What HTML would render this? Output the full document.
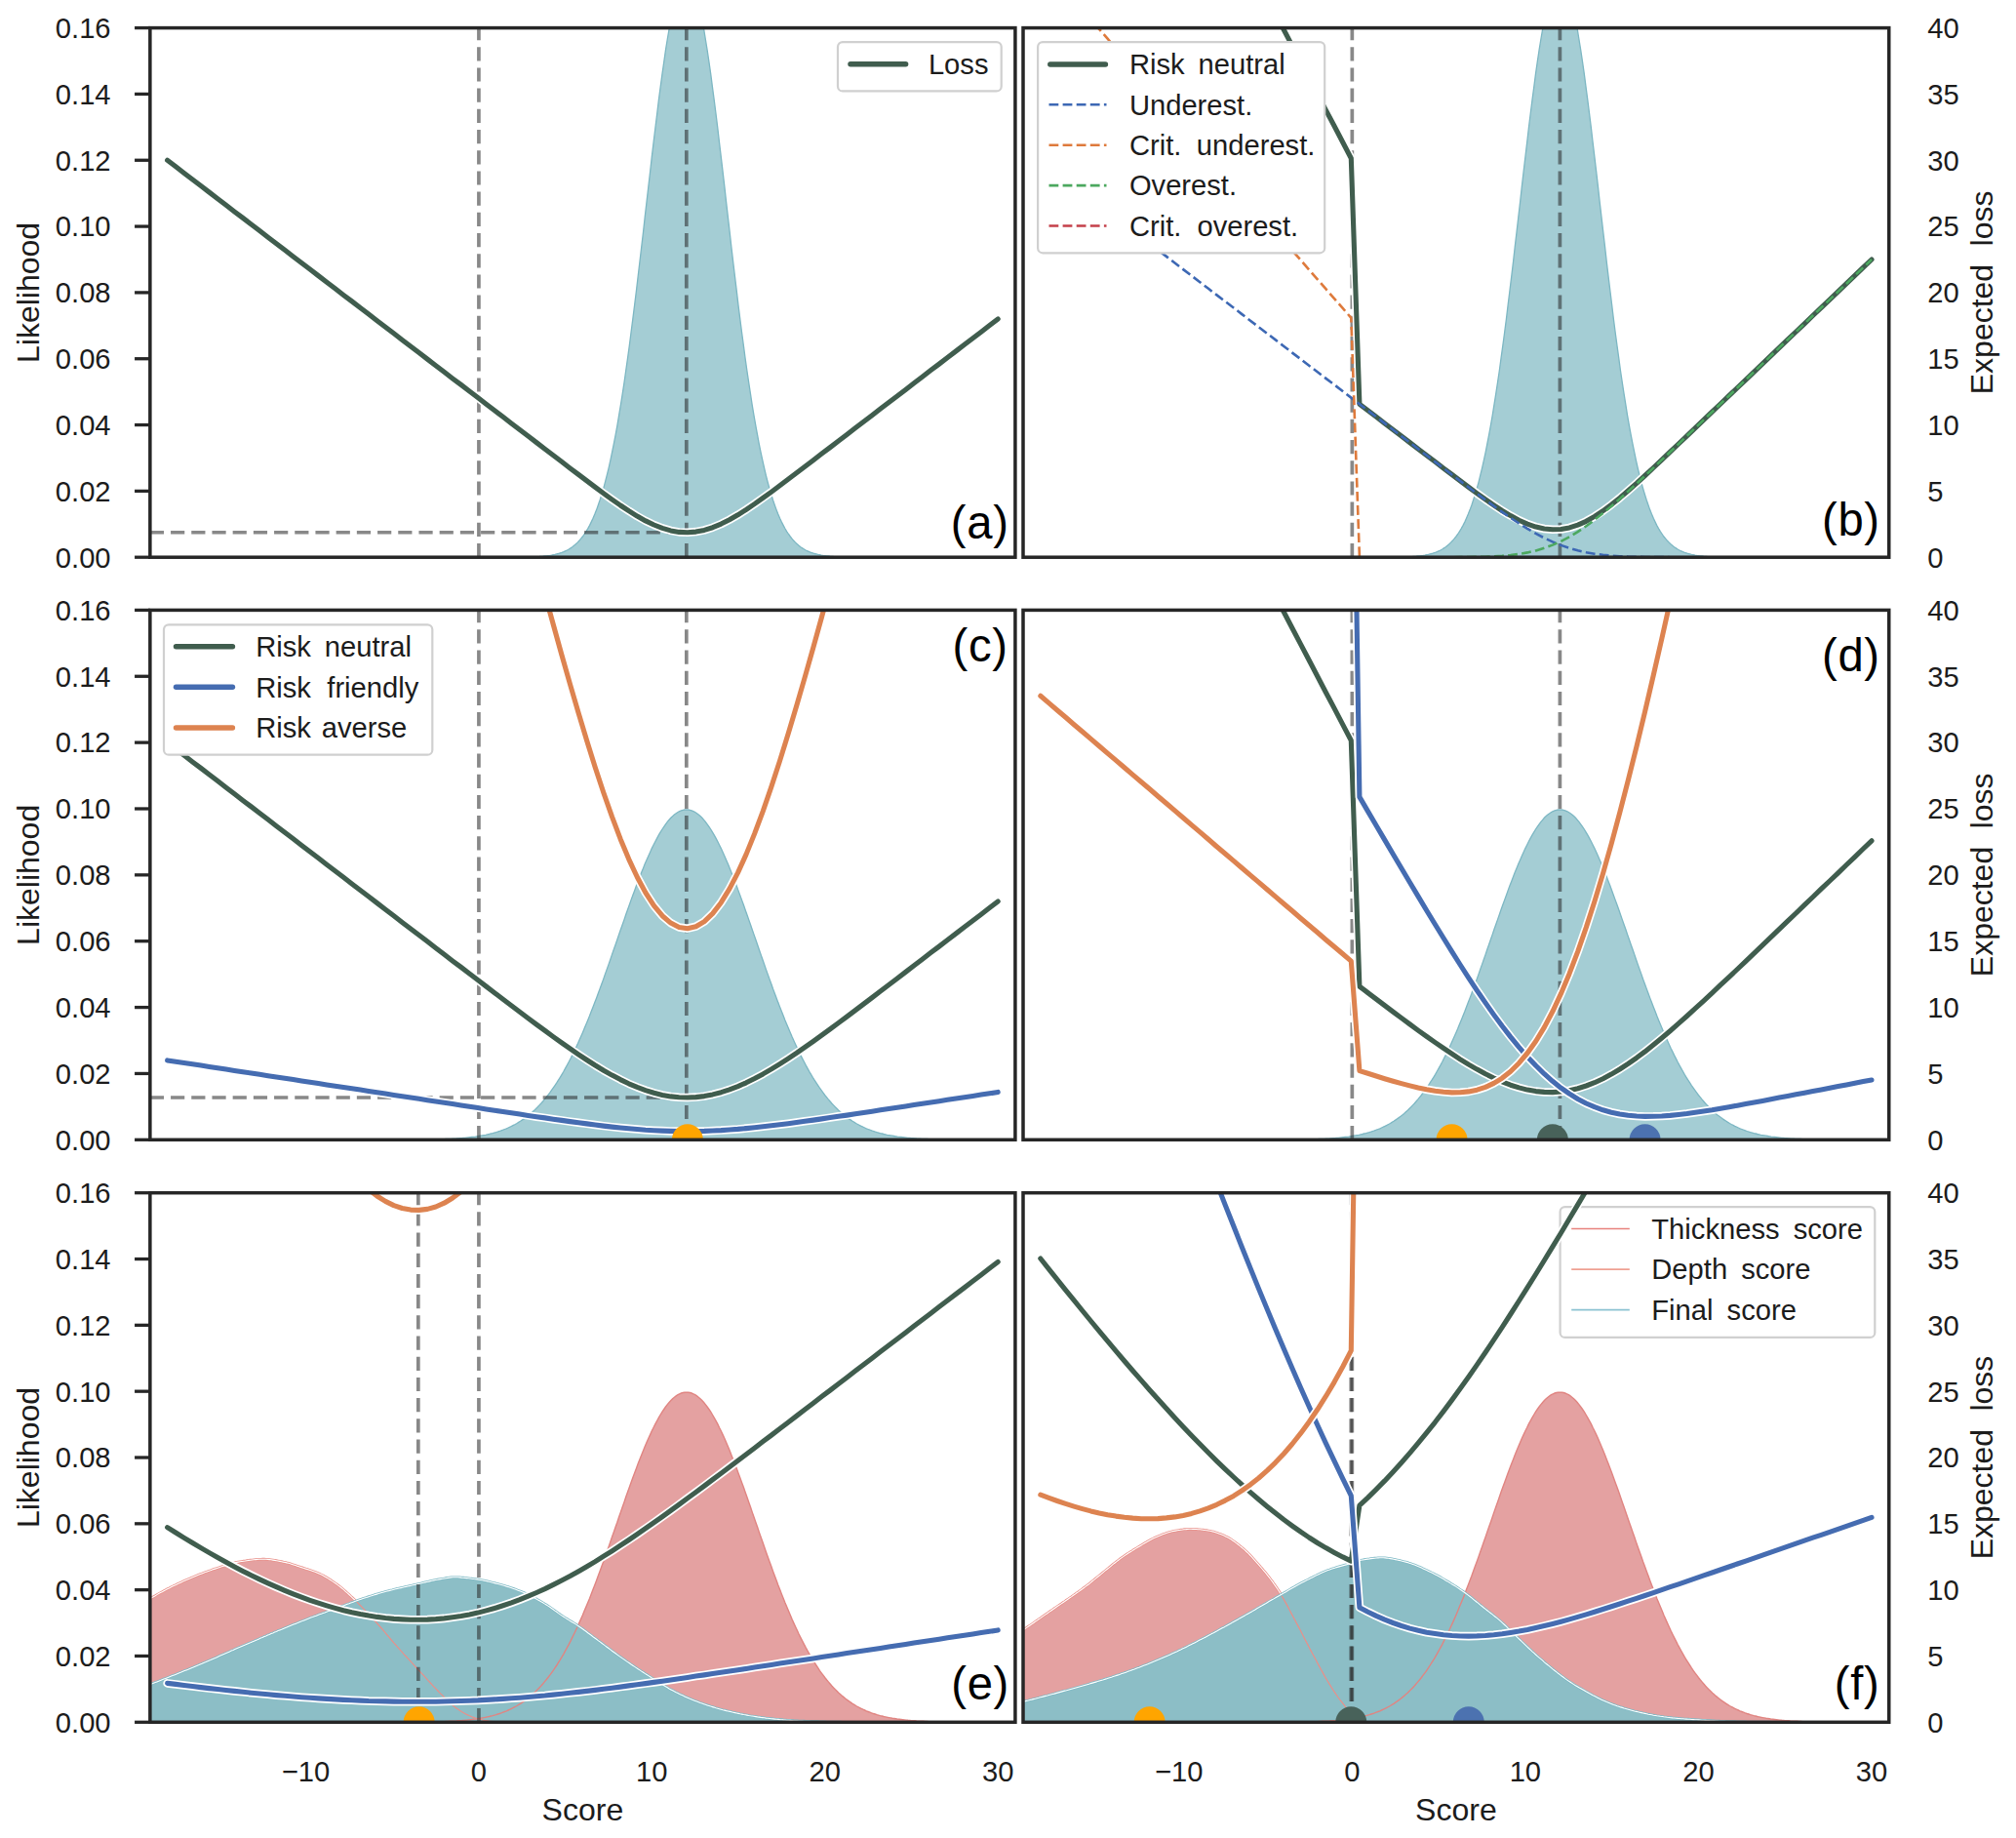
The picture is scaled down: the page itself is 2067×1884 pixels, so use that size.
<!DOCTYPE html>
<html lang="en"><head><meta charset="utf-8"><title>Expected loss figure</title><style>html,body{margin:0;padding:0;background:#fff}svg{display:block}</style></head><body>
<svg width="2067" height="1884" viewBox="0 0 2067 1884" font-family="'Liberation Sans', sans-serif" fill="#1c1c1c">
<rect width="2067" height="1884" fill="#fff"/>
<defs>
<clipPath id="cp00"><rect x="153.85" y="28.60" width="887.05" height="542.60"/></clipPath>
<clipPath id="cp01"><rect x="1049.00" y="28.60" width="887.75" height="542.60"/></clipPath>
<clipPath id="cp10"><rect x="153.85" y="625.40" width="887.05" height="542.90"/></clipPath>
<clipPath id="cp11"><rect x="1049.00" y="625.40" width="887.75" height="542.90"/></clipPath>
<clipPath id="cp20"><rect x="153.85" y="1222.70" width="887.05" height="542.60"/></clipPath>
<clipPath id="cp21"><rect x="1049.00" y="1222.70" width="887.75" height="542.60"/></clipPath>
</defs>
<path d="M153.8,571.2 L153.8,571.2 L155.6,571.2 L157.4,571.2 L159.2,571.2 L160.9,571.2 L162.7,571.2 L164.5,571.2 L166.3,571.2 L168.0,571.2 L169.8,571.2 L171.6,571.2 L173.4,571.2 L175.1,571.2 L176.9,571.2 L178.7,571.2 L180.5,571.2 L182.2,571.2 L184.0,571.2 L185.8,571.2 L187.6,571.2 L189.3,571.2 L191.1,571.2 L192.9,571.2 L194.7,571.2 L196.4,571.2 L198.2,571.2 L200.0,571.2 L201.8,571.2 L203.5,571.2 L205.3,571.2 L207.1,571.2 L208.8,571.2 L210.6,571.2 L212.4,571.2 L214.2,571.2 L215.9,571.2 L217.7,571.2 L219.5,571.2 L221.3,571.2 L223.0,571.2 L224.8,571.2 L226.6,571.2 L228.4,571.2 L230.1,571.2 L231.9,571.2 L233.7,571.2 L235.5,571.2 L237.2,571.2 L239.0,571.2 L240.8,571.2 L242.6,571.2 L244.3,571.2 L246.1,571.2 L247.9,571.2 L249.7,571.2 L251.4,571.2 L253.2,571.2 L255.0,571.2 L256.7,571.2 L258.5,571.2 L260.3,571.2 L262.1,571.2 L263.8,571.2 L265.6,571.2 L267.4,571.2 L269.2,571.2 L270.9,571.2 L272.7,571.2 L274.5,571.2 L276.3,571.2 L278.0,571.2 L279.8,571.2 L281.6,571.2 L283.4,571.2 L285.1,571.2 L286.9,571.2 L288.7,571.2 L290.5,571.2 L292.2,571.2 L294.0,571.2 L295.8,571.2 L297.6,571.2 L299.3,571.2 L301.1,571.2 L302.9,571.2 L304.6,571.2 L306.4,571.2 L308.2,571.2 L310.0,571.2 L311.7,571.2 L313.5,571.2 L315.3,571.2 L317.1,571.2 L318.8,571.2 L320.6,571.2 L322.4,571.2 L324.2,571.2 L325.9,571.2 L327.7,571.2 L329.5,571.2 L331.3,571.2 L333.0,571.2 L334.8,571.2 L336.6,571.2 L338.4,571.2 L340.1,571.2 L341.9,571.2 L343.7,571.2 L345.5,571.2 L347.2,571.2 L349.0,571.2 L350.8,571.2 L352.5,571.2 L354.3,571.2 L356.1,571.2 L357.9,571.2 L359.6,571.2 L361.4,571.2 L363.2,571.2 L365.0,571.2 L366.7,571.2 L368.5,571.2 L370.3,571.2 L372.1,571.2 L373.8,571.2 L375.6,571.2 L377.4,571.2 L379.2,571.2 L380.9,571.2 L382.7,571.2 L384.5,571.2 L386.3,571.2 L388.0,571.2 L389.8,571.2 L391.6,571.2 L393.4,571.2 L395.1,571.2 L396.9,571.2 L398.7,571.2 L400.4,571.2 L402.2,571.2 L404.0,571.2 L405.8,571.2 L407.5,571.2 L409.3,571.2 L411.1,571.2 L412.9,571.2 L414.6,571.2 L416.4,571.2 L418.2,571.2 L420.0,571.2 L421.7,571.2 L423.5,571.2 L425.3,571.2 L427.1,571.2 L428.8,571.2 L430.6,571.2 L432.4,571.2 L434.2,571.2 L435.9,571.2 L437.7,571.2 L439.5,571.2 L441.3,571.2 L443.0,571.2 L444.8,571.2 L446.6,571.2 L448.4,571.2 L450.1,571.2 L451.9,571.2 L453.7,571.2 L455.4,571.2 L457.2,571.2 L459.0,571.2 L460.8,571.2 L462.5,571.2 L464.3,571.2 L466.1,571.2 L467.9,571.2 L469.6,571.2 L471.4,571.2 L473.2,571.2 L475.0,571.2 L476.7,571.2 L478.5,571.2 L480.3,571.2 L482.1,571.2 L483.8,571.2 L485.6,571.2 L487.4,571.2 L489.2,571.2 L490.9,571.2 L492.7,571.2 L494.5,571.2 L496.3,571.2 L498.0,571.2 L499.8,571.2 L501.6,571.2 L503.3,571.2 L505.1,571.2 L506.9,571.2 L508.7,571.2 L510.4,571.2 L512.2,571.2 L514.0,571.2 L515.8,571.2 L517.5,571.2 L519.3,571.2 L521.1,571.2 L522.9,571.2 L524.6,571.2 L526.4,571.1 L528.2,571.1 L530.0,571.1 L531.7,571.1 L533.5,571.1 L535.3,571.1 L537.1,571.0 L538.8,571.0 L540.6,571.0 L542.4,570.9 L544.2,570.9 L545.9,570.8 L547.7,570.7 L549.5,570.7 L551.2,570.6 L553.0,570.5 L554.8,570.3 L556.6,570.2 L558.3,570.0 L560.1,569.8 L561.9,569.6 L563.7,569.4 L565.4,569.1 L567.2,568.7 L569.0,568.4 L570.8,567.9 L572.5,567.5 L574.3,566.9 L576.1,566.3 L577.9,565.6 L579.6,564.8 L581.4,564.0 L583.2,563.0 L585.0,561.9 L586.7,560.7 L588.5,559.3 L590.3,557.8 L592.1,556.1 L593.8,554.3 L595.6,552.2 L597.4,550.0 L599.1,547.5 L600.9,544.8 L602.7,541.8 L604.5,538.6 L606.2,535.1 L608.0,531.3 L609.8,527.1 L611.6,522.6 L613.3,517.7 L615.1,512.5 L616.9,506.8 L618.7,500.8 L620.4,494.3 L622.2,487.4 L624.0,480.1 L625.8,472.2 L627.5,463.9 L629.3,455.1 L631.1,445.9 L632.9,436.1 L634.6,425.9 L636.4,415.1 L638.2,403.9 L640.0,392.2 L641.7,380.0 L643.5,367.4 L645.3,354.4 L647.0,341.0 L648.8,327.1 L650.6,312.9 L652.4,298.4 L654.1,283.7 L655.9,268.6 L657.7,253.4 L659.5,238.1 L661.2,222.6 L663.0,207.1 L664.8,191.6 L666.6,176.2 L668.3,160.9 L670.1,145.8 L671.9,131.0 L673.7,116.5 L675.4,102.4 L677.2,88.8 L679.0,75.6 L680.8,63.1 L682.5,51.2 L684.3,40.0 L686.1,29.6 L687.9,20.0 L689.6,11.2 L691.4,3.4 L693.2,-3.5 L695.0,-9.4 L696.7,-14.2 L698.5,-18.0 L700.3,-20.8 L702.0,-22.4 L703.8,-22.9 L705.6,-22.4 L707.4,-20.8 L709.1,-18.0 L710.9,-14.2 L712.7,-9.4 L714.5,-3.5 L716.2,3.4 L718.0,11.2 L719.8,20.0 L721.6,29.6 L723.3,40.0 L725.1,51.2 L726.9,63.1 L728.7,75.6 L730.4,88.8 L732.2,102.4 L734.0,116.5 L735.8,131.0 L737.5,145.8 L739.3,160.9 L741.1,176.2 L742.9,191.6 L744.6,207.1 L746.4,222.6 L748.2,238.1 L749.9,253.4 L751.7,268.6 L753.5,283.7 L755.3,298.4 L757.0,312.9 L758.8,327.1 L760.6,341.0 L762.4,354.4 L764.1,367.4 L765.9,380.0 L767.7,392.2 L769.5,403.9 L771.2,415.1 L773.0,425.9 L774.8,436.1 L776.6,445.9 L778.3,455.1 L780.1,463.9 L781.9,472.2 L783.7,480.1 L785.4,487.4 L787.2,494.3 L789.0,500.8 L790.8,506.8 L792.5,512.5 L794.3,517.7 L796.1,522.6 L797.8,527.1 L799.6,531.3 L801.4,535.1 L803.2,538.6 L804.9,541.8 L806.7,544.8 L808.5,547.5 L810.3,550.0 L812.0,552.2 L813.8,554.3 L815.6,556.1 L817.4,557.8 L819.1,559.3 L820.9,560.7 L822.7,561.9 L824.5,563.0 L826.2,564.0 L828.0,564.8 L829.8,565.6 L831.6,566.3 L833.3,566.9 L835.1,567.5 L836.9,567.9 L838.7,568.4 L840.4,568.7 L842.2,569.1 L844.0,569.4 L845.7,569.6 L847.5,569.8 L849.3,570.0 L851.1,570.2 L852.8,570.3 L854.6,570.5 L856.4,570.6 L858.2,570.7 L859.9,570.7 L861.7,570.8 L863.5,570.9 L865.3,570.9 L867.0,571.0 L868.8,571.0 L870.6,571.0 L872.4,571.1 L874.1,571.1 L875.9,571.1 L877.7,571.1 L879.5,571.1 L881.2,571.1 L883.0,571.2 L884.8,571.2 L886.6,571.2 L888.3,571.2 L890.1,571.2 L891.9,571.2 L893.6,571.2 L895.4,571.2 L897.2,571.2 L899.0,571.2 L900.7,571.2 L902.5,571.2 L904.3,571.2 L906.1,571.2 L907.8,571.2 L909.6,571.2 L911.4,571.2 L913.2,571.2 L914.9,571.2 L916.7,571.2 L918.5,571.2 L920.3,571.2 L922.0,571.2 L923.8,571.2 L925.6,571.2 L927.4,571.2 L929.1,571.2 L930.9,571.2 L932.7,571.2 L934.5,571.2 L936.2,571.2 L938.0,571.2 L939.8,571.2 L941.6,571.2 L943.3,571.2 L945.1,571.2 L946.9,571.2 L948.6,571.2 L950.4,571.2 L952.2,571.2 L954.0,571.2 L955.7,571.2 L957.5,571.2 L959.3,571.2 L961.1,571.2 L962.8,571.2 L964.6,571.2 L966.4,571.2 L968.2,571.2 L969.9,571.2 L971.7,571.2 L973.5,571.2 L975.3,571.2 L977.0,571.2 L978.8,571.2 L980.6,571.2 L982.4,571.2 L984.1,571.2 L985.9,571.2 L987.7,571.2 L989.5,571.2 L991.2,571.2 L993.0,571.2 L994.8,571.2 L996.5,571.2 L998.3,571.2 L1000.1,571.2 L1001.9,571.2 L1003.6,571.2 L1005.4,571.2 L1007.2,571.2 L1009.0,571.2 L1010.7,571.2 L1012.5,571.2 L1014.3,571.2 L1016.1,571.2 L1017.8,571.2 L1019.6,571.2 L1021.4,571.2 L1023.2,571.2 L1024.9,571.2 L1026.7,571.2 L1028.5,571.2 L1030.3,571.2 L1032.0,571.2 L1033.8,571.2 L1035.6,571.2 L1037.4,571.2 L1039.1,571.2 L1040.9,571.2 L1040.9,571.2Z" fill="#a4cdd4" fill-opacity="1.00" stroke="none" clip-path="url(#cp00)"/>
<path d="M153.8,571.2 L155.6,571.2 L157.4,571.2 L159.2,571.2 L160.9,571.2 L162.7,571.2 L164.5,571.2 L166.3,571.2 L168.0,571.2 L169.8,571.2 L171.6,571.2 L173.4,571.2 L175.1,571.2 L176.9,571.2 L178.7,571.2 L180.5,571.2 L182.2,571.2 L184.0,571.2 L185.8,571.2 L187.6,571.2 L189.3,571.2 L191.1,571.2 L192.9,571.2 L194.7,571.2 L196.4,571.2 L198.2,571.2 L200.0,571.2 L201.8,571.2 L203.5,571.2 L205.3,571.2 L207.1,571.2 L208.8,571.2 L210.6,571.2 L212.4,571.2 L214.2,571.2 L215.9,571.2 L217.7,571.2 L219.5,571.2 L221.3,571.2 L223.0,571.2 L224.8,571.2 L226.6,571.2 L228.4,571.2 L230.1,571.2 L231.9,571.2 L233.7,571.2 L235.5,571.2 L237.2,571.2 L239.0,571.2 L240.8,571.2 L242.6,571.2 L244.3,571.2 L246.1,571.2 L247.9,571.2 L249.7,571.2 L251.4,571.2 L253.2,571.2 L255.0,571.2 L256.7,571.2 L258.5,571.2 L260.3,571.2 L262.1,571.2 L263.8,571.2 L265.6,571.2 L267.4,571.2 L269.2,571.2 L270.9,571.2 L272.7,571.2 L274.5,571.2 L276.3,571.2 L278.0,571.2 L279.8,571.2 L281.6,571.2 L283.4,571.2 L285.1,571.2 L286.9,571.2 L288.7,571.2 L290.5,571.2 L292.2,571.2 L294.0,571.2 L295.8,571.2 L297.6,571.2 L299.3,571.2 L301.1,571.2 L302.9,571.2 L304.6,571.2 L306.4,571.2 L308.2,571.2 L310.0,571.2 L311.7,571.2 L313.5,571.2 L315.3,571.2 L317.1,571.2 L318.8,571.2 L320.6,571.2 L322.4,571.2 L324.2,571.2 L325.9,571.2 L327.7,571.2 L329.5,571.2 L331.3,571.2 L333.0,571.2 L334.8,571.2 L336.6,571.2 L338.4,571.2 L340.1,571.2 L341.9,571.2 L343.7,571.2 L345.5,571.2 L347.2,571.2 L349.0,571.2 L350.8,571.2 L352.5,571.2 L354.3,571.2 L356.1,571.2 L357.9,571.2 L359.6,571.2 L361.4,571.2 L363.2,571.2 L365.0,571.2 L366.7,571.2 L368.5,571.2 L370.3,571.2 L372.1,571.2 L373.8,571.2 L375.6,571.2 L377.4,571.2 L379.2,571.2 L380.9,571.2 L382.7,571.2 L384.5,571.2 L386.3,571.2 L388.0,571.2 L389.8,571.2 L391.6,571.2 L393.4,571.2 L395.1,571.2 L396.9,571.2 L398.7,571.2 L400.4,571.2 L402.2,571.2 L404.0,571.2 L405.8,571.2 L407.5,571.2 L409.3,571.2 L411.1,571.2 L412.9,571.2 L414.6,571.2 L416.4,571.2 L418.2,571.2 L420.0,571.2 L421.7,571.2 L423.5,571.2 L425.3,571.2 L427.1,571.2 L428.8,571.2 L430.6,571.2 L432.4,571.2 L434.2,571.2 L435.9,571.2 L437.7,571.2 L439.5,571.2 L441.3,571.2 L443.0,571.2 L444.8,571.2 L446.6,571.2 L448.4,571.2 L450.1,571.2 L451.9,571.2 L453.7,571.2 L455.4,571.2 L457.2,571.2 L459.0,571.2 L460.8,571.2 L462.5,571.2 L464.3,571.2 L466.1,571.2 L467.9,571.2 L469.6,571.2 L471.4,571.2 L473.2,571.2 L475.0,571.2 L476.7,571.2 L478.5,571.2 L480.3,571.2 L482.1,571.2 L483.8,571.2 L485.6,571.2 L487.4,571.2 L489.2,571.2 L490.9,571.2 L492.7,571.2 L494.5,571.2 L496.3,571.2 L498.0,571.2 L499.8,571.2 L501.6,571.2 L503.3,571.2 L505.1,571.2 L506.9,571.2 L508.7,571.2 L510.4,571.2 L512.2,571.2 L514.0,571.2 L515.8,571.2 L517.5,571.2 L519.3,571.2 L521.1,571.2 L522.9,571.2 L524.6,571.2 L526.4,571.1 L528.2,571.1 L530.0,571.1 L531.7,571.1 L533.5,571.1 L535.3,571.1 L537.1,571.0 L538.8,571.0 L540.6,571.0 L542.4,570.9 L544.2,570.9 L545.9,570.8 L547.7,570.7 L549.5,570.7 L551.2,570.6 L553.0,570.5 L554.8,570.3 L556.6,570.2 L558.3,570.0 L560.1,569.8 L561.9,569.6 L563.7,569.4 L565.4,569.1 L567.2,568.7 L569.0,568.4 L570.8,567.9 L572.5,567.5 L574.3,566.9 L576.1,566.3 L577.9,565.6 L579.6,564.8 L581.4,564.0 L583.2,563.0 L585.0,561.9 L586.7,560.7 L588.5,559.3 L590.3,557.8 L592.1,556.1 L593.8,554.3 L595.6,552.2 L597.4,550.0 L599.1,547.5 L600.9,544.8 L602.7,541.8 L604.5,538.6 L606.2,535.1 L608.0,531.3 L609.8,527.1 L611.6,522.6 L613.3,517.7 L615.1,512.5 L616.9,506.8 L618.7,500.8 L620.4,494.3 L622.2,487.4 L624.0,480.1 L625.8,472.2 L627.5,463.9 L629.3,455.1 L631.1,445.9 L632.9,436.1 L634.6,425.9 L636.4,415.1 L638.2,403.9 L640.0,392.2 L641.7,380.0 L643.5,367.4 L645.3,354.4 L647.0,341.0 L648.8,327.1 L650.6,312.9 L652.4,298.4 L654.1,283.7 L655.9,268.6 L657.7,253.4 L659.5,238.1 L661.2,222.6 L663.0,207.1 L664.8,191.6 L666.6,176.2 L668.3,160.9 L670.1,145.8 L671.9,131.0 L673.7,116.5 L675.4,102.4 L677.2,88.8 L679.0,75.6 L680.8,63.1 L682.5,51.2 L684.3,40.0 L686.1,29.6 L687.9,20.0 L689.6,11.2 L691.4,3.4 L693.2,-3.5 L695.0,-9.4 L696.7,-14.2 L698.5,-18.0 L700.3,-20.8 L702.0,-22.4 L703.8,-22.9 L705.6,-22.4 L707.4,-20.8 L709.1,-18.0 L710.9,-14.2 L712.7,-9.4 L714.5,-3.5 L716.2,3.4 L718.0,11.2 L719.8,20.0 L721.6,29.6 L723.3,40.0 L725.1,51.2 L726.9,63.1 L728.7,75.6 L730.4,88.8 L732.2,102.4 L734.0,116.5 L735.8,131.0 L737.5,145.8 L739.3,160.9 L741.1,176.2 L742.9,191.6 L744.6,207.1 L746.4,222.6 L748.2,238.1 L749.9,253.4 L751.7,268.6 L753.5,283.7 L755.3,298.4 L757.0,312.9 L758.8,327.1 L760.6,341.0 L762.4,354.4 L764.1,367.4 L765.9,380.0 L767.7,392.2 L769.5,403.9 L771.2,415.1 L773.0,425.9 L774.8,436.1 L776.6,445.9 L778.3,455.1 L780.1,463.9 L781.9,472.2 L783.7,480.1 L785.4,487.4 L787.2,494.3 L789.0,500.8 L790.8,506.8 L792.5,512.5 L794.3,517.7 L796.1,522.6 L797.8,527.1 L799.6,531.3 L801.4,535.1 L803.2,538.6 L804.9,541.8 L806.7,544.8 L808.5,547.5 L810.3,550.0 L812.0,552.2 L813.8,554.3 L815.6,556.1 L817.4,557.8 L819.1,559.3 L820.9,560.7 L822.7,561.9 L824.5,563.0 L826.2,564.0 L828.0,564.8 L829.8,565.6 L831.6,566.3 L833.3,566.9 L835.1,567.5 L836.9,567.9 L838.7,568.4 L840.4,568.7 L842.2,569.1 L844.0,569.4 L845.7,569.6 L847.5,569.8 L849.3,570.0 L851.1,570.2 L852.8,570.3 L854.6,570.5 L856.4,570.6 L858.2,570.7 L859.9,570.7 L861.7,570.8 L863.5,570.9 L865.3,570.9 L867.0,571.0 L868.8,571.0 L870.6,571.0 L872.4,571.1 L874.1,571.1 L875.9,571.1 L877.7,571.1 L879.5,571.1 L881.2,571.1 L883.0,571.2 L884.8,571.2 L886.6,571.2 L888.3,571.2 L890.1,571.2 L891.9,571.2 L893.6,571.2 L895.4,571.2 L897.2,571.2 L899.0,571.2 L900.7,571.2 L902.5,571.2 L904.3,571.2 L906.1,571.2 L907.8,571.2 L909.6,571.2 L911.4,571.2 L913.2,571.2 L914.9,571.2 L916.7,571.2 L918.5,571.2 L920.3,571.2 L922.0,571.2 L923.8,571.2 L925.6,571.2 L927.4,571.2 L929.1,571.2 L930.9,571.2 L932.7,571.2 L934.5,571.2 L936.2,571.2 L938.0,571.2 L939.8,571.2 L941.6,571.2 L943.3,571.2 L945.1,571.2 L946.9,571.2 L948.6,571.2 L950.4,571.2 L952.2,571.2 L954.0,571.2 L955.7,571.2 L957.5,571.2 L959.3,571.2 L961.1,571.2 L962.8,571.2 L964.6,571.2 L966.4,571.2 L968.2,571.2 L969.9,571.2 L971.7,571.2 L973.5,571.2 L975.3,571.2 L977.0,571.2 L978.8,571.2 L980.6,571.2 L982.4,571.2 L984.1,571.2 L985.9,571.2 L987.7,571.2 L989.5,571.2 L991.2,571.2 L993.0,571.2 L994.8,571.2 L996.5,571.2 L998.3,571.2 L1000.1,571.2 L1001.9,571.2 L1003.6,571.2 L1005.4,571.2 L1007.2,571.2 L1009.0,571.2 L1010.7,571.2 L1012.5,571.2 L1014.3,571.2 L1016.1,571.2 L1017.8,571.2 L1019.6,571.2 L1021.4,571.2 L1023.2,571.2 L1024.9,571.2 L1026.7,571.2 L1028.5,571.2 L1030.3,571.2 L1032.0,571.2 L1033.8,571.2 L1035.6,571.2 L1037.4,571.2 L1039.1,571.2 L1040.9,571.2" fill="none" stroke="#7db7c3" stroke-width="1.30" clip-path="url(#cp00)"/>
<line x1="490.93" y1="571.20" x2="490.93" y2="28.60" stroke="#262626" stroke-opacity="0.55" stroke-width="3.7" stroke-dasharray="14.2 7" clip-path="url(#cp00)"/>
<line x1="703.82" y1="571.20" x2="703.82" y2="28.60" stroke="#262626" stroke-opacity="0.55" stroke-width="3.7" stroke-dasharray="14.2 7" clip-path="url(#cp00)"/>
<line x1="153.85" y1="545.76" x2="703.82" y2="545.76" stroke="#262626" stroke-opacity="0.55" stroke-width="3.7" stroke-dasharray="14.2 7" clip-path="url(#cp00)"/>
<g clip-path="url(#cp00)" fill="none" stroke-linecap="round" stroke-linejoin="round"><path d="M171.6,164.3 L180.2,170.8 L188.8,177.4 L197.4,184.0 L206.0,190.6 L214.6,197.1 L223.2,203.7 L231.8,210.3 L240.4,216.9 L249.0,223.4 L257.6,230.0 L266.2,236.6 L274.8,243.2 L283.4,249.8 L292.0,256.3 L300.6,262.9 L309.2,269.5 L317.8,276.1 L326.4,282.6 L335.0,289.2 L343.6,295.8 L352.2,302.4 L360.8,308.9 L369.4,315.5 L378.0,322.1 L386.6,328.7 L395.2,335.3 L403.8,341.8 L412.4,348.4 L421.0,355.0 L429.6,361.6 L438.2,368.1 L446.8,374.7 L455.4,381.3 L464.0,387.9 L472.7,394.4 L481.3,401.0 L489.9,407.6 L498.5,414.2 L507.1,420.8 L515.7,427.3 L524.3,433.9 L532.9,440.5 L541.5,447.1 L550.1,453.6 L558.7,460.2 L567.3,466.8 L575.9,473.3 L584.5,479.9 L593.1,486.4 L601.7,492.9 L610.3,499.4 L618.9,505.8 L627.5,512.0 L636.1,518.0 L644.7,523.7 L653.3,529.1 L661.9,533.9 L670.5,538.0 L679.1,541.4 L687.7,543.9 L696.3,545.4 L704.9,545.8 L713.5,545.1 L722.1,543.4 L730.7,540.7 L739.3,537.1 L747.9,532.7 L756.5,527.8 L765.1,522.3 L773.7,516.5 L782.3,510.4 L790.9,504.2 L799.5,497.8 L808.1,491.3 L816.7,484.8 L825.3,478.3 L833.9,471.7 L842.5,465.1 L851.1,458.6 L859.7,452.0 L868.3,445.4 L876.9,438.8 L885.5,432.3 L894.1,425.7 L902.7,419.1 L911.3,412.5 L919.9,406.0 L928.5,399.4 L937.1,392.8 L945.7,386.2 L954.3,379.6 L962.9,373.1 L971.5,366.5 L980.2,359.9 L988.8,353.3 L997.4,346.8 L1006.0,340.2 L1014.6,333.6 L1023.2,327.0" stroke="#fff" stroke-width="8.5"/><path d="M171.6,164.3 L180.2,170.8 L188.8,177.4 L197.4,184.0 L206.0,190.6 L214.6,197.1 L223.2,203.7 L231.8,210.3 L240.4,216.9 L249.0,223.4 L257.6,230.0 L266.2,236.6 L274.8,243.2 L283.4,249.8 L292.0,256.3 L300.6,262.9 L309.2,269.5 L317.8,276.1 L326.4,282.6 L335.0,289.2 L343.6,295.8 L352.2,302.4 L360.8,308.9 L369.4,315.5 L378.0,322.1 L386.6,328.7 L395.2,335.3 L403.8,341.8 L412.4,348.4 L421.0,355.0 L429.6,361.6 L438.2,368.1 L446.8,374.7 L455.4,381.3 L464.0,387.9 L472.7,394.4 L481.3,401.0 L489.9,407.6 L498.5,414.2 L507.1,420.8 L515.7,427.3 L524.3,433.9 L532.9,440.5 L541.5,447.1 L550.1,453.6 L558.7,460.2 L567.3,466.8 L575.9,473.3 L584.5,479.9 L593.1,486.4 L601.7,492.9 L610.3,499.4 L618.9,505.8 L627.5,512.0 L636.1,518.0 L644.7,523.7 L653.3,529.1 L661.9,533.9 L670.5,538.0 L679.1,541.4 L687.7,543.9 L696.3,545.4 L704.9,545.8 L713.5,545.1 L722.1,543.4 L730.7,540.7 L739.3,537.1 L747.9,532.7 L756.5,527.8 L765.1,522.3 L773.7,516.5 L782.3,510.4 L790.9,504.2 L799.5,497.8 L808.1,491.3 L816.7,484.8 L825.3,478.3 L833.9,471.7 L842.5,465.1 L851.1,458.6 L859.7,452.0 L868.3,445.4 L876.9,438.8 L885.5,432.3 L894.1,425.7 L902.7,419.1 L911.3,412.5 L919.9,406.0 L928.5,399.4 L937.1,392.8 L945.7,386.2 L954.3,379.6 L962.9,373.1 L971.5,366.5 L980.2,359.9 L988.8,353.3 L997.4,346.8 L1006.0,340.2 L1014.6,333.6 L1023.2,327.0" stroke="#405d4e" stroke-width="5.1"/></g>
<rect x="153.85" y="28.60" width="887.05" height="542.60" fill="none" stroke="#262626" stroke-width="3.5"/>
<path d="M1049.0,571.2 L1049.0,571.2 L1050.8,571.2 L1052.6,571.2 L1054.3,571.2 L1056.1,571.2 L1057.9,571.2 L1059.7,571.2 L1061.4,571.2 L1063.2,571.2 L1065.0,571.2 L1066.8,571.2 L1068.5,571.2 L1070.3,571.2 L1072.1,571.2 L1073.9,571.2 L1075.6,571.2 L1077.4,571.2 L1079.2,571.2 L1081.0,571.2 L1082.7,571.2 L1084.5,571.2 L1086.3,571.2 L1088.1,571.2 L1089.8,571.2 L1091.6,571.2 L1093.4,571.2 L1095.2,571.2 L1096.9,571.2 L1098.7,571.2 L1100.5,571.2 L1102.3,571.2 L1104.0,571.2 L1105.8,571.2 L1107.6,571.2 L1109.4,571.2 L1111.1,571.2 L1112.9,571.2 L1114.7,571.2 L1116.5,571.2 L1118.2,571.2 L1120.0,571.2 L1121.8,571.2 L1123.6,571.2 L1125.3,571.2 L1127.1,571.2 L1128.9,571.2 L1130.7,571.2 L1132.4,571.2 L1134.2,571.2 L1136.0,571.2 L1137.8,571.2 L1139.6,571.2 L1141.3,571.2 L1143.1,571.2 L1144.9,571.2 L1146.7,571.2 L1148.4,571.2 L1150.2,571.2 L1152.0,571.2 L1153.8,571.2 L1155.5,571.2 L1157.3,571.2 L1159.1,571.2 L1160.9,571.2 L1162.6,571.2 L1164.4,571.2 L1166.2,571.2 L1168.0,571.2 L1169.7,571.2 L1171.5,571.2 L1173.3,571.2 L1175.1,571.2 L1176.8,571.2 L1178.6,571.2 L1180.4,571.2 L1182.2,571.2 L1183.9,571.2 L1185.7,571.2 L1187.5,571.2 L1189.3,571.2 L1191.0,571.2 L1192.8,571.2 L1194.6,571.2 L1196.4,571.2 L1198.1,571.2 L1199.9,571.2 L1201.7,571.2 L1203.5,571.2 L1205.2,571.2 L1207.0,571.2 L1208.8,571.2 L1210.6,571.2 L1212.3,571.2 L1214.1,571.2 L1215.9,571.2 L1217.7,571.2 L1219.4,571.2 L1221.2,571.2 L1223.0,571.2 L1224.8,571.2 L1226.6,571.2 L1228.3,571.2 L1230.1,571.2 L1231.9,571.2 L1233.7,571.2 L1235.4,571.2 L1237.2,571.2 L1239.0,571.2 L1240.8,571.2 L1242.5,571.2 L1244.3,571.2 L1246.1,571.2 L1247.9,571.2 L1249.6,571.2 L1251.4,571.2 L1253.2,571.2 L1255.0,571.2 L1256.7,571.2 L1258.5,571.2 L1260.3,571.2 L1262.1,571.2 L1263.8,571.2 L1265.6,571.2 L1267.4,571.2 L1269.2,571.2 L1270.9,571.2 L1272.7,571.2 L1274.5,571.2 L1276.3,571.2 L1278.0,571.2 L1279.8,571.2 L1281.6,571.2 L1283.4,571.2 L1285.1,571.2 L1286.9,571.2 L1288.7,571.2 L1290.5,571.2 L1292.2,571.2 L1294.0,571.2 L1295.8,571.2 L1297.6,571.2 L1299.3,571.2 L1301.1,571.2 L1302.9,571.2 L1304.7,571.2 L1306.4,571.2 L1308.2,571.2 L1310.0,571.2 L1311.8,571.2 L1313.5,571.2 L1315.3,571.2 L1317.1,571.2 L1318.9,571.2 L1320.7,571.2 L1322.4,571.2 L1324.2,571.2 L1326.0,571.2 L1327.8,571.2 L1329.5,571.2 L1331.3,571.2 L1333.1,571.2 L1334.9,571.2 L1336.6,571.2 L1338.4,571.2 L1340.2,571.2 L1342.0,571.2 L1343.7,571.2 L1345.5,571.2 L1347.3,571.2 L1349.1,571.2 L1350.8,571.2 L1352.6,571.2 L1354.4,571.2 L1356.2,571.2 L1357.9,571.2 L1359.7,571.2 L1361.5,571.2 L1363.3,571.2 L1365.0,571.2 L1366.8,571.2 L1368.6,571.2 L1370.4,571.2 L1372.1,571.2 L1373.9,571.2 L1375.7,571.2 L1377.5,571.2 L1379.2,571.2 L1381.0,571.2 L1382.8,571.2 L1384.6,571.2 L1386.3,571.2 L1388.1,571.2 L1389.9,571.2 L1391.7,571.2 L1393.4,571.2 L1395.2,571.2 L1397.0,571.2 L1398.8,571.2 L1400.5,571.2 L1402.3,571.2 L1404.1,571.2 L1405.9,571.2 L1407.7,571.2 L1409.4,571.2 L1411.2,571.2 L1413.0,571.2 L1414.8,571.2 L1416.5,571.2 L1418.3,571.2 L1420.1,571.2 L1421.9,571.1 L1423.6,571.1 L1425.4,571.1 L1427.2,571.1 L1429.0,571.1 L1430.7,571.1 L1432.5,571.0 L1434.3,571.0 L1436.1,571.0 L1437.8,570.9 L1439.6,570.9 L1441.4,570.8 L1443.2,570.7 L1444.9,570.7 L1446.7,570.6 L1448.5,570.5 L1450.3,570.3 L1452.0,570.2 L1453.8,570.0 L1455.6,569.8 L1457.4,569.6 L1459.1,569.4 L1460.9,569.1 L1462.7,568.7 L1464.5,568.4 L1466.2,567.9 L1468.0,567.5 L1469.8,566.9 L1471.6,566.3 L1473.3,565.6 L1475.1,564.8 L1476.9,564.0 L1478.7,563.0 L1480.4,561.9 L1482.2,560.7 L1484.0,559.3 L1485.8,557.8 L1487.5,556.1 L1489.3,554.3 L1491.1,552.2 L1492.9,550.0 L1494.7,547.5 L1496.4,544.8 L1498.2,541.8 L1500.0,538.6 L1501.8,535.1 L1503.5,531.3 L1505.3,527.1 L1507.1,522.6 L1508.9,517.7 L1510.6,512.5 L1512.4,506.8 L1514.2,500.8 L1516.0,494.3 L1517.7,487.4 L1519.5,480.1 L1521.3,472.2 L1523.1,463.9 L1524.8,455.1 L1526.6,445.9 L1528.4,436.1 L1530.2,425.9 L1531.9,415.1 L1533.7,403.9 L1535.5,392.2 L1537.3,380.0 L1539.0,367.4 L1540.8,354.4 L1542.6,341.0 L1544.4,327.1 L1546.1,312.9 L1547.9,298.4 L1549.7,283.7 L1551.5,268.6 L1553.2,253.4 L1555.0,238.1 L1556.8,222.6 L1558.6,207.1 L1560.3,191.6 L1562.1,176.2 L1563.9,160.9 L1565.7,145.8 L1567.4,131.0 L1569.2,116.5 L1571.0,102.4 L1572.8,88.8 L1574.5,75.6 L1576.3,63.1 L1578.1,51.2 L1579.9,40.0 L1581.7,29.6 L1583.4,20.0 L1585.2,11.2 L1587.0,3.4 L1588.8,-3.5 L1590.5,-9.4 L1592.3,-14.2 L1594.1,-18.0 L1595.9,-20.8 L1597.6,-22.4 L1599.4,-22.9 L1601.2,-22.4 L1603.0,-20.8 L1604.7,-18.0 L1606.5,-14.2 L1608.3,-9.4 L1610.1,-3.5 L1611.8,3.4 L1613.6,11.2 L1615.4,20.0 L1617.2,29.6 L1618.9,40.0 L1620.7,51.2 L1622.5,63.1 L1624.3,75.6 L1626.0,88.8 L1627.8,102.4 L1629.6,116.5 L1631.4,131.0 L1633.1,145.8 L1634.9,160.9 L1636.7,176.2 L1638.5,191.6 L1640.2,207.1 L1642.0,222.6 L1643.8,238.1 L1645.6,253.4 L1647.3,268.6 L1649.1,283.7 L1650.9,298.4 L1652.7,312.9 L1654.4,327.1 L1656.2,341.0 L1658.0,354.4 L1659.8,367.4 L1661.5,380.0 L1663.3,392.2 L1665.1,403.9 L1666.9,415.1 L1668.6,425.9 L1670.4,436.1 L1672.2,445.9 L1674.0,455.1 L1675.8,463.9 L1677.5,472.2 L1679.3,480.1 L1681.1,487.4 L1682.9,494.3 L1684.6,500.8 L1686.4,506.8 L1688.2,512.5 L1690.0,517.7 L1691.7,522.6 L1693.5,527.1 L1695.3,531.3 L1697.1,535.1 L1698.8,538.6 L1700.6,541.8 L1702.4,544.8 L1704.2,547.5 L1705.9,550.0 L1707.7,552.2 L1709.5,554.3 L1711.3,556.1 L1713.0,557.8 L1714.8,559.3 L1716.6,560.7 L1718.4,561.9 L1720.1,563.0 L1721.9,564.0 L1723.7,564.8 L1725.5,565.6 L1727.2,566.3 L1729.0,566.9 L1730.8,567.5 L1732.6,567.9 L1734.3,568.4 L1736.1,568.7 L1737.9,569.1 L1739.7,569.4 L1741.4,569.6 L1743.2,569.8 L1745.0,570.0 L1746.8,570.2 L1748.5,570.3 L1750.3,570.5 L1752.1,570.6 L1753.9,570.7 L1755.6,570.7 L1757.4,570.8 L1759.2,570.9 L1761.0,570.9 L1762.8,571.0 L1764.5,571.0 L1766.3,571.0 L1768.1,571.1 L1769.9,571.1 L1771.6,571.1 L1773.4,571.1 L1775.2,571.1 L1777.0,571.1 L1778.7,571.2 L1780.5,571.2 L1782.3,571.2 L1784.1,571.2 L1785.8,571.2 L1787.6,571.2 L1789.4,571.2 L1791.2,571.2 L1792.9,571.2 L1794.7,571.2 L1796.5,571.2 L1798.3,571.2 L1800.0,571.2 L1801.8,571.2 L1803.6,571.2 L1805.4,571.2 L1807.1,571.2 L1808.9,571.2 L1810.7,571.2 L1812.5,571.2 L1814.2,571.2 L1816.0,571.2 L1817.8,571.2 L1819.6,571.2 L1821.3,571.2 L1823.1,571.2 L1824.9,571.2 L1826.7,571.2 L1828.4,571.2 L1830.2,571.2 L1832.0,571.2 L1833.8,571.2 L1835.5,571.2 L1837.3,571.2 L1839.1,571.2 L1840.9,571.2 L1842.6,571.2 L1844.4,571.2 L1846.2,571.2 L1848.0,571.2 L1849.8,571.2 L1851.5,571.2 L1853.3,571.2 L1855.1,571.2 L1856.9,571.2 L1858.6,571.2 L1860.4,571.2 L1862.2,571.2 L1864.0,571.2 L1865.7,571.2 L1867.5,571.2 L1869.3,571.2 L1871.1,571.2 L1872.8,571.2 L1874.6,571.2 L1876.4,571.2 L1878.2,571.2 L1879.9,571.2 L1881.7,571.2 L1883.5,571.2 L1885.3,571.2 L1887.0,571.2 L1888.8,571.2 L1890.6,571.2 L1892.4,571.2 L1894.1,571.2 L1895.9,571.2 L1897.7,571.2 L1899.5,571.2 L1901.2,571.2 L1903.0,571.2 L1904.8,571.2 L1906.6,571.2 L1908.3,571.2 L1910.1,571.2 L1911.9,571.2 L1913.7,571.2 L1915.4,571.2 L1917.2,571.2 L1919.0,571.2 L1920.8,571.2 L1922.5,571.2 L1924.3,571.2 L1926.1,571.2 L1927.9,571.2 L1929.6,571.2 L1931.4,571.2 L1933.2,571.2 L1935.0,571.2 L1936.8,571.2 L1936.8,571.2Z" fill="#a4cdd4" fill-opacity="1.00" stroke="none" clip-path="url(#cp01)"/>
<path d="M1049.0,571.2 L1050.8,571.2 L1052.6,571.2 L1054.3,571.2 L1056.1,571.2 L1057.9,571.2 L1059.7,571.2 L1061.4,571.2 L1063.2,571.2 L1065.0,571.2 L1066.8,571.2 L1068.5,571.2 L1070.3,571.2 L1072.1,571.2 L1073.9,571.2 L1075.6,571.2 L1077.4,571.2 L1079.2,571.2 L1081.0,571.2 L1082.7,571.2 L1084.5,571.2 L1086.3,571.2 L1088.1,571.2 L1089.8,571.2 L1091.6,571.2 L1093.4,571.2 L1095.2,571.2 L1096.9,571.2 L1098.7,571.2 L1100.5,571.2 L1102.3,571.2 L1104.0,571.2 L1105.8,571.2 L1107.6,571.2 L1109.4,571.2 L1111.1,571.2 L1112.9,571.2 L1114.7,571.2 L1116.5,571.2 L1118.2,571.2 L1120.0,571.2 L1121.8,571.2 L1123.6,571.2 L1125.3,571.2 L1127.1,571.2 L1128.9,571.2 L1130.7,571.2 L1132.4,571.2 L1134.2,571.2 L1136.0,571.2 L1137.8,571.2 L1139.6,571.2 L1141.3,571.2 L1143.1,571.2 L1144.9,571.2 L1146.7,571.2 L1148.4,571.2 L1150.2,571.2 L1152.0,571.2 L1153.8,571.2 L1155.5,571.2 L1157.3,571.2 L1159.1,571.2 L1160.9,571.2 L1162.6,571.2 L1164.4,571.2 L1166.2,571.2 L1168.0,571.2 L1169.7,571.2 L1171.5,571.2 L1173.3,571.2 L1175.1,571.2 L1176.8,571.2 L1178.6,571.2 L1180.4,571.2 L1182.2,571.2 L1183.9,571.2 L1185.7,571.2 L1187.5,571.2 L1189.3,571.2 L1191.0,571.2 L1192.8,571.2 L1194.6,571.2 L1196.4,571.2 L1198.1,571.2 L1199.9,571.2 L1201.7,571.2 L1203.5,571.2 L1205.2,571.2 L1207.0,571.2 L1208.8,571.2 L1210.6,571.2 L1212.3,571.2 L1214.1,571.2 L1215.9,571.2 L1217.7,571.2 L1219.4,571.2 L1221.2,571.2 L1223.0,571.2 L1224.8,571.2 L1226.6,571.2 L1228.3,571.2 L1230.1,571.2 L1231.9,571.2 L1233.7,571.2 L1235.4,571.2 L1237.2,571.2 L1239.0,571.2 L1240.8,571.2 L1242.5,571.2 L1244.3,571.2 L1246.1,571.2 L1247.9,571.2 L1249.6,571.2 L1251.4,571.2 L1253.2,571.2 L1255.0,571.2 L1256.7,571.2 L1258.5,571.2 L1260.3,571.2 L1262.1,571.2 L1263.8,571.2 L1265.6,571.2 L1267.4,571.2 L1269.2,571.2 L1270.9,571.2 L1272.7,571.2 L1274.5,571.2 L1276.3,571.2 L1278.0,571.2 L1279.8,571.2 L1281.6,571.2 L1283.4,571.2 L1285.1,571.2 L1286.9,571.2 L1288.7,571.2 L1290.5,571.2 L1292.2,571.2 L1294.0,571.2 L1295.8,571.2 L1297.6,571.2 L1299.3,571.2 L1301.1,571.2 L1302.9,571.2 L1304.7,571.2 L1306.4,571.2 L1308.2,571.2 L1310.0,571.2 L1311.8,571.2 L1313.5,571.2 L1315.3,571.2 L1317.1,571.2 L1318.9,571.2 L1320.7,571.2 L1322.4,571.2 L1324.2,571.2 L1326.0,571.2 L1327.8,571.2 L1329.5,571.2 L1331.3,571.2 L1333.1,571.2 L1334.9,571.2 L1336.6,571.2 L1338.4,571.2 L1340.2,571.2 L1342.0,571.2 L1343.7,571.2 L1345.5,571.2 L1347.3,571.2 L1349.1,571.2 L1350.8,571.2 L1352.6,571.2 L1354.4,571.2 L1356.2,571.2 L1357.9,571.2 L1359.7,571.2 L1361.5,571.2 L1363.3,571.2 L1365.0,571.2 L1366.8,571.2 L1368.6,571.2 L1370.4,571.2 L1372.1,571.2 L1373.9,571.2 L1375.7,571.2 L1377.5,571.2 L1379.2,571.2 L1381.0,571.2 L1382.8,571.2 L1384.6,571.2 L1386.3,571.2 L1388.1,571.2 L1389.9,571.2 L1391.7,571.2 L1393.4,571.2 L1395.2,571.2 L1397.0,571.2 L1398.8,571.2 L1400.5,571.2 L1402.3,571.2 L1404.1,571.2 L1405.9,571.2 L1407.7,571.2 L1409.4,571.2 L1411.2,571.2 L1413.0,571.2 L1414.8,571.2 L1416.5,571.2 L1418.3,571.2 L1420.1,571.2 L1421.9,571.1 L1423.6,571.1 L1425.4,571.1 L1427.2,571.1 L1429.0,571.1 L1430.7,571.1 L1432.5,571.0 L1434.3,571.0 L1436.1,571.0 L1437.8,570.9 L1439.6,570.9 L1441.4,570.8 L1443.2,570.7 L1444.9,570.7 L1446.7,570.6 L1448.5,570.5 L1450.3,570.3 L1452.0,570.2 L1453.8,570.0 L1455.6,569.8 L1457.4,569.6 L1459.1,569.4 L1460.9,569.1 L1462.7,568.7 L1464.5,568.4 L1466.2,567.9 L1468.0,567.5 L1469.8,566.9 L1471.6,566.3 L1473.3,565.6 L1475.1,564.8 L1476.9,564.0 L1478.7,563.0 L1480.4,561.9 L1482.2,560.7 L1484.0,559.3 L1485.8,557.8 L1487.5,556.1 L1489.3,554.3 L1491.1,552.2 L1492.9,550.0 L1494.7,547.5 L1496.4,544.8 L1498.2,541.8 L1500.0,538.6 L1501.8,535.1 L1503.5,531.3 L1505.3,527.1 L1507.1,522.6 L1508.9,517.7 L1510.6,512.5 L1512.4,506.8 L1514.2,500.8 L1516.0,494.3 L1517.7,487.4 L1519.5,480.1 L1521.3,472.2 L1523.1,463.9 L1524.8,455.1 L1526.6,445.9 L1528.4,436.1 L1530.2,425.9 L1531.9,415.1 L1533.7,403.9 L1535.5,392.2 L1537.3,380.0 L1539.0,367.4 L1540.8,354.4 L1542.6,341.0 L1544.4,327.1 L1546.1,312.9 L1547.9,298.4 L1549.7,283.7 L1551.5,268.6 L1553.2,253.4 L1555.0,238.1 L1556.8,222.6 L1558.6,207.1 L1560.3,191.6 L1562.1,176.2 L1563.9,160.9 L1565.7,145.8 L1567.4,131.0 L1569.2,116.5 L1571.0,102.4 L1572.8,88.8 L1574.5,75.6 L1576.3,63.1 L1578.1,51.2 L1579.9,40.0 L1581.7,29.6 L1583.4,20.0 L1585.2,11.2 L1587.0,3.4 L1588.8,-3.5 L1590.5,-9.4 L1592.3,-14.2 L1594.1,-18.0 L1595.9,-20.8 L1597.6,-22.4 L1599.4,-22.9 L1601.2,-22.4 L1603.0,-20.8 L1604.7,-18.0 L1606.5,-14.2 L1608.3,-9.4 L1610.1,-3.5 L1611.8,3.4 L1613.6,11.2 L1615.4,20.0 L1617.2,29.6 L1618.9,40.0 L1620.7,51.2 L1622.5,63.1 L1624.3,75.6 L1626.0,88.8 L1627.8,102.4 L1629.6,116.5 L1631.4,131.0 L1633.1,145.8 L1634.9,160.9 L1636.7,176.2 L1638.5,191.6 L1640.2,207.1 L1642.0,222.6 L1643.8,238.1 L1645.6,253.4 L1647.3,268.6 L1649.1,283.7 L1650.9,298.4 L1652.7,312.9 L1654.4,327.1 L1656.2,341.0 L1658.0,354.4 L1659.8,367.4 L1661.5,380.0 L1663.3,392.2 L1665.1,403.9 L1666.9,415.1 L1668.6,425.9 L1670.4,436.1 L1672.2,445.9 L1674.0,455.1 L1675.8,463.9 L1677.5,472.2 L1679.3,480.1 L1681.1,487.4 L1682.9,494.3 L1684.6,500.8 L1686.4,506.8 L1688.2,512.5 L1690.0,517.7 L1691.7,522.6 L1693.5,527.1 L1695.3,531.3 L1697.1,535.1 L1698.8,538.6 L1700.6,541.8 L1702.4,544.8 L1704.2,547.5 L1705.9,550.0 L1707.7,552.2 L1709.5,554.3 L1711.3,556.1 L1713.0,557.8 L1714.8,559.3 L1716.6,560.7 L1718.4,561.9 L1720.1,563.0 L1721.9,564.0 L1723.7,564.8 L1725.5,565.6 L1727.2,566.3 L1729.0,566.9 L1730.8,567.5 L1732.6,567.9 L1734.3,568.4 L1736.1,568.7 L1737.9,569.1 L1739.7,569.4 L1741.4,569.6 L1743.2,569.8 L1745.0,570.0 L1746.8,570.2 L1748.5,570.3 L1750.3,570.5 L1752.1,570.6 L1753.9,570.7 L1755.6,570.7 L1757.4,570.8 L1759.2,570.9 L1761.0,570.9 L1762.8,571.0 L1764.5,571.0 L1766.3,571.0 L1768.1,571.1 L1769.9,571.1 L1771.6,571.1 L1773.4,571.1 L1775.2,571.1 L1777.0,571.1 L1778.7,571.2 L1780.5,571.2 L1782.3,571.2 L1784.1,571.2 L1785.8,571.2 L1787.6,571.2 L1789.4,571.2 L1791.2,571.2 L1792.9,571.2 L1794.7,571.2 L1796.5,571.2 L1798.3,571.2 L1800.0,571.2 L1801.8,571.2 L1803.6,571.2 L1805.4,571.2 L1807.1,571.2 L1808.9,571.2 L1810.7,571.2 L1812.5,571.2 L1814.2,571.2 L1816.0,571.2 L1817.8,571.2 L1819.6,571.2 L1821.3,571.2 L1823.1,571.2 L1824.9,571.2 L1826.7,571.2 L1828.4,571.2 L1830.2,571.2 L1832.0,571.2 L1833.8,571.2 L1835.5,571.2 L1837.3,571.2 L1839.1,571.2 L1840.9,571.2 L1842.6,571.2 L1844.4,571.2 L1846.2,571.2 L1848.0,571.2 L1849.8,571.2 L1851.5,571.2 L1853.3,571.2 L1855.1,571.2 L1856.9,571.2 L1858.6,571.2 L1860.4,571.2 L1862.2,571.2 L1864.0,571.2 L1865.7,571.2 L1867.5,571.2 L1869.3,571.2 L1871.1,571.2 L1872.8,571.2 L1874.6,571.2 L1876.4,571.2 L1878.2,571.2 L1879.9,571.2 L1881.7,571.2 L1883.5,571.2 L1885.3,571.2 L1887.0,571.2 L1888.8,571.2 L1890.6,571.2 L1892.4,571.2 L1894.1,571.2 L1895.9,571.2 L1897.7,571.2 L1899.5,571.2 L1901.2,571.2 L1903.0,571.2 L1904.8,571.2 L1906.6,571.2 L1908.3,571.2 L1910.1,571.2 L1911.9,571.2 L1913.7,571.2 L1915.4,571.2 L1917.2,571.2 L1919.0,571.2 L1920.8,571.2 L1922.5,571.2 L1924.3,571.2 L1926.1,571.2 L1927.9,571.2 L1929.6,571.2 L1931.4,571.2 L1933.2,571.2 L1935.0,571.2 L1936.8,571.2" fill="none" stroke="#7db7c3" stroke-width="1.30" clip-path="url(#cp01)"/>
<line x1="1386.35" y1="571.20" x2="1386.35" y2="28.60" stroke="#262626" stroke-opacity="0.55" stroke-width="3.7" stroke-dasharray="14.2 7" clip-path="url(#cp01)"/>
<line x1="1599.40" y1="571.20" x2="1599.40" y2="28.60" stroke="#262626" stroke-opacity="0.55" stroke-width="3.7" stroke-dasharray="14.2 7" clip-path="url(#cp01)"/>
<g clip-path="url(#cp01)" fill="none" stroke-linecap="round" stroke-linejoin="round"><path d="M1066.8,-446.2 L1075.4,-429.7 L1084.0,-413.3 L1092.6,-396.8 L1101.2,-380.4 L1109.8,-364.0 L1118.4,-347.5 L1127.0,-331.1 L1135.6,-314.6 L1144.2,-298.2 L1152.8,-281.8 L1161.4,-265.3 L1170.1,-248.9 L1178.7,-232.4 L1187.3,-216.0 L1195.9,-199.5 L1204.5,-183.1 L1213.1,-166.7 L1221.7,-150.2 L1230.3,-133.8 L1238.9,-117.3 L1247.5,-100.9 L1256.1,-84.4 L1264.8,-68.0 L1273.4,-51.6 L1282.0,-35.1 L1290.6,-18.7 L1299.2,-2.2 L1307.8,14.2 L1316.4,30.7 L1325.0,47.1 L1333.6,63.5 L1342.2,80.0 L1350.8,96.4 L1359.4,112.9 L1368.1,129.3 L1376.7,145.8 L1385.3,162.2 L1393.9,414.2 L1402.5,420.8 L1411.1,427.3 L1419.7,433.9 L1428.3,440.5 L1436.9,447.1 L1445.5,453.6 L1454.1,460.2 L1462.7,466.8 L1471.4,473.3 L1480.0,479.9 L1488.6,486.4 L1497.2,492.9 L1505.8,499.4 L1514.4,505.7 L1523.0,511.9 L1531.6,517.8 L1540.2,523.5 L1548.8,528.6 L1557.4,533.2 L1566.0,537.1 L1574.7,540.1 L1583.3,542.0 L1591.9,542.8 L1600.5,542.5 L1609.1,540.9 L1617.7,538.1 L1626.3,534.3 L1634.9,529.4 L1643.5,523.7 L1652.1,517.3 L1660.7,510.4 L1669.3,503.0 L1678.0,495.4 L1686.6,487.5 L1695.2,479.5 L1703.8,471.4 L1712.4,463.2 L1721.0,455.0 L1729.6,446.8 L1738.2,438.6 L1746.8,430.4 L1755.4,422.2 L1764.0,414.0 L1772.7,405.7 L1781.3,397.5 L1789.9,389.3 L1798.5,381.1 L1807.1,372.9 L1815.7,364.6 L1824.3,356.4 L1832.9,348.2 L1841.5,340.0 L1850.1,331.8 L1858.7,323.5 L1867.3,315.3 L1876.0,307.1 L1884.6,298.9 L1893.2,290.7 L1901.8,282.4 L1910.4,274.2 L1919.0,266.0" stroke="#fff" stroke-width="8.5"/><path d="M1066.8,-446.2 L1075.4,-429.7 L1084.0,-413.3 L1092.6,-396.8 L1101.2,-380.4 L1109.8,-364.0 L1118.4,-347.5 L1127.0,-331.1 L1135.6,-314.6 L1144.2,-298.2 L1152.8,-281.8 L1161.4,-265.3 L1170.1,-248.9 L1178.7,-232.4 L1187.3,-216.0 L1195.9,-199.5 L1204.5,-183.1 L1213.1,-166.7 L1221.7,-150.2 L1230.3,-133.8 L1238.9,-117.3 L1247.5,-100.9 L1256.1,-84.4 L1264.8,-68.0 L1273.4,-51.6 L1282.0,-35.1 L1290.6,-18.7 L1299.2,-2.2 L1307.8,14.2 L1316.4,30.7 L1325.0,47.1 L1333.6,63.5 L1342.2,80.0 L1350.8,96.4 L1359.4,112.9 L1368.1,129.3 L1376.7,145.8 L1385.3,162.2 L1393.9,414.2 L1402.5,420.8 L1411.1,427.3 L1419.7,433.9 L1428.3,440.5 L1436.9,447.1 L1445.5,453.6 L1454.1,460.2 L1462.7,466.8 L1471.4,473.3 L1480.0,479.9 L1488.6,486.4 L1497.2,492.9 L1505.8,499.4 L1514.4,505.7 L1523.0,511.9 L1531.6,517.8 L1540.2,523.5 L1548.8,528.6 L1557.4,533.2 L1566.0,537.1 L1574.7,540.1 L1583.3,542.0 L1591.9,542.8 L1600.5,542.5 L1609.1,540.9 L1617.7,538.1 L1626.3,534.3 L1634.9,529.4 L1643.5,523.7 L1652.1,517.3 L1660.7,510.4 L1669.3,503.0 L1678.0,495.4 L1686.6,487.5 L1695.2,479.5 L1703.8,471.4 L1712.4,463.2 L1721.0,455.0 L1729.6,446.8 L1738.2,438.6 L1746.8,430.4 L1755.4,422.2 L1764.0,414.0 L1772.7,405.7 L1781.3,397.5 L1789.9,389.3 L1798.5,381.1 L1807.1,372.9 L1815.7,364.6 L1824.3,356.4 L1832.9,348.2 L1841.5,340.0 L1850.1,331.8 L1858.7,323.5 L1867.3,315.3 L1876.0,307.1 L1884.6,298.9 L1893.2,290.7 L1901.8,282.4 L1910.4,274.2 L1919.0,266.0" stroke="#405d4e" stroke-width="5.1"/></g>
<path d="M1066.8,164.3 L1075.4,170.8 L1084.0,177.4 L1092.6,184.0 L1101.2,190.6 L1109.8,197.1 L1118.4,203.7 L1127.0,210.3 L1135.6,216.9 L1144.2,223.4 L1152.8,230.0 L1161.4,236.6 L1170.1,243.2 L1178.7,249.8 L1187.3,256.3 L1195.9,262.9 L1204.5,269.5 L1213.1,276.1 L1221.7,282.6 L1230.3,289.2 L1238.9,295.8 L1247.5,302.4 L1256.1,308.9 L1264.8,315.5 L1273.4,322.1 L1282.0,328.7 L1290.6,335.3 L1299.2,341.8 L1307.8,348.4 L1316.4,355.0 L1325.0,361.6 L1333.6,368.1 L1342.2,374.7 L1350.8,381.3 L1359.4,387.9 L1368.1,394.4 L1376.7,401.0 L1385.3,407.6 L1393.9,414.2 L1402.5,420.8 L1411.1,427.3 L1419.7,433.9 L1428.3,440.5 L1436.9,447.1 L1445.5,453.6 L1454.1,460.2 L1462.7,466.8 L1471.4,473.4 L1480.0,479.9 L1488.6,486.5 L1497.2,493.0 L1505.8,499.5 L1514.4,506.0 L1523.0,512.4 L1531.6,518.7 L1540.2,524.9 L1548.8,530.8 L1557.4,536.5 L1566.0,541.9 L1574.7,546.9 L1583.3,551.4 L1591.9,555.4 L1600.5,558.9 L1609.1,561.8 L1617.7,564.3 L1626.3,566.2 L1634.9,567.7 L1643.5,568.8 L1652.1,569.6 L1660.7,570.2 L1669.3,570.6 L1678.0,570.8 L1686.6,571.0 L1695.2,571.1 L1703.8,571.1 L1712.4,571.2 L1721.0,571.2 L1729.6,571.2 L1738.2,571.2 L1746.8,571.2 L1755.4,571.2 L1764.0,571.2 L1772.7,571.2 L1781.3,571.2 L1789.9,571.2 L1798.5,571.2 L1807.1,571.2 L1815.7,571.2 L1824.3,571.2 L1832.9,571.2 L1841.5,571.2 L1850.1,571.2 L1858.7,571.2 L1867.3,571.2 L1876.0,571.2 L1884.6,571.2 L1893.2,571.2 L1901.8,571.2 L1910.4,571.2 L1919.0,571.2" fill="none" stroke="#3d68b4" stroke-width="2.6" stroke-dasharray="9.8 4.3" clip-path="url(#cp01)"/>
<path d="M1066.8,-39.2 L1075.4,-29.4 L1084.0,-19.5 L1092.6,-9.6 L1101.2,0.2 L1109.8,10.1 L1118.4,20.0 L1127.0,29.8 L1135.6,39.7 L1144.2,49.6 L1152.8,59.4 L1161.4,69.3 L1170.1,79.2 L1178.7,89.0 L1187.3,98.9 L1195.9,108.8 L1204.5,118.6 L1213.1,128.5 L1221.7,138.4 L1230.3,148.2 L1238.9,158.1 L1247.5,167.9 L1256.1,177.8 L1264.8,187.7 L1273.4,197.5 L1282.0,207.4 L1290.6,217.3 L1299.2,227.1 L1307.8,237.0 L1316.4,246.9 L1325.0,256.7 L1333.6,266.6 L1342.2,276.5 L1350.8,286.3 L1359.4,296.2 L1368.1,306.1 L1376.7,315.9 L1385.3,325.8 L1393.9,571.2 L1402.5,571.2 L1411.1,571.2 L1419.7,571.2 L1428.3,571.2 L1436.9,571.2 L1445.5,571.2 L1454.1,571.2 L1462.7,571.2 L1471.4,571.2 L1480.0,571.2 L1488.6,571.2 L1497.2,571.2 L1505.8,571.2 L1514.4,571.2 L1523.0,571.2 L1531.6,571.2 L1540.2,571.2 L1548.8,571.2 L1557.4,571.2 L1566.0,571.2 L1574.7,571.2 L1583.3,571.2 L1591.9,571.2 L1600.5,571.2 L1609.1,571.2 L1617.7,571.2 L1626.3,571.2 L1634.9,571.2 L1643.5,571.2 L1652.1,571.2 L1660.7,571.2 L1669.3,571.2 L1678.0,571.2 L1686.6,571.2 L1695.2,571.2 L1703.8,571.2 L1712.4,571.2 L1721.0,571.2 L1729.6,571.2 L1738.2,571.2 L1746.8,571.2 L1755.4,571.2 L1764.0,571.2 L1772.7,571.2 L1781.3,571.2 L1789.9,571.2 L1798.5,571.2 L1807.1,571.2 L1815.7,571.2 L1824.3,571.2 L1832.9,571.2 L1841.5,571.2 L1850.1,571.2 L1858.7,571.2 L1867.3,571.2 L1876.0,571.2 L1884.6,571.2 L1893.2,571.2 L1901.8,571.2 L1910.4,571.2 L1919.0,571.2" fill="none" stroke="#de7a3c" stroke-width="2.6" stroke-dasharray="9.8 4.3" clip-path="url(#cp01)"/>
<path d="M1066.8,571.2 L1075.4,571.2 L1084.0,571.2 L1092.6,571.2 L1101.2,571.2 L1109.8,571.2 L1118.4,571.2 L1127.0,571.2 L1135.6,571.2 L1144.2,571.2 L1152.8,571.2 L1161.4,571.2 L1170.1,571.2 L1178.7,571.2 L1187.3,571.2 L1195.9,571.2 L1204.5,571.2 L1213.1,571.2 L1221.7,571.2 L1230.3,571.2 L1238.9,571.2 L1247.5,571.2 L1256.1,571.2 L1264.8,571.2 L1273.4,571.2 L1282.0,571.2 L1290.6,571.2 L1299.2,571.2 L1307.8,571.2 L1316.4,571.2 L1325.0,571.2 L1333.6,571.2 L1342.2,571.2 L1350.8,571.2 L1359.4,571.2 L1368.1,571.2 L1376.7,571.2 L1385.3,571.2 L1393.9,571.2 L1402.5,571.2 L1411.1,571.2 L1419.7,571.2 L1428.3,571.2 L1436.9,571.2 L1445.5,571.2 L1454.1,571.2 L1462.7,571.2 L1471.4,571.2 L1480.0,571.2 L1488.6,571.2 L1497.2,571.1 L1505.8,571.0 L1514.4,570.9 L1523.0,570.7 L1531.6,570.3 L1540.2,569.8 L1548.8,569.0 L1557.4,567.9 L1566.0,566.4 L1574.7,564.4 L1583.3,561.8 L1591.9,558.6 L1600.5,554.8 L1609.1,550.3 L1617.7,545.1 L1626.3,539.3 L1634.9,532.9 L1643.5,526.1 L1652.1,518.9 L1660.7,511.4 L1669.3,503.6 L1678.0,495.7 L1686.6,487.7 L1695.2,479.6 L1703.8,471.4 L1712.4,463.3 L1721.0,455.1 L1729.6,446.8 L1738.2,438.6 L1746.8,430.4 L1755.4,422.2 L1764.0,414.0 L1772.7,405.7 L1781.3,397.5 L1789.9,389.3 L1798.5,381.1 L1807.1,372.9 L1815.7,364.6 L1824.3,356.4 L1832.9,348.2 L1841.5,340.0 L1850.1,331.8 L1858.7,323.5 L1867.3,315.3 L1876.0,307.1 L1884.6,298.9 L1893.2,290.7 L1901.8,282.4 L1910.4,274.2 L1919.0,266.0" fill="none" stroke="#4ca85f" stroke-width="2.6" stroke-dasharray="9.8 4.3" clip-path="url(#cp01)"/>
<path d="M1066.8,571.2 L1075.4,571.2 L1084.0,571.2 L1092.6,571.2 L1101.2,571.2 L1109.8,571.2 L1118.4,571.2 L1127.0,571.2 L1135.6,571.2 L1144.2,571.2 L1152.8,571.2 L1161.4,571.2 L1170.1,571.2 L1178.7,571.2 L1187.3,571.2 L1195.9,571.2 L1204.5,571.2 L1213.1,571.2 L1221.7,571.2 L1230.3,571.2 L1238.9,571.2 L1247.5,571.2 L1256.1,571.2 L1264.8,571.2 L1273.4,571.2 L1282.0,571.2 L1290.6,571.2 L1299.2,571.2 L1307.8,571.2 L1316.4,571.2 L1325.0,571.2 L1333.6,571.2 L1342.2,571.2 L1350.8,571.2 L1359.4,571.2 L1368.1,571.2 L1376.7,571.2 L1385.3,571.2 L1393.9,571.2 L1402.5,571.2 L1411.1,571.2 L1419.7,571.2 L1428.3,571.2 L1436.9,571.2 L1445.5,571.2 L1454.1,571.2 L1462.7,571.2 L1471.4,571.2 L1480.0,571.2 L1488.6,571.2 L1497.2,571.2 L1505.8,571.2 L1514.4,571.2 L1523.0,571.2 L1531.6,571.2 L1540.2,571.2 L1548.8,571.2 L1557.4,571.2 L1566.0,571.2 L1574.7,571.2 L1583.3,571.2 L1591.9,571.2 L1600.5,571.2 L1609.1,571.2 L1617.7,571.2 L1626.3,571.2 L1634.9,571.2 L1643.5,571.2 L1652.1,571.2 L1660.7,571.2 L1669.3,571.2 L1678.0,571.2 L1686.6,571.2 L1695.2,571.2 L1703.8,571.2 L1712.4,571.2 L1721.0,571.2 L1729.6,571.2 L1738.2,571.2 L1746.8,571.2 L1755.4,571.2 L1764.0,571.2 L1772.7,571.2 L1781.3,571.2 L1789.9,571.2 L1798.5,571.2 L1807.1,571.2 L1815.7,571.2 L1824.3,571.2 L1832.9,571.2 L1841.5,571.2 L1850.1,571.2 L1858.7,571.2 L1867.3,571.2 L1876.0,571.2 L1884.6,571.2 L1893.2,571.2 L1901.8,571.2 L1910.4,571.2 L1919.0,571.2" fill="none" stroke="#c4404a" stroke-width="2.6" stroke-dasharray="9.8 4.3" clip-path="url(#cp01)"/>
<rect x="1049.00" y="28.60" width="887.75" height="542.60" fill="none" stroke="#262626" stroke-width="3.5"/>
<path d="M153.8,1168.3 L153.8,1168.3 L155.6,1168.3 L157.4,1168.3 L159.2,1168.3 L160.9,1168.3 L162.7,1168.3 L164.5,1168.3 L166.3,1168.3 L168.0,1168.3 L169.8,1168.3 L171.6,1168.3 L173.4,1168.3 L175.1,1168.3 L176.9,1168.3 L178.7,1168.3 L180.5,1168.3 L182.2,1168.3 L184.0,1168.3 L185.8,1168.3 L187.6,1168.3 L189.3,1168.3 L191.1,1168.3 L192.9,1168.3 L194.7,1168.3 L196.4,1168.3 L198.2,1168.3 L200.0,1168.3 L201.8,1168.3 L203.5,1168.3 L205.3,1168.3 L207.1,1168.3 L208.8,1168.3 L210.6,1168.3 L212.4,1168.3 L214.2,1168.3 L215.9,1168.3 L217.7,1168.3 L219.5,1168.3 L221.3,1168.3 L223.0,1168.3 L224.8,1168.3 L226.6,1168.3 L228.4,1168.3 L230.1,1168.3 L231.9,1168.3 L233.7,1168.3 L235.5,1168.3 L237.2,1168.3 L239.0,1168.3 L240.8,1168.3 L242.6,1168.3 L244.3,1168.3 L246.1,1168.3 L247.9,1168.3 L249.7,1168.3 L251.4,1168.3 L253.2,1168.3 L255.0,1168.3 L256.7,1168.3 L258.5,1168.3 L260.3,1168.3 L262.1,1168.3 L263.8,1168.3 L265.6,1168.3 L267.4,1168.3 L269.2,1168.3 L270.9,1168.3 L272.7,1168.3 L274.5,1168.3 L276.3,1168.3 L278.0,1168.3 L279.8,1168.3 L281.6,1168.3 L283.4,1168.3 L285.1,1168.3 L286.9,1168.3 L288.7,1168.3 L290.5,1168.3 L292.2,1168.3 L294.0,1168.3 L295.8,1168.3 L297.6,1168.3 L299.3,1168.3 L301.1,1168.3 L302.9,1168.3 L304.6,1168.3 L306.4,1168.3 L308.2,1168.3 L310.0,1168.3 L311.7,1168.3 L313.5,1168.3 L315.3,1168.3 L317.1,1168.3 L318.8,1168.3 L320.6,1168.3 L322.4,1168.3 L324.2,1168.3 L325.9,1168.3 L327.7,1168.3 L329.5,1168.3 L331.3,1168.3 L333.0,1168.3 L334.8,1168.3 L336.6,1168.3 L338.4,1168.3 L340.1,1168.3 L341.9,1168.3 L343.7,1168.3 L345.5,1168.3 L347.2,1168.3 L349.0,1168.3 L350.8,1168.3 L352.5,1168.3 L354.3,1168.3 L356.1,1168.3 L357.9,1168.3 L359.6,1168.3 L361.4,1168.3 L363.2,1168.3 L365.0,1168.3 L366.7,1168.3 L368.5,1168.3 L370.3,1168.3 L372.1,1168.3 L373.8,1168.3 L375.6,1168.3 L377.4,1168.3 L379.2,1168.3 L380.9,1168.3 L382.7,1168.3 L384.5,1168.3 L386.3,1168.3 L388.0,1168.3 L389.8,1168.3 L391.6,1168.3 L393.4,1168.3 L395.1,1168.3 L396.9,1168.3 L398.7,1168.3 L400.4,1168.3 L402.2,1168.3 L404.0,1168.3 L405.8,1168.2 L407.5,1168.2 L409.3,1168.2 L411.1,1168.2 L412.9,1168.2 L414.6,1168.2 L416.4,1168.2 L418.2,1168.2 L420.0,1168.2 L421.7,1168.2 L423.5,1168.2 L425.3,1168.1 L427.1,1168.1 L428.8,1168.1 L430.6,1168.1 L432.4,1168.1 L434.2,1168.1 L435.9,1168.0 L437.7,1168.0 L439.5,1168.0 L441.3,1167.9 L443.0,1167.9 L444.8,1167.9 L446.6,1167.8 L448.4,1167.8 L450.1,1167.7 L451.9,1167.7 L453.7,1167.6 L455.4,1167.6 L457.2,1167.5 L459.0,1167.4 L460.8,1167.3 L462.5,1167.3 L464.3,1167.2 L466.1,1167.1 L467.9,1167.0 L469.6,1166.8 L471.4,1166.7 L473.2,1166.6 L475.0,1166.4 L476.7,1166.3 L478.5,1166.1 L480.3,1165.9 L482.1,1165.7 L483.8,1165.5 L485.6,1165.3 L487.4,1165.1 L489.2,1164.8 L490.9,1164.5 L492.7,1164.2 L494.5,1163.9 L496.3,1163.6 L498.0,1163.3 L499.8,1162.9 L501.6,1162.5 L503.3,1162.0 L505.1,1161.6 L506.9,1161.1 L508.7,1160.6 L510.4,1160.0 L512.2,1159.5 L514.0,1158.8 L515.8,1158.2 L517.5,1157.5 L519.3,1156.8 L521.1,1156.0 L522.9,1155.2 L524.6,1154.3 L526.4,1153.4 L528.2,1152.5 L530.0,1151.5 L531.7,1150.4 L533.5,1149.3 L535.3,1148.1 L537.1,1146.9 L538.8,1145.6 L540.6,1144.3 L542.4,1142.9 L544.2,1141.4 L545.9,1139.8 L547.7,1138.2 L549.5,1136.5 L551.2,1134.8 L553.0,1132.9 L554.8,1131.0 L556.6,1129.0 L558.3,1126.9 L560.1,1124.7 L561.9,1122.5 L563.7,1120.2 L565.4,1117.7 L567.2,1115.2 L569.0,1112.6 L570.8,1109.9 L572.5,1107.2 L574.3,1104.3 L576.1,1101.3 L577.9,1098.3 L579.6,1095.1 L581.4,1091.9 L583.2,1088.5 L585.0,1085.1 L586.7,1081.6 L588.5,1077.9 L590.3,1074.2 L592.1,1070.4 L593.8,1066.5 L595.6,1062.5 L597.4,1058.4 L599.1,1054.3 L600.9,1050.0 L602.7,1045.7 L604.5,1041.3 L606.2,1036.8 L608.0,1032.2 L609.8,1027.6 L611.6,1022.9 L613.3,1018.2 L615.1,1013.4 L616.9,1008.5 L618.7,1003.6 L620.4,998.6 L622.2,993.6 L624.0,988.6 L625.8,983.5 L627.5,978.4 L629.3,973.3 L631.1,968.2 L632.9,963.0 L634.6,957.9 L636.4,952.8 L638.2,947.7 L640.0,942.6 L641.7,937.5 L643.5,932.5 L645.3,927.5 L647.0,922.6 L648.8,917.7 L650.6,912.9 L652.4,908.1 L654.1,903.4 L655.9,898.8 L657.7,894.3 L659.5,889.9 L661.2,885.6 L663.0,881.4 L664.8,877.4 L666.6,873.5 L668.3,869.6 L670.1,866.0 L671.9,862.5 L673.7,859.1 L675.4,855.9 L677.2,852.9 L679.0,850.0 L680.8,847.3 L682.5,844.8 L684.3,842.4 L686.1,840.3 L687.9,838.3 L689.6,836.6 L691.4,835.0 L693.2,833.7 L695.0,832.5 L696.7,831.6 L698.5,830.8 L700.3,830.3 L702.0,830.0 L703.8,829.9 L705.6,830.0 L707.4,830.3 L709.1,830.8 L710.9,831.6 L712.7,832.5 L714.5,833.7 L716.2,835.0 L718.0,836.6 L719.8,838.3 L721.6,840.3 L723.3,842.4 L725.1,844.8 L726.9,847.3 L728.7,850.0 L730.4,852.9 L732.2,855.9 L734.0,859.1 L735.8,862.5 L737.5,866.0 L739.3,869.6 L741.1,873.5 L742.9,877.4 L744.6,881.4 L746.4,885.6 L748.2,889.9 L749.9,894.3 L751.7,898.8 L753.5,903.4 L755.3,908.1 L757.0,912.9 L758.8,917.7 L760.6,922.6 L762.4,927.5 L764.1,932.5 L765.9,937.5 L767.7,942.6 L769.5,947.7 L771.2,952.8 L773.0,957.9 L774.8,963.0 L776.6,968.2 L778.3,973.3 L780.1,978.4 L781.9,983.5 L783.7,988.6 L785.4,993.6 L787.2,998.6 L789.0,1003.6 L790.8,1008.5 L792.5,1013.4 L794.3,1018.2 L796.1,1022.9 L797.8,1027.6 L799.6,1032.2 L801.4,1036.8 L803.2,1041.3 L804.9,1045.7 L806.7,1050.0 L808.5,1054.3 L810.3,1058.4 L812.0,1062.5 L813.8,1066.5 L815.6,1070.4 L817.4,1074.2 L819.1,1077.9 L820.9,1081.6 L822.7,1085.1 L824.5,1088.5 L826.2,1091.9 L828.0,1095.1 L829.8,1098.3 L831.6,1101.3 L833.3,1104.3 L835.1,1107.2 L836.9,1109.9 L838.7,1112.6 L840.4,1115.2 L842.2,1117.7 L844.0,1120.2 L845.7,1122.5 L847.5,1124.7 L849.3,1126.9 L851.1,1129.0 L852.8,1131.0 L854.6,1132.9 L856.4,1134.8 L858.2,1136.5 L859.9,1138.2 L861.7,1139.8 L863.5,1141.4 L865.3,1142.9 L867.0,1144.3 L868.8,1145.6 L870.6,1146.9 L872.4,1148.1 L874.1,1149.3 L875.9,1150.4 L877.7,1151.5 L879.5,1152.5 L881.2,1153.4 L883.0,1154.3 L884.8,1155.2 L886.6,1156.0 L888.3,1156.8 L890.1,1157.5 L891.9,1158.2 L893.6,1158.8 L895.4,1159.5 L897.2,1160.0 L899.0,1160.6 L900.7,1161.1 L902.5,1161.6 L904.3,1162.0 L906.1,1162.5 L907.8,1162.9 L909.6,1163.3 L911.4,1163.6 L913.2,1163.9 L914.9,1164.2 L916.7,1164.5 L918.5,1164.8 L920.3,1165.1 L922.0,1165.3 L923.8,1165.5 L925.6,1165.7 L927.4,1165.9 L929.1,1166.1 L930.9,1166.3 L932.7,1166.4 L934.5,1166.6 L936.2,1166.7 L938.0,1166.8 L939.8,1167.0 L941.6,1167.1 L943.3,1167.2 L945.1,1167.3 L946.9,1167.3 L948.6,1167.4 L950.4,1167.5 L952.2,1167.6 L954.0,1167.6 L955.7,1167.7 L957.5,1167.7 L959.3,1167.8 L961.1,1167.8 L962.8,1167.9 L964.6,1167.9 L966.4,1167.9 L968.2,1168.0 L969.9,1168.0 L971.7,1168.0 L973.5,1168.1 L975.3,1168.1 L977.0,1168.1 L978.8,1168.1 L980.6,1168.1 L982.4,1168.1 L984.1,1168.2 L985.9,1168.2 L987.7,1168.2 L989.5,1168.2 L991.2,1168.2 L993.0,1168.2 L994.8,1168.2 L996.5,1168.2 L998.3,1168.2 L1000.1,1168.2 L1001.9,1168.2 L1003.6,1168.3 L1005.4,1168.3 L1007.2,1168.3 L1009.0,1168.3 L1010.7,1168.3 L1012.5,1168.3 L1014.3,1168.3 L1016.1,1168.3 L1017.8,1168.3 L1019.6,1168.3 L1021.4,1168.3 L1023.2,1168.3 L1024.9,1168.3 L1026.7,1168.3 L1028.5,1168.3 L1030.3,1168.3 L1032.0,1168.3 L1033.8,1168.3 L1035.6,1168.3 L1037.4,1168.3 L1039.1,1168.3 L1040.9,1168.3 L1040.9,1168.3Z" fill="#a4cdd4" fill-opacity="1.00" stroke="none" clip-path="url(#cp10)"/>
<path d="M153.8,1168.3 L155.6,1168.3 L157.4,1168.3 L159.2,1168.3 L160.9,1168.3 L162.7,1168.3 L164.5,1168.3 L166.3,1168.3 L168.0,1168.3 L169.8,1168.3 L171.6,1168.3 L173.4,1168.3 L175.1,1168.3 L176.9,1168.3 L178.7,1168.3 L180.5,1168.3 L182.2,1168.3 L184.0,1168.3 L185.8,1168.3 L187.6,1168.3 L189.3,1168.3 L191.1,1168.3 L192.9,1168.3 L194.7,1168.3 L196.4,1168.3 L198.2,1168.3 L200.0,1168.3 L201.8,1168.3 L203.5,1168.3 L205.3,1168.3 L207.1,1168.3 L208.8,1168.3 L210.6,1168.3 L212.4,1168.3 L214.2,1168.3 L215.9,1168.3 L217.7,1168.3 L219.5,1168.3 L221.3,1168.3 L223.0,1168.3 L224.8,1168.3 L226.6,1168.3 L228.4,1168.3 L230.1,1168.3 L231.9,1168.3 L233.7,1168.3 L235.5,1168.3 L237.2,1168.3 L239.0,1168.3 L240.8,1168.3 L242.6,1168.3 L244.3,1168.3 L246.1,1168.3 L247.9,1168.3 L249.7,1168.3 L251.4,1168.3 L253.2,1168.3 L255.0,1168.3 L256.7,1168.3 L258.5,1168.3 L260.3,1168.3 L262.1,1168.3 L263.8,1168.3 L265.6,1168.3 L267.4,1168.3 L269.2,1168.3 L270.9,1168.3 L272.7,1168.3 L274.5,1168.3 L276.3,1168.3 L278.0,1168.3 L279.8,1168.3 L281.6,1168.3 L283.4,1168.3 L285.1,1168.3 L286.9,1168.3 L288.7,1168.3 L290.5,1168.3 L292.2,1168.3 L294.0,1168.3 L295.8,1168.3 L297.6,1168.3 L299.3,1168.3 L301.1,1168.3 L302.9,1168.3 L304.6,1168.3 L306.4,1168.3 L308.2,1168.3 L310.0,1168.3 L311.7,1168.3 L313.5,1168.3 L315.3,1168.3 L317.1,1168.3 L318.8,1168.3 L320.6,1168.3 L322.4,1168.3 L324.2,1168.3 L325.9,1168.3 L327.7,1168.3 L329.5,1168.3 L331.3,1168.3 L333.0,1168.3 L334.8,1168.3 L336.6,1168.3 L338.4,1168.3 L340.1,1168.3 L341.9,1168.3 L343.7,1168.3 L345.5,1168.3 L347.2,1168.3 L349.0,1168.3 L350.8,1168.3 L352.5,1168.3 L354.3,1168.3 L356.1,1168.3 L357.9,1168.3 L359.6,1168.3 L361.4,1168.3 L363.2,1168.3 L365.0,1168.3 L366.7,1168.3 L368.5,1168.3 L370.3,1168.3 L372.1,1168.3 L373.8,1168.3 L375.6,1168.3 L377.4,1168.3 L379.2,1168.3 L380.9,1168.3 L382.7,1168.3 L384.5,1168.3 L386.3,1168.3 L388.0,1168.3 L389.8,1168.3 L391.6,1168.3 L393.4,1168.3 L395.1,1168.3 L396.9,1168.3 L398.7,1168.3 L400.4,1168.3 L402.2,1168.3 L404.0,1168.3 L405.8,1168.2 L407.5,1168.2 L409.3,1168.2 L411.1,1168.2 L412.9,1168.2 L414.6,1168.2 L416.4,1168.2 L418.2,1168.2 L420.0,1168.2 L421.7,1168.2 L423.5,1168.2 L425.3,1168.1 L427.1,1168.1 L428.8,1168.1 L430.6,1168.1 L432.4,1168.1 L434.2,1168.1 L435.9,1168.0 L437.7,1168.0 L439.5,1168.0 L441.3,1167.9 L443.0,1167.9 L444.8,1167.9 L446.6,1167.8 L448.4,1167.8 L450.1,1167.7 L451.9,1167.7 L453.7,1167.6 L455.4,1167.6 L457.2,1167.5 L459.0,1167.4 L460.8,1167.3 L462.5,1167.3 L464.3,1167.2 L466.1,1167.1 L467.9,1167.0 L469.6,1166.8 L471.4,1166.7 L473.2,1166.6 L475.0,1166.4 L476.7,1166.3 L478.5,1166.1 L480.3,1165.9 L482.1,1165.7 L483.8,1165.5 L485.6,1165.3 L487.4,1165.1 L489.2,1164.8 L490.9,1164.5 L492.7,1164.2 L494.5,1163.9 L496.3,1163.6 L498.0,1163.3 L499.8,1162.9 L501.6,1162.5 L503.3,1162.0 L505.1,1161.6 L506.9,1161.1 L508.7,1160.6 L510.4,1160.0 L512.2,1159.5 L514.0,1158.8 L515.8,1158.2 L517.5,1157.5 L519.3,1156.8 L521.1,1156.0 L522.9,1155.2 L524.6,1154.3 L526.4,1153.4 L528.2,1152.5 L530.0,1151.5 L531.7,1150.4 L533.5,1149.3 L535.3,1148.1 L537.1,1146.9 L538.8,1145.6 L540.6,1144.3 L542.4,1142.9 L544.2,1141.4 L545.9,1139.8 L547.7,1138.2 L549.5,1136.5 L551.2,1134.8 L553.0,1132.9 L554.8,1131.0 L556.6,1129.0 L558.3,1126.9 L560.1,1124.7 L561.9,1122.5 L563.7,1120.2 L565.4,1117.7 L567.2,1115.2 L569.0,1112.6 L570.8,1109.9 L572.5,1107.2 L574.3,1104.3 L576.1,1101.3 L577.9,1098.3 L579.6,1095.1 L581.4,1091.9 L583.2,1088.5 L585.0,1085.1 L586.7,1081.6 L588.5,1077.9 L590.3,1074.2 L592.1,1070.4 L593.8,1066.5 L595.6,1062.5 L597.4,1058.4 L599.1,1054.3 L600.9,1050.0 L602.7,1045.7 L604.5,1041.3 L606.2,1036.8 L608.0,1032.2 L609.8,1027.6 L611.6,1022.9 L613.3,1018.2 L615.1,1013.4 L616.9,1008.5 L618.7,1003.6 L620.4,998.6 L622.2,993.6 L624.0,988.6 L625.8,983.5 L627.5,978.4 L629.3,973.3 L631.1,968.2 L632.9,963.0 L634.6,957.9 L636.4,952.8 L638.2,947.7 L640.0,942.6 L641.7,937.5 L643.5,932.5 L645.3,927.5 L647.0,922.6 L648.8,917.7 L650.6,912.9 L652.4,908.1 L654.1,903.4 L655.9,898.8 L657.7,894.3 L659.5,889.9 L661.2,885.6 L663.0,881.4 L664.8,877.4 L666.6,873.5 L668.3,869.6 L670.1,866.0 L671.9,862.5 L673.7,859.1 L675.4,855.9 L677.2,852.9 L679.0,850.0 L680.8,847.3 L682.5,844.8 L684.3,842.4 L686.1,840.3 L687.9,838.3 L689.6,836.6 L691.4,835.0 L693.2,833.7 L695.0,832.5 L696.7,831.6 L698.5,830.8 L700.3,830.3 L702.0,830.0 L703.8,829.9 L705.6,830.0 L707.4,830.3 L709.1,830.8 L710.9,831.6 L712.7,832.5 L714.5,833.7 L716.2,835.0 L718.0,836.6 L719.8,838.3 L721.6,840.3 L723.3,842.4 L725.1,844.8 L726.9,847.3 L728.7,850.0 L730.4,852.9 L732.2,855.9 L734.0,859.1 L735.8,862.5 L737.5,866.0 L739.3,869.6 L741.1,873.5 L742.9,877.4 L744.6,881.4 L746.4,885.6 L748.2,889.9 L749.9,894.3 L751.7,898.8 L753.5,903.4 L755.3,908.1 L757.0,912.9 L758.8,917.7 L760.6,922.6 L762.4,927.5 L764.1,932.5 L765.9,937.5 L767.7,942.6 L769.5,947.7 L771.2,952.8 L773.0,957.9 L774.8,963.0 L776.6,968.2 L778.3,973.3 L780.1,978.4 L781.9,983.5 L783.7,988.6 L785.4,993.6 L787.2,998.6 L789.0,1003.6 L790.8,1008.5 L792.5,1013.4 L794.3,1018.2 L796.1,1022.9 L797.8,1027.6 L799.6,1032.2 L801.4,1036.8 L803.2,1041.3 L804.9,1045.7 L806.7,1050.0 L808.5,1054.3 L810.3,1058.4 L812.0,1062.5 L813.8,1066.5 L815.6,1070.4 L817.4,1074.2 L819.1,1077.9 L820.9,1081.6 L822.7,1085.1 L824.5,1088.5 L826.2,1091.9 L828.0,1095.1 L829.8,1098.3 L831.6,1101.3 L833.3,1104.3 L835.1,1107.2 L836.9,1109.9 L838.7,1112.6 L840.4,1115.2 L842.2,1117.7 L844.0,1120.2 L845.7,1122.5 L847.5,1124.7 L849.3,1126.9 L851.1,1129.0 L852.8,1131.0 L854.6,1132.9 L856.4,1134.8 L858.2,1136.5 L859.9,1138.2 L861.7,1139.8 L863.5,1141.4 L865.3,1142.9 L867.0,1144.3 L868.8,1145.6 L870.6,1146.9 L872.4,1148.1 L874.1,1149.3 L875.9,1150.4 L877.7,1151.5 L879.5,1152.5 L881.2,1153.4 L883.0,1154.3 L884.8,1155.2 L886.6,1156.0 L888.3,1156.8 L890.1,1157.5 L891.9,1158.2 L893.6,1158.8 L895.4,1159.5 L897.2,1160.0 L899.0,1160.6 L900.7,1161.1 L902.5,1161.6 L904.3,1162.0 L906.1,1162.5 L907.8,1162.9 L909.6,1163.3 L911.4,1163.6 L913.2,1163.9 L914.9,1164.2 L916.7,1164.5 L918.5,1164.8 L920.3,1165.1 L922.0,1165.3 L923.8,1165.5 L925.6,1165.7 L927.4,1165.9 L929.1,1166.1 L930.9,1166.3 L932.7,1166.4 L934.5,1166.6 L936.2,1166.7 L938.0,1166.8 L939.8,1167.0 L941.6,1167.1 L943.3,1167.2 L945.1,1167.3 L946.9,1167.3 L948.6,1167.4 L950.4,1167.5 L952.2,1167.6 L954.0,1167.6 L955.7,1167.7 L957.5,1167.7 L959.3,1167.8 L961.1,1167.8 L962.8,1167.9 L964.6,1167.9 L966.4,1167.9 L968.2,1168.0 L969.9,1168.0 L971.7,1168.0 L973.5,1168.1 L975.3,1168.1 L977.0,1168.1 L978.8,1168.1 L980.6,1168.1 L982.4,1168.1 L984.1,1168.2 L985.9,1168.2 L987.7,1168.2 L989.5,1168.2 L991.2,1168.2 L993.0,1168.2 L994.8,1168.2 L996.5,1168.2 L998.3,1168.2 L1000.1,1168.2 L1001.9,1168.2 L1003.6,1168.3 L1005.4,1168.3 L1007.2,1168.3 L1009.0,1168.3 L1010.7,1168.3 L1012.5,1168.3 L1014.3,1168.3 L1016.1,1168.3 L1017.8,1168.3 L1019.6,1168.3 L1021.4,1168.3 L1023.2,1168.3 L1024.9,1168.3 L1026.7,1168.3 L1028.5,1168.3 L1030.3,1168.3 L1032.0,1168.3 L1033.8,1168.3 L1035.6,1168.3 L1037.4,1168.3 L1039.1,1168.3 L1040.9,1168.3" fill="none" stroke="#7db7c3" stroke-width="1.30" clip-path="url(#cp10)"/>
<line x1="490.93" y1="1168.30" x2="490.93" y2="625.40" stroke="#262626" stroke-opacity="0.55" stroke-width="3.7" stroke-dasharray="14.2 7" clip-path="url(#cp10)"/>
<line x1="703.82" y1="1168.30" x2="703.82" y2="625.40" stroke="#262626" stroke-opacity="0.55" stroke-width="3.7" stroke-dasharray="14.2 7" clip-path="url(#cp10)"/>
<line x1="153.85" y1="1124.98" x2="703.82" y2="1124.98" stroke="#262626" stroke-opacity="0.55" stroke-width="3.7" stroke-dasharray="14.2 7" clip-path="url(#cp10)"/>
<g clip-path="url(#cp10)" fill="none" stroke-linecap="round" stroke-linejoin="round"><path d="M171.6,761.1 L180.2,767.7 L188.8,774.3 L197.4,780.9 L206.0,787.4 L214.6,794.0 L223.2,800.6 L231.8,807.2 L240.4,813.8 L249.0,820.4 L257.6,826.9 L266.2,833.5 L274.8,840.1 L283.4,846.7 L292.0,853.3 L300.6,859.8 L309.2,866.4 L317.8,873.0 L326.4,879.6 L335.0,886.2 L343.6,892.7 L352.2,899.3 L360.8,905.9 L369.4,912.5 L378.0,919.1 L386.6,925.6 L395.2,932.2 L403.8,938.8 L412.4,945.4 L421.0,952.0 L429.6,958.5 L438.2,965.1 L446.8,971.7 L455.4,978.3 L464.0,984.9 L472.7,991.4 L481.3,998.0 L489.9,1004.6 L498.5,1011.1 L507.1,1017.7 L515.7,1024.2 L524.3,1030.7 L532.9,1037.2 L541.5,1043.7 L550.1,1050.1 L558.7,1056.4 L567.3,1062.7 L575.9,1068.9 L584.5,1074.9 L593.1,1080.8 L601.7,1086.5 L610.3,1092.0 L618.9,1097.2 L627.5,1102.1 L636.1,1106.6 L644.7,1110.8 L653.3,1114.4 L661.9,1117.6 L670.5,1120.3 L679.1,1122.4 L687.7,1123.9 L696.3,1124.7 L704.9,1125.0 L713.5,1124.6 L722.1,1123.6 L730.7,1121.9 L739.3,1119.7 L747.9,1116.9 L756.5,1113.6 L765.1,1109.8 L773.7,1105.5 L782.3,1100.9 L790.9,1095.9 L799.5,1090.6 L808.1,1085.1 L816.7,1079.4 L825.3,1073.4 L833.9,1067.3 L842.5,1061.1 L851.1,1054.9 L859.7,1048.5 L868.3,1042.1 L876.9,1035.6 L885.5,1029.1 L894.1,1022.6 L902.7,1016.0 L911.3,1009.5 L919.9,1002.9 L928.5,996.4 L937.1,989.8 L945.7,983.2 L954.3,976.6 L962.9,970.1 L971.5,963.5 L980.2,956.9 L988.8,950.3 L997.4,943.7 L1006.0,937.2 L1014.6,930.6 L1023.2,924.0" stroke="#fff" stroke-width="8.5"/><path d="M171.6,761.1 L180.2,767.7 L188.8,774.3 L197.4,780.9 L206.0,787.4 L214.6,794.0 L223.2,800.6 L231.8,807.2 L240.4,813.8 L249.0,820.4 L257.6,826.9 L266.2,833.5 L274.8,840.1 L283.4,846.7 L292.0,853.3 L300.6,859.8 L309.2,866.4 L317.8,873.0 L326.4,879.6 L335.0,886.2 L343.6,892.7 L352.2,899.3 L360.8,905.9 L369.4,912.5 L378.0,919.1 L386.6,925.6 L395.2,932.2 L403.8,938.8 L412.4,945.4 L421.0,952.0 L429.6,958.5 L438.2,965.1 L446.8,971.7 L455.4,978.3 L464.0,984.9 L472.7,991.4 L481.3,998.0 L489.9,1004.6 L498.5,1011.1 L507.1,1017.7 L515.7,1024.2 L524.3,1030.7 L532.9,1037.2 L541.5,1043.7 L550.1,1050.1 L558.7,1056.4 L567.3,1062.7 L575.9,1068.9 L584.5,1074.9 L593.1,1080.8 L601.7,1086.5 L610.3,1092.0 L618.9,1097.2 L627.5,1102.1 L636.1,1106.6 L644.7,1110.8 L653.3,1114.4 L661.9,1117.6 L670.5,1120.3 L679.1,1122.4 L687.7,1123.9 L696.3,1124.7 L704.9,1125.0 L713.5,1124.6 L722.1,1123.6 L730.7,1121.9 L739.3,1119.7 L747.9,1116.9 L756.5,1113.6 L765.1,1109.8 L773.7,1105.5 L782.3,1100.9 L790.9,1095.9 L799.5,1090.6 L808.1,1085.1 L816.7,1079.4 L825.3,1073.4 L833.9,1067.3 L842.5,1061.1 L851.1,1054.9 L859.7,1048.5 L868.3,1042.1 L876.9,1035.6 L885.5,1029.1 L894.1,1022.6 L902.7,1016.0 L911.3,1009.5 L919.9,1002.9 L928.5,996.4 L937.1,989.8 L945.7,983.2 L954.3,976.6 L962.9,970.1 L971.5,963.5 L980.2,956.9 L988.8,950.3 L997.4,943.7 L1006.0,937.2 L1014.6,930.6 L1023.2,924.0" stroke="#405d4e" stroke-width="5.1"/></g>
<g clip-path="url(#cp10)" fill="none" stroke-linecap="round" stroke-linejoin="round"><path d="M171.6,1086.9 L180.2,1088.2 L188.8,1089.5 L197.4,1090.8 L206.0,1092.1 L214.6,1093.4 L223.2,1094.8 L231.8,1096.1 L240.4,1097.4 L249.0,1098.7 L257.6,1100.0 L266.2,1101.3 L274.8,1102.7 L283.4,1104.0 L292.0,1105.3 L300.6,1106.6 L309.2,1107.9 L317.8,1109.2 L326.4,1110.6 L335.0,1111.9 L343.6,1113.2 L352.2,1114.5 L360.8,1115.8 L369.4,1117.1 L378.0,1118.5 L386.6,1119.8 L395.2,1121.1 L403.8,1122.4 L412.4,1123.7 L421.0,1125.0 L429.6,1126.3 L438.2,1127.7 L446.8,1129.0 L455.4,1130.3 L464.0,1131.6 L472.7,1132.9 L481.3,1134.2 L489.9,1135.6 L498.5,1136.9 L507.1,1138.2 L515.7,1139.5 L524.3,1140.8 L532.9,1142.1 L541.5,1143.4 L550.1,1144.7 L558.7,1145.9 L567.3,1147.2 L575.9,1148.4 L584.5,1149.6 L593.1,1150.8 L601.7,1151.9 L610.3,1153.0 L618.9,1154.1 L627.5,1155.1 L636.1,1156.0 L644.7,1156.8 L653.3,1157.5 L661.9,1158.2 L670.5,1158.7 L679.1,1159.1 L687.7,1159.4 L696.3,1159.6 L704.9,1159.6 L713.5,1159.6 L722.1,1159.4 L730.7,1159.0 L739.3,1158.6 L747.9,1158.0 L756.5,1157.4 L765.1,1156.6 L773.7,1155.7 L782.3,1154.8 L790.9,1153.8 L799.5,1152.8 L808.1,1151.7 L816.7,1150.5 L825.3,1149.3 L833.9,1148.1 L842.5,1146.9 L851.1,1145.6 L859.7,1144.3 L868.3,1143.1 L876.9,1141.8 L885.5,1140.5 L894.1,1139.2 L902.7,1137.8 L911.3,1136.5 L919.9,1135.2 L928.5,1133.9 L937.1,1132.6 L945.7,1131.3 L954.3,1130.0 L962.9,1128.7 L971.5,1127.3 L980.2,1126.0 L988.8,1124.7 L997.4,1123.4 L1006.0,1122.1 L1014.6,1120.8 L1023.2,1119.4" stroke="#fff" stroke-width="8.5"/><path d="M171.6,1086.9 L180.2,1088.2 L188.8,1089.5 L197.4,1090.8 L206.0,1092.1 L214.6,1093.4 L223.2,1094.8 L231.8,1096.1 L240.4,1097.4 L249.0,1098.7 L257.6,1100.0 L266.2,1101.3 L274.8,1102.7 L283.4,1104.0 L292.0,1105.3 L300.6,1106.6 L309.2,1107.9 L317.8,1109.2 L326.4,1110.6 L335.0,1111.9 L343.6,1113.2 L352.2,1114.5 L360.8,1115.8 L369.4,1117.1 L378.0,1118.5 L386.6,1119.8 L395.2,1121.1 L403.8,1122.4 L412.4,1123.7 L421.0,1125.0 L429.6,1126.3 L438.2,1127.7 L446.8,1129.0 L455.4,1130.3 L464.0,1131.6 L472.7,1132.9 L481.3,1134.2 L489.9,1135.6 L498.5,1136.9 L507.1,1138.2 L515.7,1139.5 L524.3,1140.8 L532.9,1142.1 L541.5,1143.4 L550.1,1144.7 L558.7,1145.9 L567.3,1147.2 L575.9,1148.4 L584.5,1149.6 L593.1,1150.8 L601.7,1151.9 L610.3,1153.0 L618.9,1154.1 L627.5,1155.1 L636.1,1156.0 L644.7,1156.8 L653.3,1157.5 L661.9,1158.2 L670.5,1158.7 L679.1,1159.1 L687.7,1159.4 L696.3,1159.6 L704.9,1159.6 L713.5,1159.6 L722.1,1159.4 L730.7,1159.0 L739.3,1158.6 L747.9,1158.0 L756.5,1157.4 L765.1,1156.6 L773.7,1155.7 L782.3,1154.8 L790.9,1153.8 L799.5,1152.8 L808.1,1151.7 L816.7,1150.5 L825.3,1149.3 L833.9,1148.1 L842.5,1146.9 L851.1,1145.6 L859.7,1144.3 L868.3,1143.1 L876.9,1141.8 L885.5,1140.5 L894.1,1139.2 L902.7,1137.8 L911.3,1136.5 L919.9,1135.2 L928.5,1133.9 L937.1,1132.6 L945.7,1131.3 L954.3,1130.0 L962.9,1128.7 L971.5,1127.3 L980.2,1126.0 L988.8,1124.7 L997.4,1123.4 L1006.0,1122.1 L1014.6,1120.8 L1023.2,1119.4" stroke="#456cb1" stroke-width="5.1"/></g>
<g clip-path="url(#cp10)" fill="none" stroke-linecap="round" stroke-linejoin="round"><path d="M171.6,-867.6 L180.2,-834.7 L188.8,-801.8 L197.4,-768.9 L206.0,-736.0 L214.6,-703.1 L223.2,-670.2 L231.8,-637.3 L240.4,-604.4 L249.0,-571.4 L257.6,-538.5 L266.2,-505.6 L274.8,-472.7 L283.4,-439.8 L292.0,-406.9 L300.6,-374.0 L309.2,-341.1 L317.8,-308.2 L326.4,-275.3 L335.0,-242.4 L343.6,-209.5 L352.2,-176.6 L360.8,-143.7 L369.4,-110.8 L378.0,-77.9 L386.6,-45.0 L395.2,-12.1 L403.8,20.8 L412.4,53.7 L421.0,86.6 L429.6,119.5 L438.2,152.4 L446.8,185.3 L455.4,218.2 L464.0,251.1 L472.7,283.9 L481.3,316.8 L489.9,349.6 L498.5,382.4 L507.1,415.2 L515.7,447.9 L524.3,480.5 L532.9,512.9 L541.5,545.2 L550.1,577.2 L558.7,609.0 L567.3,640.3 L575.9,671.2 L584.5,701.4 L593.1,730.8 L601.7,759.3 L610.3,786.7 L618.9,812.7 L627.5,837.2 L636.1,859.9 L644.7,880.6 L653.3,899.0 L661.9,915.0 L670.5,928.3 L679.1,938.7 L687.7,946.1 L696.3,950.5 L704.9,951.7 L713.5,949.7 L722.1,944.6 L730.7,936.4 L739.3,925.2 L747.9,911.2 L756.5,894.6 L765.1,875.6 L773.7,854.4 L782.3,831.3 L790.9,806.4 L799.5,780.0 L808.1,752.3 L816.7,723.6 L825.3,693.9 L833.9,663.5 L842.5,632.5 L851.1,601.1 L859.7,569.3 L868.3,537.1 L876.9,504.8 L885.5,472.3 L894.1,439.7 L902.7,407.0 L911.3,374.2 L919.9,341.4 L928.5,308.6 L937.1,275.7 L945.7,242.9 L954.3,210.0 L962.9,177.1 L971.5,144.2 L980.2,111.3 L988.8,78.4 L997.4,45.5 L1006.0,12.6 L1014.6,-20.3 L1023.2,-53.2" stroke="#fff" stroke-width="8.5"/><path d="M171.6,-867.6 L180.2,-834.7 L188.8,-801.8 L197.4,-768.9 L206.0,-736.0 L214.6,-703.1 L223.2,-670.2 L231.8,-637.3 L240.4,-604.4 L249.0,-571.4 L257.6,-538.5 L266.2,-505.6 L274.8,-472.7 L283.4,-439.8 L292.0,-406.9 L300.6,-374.0 L309.2,-341.1 L317.8,-308.2 L326.4,-275.3 L335.0,-242.4 L343.6,-209.5 L352.2,-176.6 L360.8,-143.7 L369.4,-110.8 L378.0,-77.9 L386.6,-45.0 L395.2,-12.1 L403.8,20.8 L412.4,53.7 L421.0,86.6 L429.6,119.5 L438.2,152.4 L446.8,185.3 L455.4,218.2 L464.0,251.1 L472.7,283.9 L481.3,316.8 L489.9,349.6 L498.5,382.4 L507.1,415.2 L515.7,447.9 L524.3,480.5 L532.9,512.9 L541.5,545.2 L550.1,577.2 L558.7,609.0 L567.3,640.3 L575.9,671.2 L584.5,701.4 L593.1,730.8 L601.7,759.3 L610.3,786.7 L618.9,812.7 L627.5,837.2 L636.1,859.9 L644.7,880.6 L653.3,899.0 L661.9,915.0 L670.5,928.3 L679.1,938.7 L687.7,946.1 L696.3,950.5 L704.9,951.7 L713.5,949.7 L722.1,944.6 L730.7,936.4 L739.3,925.2 L747.9,911.2 L756.5,894.6 L765.1,875.6 L773.7,854.4 L782.3,831.3 L790.9,806.4 L799.5,780.0 L808.1,752.3 L816.7,723.6 L825.3,693.9 L833.9,663.5 L842.5,632.5 L851.1,601.1 L859.7,569.3 L868.3,537.1 L876.9,504.8 L885.5,472.3 L894.1,439.7 L902.7,407.0 L911.3,374.2 L919.9,341.4 L928.5,308.6 L937.1,275.7 L945.7,242.9 L954.3,210.0 L962.9,177.1 L971.5,144.2 L980.2,111.3 L988.8,78.4 L997.4,45.5 L1006.0,12.6 L1014.6,-20.3 L1023.2,-53.2" stroke="#dd8350" stroke-width="5.1"/></g>
<circle cx="704.90" cy="1168.30" r="16" fill="orange" clip-path="url(#cp10)"/>
<rect x="153.85" y="625.40" width="887.05" height="542.90" fill="none" stroke="#262626" stroke-width="3.5"/>
<path d="M1049.0,1168.3 L1049.0,1168.3 L1050.8,1168.3 L1052.6,1168.3 L1054.3,1168.3 L1056.1,1168.3 L1057.9,1168.3 L1059.7,1168.3 L1061.4,1168.3 L1063.2,1168.3 L1065.0,1168.3 L1066.8,1168.3 L1068.5,1168.3 L1070.3,1168.3 L1072.1,1168.3 L1073.9,1168.3 L1075.6,1168.3 L1077.4,1168.3 L1079.2,1168.3 L1081.0,1168.3 L1082.7,1168.3 L1084.5,1168.3 L1086.3,1168.3 L1088.1,1168.3 L1089.8,1168.3 L1091.6,1168.3 L1093.4,1168.3 L1095.2,1168.3 L1096.9,1168.3 L1098.7,1168.3 L1100.5,1168.3 L1102.3,1168.3 L1104.0,1168.3 L1105.8,1168.3 L1107.6,1168.3 L1109.4,1168.3 L1111.1,1168.3 L1112.9,1168.3 L1114.7,1168.3 L1116.5,1168.3 L1118.2,1168.3 L1120.0,1168.3 L1121.8,1168.3 L1123.6,1168.3 L1125.3,1168.3 L1127.1,1168.3 L1128.9,1168.3 L1130.7,1168.3 L1132.4,1168.3 L1134.2,1168.3 L1136.0,1168.3 L1137.8,1168.3 L1139.6,1168.3 L1141.3,1168.3 L1143.1,1168.3 L1144.9,1168.3 L1146.7,1168.3 L1148.4,1168.3 L1150.2,1168.3 L1152.0,1168.3 L1153.8,1168.3 L1155.5,1168.3 L1157.3,1168.3 L1159.1,1168.3 L1160.9,1168.3 L1162.6,1168.3 L1164.4,1168.3 L1166.2,1168.3 L1168.0,1168.3 L1169.7,1168.3 L1171.5,1168.3 L1173.3,1168.3 L1175.1,1168.3 L1176.8,1168.3 L1178.6,1168.3 L1180.4,1168.3 L1182.2,1168.3 L1183.9,1168.3 L1185.7,1168.3 L1187.5,1168.3 L1189.3,1168.3 L1191.0,1168.3 L1192.8,1168.3 L1194.6,1168.3 L1196.4,1168.3 L1198.1,1168.3 L1199.9,1168.3 L1201.7,1168.3 L1203.5,1168.3 L1205.2,1168.3 L1207.0,1168.3 L1208.8,1168.3 L1210.6,1168.3 L1212.3,1168.3 L1214.1,1168.3 L1215.9,1168.3 L1217.7,1168.3 L1219.4,1168.3 L1221.2,1168.3 L1223.0,1168.3 L1224.8,1168.3 L1226.6,1168.3 L1228.3,1168.3 L1230.1,1168.3 L1231.9,1168.3 L1233.7,1168.3 L1235.4,1168.3 L1237.2,1168.3 L1239.0,1168.3 L1240.8,1168.3 L1242.5,1168.3 L1244.3,1168.3 L1246.1,1168.3 L1247.9,1168.3 L1249.6,1168.3 L1251.4,1168.3 L1253.2,1168.3 L1255.0,1168.3 L1256.7,1168.3 L1258.5,1168.3 L1260.3,1168.3 L1262.1,1168.3 L1263.8,1168.3 L1265.6,1168.3 L1267.4,1168.3 L1269.2,1168.3 L1270.9,1168.3 L1272.7,1168.3 L1274.5,1168.3 L1276.3,1168.3 L1278.0,1168.3 L1279.8,1168.3 L1281.6,1168.3 L1283.4,1168.3 L1285.1,1168.3 L1286.9,1168.3 L1288.7,1168.3 L1290.5,1168.3 L1292.2,1168.3 L1294.0,1168.3 L1295.8,1168.3 L1297.6,1168.3 L1299.3,1168.3 L1301.1,1168.2 L1302.9,1168.2 L1304.7,1168.2 L1306.4,1168.2 L1308.2,1168.2 L1310.0,1168.2 L1311.8,1168.2 L1313.5,1168.2 L1315.3,1168.2 L1317.1,1168.2 L1318.9,1168.2 L1320.7,1168.1 L1322.4,1168.1 L1324.2,1168.1 L1326.0,1168.1 L1327.8,1168.1 L1329.5,1168.1 L1331.3,1168.0 L1333.1,1168.0 L1334.9,1168.0 L1336.6,1167.9 L1338.4,1167.9 L1340.2,1167.9 L1342.0,1167.8 L1343.7,1167.8 L1345.5,1167.7 L1347.3,1167.7 L1349.1,1167.6 L1350.8,1167.6 L1352.6,1167.5 L1354.4,1167.4 L1356.2,1167.3 L1357.9,1167.3 L1359.7,1167.2 L1361.5,1167.1 L1363.3,1167.0 L1365.0,1166.8 L1366.8,1166.7 L1368.6,1166.6 L1370.4,1166.4 L1372.1,1166.3 L1373.9,1166.1 L1375.7,1165.9 L1377.5,1165.7 L1379.2,1165.5 L1381.0,1165.3 L1382.8,1165.1 L1384.6,1164.8 L1386.3,1164.5 L1388.1,1164.2 L1389.9,1163.9 L1391.7,1163.6 L1393.4,1163.3 L1395.2,1162.9 L1397.0,1162.5 L1398.8,1162.0 L1400.5,1161.6 L1402.3,1161.1 L1404.1,1160.6 L1405.9,1160.0 L1407.7,1159.5 L1409.4,1158.8 L1411.2,1158.2 L1413.0,1157.5 L1414.8,1156.8 L1416.5,1156.0 L1418.3,1155.2 L1420.1,1154.3 L1421.9,1153.4 L1423.6,1152.5 L1425.4,1151.5 L1427.2,1150.4 L1429.0,1149.3 L1430.7,1148.1 L1432.5,1146.9 L1434.3,1145.6 L1436.1,1144.3 L1437.8,1142.9 L1439.6,1141.4 L1441.4,1139.8 L1443.2,1138.2 L1444.9,1136.5 L1446.7,1134.8 L1448.5,1132.9 L1450.3,1131.0 L1452.0,1129.0 L1453.8,1126.9 L1455.6,1124.7 L1457.4,1122.5 L1459.1,1120.2 L1460.9,1117.7 L1462.7,1115.2 L1464.5,1112.6 L1466.2,1109.9 L1468.0,1107.2 L1469.8,1104.3 L1471.6,1101.3 L1473.3,1098.3 L1475.1,1095.1 L1476.9,1091.9 L1478.7,1088.5 L1480.4,1085.1 L1482.2,1081.6 L1484.0,1077.9 L1485.8,1074.2 L1487.5,1070.4 L1489.3,1066.5 L1491.1,1062.5 L1492.9,1058.4 L1494.7,1054.3 L1496.4,1050.0 L1498.2,1045.7 L1500.0,1041.3 L1501.8,1036.8 L1503.5,1032.2 L1505.3,1027.6 L1507.1,1022.9 L1508.9,1018.2 L1510.6,1013.4 L1512.4,1008.5 L1514.2,1003.6 L1516.0,998.6 L1517.7,993.6 L1519.5,988.6 L1521.3,983.5 L1523.1,978.4 L1524.8,973.3 L1526.6,968.2 L1528.4,963.0 L1530.2,957.9 L1531.9,952.8 L1533.7,947.7 L1535.5,942.6 L1537.3,937.5 L1539.0,932.5 L1540.8,927.5 L1542.6,922.6 L1544.4,917.7 L1546.1,912.9 L1547.9,908.1 L1549.7,903.4 L1551.5,898.8 L1553.2,894.3 L1555.0,889.9 L1556.8,885.6 L1558.6,881.4 L1560.3,877.4 L1562.1,873.5 L1563.9,869.6 L1565.7,866.0 L1567.4,862.5 L1569.2,859.1 L1571.0,855.9 L1572.8,852.9 L1574.5,850.0 L1576.3,847.3 L1578.1,844.8 L1579.9,842.4 L1581.7,840.3 L1583.4,838.3 L1585.2,836.6 L1587.0,835.0 L1588.8,833.7 L1590.5,832.5 L1592.3,831.6 L1594.1,830.8 L1595.9,830.3 L1597.6,830.0 L1599.4,829.9 L1601.2,830.0 L1603.0,830.3 L1604.7,830.8 L1606.5,831.6 L1608.3,832.5 L1610.1,833.7 L1611.8,835.0 L1613.6,836.6 L1615.4,838.3 L1617.2,840.3 L1618.9,842.4 L1620.7,844.8 L1622.5,847.3 L1624.3,850.0 L1626.0,852.9 L1627.8,855.9 L1629.6,859.1 L1631.4,862.5 L1633.1,866.0 L1634.9,869.6 L1636.7,873.5 L1638.5,877.4 L1640.2,881.4 L1642.0,885.6 L1643.8,889.9 L1645.6,894.3 L1647.3,898.8 L1649.1,903.4 L1650.9,908.1 L1652.7,912.9 L1654.4,917.7 L1656.2,922.6 L1658.0,927.5 L1659.8,932.5 L1661.5,937.5 L1663.3,942.6 L1665.1,947.7 L1666.9,952.8 L1668.6,957.9 L1670.4,963.0 L1672.2,968.2 L1674.0,973.3 L1675.8,978.4 L1677.5,983.5 L1679.3,988.6 L1681.1,993.6 L1682.9,998.6 L1684.6,1003.6 L1686.4,1008.5 L1688.2,1013.4 L1690.0,1018.2 L1691.7,1022.9 L1693.5,1027.6 L1695.3,1032.2 L1697.1,1036.8 L1698.8,1041.3 L1700.6,1045.7 L1702.4,1050.0 L1704.2,1054.3 L1705.9,1058.4 L1707.7,1062.5 L1709.5,1066.5 L1711.3,1070.4 L1713.0,1074.2 L1714.8,1077.9 L1716.6,1081.6 L1718.4,1085.1 L1720.1,1088.5 L1721.9,1091.9 L1723.7,1095.1 L1725.5,1098.3 L1727.2,1101.3 L1729.0,1104.3 L1730.8,1107.2 L1732.6,1109.9 L1734.3,1112.6 L1736.1,1115.2 L1737.9,1117.7 L1739.7,1120.2 L1741.4,1122.5 L1743.2,1124.7 L1745.0,1126.9 L1746.8,1129.0 L1748.5,1131.0 L1750.3,1132.9 L1752.1,1134.8 L1753.9,1136.5 L1755.6,1138.2 L1757.4,1139.8 L1759.2,1141.4 L1761.0,1142.9 L1762.8,1144.3 L1764.5,1145.6 L1766.3,1146.9 L1768.1,1148.1 L1769.9,1149.3 L1771.6,1150.4 L1773.4,1151.5 L1775.2,1152.5 L1777.0,1153.4 L1778.7,1154.3 L1780.5,1155.2 L1782.3,1156.0 L1784.1,1156.8 L1785.8,1157.5 L1787.6,1158.2 L1789.4,1158.8 L1791.2,1159.5 L1792.9,1160.0 L1794.7,1160.6 L1796.5,1161.1 L1798.3,1161.6 L1800.0,1162.0 L1801.8,1162.5 L1803.6,1162.9 L1805.4,1163.3 L1807.1,1163.6 L1808.9,1163.9 L1810.7,1164.2 L1812.5,1164.5 L1814.2,1164.8 L1816.0,1165.1 L1817.8,1165.3 L1819.6,1165.5 L1821.3,1165.7 L1823.1,1165.9 L1824.9,1166.1 L1826.7,1166.3 L1828.4,1166.4 L1830.2,1166.6 L1832.0,1166.7 L1833.8,1166.8 L1835.5,1167.0 L1837.3,1167.1 L1839.1,1167.2 L1840.9,1167.3 L1842.6,1167.3 L1844.4,1167.4 L1846.2,1167.5 L1848.0,1167.6 L1849.8,1167.6 L1851.5,1167.7 L1853.3,1167.7 L1855.1,1167.8 L1856.9,1167.8 L1858.6,1167.9 L1860.4,1167.9 L1862.2,1167.9 L1864.0,1168.0 L1865.7,1168.0 L1867.5,1168.0 L1869.3,1168.1 L1871.1,1168.1 L1872.8,1168.1 L1874.6,1168.1 L1876.4,1168.1 L1878.2,1168.1 L1879.9,1168.2 L1881.7,1168.2 L1883.5,1168.2 L1885.3,1168.2 L1887.0,1168.2 L1888.8,1168.2 L1890.6,1168.2 L1892.4,1168.2 L1894.1,1168.2 L1895.9,1168.2 L1897.7,1168.2 L1899.5,1168.3 L1901.2,1168.3 L1903.0,1168.3 L1904.8,1168.3 L1906.6,1168.3 L1908.3,1168.3 L1910.1,1168.3 L1911.9,1168.3 L1913.7,1168.3 L1915.4,1168.3 L1917.2,1168.3 L1919.0,1168.3 L1920.8,1168.3 L1922.5,1168.3 L1924.3,1168.3 L1926.1,1168.3 L1927.9,1168.3 L1929.6,1168.3 L1931.4,1168.3 L1933.2,1168.3 L1935.0,1168.3 L1936.8,1168.3 L1936.8,1168.3Z" fill="#a4cdd4" fill-opacity="1.00" stroke="none" clip-path="url(#cp11)"/>
<path d="M1049.0,1168.3 L1050.8,1168.3 L1052.6,1168.3 L1054.3,1168.3 L1056.1,1168.3 L1057.9,1168.3 L1059.7,1168.3 L1061.4,1168.3 L1063.2,1168.3 L1065.0,1168.3 L1066.8,1168.3 L1068.5,1168.3 L1070.3,1168.3 L1072.1,1168.3 L1073.9,1168.3 L1075.6,1168.3 L1077.4,1168.3 L1079.2,1168.3 L1081.0,1168.3 L1082.7,1168.3 L1084.5,1168.3 L1086.3,1168.3 L1088.1,1168.3 L1089.8,1168.3 L1091.6,1168.3 L1093.4,1168.3 L1095.2,1168.3 L1096.9,1168.3 L1098.7,1168.3 L1100.5,1168.3 L1102.3,1168.3 L1104.0,1168.3 L1105.8,1168.3 L1107.6,1168.3 L1109.4,1168.3 L1111.1,1168.3 L1112.9,1168.3 L1114.7,1168.3 L1116.5,1168.3 L1118.2,1168.3 L1120.0,1168.3 L1121.8,1168.3 L1123.6,1168.3 L1125.3,1168.3 L1127.1,1168.3 L1128.9,1168.3 L1130.7,1168.3 L1132.4,1168.3 L1134.2,1168.3 L1136.0,1168.3 L1137.8,1168.3 L1139.6,1168.3 L1141.3,1168.3 L1143.1,1168.3 L1144.9,1168.3 L1146.7,1168.3 L1148.4,1168.3 L1150.2,1168.3 L1152.0,1168.3 L1153.8,1168.3 L1155.5,1168.3 L1157.3,1168.3 L1159.1,1168.3 L1160.9,1168.3 L1162.6,1168.3 L1164.4,1168.3 L1166.2,1168.3 L1168.0,1168.3 L1169.7,1168.3 L1171.5,1168.3 L1173.3,1168.3 L1175.1,1168.3 L1176.8,1168.3 L1178.6,1168.3 L1180.4,1168.3 L1182.2,1168.3 L1183.9,1168.3 L1185.7,1168.3 L1187.5,1168.3 L1189.3,1168.3 L1191.0,1168.3 L1192.8,1168.3 L1194.6,1168.3 L1196.4,1168.3 L1198.1,1168.3 L1199.9,1168.3 L1201.7,1168.3 L1203.5,1168.3 L1205.2,1168.3 L1207.0,1168.3 L1208.8,1168.3 L1210.6,1168.3 L1212.3,1168.3 L1214.1,1168.3 L1215.9,1168.3 L1217.7,1168.3 L1219.4,1168.3 L1221.2,1168.3 L1223.0,1168.3 L1224.8,1168.3 L1226.6,1168.3 L1228.3,1168.3 L1230.1,1168.3 L1231.9,1168.3 L1233.7,1168.3 L1235.4,1168.3 L1237.2,1168.3 L1239.0,1168.3 L1240.8,1168.3 L1242.5,1168.3 L1244.3,1168.3 L1246.1,1168.3 L1247.9,1168.3 L1249.6,1168.3 L1251.4,1168.3 L1253.2,1168.3 L1255.0,1168.3 L1256.7,1168.3 L1258.5,1168.3 L1260.3,1168.3 L1262.1,1168.3 L1263.8,1168.3 L1265.6,1168.3 L1267.4,1168.3 L1269.2,1168.3 L1270.9,1168.3 L1272.7,1168.3 L1274.5,1168.3 L1276.3,1168.3 L1278.0,1168.3 L1279.8,1168.3 L1281.6,1168.3 L1283.4,1168.3 L1285.1,1168.3 L1286.9,1168.3 L1288.7,1168.3 L1290.5,1168.3 L1292.2,1168.3 L1294.0,1168.3 L1295.8,1168.3 L1297.6,1168.3 L1299.3,1168.3 L1301.1,1168.2 L1302.9,1168.2 L1304.7,1168.2 L1306.4,1168.2 L1308.2,1168.2 L1310.0,1168.2 L1311.8,1168.2 L1313.5,1168.2 L1315.3,1168.2 L1317.1,1168.2 L1318.9,1168.2 L1320.7,1168.1 L1322.4,1168.1 L1324.2,1168.1 L1326.0,1168.1 L1327.8,1168.1 L1329.5,1168.1 L1331.3,1168.0 L1333.1,1168.0 L1334.9,1168.0 L1336.6,1167.9 L1338.4,1167.9 L1340.2,1167.9 L1342.0,1167.8 L1343.7,1167.8 L1345.5,1167.7 L1347.3,1167.7 L1349.1,1167.6 L1350.8,1167.6 L1352.6,1167.5 L1354.4,1167.4 L1356.2,1167.3 L1357.9,1167.3 L1359.7,1167.2 L1361.5,1167.1 L1363.3,1167.0 L1365.0,1166.8 L1366.8,1166.7 L1368.6,1166.6 L1370.4,1166.4 L1372.1,1166.3 L1373.9,1166.1 L1375.7,1165.9 L1377.5,1165.7 L1379.2,1165.5 L1381.0,1165.3 L1382.8,1165.1 L1384.6,1164.8 L1386.3,1164.5 L1388.1,1164.2 L1389.9,1163.9 L1391.7,1163.6 L1393.4,1163.3 L1395.2,1162.9 L1397.0,1162.5 L1398.8,1162.0 L1400.5,1161.6 L1402.3,1161.1 L1404.1,1160.6 L1405.9,1160.0 L1407.7,1159.5 L1409.4,1158.8 L1411.2,1158.2 L1413.0,1157.5 L1414.8,1156.8 L1416.5,1156.0 L1418.3,1155.2 L1420.1,1154.3 L1421.9,1153.4 L1423.6,1152.5 L1425.4,1151.5 L1427.2,1150.4 L1429.0,1149.3 L1430.7,1148.1 L1432.5,1146.9 L1434.3,1145.6 L1436.1,1144.3 L1437.8,1142.9 L1439.6,1141.4 L1441.4,1139.8 L1443.2,1138.2 L1444.9,1136.5 L1446.7,1134.8 L1448.5,1132.9 L1450.3,1131.0 L1452.0,1129.0 L1453.8,1126.9 L1455.6,1124.7 L1457.4,1122.5 L1459.1,1120.2 L1460.9,1117.7 L1462.7,1115.2 L1464.5,1112.6 L1466.2,1109.9 L1468.0,1107.2 L1469.8,1104.3 L1471.6,1101.3 L1473.3,1098.3 L1475.1,1095.1 L1476.9,1091.9 L1478.7,1088.5 L1480.4,1085.1 L1482.2,1081.6 L1484.0,1077.9 L1485.8,1074.2 L1487.5,1070.4 L1489.3,1066.5 L1491.1,1062.5 L1492.9,1058.4 L1494.7,1054.3 L1496.4,1050.0 L1498.2,1045.7 L1500.0,1041.3 L1501.8,1036.8 L1503.5,1032.2 L1505.3,1027.6 L1507.1,1022.9 L1508.9,1018.2 L1510.6,1013.4 L1512.4,1008.5 L1514.2,1003.6 L1516.0,998.6 L1517.7,993.6 L1519.5,988.6 L1521.3,983.5 L1523.1,978.4 L1524.8,973.3 L1526.6,968.2 L1528.4,963.0 L1530.2,957.9 L1531.9,952.8 L1533.7,947.7 L1535.5,942.6 L1537.3,937.5 L1539.0,932.5 L1540.8,927.5 L1542.6,922.6 L1544.4,917.7 L1546.1,912.9 L1547.9,908.1 L1549.7,903.4 L1551.5,898.8 L1553.2,894.3 L1555.0,889.9 L1556.8,885.6 L1558.6,881.4 L1560.3,877.4 L1562.1,873.5 L1563.9,869.6 L1565.7,866.0 L1567.4,862.5 L1569.2,859.1 L1571.0,855.9 L1572.8,852.9 L1574.5,850.0 L1576.3,847.3 L1578.1,844.8 L1579.9,842.4 L1581.7,840.3 L1583.4,838.3 L1585.2,836.6 L1587.0,835.0 L1588.8,833.7 L1590.5,832.5 L1592.3,831.6 L1594.1,830.8 L1595.9,830.3 L1597.6,830.0 L1599.4,829.9 L1601.2,830.0 L1603.0,830.3 L1604.7,830.8 L1606.5,831.6 L1608.3,832.5 L1610.1,833.7 L1611.8,835.0 L1613.6,836.6 L1615.4,838.3 L1617.2,840.3 L1618.9,842.4 L1620.7,844.8 L1622.5,847.3 L1624.3,850.0 L1626.0,852.9 L1627.8,855.9 L1629.6,859.1 L1631.4,862.5 L1633.1,866.0 L1634.9,869.6 L1636.7,873.5 L1638.5,877.4 L1640.2,881.4 L1642.0,885.6 L1643.8,889.9 L1645.6,894.3 L1647.3,898.8 L1649.1,903.4 L1650.9,908.1 L1652.7,912.9 L1654.4,917.7 L1656.2,922.6 L1658.0,927.5 L1659.8,932.5 L1661.5,937.5 L1663.3,942.6 L1665.1,947.7 L1666.9,952.8 L1668.6,957.9 L1670.4,963.0 L1672.2,968.2 L1674.0,973.3 L1675.8,978.4 L1677.5,983.5 L1679.3,988.6 L1681.1,993.6 L1682.9,998.6 L1684.6,1003.6 L1686.4,1008.5 L1688.2,1013.4 L1690.0,1018.2 L1691.7,1022.9 L1693.5,1027.6 L1695.3,1032.2 L1697.1,1036.8 L1698.8,1041.3 L1700.6,1045.7 L1702.4,1050.0 L1704.2,1054.3 L1705.9,1058.4 L1707.7,1062.5 L1709.5,1066.5 L1711.3,1070.4 L1713.0,1074.2 L1714.8,1077.9 L1716.6,1081.6 L1718.4,1085.1 L1720.1,1088.5 L1721.9,1091.9 L1723.7,1095.1 L1725.5,1098.3 L1727.2,1101.3 L1729.0,1104.3 L1730.8,1107.2 L1732.6,1109.9 L1734.3,1112.6 L1736.1,1115.2 L1737.9,1117.7 L1739.7,1120.2 L1741.4,1122.5 L1743.2,1124.7 L1745.0,1126.9 L1746.8,1129.0 L1748.5,1131.0 L1750.3,1132.9 L1752.1,1134.8 L1753.9,1136.5 L1755.6,1138.2 L1757.4,1139.8 L1759.2,1141.4 L1761.0,1142.9 L1762.8,1144.3 L1764.5,1145.6 L1766.3,1146.9 L1768.1,1148.1 L1769.9,1149.3 L1771.6,1150.4 L1773.4,1151.5 L1775.2,1152.5 L1777.0,1153.4 L1778.7,1154.3 L1780.5,1155.2 L1782.3,1156.0 L1784.1,1156.8 L1785.8,1157.5 L1787.6,1158.2 L1789.4,1158.8 L1791.2,1159.5 L1792.9,1160.0 L1794.7,1160.6 L1796.5,1161.1 L1798.3,1161.6 L1800.0,1162.0 L1801.8,1162.5 L1803.6,1162.9 L1805.4,1163.3 L1807.1,1163.6 L1808.9,1163.9 L1810.7,1164.2 L1812.5,1164.5 L1814.2,1164.8 L1816.0,1165.1 L1817.8,1165.3 L1819.6,1165.5 L1821.3,1165.7 L1823.1,1165.9 L1824.9,1166.1 L1826.7,1166.3 L1828.4,1166.4 L1830.2,1166.6 L1832.0,1166.7 L1833.8,1166.8 L1835.5,1167.0 L1837.3,1167.1 L1839.1,1167.2 L1840.9,1167.3 L1842.6,1167.3 L1844.4,1167.4 L1846.2,1167.5 L1848.0,1167.6 L1849.8,1167.6 L1851.5,1167.7 L1853.3,1167.7 L1855.1,1167.8 L1856.9,1167.8 L1858.6,1167.9 L1860.4,1167.9 L1862.2,1167.9 L1864.0,1168.0 L1865.7,1168.0 L1867.5,1168.0 L1869.3,1168.1 L1871.1,1168.1 L1872.8,1168.1 L1874.6,1168.1 L1876.4,1168.1 L1878.2,1168.1 L1879.9,1168.2 L1881.7,1168.2 L1883.5,1168.2 L1885.3,1168.2 L1887.0,1168.2 L1888.8,1168.2 L1890.6,1168.2 L1892.4,1168.2 L1894.1,1168.2 L1895.9,1168.2 L1897.7,1168.2 L1899.5,1168.3 L1901.2,1168.3 L1903.0,1168.3 L1904.8,1168.3 L1906.6,1168.3 L1908.3,1168.3 L1910.1,1168.3 L1911.9,1168.3 L1913.7,1168.3 L1915.4,1168.3 L1917.2,1168.3 L1919.0,1168.3 L1920.8,1168.3 L1922.5,1168.3 L1924.3,1168.3 L1926.1,1168.3 L1927.9,1168.3 L1929.6,1168.3 L1931.4,1168.3 L1933.2,1168.3 L1935.0,1168.3 L1936.8,1168.3" fill="none" stroke="#7db7c3" stroke-width="1.30" clip-path="url(#cp11)"/>
<line x1="1386.35" y1="1168.30" x2="1386.35" y2="625.40" stroke="#262626" stroke-opacity="0.55" stroke-width="3.7" stroke-dasharray="14.2 7" clip-path="url(#cp11)"/>
<line x1="1599.40" y1="1168.30" x2="1599.40" y2="625.40" stroke="#262626" stroke-opacity="0.55" stroke-width="3.7" stroke-dasharray="14.2 7" clip-path="url(#cp11)"/>
<g clip-path="url(#cp11)" fill="none" stroke-linecap="round" stroke-linejoin="round"><path d="M1066.8,150.8 L1075.4,167.3 L1084.0,183.7 L1092.6,200.1 L1101.2,216.6 L1109.8,233.0 L1118.4,249.5 L1127.0,265.9 L1135.6,282.3 L1144.2,298.8 L1152.8,315.2 L1161.4,331.6 L1170.1,348.1 L1178.7,364.5 L1187.3,381.0 L1195.9,397.4 L1204.5,413.8 L1213.1,430.3 L1221.7,446.7 L1230.3,463.2 L1238.9,479.6 L1247.5,496.0 L1256.1,512.5 L1264.8,528.9 L1273.4,545.3 L1282.0,561.8 L1290.6,578.2 L1299.2,594.7 L1307.8,611.1 L1316.4,627.5 L1325.0,644.0 L1333.6,660.4 L1342.2,676.8 L1350.8,693.3 L1359.4,709.7 L1368.1,726.1 L1376.7,742.6 L1385.3,759.0 L1393.9,1011.1 L1402.5,1017.6 L1411.1,1024.1 L1419.7,1030.6 L1428.3,1037.1 L1436.9,1043.5 L1445.5,1049.9 L1454.1,1056.2 L1462.7,1062.4 L1471.4,1068.5 L1480.0,1074.4 L1488.6,1080.2 L1497.2,1085.8 L1505.8,1091.1 L1514.4,1096.1 L1523.0,1100.8 L1531.6,1105.0 L1540.2,1108.9 L1548.8,1112.2 L1557.4,1114.9 L1566.0,1117.1 L1574.7,1118.6 L1583.3,1119.4 L1591.9,1119.6 L1600.5,1119.0 L1609.1,1117.7 L1617.7,1115.7 L1626.3,1113.0 L1634.9,1109.7 L1643.5,1105.7 L1652.1,1101.1 L1660.7,1096.0 L1669.3,1090.4 L1678.0,1084.3 L1686.6,1077.9 L1695.2,1071.1 L1703.8,1064.0 L1712.4,1056.7 L1721.0,1049.2 L1729.6,1041.5 L1738.2,1033.7 L1746.8,1025.8 L1755.4,1017.8 L1764.0,1009.7 L1772.7,1001.6 L1781.3,993.5 L1789.9,985.3 L1798.5,977.1 L1807.1,968.9 L1815.7,960.7 L1824.3,952.4 L1832.9,944.2 L1841.5,936.0 L1850.1,927.7 L1858.7,919.5 L1867.3,911.2 L1876.0,903.0 L1884.6,894.8 L1893.2,886.5 L1901.8,878.3 L1910.4,870.0 L1919.0,861.8" stroke="#fff" stroke-width="8.5"/><path d="M1066.8,150.8 L1075.4,167.3 L1084.0,183.7 L1092.6,200.1 L1101.2,216.6 L1109.8,233.0 L1118.4,249.5 L1127.0,265.9 L1135.6,282.3 L1144.2,298.8 L1152.8,315.2 L1161.4,331.6 L1170.1,348.1 L1178.7,364.5 L1187.3,381.0 L1195.9,397.4 L1204.5,413.8 L1213.1,430.3 L1221.7,446.7 L1230.3,463.2 L1238.9,479.6 L1247.5,496.0 L1256.1,512.5 L1264.8,528.9 L1273.4,545.3 L1282.0,561.8 L1290.6,578.2 L1299.2,594.7 L1307.8,611.1 L1316.4,627.5 L1325.0,644.0 L1333.6,660.4 L1342.2,676.8 L1350.8,693.3 L1359.4,709.7 L1368.1,726.1 L1376.7,742.6 L1385.3,759.0 L1393.9,1011.1 L1402.5,1017.6 L1411.1,1024.1 L1419.7,1030.6 L1428.3,1037.1 L1436.9,1043.5 L1445.5,1049.9 L1454.1,1056.2 L1462.7,1062.4 L1471.4,1068.5 L1480.0,1074.4 L1488.6,1080.2 L1497.2,1085.8 L1505.8,1091.1 L1514.4,1096.1 L1523.0,1100.8 L1531.6,1105.0 L1540.2,1108.9 L1548.8,1112.2 L1557.4,1114.9 L1566.0,1117.1 L1574.7,1118.6 L1583.3,1119.4 L1591.9,1119.6 L1600.5,1119.0 L1609.1,1117.7 L1617.7,1115.7 L1626.3,1113.0 L1634.9,1109.7 L1643.5,1105.7 L1652.1,1101.1 L1660.7,1096.0 L1669.3,1090.4 L1678.0,1084.3 L1686.6,1077.9 L1695.2,1071.1 L1703.8,1064.0 L1712.4,1056.7 L1721.0,1049.2 L1729.6,1041.5 L1738.2,1033.7 L1746.8,1025.8 L1755.4,1017.8 L1764.0,1009.7 L1772.7,1001.6 L1781.3,993.5 L1789.9,985.3 L1798.5,977.1 L1807.1,968.9 L1815.7,960.7 L1824.3,952.4 L1832.9,944.2 L1841.5,936.0 L1850.1,927.7 L1858.7,919.5 L1867.3,911.2 L1876.0,903.0 L1884.6,894.8 L1893.2,886.5 L1901.8,878.3 L1910.4,870.0 L1919.0,861.8" stroke="#405d4e" stroke-width="5.1"/></g>
<g clip-path="url(#cp11)" fill="none" stroke-linecap="round" stroke-linejoin="round"><path d="M1066.8,-1106.8 L1075.4,-1070.1 L1084.0,-1033.3 L1092.6,-996.6 L1101.2,-959.8 L1109.8,-923.1 L1118.4,-886.3 L1127.0,-849.5 L1135.6,-812.8 L1144.2,-776.0 L1152.8,-739.3 L1161.4,-702.5 L1170.1,-665.8 L1178.7,-629.0 L1187.3,-592.2 L1195.9,-555.5 L1204.5,-518.7 L1213.1,-482.0 L1221.7,-445.2 L1230.3,-408.5 L1238.9,-371.7 L1247.5,-334.9 L1256.1,-298.2 L1264.8,-261.4 L1273.4,-224.7 L1282.0,-187.9 L1290.6,-151.2 L1299.2,-114.4 L1307.8,-77.6 L1316.4,-40.9 L1325.0,-4.1 L1333.6,32.6 L1342.2,69.4 L1350.8,106.1 L1359.4,142.9 L1368.1,179.6 L1376.7,216.4 L1385.3,253.1 L1393.9,816.9 L1402.5,831.6 L1411.1,846.2 L1419.7,860.9 L1428.3,875.5 L1436.9,890.0 L1445.5,904.5 L1454.1,918.9 L1462.7,933.3 L1471.4,947.5 L1480.0,961.5 L1488.6,975.4 L1497.2,989.0 L1505.8,1002.3 L1514.4,1015.3 L1523.0,1027.9 L1531.6,1040.1 L1540.2,1051.8 L1548.8,1062.9 L1557.4,1073.4 L1566.0,1083.2 L1574.7,1092.3 L1583.3,1100.7 L1591.9,1108.3 L1600.5,1115.2 L1609.1,1121.2 L1617.7,1126.5 L1626.3,1131.0 L1634.9,1134.7 L1643.5,1137.8 L1652.1,1140.2 L1660.7,1142.0 L1669.3,1143.2 L1678.0,1144.0 L1686.6,1144.4 L1695.2,1144.3 L1703.8,1144.0 L1712.4,1143.4 L1721.0,1142.5 L1729.6,1141.5 L1738.2,1140.3 L1746.8,1139.0 L1755.4,1137.7 L1764.0,1136.2 L1772.7,1134.7 L1781.3,1133.2 L1789.9,1131.6 L1798.5,1130.0 L1807.1,1128.4 L1815.7,1126.7 L1824.3,1125.1 L1832.9,1123.5 L1841.5,1121.8 L1850.1,1120.2 L1858.7,1118.5 L1867.3,1116.9 L1876.0,1115.2 L1884.6,1113.6 L1893.2,1111.9 L1901.8,1110.3 L1910.4,1108.6 L1919.0,1107.0" stroke="#fff" stroke-width="8.5"/><path d="M1066.8,-1106.8 L1075.4,-1070.1 L1084.0,-1033.3 L1092.6,-996.6 L1101.2,-959.8 L1109.8,-923.1 L1118.4,-886.3 L1127.0,-849.5 L1135.6,-812.8 L1144.2,-776.0 L1152.8,-739.3 L1161.4,-702.5 L1170.1,-665.8 L1178.7,-629.0 L1187.3,-592.2 L1195.9,-555.5 L1204.5,-518.7 L1213.1,-482.0 L1221.7,-445.2 L1230.3,-408.5 L1238.9,-371.7 L1247.5,-334.9 L1256.1,-298.2 L1264.8,-261.4 L1273.4,-224.7 L1282.0,-187.9 L1290.6,-151.2 L1299.2,-114.4 L1307.8,-77.6 L1316.4,-40.9 L1325.0,-4.1 L1333.6,32.6 L1342.2,69.4 L1350.8,106.1 L1359.4,142.9 L1368.1,179.6 L1376.7,216.4 L1385.3,253.1 L1393.9,816.9 L1402.5,831.6 L1411.1,846.2 L1419.7,860.9 L1428.3,875.5 L1436.9,890.0 L1445.5,904.5 L1454.1,918.9 L1462.7,933.3 L1471.4,947.5 L1480.0,961.5 L1488.6,975.4 L1497.2,989.0 L1505.8,1002.3 L1514.4,1015.3 L1523.0,1027.9 L1531.6,1040.1 L1540.2,1051.8 L1548.8,1062.9 L1557.4,1073.4 L1566.0,1083.2 L1574.7,1092.3 L1583.3,1100.7 L1591.9,1108.3 L1600.5,1115.2 L1609.1,1121.2 L1617.7,1126.5 L1626.3,1131.0 L1634.9,1134.7 L1643.5,1137.8 L1652.1,1140.2 L1660.7,1142.0 L1669.3,1143.2 L1678.0,1144.0 L1686.6,1144.4 L1695.2,1144.3 L1703.8,1144.0 L1712.4,1143.4 L1721.0,1142.5 L1729.6,1141.5 L1738.2,1140.3 L1746.8,1139.0 L1755.4,1137.7 L1764.0,1136.2 L1772.7,1134.7 L1781.3,1133.2 L1789.9,1131.6 L1798.5,1130.0 L1807.1,1128.4 L1815.7,1126.7 L1824.3,1125.1 L1832.9,1123.5 L1841.5,1121.8 L1850.1,1120.2 L1858.7,1118.5 L1867.3,1116.9 L1876.0,1115.2 L1884.6,1113.6 L1893.2,1111.9 L1901.8,1110.3 L1910.4,1108.6 L1919.0,1107.0" stroke="#456cb1" stroke-width="5.1"/></g>
<g clip-path="url(#cp11)" fill="none" stroke-linecap="round" stroke-linejoin="round"><path d="M1066.8,713.3 L1075.4,720.6 L1084.0,728.0 L1092.6,735.3 L1101.2,742.7 L1109.8,750.0 L1118.4,757.4 L1127.0,764.7 L1135.6,772.1 L1144.2,779.4 L1152.8,786.8 L1161.4,794.1 L1170.1,801.5 L1178.7,808.8 L1187.3,816.2 L1195.9,823.5 L1204.5,830.9 L1213.1,838.2 L1221.7,845.6 L1230.3,852.9 L1238.9,860.3 L1247.5,867.7 L1256.1,875.0 L1264.8,882.4 L1273.4,889.7 L1282.0,897.1 L1290.6,904.4 L1299.2,911.8 L1307.8,919.1 L1316.4,926.5 L1325.0,933.8 L1333.6,941.2 L1342.2,948.5 L1350.8,955.8 L1359.4,963.2 L1368.1,970.5 L1376.7,977.8 L1385.3,985.1 L1393.9,1097.6 L1402.5,1100.3 L1411.1,1103.0 L1419.7,1105.7 L1428.3,1108.2 L1436.9,1110.6 L1445.5,1112.9 L1454.1,1115.0 L1462.7,1116.8 L1471.4,1118.3 L1480.0,1119.3 L1488.6,1119.9 L1497.2,1119.8 L1505.8,1118.9 L1514.4,1117.2 L1523.0,1114.4 L1531.6,1110.4 L1540.2,1105.1 L1548.8,1098.2 L1557.4,1089.7 L1566.0,1079.5 L1574.7,1067.3 L1583.3,1053.1 L1591.9,1036.8 L1600.5,1018.4 L1609.1,997.9 L1617.7,975.3 L1626.3,950.6 L1634.9,924.0 L1643.5,895.4 L1652.1,865.1 L1660.7,833.2 L1669.3,799.8 L1678.0,765.1 L1686.6,729.3 L1695.2,692.4 L1703.8,654.7 L1712.4,616.3 L1721.0,577.3 L1729.6,537.7 L1738.2,497.8 L1746.8,457.5 L1755.4,417.0 L1764.0,376.4 L1772.7,335.5 L1781.3,294.6 L1789.9,253.6 L1798.5,212.5 L1807.1,171.4 L1815.7,130.2 L1824.3,89.0 L1832.9,47.8 L1841.5,6.6 L1850.1,-34.6 L1858.7,-75.8 L1867.3,-117.0 L1876.0,-158.2 L1884.6,-199.4 L1893.2,-240.6 L1901.8,-281.9 L1910.4,-323.1 L1919.0,-364.3" stroke="#fff" stroke-width="8.5"/><path d="M1066.8,713.3 L1075.4,720.6 L1084.0,728.0 L1092.6,735.3 L1101.2,742.7 L1109.8,750.0 L1118.4,757.4 L1127.0,764.7 L1135.6,772.1 L1144.2,779.4 L1152.8,786.8 L1161.4,794.1 L1170.1,801.5 L1178.7,808.8 L1187.3,816.2 L1195.9,823.5 L1204.5,830.9 L1213.1,838.2 L1221.7,845.6 L1230.3,852.9 L1238.9,860.3 L1247.5,867.7 L1256.1,875.0 L1264.8,882.4 L1273.4,889.7 L1282.0,897.1 L1290.6,904.4 L1299.2,911.8 L1307.8,919.1 L1316.4,926.5 L1325.0,933.8 L1333.6,941.2 L1342.2,948.5 L1350.8,955.8 L1359.4,963.2 L1368.1,970.5 L1376.7,977.8 L1385.3,985.1 L1393.9,1097.6 L1402.5,1100.3 L1411.1,1103.0 L1419.7,1105.7 L1428.3,1108.2 L1436.9,1110.6 L1445.5,1112.9 L1454.1,1115.0 L1462.7,1116.8 L1471.4,1118.3 L1480.0,1119.3 L1488.6,1119.9 L1497.2,1119.8 L1505.8,1118.9 L1514.4,1117.2 L1523.0,1114.4 L1531.6,1110.4 L1540.2,1105.1 L1548.8,1098.2 L1557.4,1089.7 L1566.0,1079.5 L1574.7,1067.3 L1583.3,1053.1 L1591.9,1036.8 L1600.5,1018.4 L1609.1,997.9 L1617.7,975.3 L1626.3,950.6 L1634.9,924.0 L1643.5,895.4 L1652.1,865.1 L1660.7,833.2 L1669.3,799.8 L1678.0,765.1 L1686.6,729.3 L1695.2,692.4 L1703.8,654.7 L1712.4,616.3 L1721.0,577.3 L1729.6,537.7 L1738.2,497.8 L1746.8,457.5 L1755.4,417.0 L1764.0,376.4 L1772.7,335.5 L1781.3,294.6 L1789.9,253.6 L1798.5,212.5 L1807.1,171.4 L1815.7,130.2 L1824.3,89.0 L1832.9,47.8 L1841.5,6.6 L1850.1,-34.6 L1858.7,-75.8 L1867.3,-117.0 L1876.0,-158.2 L1884.6,-199.4 L1893.2,-240.6 L1901.8,-281.9 L1910.4,-323.1 L1919.0,-364.3" stroke="#dd8350" stroke-width="5.1"/></g>
<circle cx="1488.57" cy="1168.30" r="16" fill="orange" clip-path="url(#cp11)"/>
<circle cx="1591.87" cy="1168.30" r="16" fill="#48625a" clip-path="url(#cp11)"/>
<circle cx="1686.57" cy="1168.30" r="16" fill="#4c72b0" clip-path="url(#cp11)"/>
<rect x="1049.00" y="625.40" width="887.75" height="542.90" fill="none" stroke="#262626" stroke-width="3.5"/>
<clipPath id="tfe"><path d="M153.8,1770.3 L153.8,1726.6 L155.6,1726.0 L157.4,1725.3 L159.2,1724.6 L160.9,1723.9 L162.7,1723.2 L164.5,1722.5 L166.3,1721.8 L168.0,1721.1 L169.8,1720.4 L171.6,1719.7 L173.4,1719.0 L175.1,1718.3 L176.9,1717.6 L178.7,1716.9 L180.5,1716.2 L182.2,1715.5 L184.0,1714.8 L185.8,1714.1 L187.6,1713.3 L189.3,1712.6 L191.1,1711.9 L192.9,1711.2 L194.7,1710.4 L196.4,1709.7 L198.2,1709.0 L200.0,1708.2 L201.8,1707.5 L203.5,1706.8 L205.3,1706.0 L207.1,1705.3 L208.8,1704.5 L210.6,1703.8 L212.4,1703.0 L214.2,1702.2 L215.9,1701.5 L217.7,1700.7 L219.5,1699.9 L221.3,1699.2 L223.0,1698.4 L224.8,1697.6 L226.6,1696.8 L228.4,1696.0 L230.1,1695.3 L231.9,1694.5 L233.7,1693.7 L235.5,1692.9 L237.2,1692.1 L239.0,1691.4 L240.8,1690.6 L242.6,1689.8 L244.3,1689.0 L246.1,1688.3 L247.9,1687.5 L249.7,1686.7 L251.4,1686.0 L253.2,1685.2 L255.0,1684.4 L256.7,1683.7 L258.5,1682.9 L260.3,1682.2 L262.1,1681.4 L263.8,1680.7 L265.6,1679.9 L267.4,1679.1 L269.2,1678.4 L270.9,1677.6 L272.7,1676.9 L274.5,1676.1 L276.3,1675.4 L278.0,1674.6 L279.8,1673.9 L281.6,1673.1 L283.4,1672.4 L285.1,1671.6 L286.9,1670.9 L288.7,1670.2 L290.5,1669.4 L292.2,1668.7 L294.0,1668.0 L295.8,1667.2 L297.6,1666.5 L299.3,1665.8 L301.1,1665.1 L302.9,1664.4 L304.6,1663.7 L306.4,1662.9 L308.2,1662.2 L310.0,1661.6 L311.7,1660.9 L313.5,1660.2 L315.3,1659.5 L317.1,1658.8 L318.8,1658.1 L320.6,1657.5 L322.4,1656.8 L324.2,1656.2 L325.9,1655.5 L327.7,1654.8 L329.5,1654.2 L331.3,1653.5 L333.0,1652.9 L334.8,1652.2 L336.6,1651.6 L338.4,1650.9 L340.1,1650.3 L341.9,1649.6 L343.7,1649.0 L345.5,1648.3 L347.2,1647.7 L349.0,1647.0 L350.8,1646.3 L352.5,1645.7 L354.3,1645.0 L356.1,1644.3 L357.9,1643.7 L359.6,1643.0 L361.4,1642.4 L363.2,1641.7 L365.0,1641.1 L366.7,1640.4 L368.5,1639.8 L370.3,1639.2 L372.1,1638.6 L373.8,1638.0 L375.6,1637.5 L377.4,1636.9 L379.2,1636.3 L380.9,1635.8 L382.7,1635.2 L384.5,1634.6 L386.3,1634.1 L388.0,1633.6 L389.8,1633.0 L391.6,1632.5 L393.4,1632.0 L395.1,1631.5 L396.9,1631.0 L398.7,1630.6 L400.4,1630.1 L402.2,1629.7 L404.0,1629.2 L405.8,1628.8 L407.5,1628.4 L409.3,1628.0 L411.1,1627.6 L412.9,1627.2 L414.6,1626.8 L416.4,1626.4 L418.2,1626.0 L420.0,1625.6 L421.7,1625.2 L423.5,1624.8 L425.3,1624.4 L427.1,1624.0 L428.8,1623.6 L430.6,1623.2 L432.4,1622.7 L434.2,1622.3 L435.9,1621.9 L437.7,1621.5 L439.5,1621.1 L441.3,1620.6 L443.0,1620.3 L444.8,1619.9 L446.6,1619.5 L448.4,1619.2 L450.1,1618.9 L451.9,1618.6 L453.7,1618.3 L455.4,1618.0 L457.2,1617.7 L459.0,1617.4 L460.8,1617.1 L462.5,1616.9 L464.3,1616.8 L466.1,1616.8 L467.9,1616.8 L469.6,1616.8 L471.4,1616.9 L473.2,1617.1 L475.0,1617.2 L476.7,1617.4 L478.5,1617.6 L480.3,1617.8 L482.1,1618.0 L483.8,1618.2 L485.6,1618.5 L487.4,1618.7 L489.2,1618.9 L490.9,1619.2 L492.7,1619.5 L494.5,1619.8 L496.3,1620.1 L498.0,1620.5 L499.8,1620.9 L501.6,1621.3 L503.3,1621.7 L505.1,1622.2 L506.9,1622.6 L508.7,1623.1 L510.4,1623.5 L512.2,1624.0 L514.0,1624.5 L515.8,1625.0 L517.5,1625.5 L519.3,1626.1 L521.1,1626.6 L522.9,1627.2 L524.6,1627.8 L526.4,1628.4 L528.2,1629.0 L530.0,1629.7 L531.7,1630.4 L533.5,1631.1 L535.3,1631.8 L537.1,1632.5 L538.8,1633.3 L540.6,1634.1 L542.4,1634.9 L544.2,1635.8 L545.9,1636.7 L547.7,1637.7 L549.5,1638.7 L551.2,1639.7 L553.0,1640.7 L554.8,1641.8 L556.6,1642.8 L558.3,1643.9 L560.1,1645.0 L561.9,1646.1 L563.7,1647.3 L565.4,1648.5 L567.2,1649.8 L569.0,1651.1 L570.8,1652.3 L572.5,1653.6 L574.3,1654.9 L576.1,1656.1 L577.9,1657.3 L579.6,1658.4 L581.4,1659.5 L583.2,1660.6 L585.0,1661.7 L586.7,1662.7 L588.5,1663.8 L590.3,1664.9 L592.1,1666.1 L593.8,1667.3 L595.6,1668.5 L597.4,1669.7 L599.1,1671.0 L600.9,1672.3 L602.7,1673.7 L604.5,1675.0 L606.2,1676.3 L608.0,1677.7 L609.8,1679.0 L611.6,1680.3 L613.3,1681.6 L615.1,1682.9 L616.9,1684.2 L618.7,1685.6 L620.4,1686.9 L622.2,1688.2 L624.0,1689.5 L625.8,1690.9 L627.5,1692.2 L629.3,1693.5 L631.1,1694.8 L632.9,1696.1 L634.6,1697.4 L636.4,1698.6 L638.2,1699.9 L640.0,1701.1 L641.7,1702.4 L643.5,1703.6 L645.3,1704.8 L647.0,1706.0 L648.8,1707.2 L650.6,1708.4 L652.4,1709.6 L654.1,1710.8 L655.9,1711.9 L657.7,1713.1 L659.5,1714.2 L661.2,1715.4 L663.0,1716.5 L664.8,1717.6 L666.6,1718.8 L668.3,1719.9 L670.1,1721.0 L671.9,1722.1 L673.7,1723.3 L675.4,1724.4 L677.2,1725.5 L679.0,1726.6 L680.8,1727.7 L682.5,1728.8 L684.3,1729.8 L686.1,1730.9 L687.9,1731.9 L689.6,1732.8 L691.4,1733.8 L693.2,1734.7 L695.0,1735.5 L696.7,1736.4 L698.5,1737.3 L700.3,1738.1 L702.0,1738.9 L703.8,1739.7 L705.6,1740.5 L707.4,1741.3 L709.1,1742.0 L710.9,1742.7 L712.7,1743.4 L714.5,1744.1 L716.2,1744.8 L718.0,1745.5 L719.8,1746.1 L721.6,1746.7 L723.3,1747.3 L725.1,1747.9 L726.9,1748.5 L728.7,1749.1 L730.4,1749.6 L732.2,1750.1 L734.0,1750.7 L735.8,1751.2 L737.5,1751.7 L739.3,1752.2 L741.1,1752.7 L742.9,1753.1 L744.6,1753.6 L746.4,1754.0 L748.2,1754.4 L749.9,1754.8 L751.7,1755.2 L753.5,1755.6 L755.3,1756.0 L757.0,1756.4 L758.8,1756.8 L760.6,1757.1 L762.4,1757.5 L764.1,1757.8 L765.9,1758.1 L767.7,1758.5 L769.5,1758.8 L771.2,1759.0 L773.0,1759.3 L774.8,1759.6 L776.6,1759.9 L778.3,1760.1 L780.1,1760.4 L781.9,1760.6 L783.7,1760.8 L785.4,1761.1 L787.2,1761.3 L789.0,1761.5 L790.8,1761.7 L792.5,1761.9 L794.3,1762.1 L796.1,1762.3 L797.8,1762.4 L799.6,1762.6 L801.4,1762.7 L803.2,1762.9 L804.9,1763.0 L806.7,1763.2 L808.5,1763.3 L810.3,1763.4 L812.0,1763.5 L813.8,1763.7 L815.6,1763.8 L817.4,1763.9 L819.1,1764.0 L820.9,1764.1 L822.7,1764.1 L824.5,1764.2 L826.2,1764.3 L828.0,1764.3 L829.8,1764.4 L831.6,1764.5 L833.3,1764.5 L835.1,1764.6 L836.9,1764.6 L838.7,1764.7 L840.4,1764.8 L842.2,1764.8 L844.0,1764.9 L845.7,1764.9 L847.5,1765.0 L849.3,1765.0 L851.1,1765.1 L852.8,1765.1 L854.6,1765.1 L856.4,1765.2 L858.2,1765.2 L859.9,1765.2 L861.7,1765.2 L863.5,1765.3 L865.3,1765.3 L867.0,1765.3 L868.8,1765.3 L870.6,1765.3 L872.4,1765.3 L874.1,1765.3 L875.9,1765.3 L877.7,1765.3 L879.5,1765.3 L881.2,1765.3 L883.0,1765.3 L884.8,1765.3 L886.6,1765.3 L888.3,1765.3 L890.1,1765.3 L891.9,1765.3 L893.6,1765.3 L895.4,1765.3 L897.2,1765.3 L899.0,1765.3 L900.7,1765.3 L902.5,1765.3 L904.3,1765.3 L906.1,1765.3 L907.8,1765.3 L909.6,1765.3 L911.4,1765.3 L913.2,1765.3 L914.9,1765.3 L916.7,1765.3 L918.5,1765.3 L920.3,1765.3 L922.0,1765.3 L923.8,1765.3 L925.6,1765.3 L927.4,1765.3 L929.1,1765.3 L930.9,1765.3 L932.7,1765.3 L934.5,1765.3 L936.2,1765.3 L938.0,1765.3 L939.8,1765.3 L941.6,1765.3 L943.3,1765.3 L945.1,1765.3 L946.9,1765.3 L948.6,1765.3 L950.4,1765.3 L952.2,1765.3 L954.0,1765.3 L955.7,1765.3 L957.5,1765.3 L959.3,1765.3 L961.1,1765.3 L962.8,1765.3 L964.6,1765.3 L966.4,1765.3 L968.2,1765.3 L969.9,1765.3 L971.7,1765.3 L973.5,1765.3 L975.3,1765.3 L977.0,1765.3 L978.8,1765.3 L980.6,1765.3 L982.4,1765.3 L984.1,1765.3 L985.9,1765.3 L987.7,1765.3 L989.5,1765.3 L991.2,1765.3 L993.0,1765.3 L994.8,1765.3 L996.5,1765.3 L998.3,1765.3 L1000.1,1765.3 L1001.9,1765.3 L1003.6,1765.3 L1005.4,1765.3 L1007.2,1765.3 L1009.0,1765.3 L1010.7,1765.3 L1012.5,1765.3 L1014.3,1765.3 L1016.1,1765.3 L1017.8,1765.3 L1019.6,1765.3 L1021.4,1765.3 L1023.2,1765.3 L1024.9,1765.3 L1026.7,1765.3 L1028.5,1765.3 L1030.3,1765.3 L1032.0,1765.3 L1033.8,1765.3 L1035.6,1765.3 L1037.4,1765.3 L1039.1,1765.3 L1040.9,1765.3 L1040.9,1770.3Z"/></clipPath>
<path d="M153.8,1765.3 L153.8,1765.3 L155.6,1765.3 L157.4,1765.3 L159.2,1765.3 L160.9,1765.3 L162.7,1765.3 L164.5,1765.3 L166.3,1765.3 L168.0,1765.3 L169.8,1765.3 L171.6,1765.3 L173.4,1765.3 L175.1,1765.3 L176.9,1765.3 L178.7,1765.3 L180.5,1765.3 L182.2,1765.3 L184.0,1765.3 L185.8,1765.3 L187.6,1765.3 L189.3,1765.3 L191.1,1765.3 L192.9,1765.3 L194.7,1765.3 L196.4,1765.3 L198.2,1765.3 L200.0,1765.3 L201.8,1765.3 L203.5,1765.3 L205.3,1765.3 L207.1,1765.3 L208.8,1765.3 L210.6,1765.3 L212.4,1765.3 L214.2,1765.3 L215.9,1765.3 L217.7,1765.3 L219.5,1765.3 L221.3,1765.3 L223.0,1765.3 L224.8,1765.3 L226.6,1765.3 L228.4,1765.3 L230.1,1765.3 L231.9,1765.3 L233.7,1765.3 L235.5,1765.3 L237.2,1765.3 L239.0,1765.3 L240.8,1765.3 L242.6,1765.3 L244.3,1765.3 L246.1,1765.3 L247.9,1765.3 L249.7,1765.3 L251.4,1765.3 L253.2,1765.3 L255.0,1765.3 L256.7,1765.3 L258.5,1765.3 L260.3,1765.3 L262.1,1765.3 L263.8,1765.3 L265.6,1765.3 L267.4,1765.3 L269.2,1765.3 L270.9,1765.3 L272.7,1765.3 L274.5,1765.3 L276.3,1765.3 L278.0,1765.3 L279.8,1765.3 L281.6,1765.3 L283.4,1765.3 L285.1,1765.3 L286.9,1765.3 L288.7,1765.3 L290.5,1765.3 L292.2,1765.3 L294.0,1765.3 L295.8,1765.3 L297.6,1765.3 L299.3,1765.3 L301.1,1765.3 L302.9,1765.3 L304.6,1765.3 L306.4,1765.3 L308.2,1765.3 L310.0,1765.3 L311.7,1765.3 L313.5,1765.3 L315.3,1765.3 L317.1,1765.3 L318.8,1765.3 L320.6,1765.3 L322.4,1765.3 L324.2,1765.3 L325.9,1765.3 L327.7,1765.3 L329.5,1765.3 L331.3,1765.3 L333.0,1765.3 L334.8,1765.3 L336.6,1765.3 L338.4,1765.3 L340.1,1765.3 L341.9,1765.3 L343.7,1765.3 L345.5,1765.3 L347.2,1765.3 L349.0,1765.3 L350.8,1765.3 L352.5,1765.3 L354.3,1765.3 L356.1,1765.3 L357.9,1765.3 L359.6,1765.3 L361.4,1765.3 L363.2,1765.3 L365.0,1765.3 L366.7,1765.3 L368.5,1765.3 L370.3,1765.3 L372.1,1765.3 L373.8,1765.3 L375.6,1765.3 L377.4,1765.3 L379.2,1765.3 L380.9,1765.3 L382.7,1765.3 L384.5,1765.3 L386.3,1765.3 L388.0,1765.3 L389.8,1765.3 L391.6,1765.3 L393.4,1765.3 L395.1,1765.3 L396.9,1765.3 L398.7,1765.3 L400.4,1765.3 L402.2,1765.3 L404.0,1765.3 L405.8,1765.3 L407.5,1765.2 L409.3,1765.2 L411.1,1765.2 L412.9,1765.2 L414.6,1765.2 L416.4,1765.2 L418.2,1765.2 L420.0,1765.2 L421.7,1765.2 L423.5,1765.2 L425.3,1765.1 L427.1,1765.1 L428.8,1765.1 L430.6,1765.1 L432.4,1765.1 L434.2,1765.1 L435.9,1765.0 L437.7,1765.0 L439.5,1765.0 L441.3,1764.9 L443.0,1764.9 L444.8,1764.9 L446.6,1764.8 L448.4,1764.8 L450.1,1764.7 L451.9,1764.7 L453.7,1764.6 L455.4,1764.6 L457.2,1764.5 L459.0,1764.4 L460.8,1764.3 L462.5,1764.3 L464.3,1764.2 L466.1,1764.1 L467.9,1764.0 L469.6,1763.8 L471.4,1763.7 L473.2,1763.6 L475.0,1763.4 L476.7,1763.3 L478.5,1763.1 L480.3,1762.9 L482.1,1762.7 L483.8,1762.5 L485.6,1762.3 L487.4,1762.1 L489.2,1761.8 L490.9,1761.5 L492.7,1761.3 L494.5,1760.9 L496.3,1760.6 L498.0,1760.3 L499.8,1759.9 L501.6,1759.5 L503.3,1759.0 L505.1,1758.6 L506.9,1758.1 L508.7,1757.6 L510.4,1757.0 L512.2,1756.5 L514.0,1755.9 L515.8,1755.2 L517.5,1754.5 L519.3,1753.8 L521.1,1753.0 L522.9,1752.2 L524.6,1751.3 L526.4,1750.4 L528.2,1749.5 L530.0,1748.5 L531.7,1747.4 L533.5,1746.3 L535.3,1745.1 L537.1,1743.9 L538.8,1742.6 L540.6,1741.3 L542.4,1739.9 L544.2,1738.4 L545.9,1736.8 L547.7,1735.2 L549.5,1733.5 L551.2,1731.8 L553.0,1729.9 L554.8,1728.0 L556.6,1726.0 L558.3,1723.9 L560.1,1721.8 L561.9,1719.5 L563.7,1717.2 L565.4,1714.8 L567.2,1712.3 L569.0,1709.7 L570.8,1707.0 L572.5,1704.2 L574.3,1701.3 L576.1,1698.4 L577.9,1695.3 L579.6,1692.2 L581.4,1688.9 L583.2,1685.6 L585.0,1682.1 L586.7,1678.6 L588.5,1675.0 L590.3,1671.3 L592.1,1667.5 L593.8,1663.6 L595.6,1659.6 L597.4,1655.5 L599.1,1651.3 L600.9,1647.1 L602.7,1642.8 L604.5,1638.4 L606.2,1633.9 L608.0,1629.3 L609.8,1624.7 L611.6,1620.0 L613.3,1615.3 L615.1,1610.4 L616.9,1605.6 L618.7,1600.7 L620.4,1595.7 L622.2,1590.7 L624.0,1585.7 L625.8,1580.6 L627.5,1575.5 L629.3,1570.4 L631.1,1565.3 L632.9,1560.2 L634.6,1555.0 L636.4,1549.9 L638.2,1544.8 L640.0,1539.7 L641.7,1534.6 L643.5,1529.6 L645.3,1524.6 L647.0,1519.7 L648.8,1514.8 L650.6,1510.0 L652.4,1505.2 L654.1,1500.6 L655.9,1496.0 L657.7,1491.5 L659.5,1487.1 L661.2,1482.8 L663.0,1478.6 L664.8,1474.5 L666.6,1470.6 L668.3,1466.8 L670.1,1463.2 L671.9,1459.6 L673.7,1456.3 L675.4,1453.1 L677.2,1450.0 L679.0,1447.2 L680.8,1444.5 L682.5,1442.0 L684.3,1439.6 L686.1,1437.5 L687.9,1435.5 L689.6,1433.8 L691.4,1432.2 L693.2,1430.9 L695.0,1429.7 L696.7,1428.8 L698.5,1428.0 L700.3,1427.5 L702.0,1427.2 L703.8,1427.1 L705.6,1427.2 L707.4,1427.5 L709.1,1428.0 L710.9,1428.8 L712.7,1429.7 L714.5,1430.9 L716.2,1432.2 L718.0,1433.8 L719.8,1435.5 L721.6,1437.5 L723.3,1439.6 L725.1,1442.0 L726.9,1444.5 L728.7,1447.2 L730.4,1450.0 L732.2,1453.1 L734.0,1456.3 L735.8,1459.6 L737.5,1463.2 L739.3,1466.8 L741.1,1470.6 L742.9,1474.5 L744.6,1478.6 L746.4,1482.8 L748.2,1487.1 L749.9,1491.5 L751.7,1496.0 L753.5,1500.6 L755.3,1505.2 L757.0,1510.0 L758.8,1514.8 L760.6,1519.7 L762.4,1524.6 L764.1,1529.6 L765.9,1534.6 L767.7,1539.7 L769.5,1544.8 L771.2,1549.9 L773.0,1555.0 L774.8,1560.2 L776.6,1565.3 L778.3,1570.4 L780.1,1575.5 L781.9,1580.6 L783.7,1585.7 L785.4,1590.7 L787.2,1595.7 L789.0,1600.7 L790.8,1605.6 L792.5,1610.4 L794.3,1615.3 L796.1,1620.0 L797.8,1624.7 L799.6,1629.3 L801.4,1633.9 L803.2,1638.4 L804.9,1642.8 L806.7,1647.1 L808.5,1651.3 L810.3,1655.5 L812.0,1659.6 L813.8,1663.6 L815.6,1667.5 L817.4,1671.3 L819.1,1675.0 L820.9,1678.6 L822.7,1682.1 L824.5,1685.6 L826.2,1688.9 L828.0,1692.2 L829.8,1695.3 L831.6,1698.4 L833.3,1701.3 L835.1,1704.2 L836.9,1707.0 L838.7,1709.7 L840.4,1712.3 L842.2,1714.8 L844.0,1717.2 L845.7,1719.5 L847.5,1721.8 L849.3,1723.9 L851.1,1726.0 L852.8,1728.0 L854.6,1729.9 L856.4,1731.8 L858.2,1733.5 L859.9,1735.2 L861.7,1736.8 L863.5,1738.4 L865.3,1739.9 L867.0,1741.3 L868.8,1742.6 L870.6,1743.9 L872.4,1745.1 L874.1,1746.3 L875.9,1747.4 L877.7,1748.5 L879.5,1749.5 L881.2,1750.4 L883.0,1751.3 L884.8,1752.2 L886.6,1753.0 L888.3,1753.8 L890.1,1754.5 L891.9,1755.2 L893.6,1755.9 L895.4,1756.5 L897.2,1757.0 L899.0,1757.6 L900.7,1758.1 L902.5,1758.6 L904.3,1759.0 L906.1,1759.5 L907.8,1759.9 L909.6,1760.3 L911.4,1760.6 L913.2,1760.9 L914.9,1761.3 L916.7,1761.5 L918.5,1761.8 L920.3,1762.1 L922.0,1762.3 L923.8,1762.5 L925.6,1762.7 L927.4,1762.9 L929.1,1763.1 L930.9,1763.3 L932.7,1763.4 L934.5,1763.6 L936.2,1763.7 L938.0,1763.8 L939.8,1764.0 L941.6,1764.1 L943.3,1764.2 L945.1,1764.3 L946.9,1764.3 L948.6,1764.4 L950.4,1764.5 L952.2,1764.6 L954.0,1764.6 L955.7,1764.7 L957.5,1764.7 L959.3,1764.8 L961.1,1764.8 L962.8,1764.9 L964.6,1764.9 L966.4,1764.9 L968.2,1765.0 L969.9,1765.0 L971.7,1765.0 L973.5,1765.1 L975.3,1765.1 L977.0,1765.1 L978.8,1765.1 L980.6,1765.1 L982.4,1765.1 L984.1,1765.2 L985.9,1765.2 L987.7,1765.2 L989.5,1765.2 L991.2,1765.2 L993.0,1765.2 L994.8,1765.2 L996.5,1765.2 L998.3,1765.2 L1000.1,1765.2 L1001.9,1765.3 L1003.6,1765.3 L1005.4,1765.3 L1007.2,1765.3 L1009.0,1765.3 L1010.7,1765.3 L1012.5,1765.3 L1014.3,1765.3 L1016.1,1765.3 L1017.8,1765.3 L1019.6,1765.3 L1021.4,1765.3 L1023.2,1765.3 L1024.9,1765.3 L1026.7,1765.3 L1028.5,1765.3 L1030.3,1765.3 L1032.0,1765.3 L1033.8,1765.3 L1035.6,1765.3 L1037.4,1765.3 L1039.1,1765.3 L1040.9,1765.3 L1040.9,1765.3Z" fill="#e4a1a1" fill-opacity="1.00" stroke="none" clip-path="url(#cp20)"/>
<path d="M153.8,1765.3 L153.8,1638.8 L155.6,1637.7 L157.4,1636.7 L159.2,1635.7 L160.9,1634.6 L162.7,1633.6 L164.5,1632.6 L166.3,1631.7 L168.0,1630.7 L169.8,1629.8 L171.6,1628.8 L173.4,1627.9 L175.1,1627.0 L176.9,1626.1 L178.7,1625.2 L180.5,1624.4 L182.2,1623.5 L184.0,1622.7 L185.8,1621.9 L187.6,1621.1 L189.3,1620.3 L191.1,1619.5 L192.9,1618.7 L194.7,1618.0 L196.4,1617.2 L198.2,1616.5 L200.0,1615.7 L201.8,1615.0 L203.5,1614.3 L205.3,1613.6 L207.1,1612.9 L208.8,1612.2 L210.6,1611.6 L212.4,1610.9 L214.2,1610.3 L215.9,1609.7 L217.7,1609.0 L219.5,1608.4 L221.3,1607.9 L223.0,1607.3 L224.8,1606.7 L226.6,1606.1 L228.4,1605.5 L230.1,1604.9 L231.9,1604.3 L233.7,1603.8 L235.5,1603.2 L237.2,1602.7 L239.0,1602.3 L240.8,1601.8 L242.6,1601.4 L244.3,1601.1 L246.1,1600.8 L247.9,1600.5 L249.7,1600.2 L251.4,1600.0 L253.2,1599.7 L255.0,1599.4 L256.7,1599.2 L258.5,1599.0 L260.3,1598.8 L262.1,1598.6 L263.8,1598.4 L265.6,1598.3 L267.4,1598.3 L269.2,1598.2 L270.9,1598.2 L272.7,1598.3 L274.5,1598.4 L276.3,1598.6 L278.0,1598.8 L279.8,1599.1 L281.6,1599.4 L283.4,1599.7 L285.1,1600.0 L286.9,1600.4 L288.7,1600.7 L290.5,1601.1 L292.2,1601.4 L294.0,1601.9 L295.8,1602.3 L297.6,1602.8 L299.3,1603.4 L301.1,1604.0 L302.9,1604.6 L304.6,1605.2 L306.4,1605.8 L308.2,1606.4 L310.0,1606.9 L311.7,1607.5 L313.5,1608.1 L315.3,1608.6 L317.1,1609.2 L318.8,1609.8 L320.6,1610.4 L322.4,1611.1 L324.2,1611.7 L325.9,1612.5 L327.7,1613.3 L329.5,1614.1 L331.3,1615.0 L333.0,1616.0 L334.8,1617.0 L336.6,1618.1 L338.4,1619.2 L340.1,1620.4 L341.9,1621.6 L343.7,1622.8 L345.5,1624.1 L347.2,1625.4 L349.0,1626.8 L350.8,1628.2 L352.5,1629.7 L354.3,1631.3 L356.1,1632.9 L357.9,1634.5 L359.6,1636.2 L361.4,1637.8 L363.2,1639.5 L365.0,1641.2 L366.7,1642.9 L368.5,1644.7 L370.3,1646.4 L372.1,1648.3 L373.8,1650.1 L375.6,1652.0 L377.4,1653.8 L379.2,1655.7 L380.9,1657.7 L382.7,1659.6 L384.5,1661.5 L386.3,1663.5 L388.0,1665.5 L389.8,1667.5 L391.6,1669.5 L393.4,1671.6 L395.1,1673.7 L396.9,1675.8 L398.7,1677.9 L400.4,1680.0 L402.2,1682.1 L404.0,1684.2 L405.8,1686.2 L407.5,1688.2 L409.3,1690.2 L411.1,1692.2 L412.9,1694.1 L414.6,1696.1 L416.4,1698.0 L418.2,1699.9 L420.0,1701.8 L421.7,1703.7 L423.5,1705.6 L425.3,1707.6 L427.1,1709.5 L428.8,1711.4 L430.6,1713.3 L432.4,1715.3 L434.2,1717.2 L435.9,1719.2 L437.7,1721.1 L439.5,1723.1 L441.3,1725.0 L443.0,1726.9 L444.8,1728.8 L446.6,1730.7 L448.4,1732.5 L450.1,1734.3 L451.9,1736.1 L453.7,1737.8 L455.4,1739.6 L457.2,1741.4 L459.0,1743.1 L460.8,1744.8 L462.5,1746.5 L464.3,1748.1 L466.1,1749.6 L467.9,1750.9 L469.6,1752.1 L471.4,1753.3 L473.2,1754.4 L475.0,1755.4 L476.7,1756.4 L478.5,1757.4 L480.3,1758.2 L482.1,1759.0 L483.8,1759.8 L485.6,1760.4 L487.4,1761.0 L489.2,1761.5 L490.9,1762.0 L492.7,1762.4 L494.5,1762.9 L496.3,1763.3 L498.0,1763.6 L499.8,1763.9 L501.6,1764.2 L503.3,1764.4 L505.1,1764.6 L506.9,1764.8 L508.7,1764.9 L510.4,1765.0 L512.2,1765.1 L514.0,1765.2 L515.8,1765.3 L517.5,1765.3 L519.3,1765.3 L521.1,1765.3 L522.9,1765.3 L524.6,1765.3 L526.4,1765.3 L528.2,1765.3 L530.0,1765.3 L531.7,1765.3 L533.5,1765.3 L535.3,1765.3 L537.1,1765.3 L538.8,1765.3 L540.6,1765.3 L542.4,1765.3 L544.2,1765.3 L545.9,1765.3 L547.7,1765.3 L549.5,1765.3 L551.2,1765.3 L553.0,1765.3 L554.8,1765.3 L556.6,1765.3 L558.3,1765.3 L560.1,1765.3 L561.9,1765.3 L563.7,1765.3 L565.4,1765.3 L567.2,1765.3 L569.0,1765.3 L570.8,1765.3 L572.5,1765.3 L574.3,1765.3 L576.1,1765.3 L577.9,1765.3 L579.6,1765.3 L581.4,1765.3 L583.2,1765.3 L585.0,1765.3 L586.7,1765.3 L588.5,1765.3 L590.3,1765.3 L592.1,1765.3 L593.8,1765.3 L595.6,1765.3 L597.4,1765.3 L599.1,1765.3 L600.9,1765.3 L602.7,1765.3 L604.5,1765.3 L606.2,1765.3 L608.0,1765.3 L609.8,1765.3 L611.6,1765.3 L613.3,1765.3 L615.1,1765.3 L616.9,1765.3 L618.7,1765.3 L620.4,1765.3 L622.2,1765.3 L624.0,1765.3 L625.8,1765.3 L627.5,1765.3 L629.3,1765.3 L631.1,1765.3 L632.9,1765.3 L634.6,1765.3 L636.4,1765.3 L638.2,1765.3 L640.0,1765.3 L641.7,1765.3 L643.5,1765.3 L645.3,1765.3 L647.0,1765.3 L648.8,1765.3 L650.6,1765.3 L652.4,1765.3 L654.1,1765.3 L655.9,1765.3 L657.7,1765.3 L659.5,1765.3 L661.2,1765.3 L663.0,1765.3 L664.8,1765.3 L666.6,1765.3 L668.3,1765.3 L670.1,1765.3 L671.9,1765.3 L673.7,1765.3 L675.4,1765.3 L677.2,1765.3 L679.0,1765.3 L680.8,1765.3 L682.5,1765.3 L684.3,1765.3 L686.1,1765.3 L687.9,1765.3 L689.6,1765.3 L691.4,1765.3 L693.2,1765.3 L695.0,1765.3 L696.7,1765.3 L698.5,1765.3 L700.3,1765.3 L702.0,1765.3 L703.8,1765.3 L705.6,1765.3 L707.4,1765.3 L709.1,1765.3 L710.9,1765.3 L712.7,1765.3 L714.5,1765.3 L716.2,1765.3 L718.0,1765.3 L719.8,1765.3 L721.6,1765.3 L723.3,1765.3 L725.1,1765.3 L726.9,1765.3 L728.7,1765.3 L730.4,1765.3 L732.2,1765.3 L734.0,1765.3 L735.8,1765.3 L737.5,1765.3 L739.3,1765.3 L741.1,1765.3 L742.9,1765.3 L744.6,1765.3 L746.4,1765.3 L748.2,1765.3 L749.9,1765.3 L751.7,1765.3 L753.5,1765.3 L755.3,1765.3 L757.0,1765.3 L758.8,1765.3 L760.6,1765.3 L762.4,1765.3 L764.1,1765.3 L765.9,1765.3 L767.7,1765.3 L769.5,1765.3 L771.2,1765.3 L773.0,1765.3 L774.8,1765.3 L776.6,1765.3 L778.3,1765.3 L780.1,1765.3 L781.9,1765.3 L783.7,1765.3 L785.4,1765.3 L787.2,1765.3 L789.0,1765.3 L790.8,1765.3 L792.5,1765.3 L794.3,1765.3 L796.1,1765.3 L797.8,1765.3 L799.6,1765.3 L801.4,1765.3 L803.2,1765.3 L804.9,1765.3 L806.7,1765.3 L808.5,1765.3 L810.3,1765.3 L812.0,1765.3 L813.8,1765.3 L815.6,1765.3 L817.4,1765.3 L819.1,1765.3 L820.9,1765.3 L822.7,1765.3 L824.5,1765.3 L826.2,1765.3 L828.0,1765.3 L829.8,1765.3 L831.6,1765.3 L833.3,1765.3 L835.1,1765.3 L836.9,1765.3 L838.7,1765.3 L840.4,1765.3 L842.2,1765.3 L844.0,1765.3 L845.7,1765.3 L847.5,1765.3 L849.3,1765.3 L851.1,1765.3 L852.8,1765.3 L854.6,1765.3 L856.4,1765.3 L858.2,1765.3 L859.9,1765.3 L861.7,1765.3 L863.5,1765.3 L865.3,1765.3 L867.0,1765.3 L868.8,1765.3 L870.6,1765.3 L872.4,1765.3 L874.1,1765.3 L875.9,1765.3 L877.7,1765.3 L879.5,1765.3 L881.2,1765.3 L883.0,1765.3 L884.8,1765.3 L886.6,1765.3 L888.3,1765.3 L890.1,1765.3 L891.9,1765.3 L893.6,1765.3 L895.4,1765.3 L897.2,1765.3 L899.0,1765.3 L900.7,1765.3 L902.5,1765.3 L904.3,1765.3 L906.1,1765.3 L907.8,1765.3 L909.6,1765.3 L911.4,1765.3 L913.2,1765.3 L914.9,1765.3 L916.7,1765.3 L918.5,1765.3 L920.3,1765.3 L922.0,1765.3 L923.8,1765.3 L925.6,1765.3 L927.4,1765.3 L929.1,1765.3 L930.9,1765.3 L932.7,1765.3 L934.5,1765.3 L936.2,1765.3 L938.0,1765.3 L939.8,1765.3 L941.6,1765.3 L943.3,1765.3 L945.1,1765.3 L946.9,1765.3 L948.6,1765.3 L950.4,1765.3 L952.2,1765.3 L954.0,1765.3 L955.7,1765.3 L957.5,1765.3 L959.3,1765.3 L961.1,1765.3 L962.8,1765.3 L964.6,1765.3 L966.4,1765.3 L968.2,1765.3 L969.9,1765.3 L971.7,1765.3 L973.5,1765.3 L975.3,1765.3 L977.0,1765.3 L978.8,1765.3 L980.6,1765.3 L982.4,1765.3 L984.1,1765.3 L985.9,1765.3 L987.7,1765.3 L989.5,1765.3 L991.2,1765.3 L993.0,1765.3 L994.8,1765.3 L996.5,1765.3 L998.3,1765.3 L1000.1,1765.3 L1001.9,1765.3 L1003.6,1765.3 L1005.4,1765.3 L1007.2,1765.3 L1009.0,1765.3 L1010.7,1765.3 L1012.5,1765.3 L1014.3,1765.3 L1016.1,1765.3 L1017.8,1765.3 L1019.6,1765.3 L1021.4,1765.3 L1023.2,1765.3 L1024.9,1765.3 L1026.7,1765.3 L1028.5,1765.3 L1030.3,1765.3 L1032.0,1765.3 L1033.8,1765.3 L1035.6,1765.3 L1037.4,1765.3 L1039.1,1765.3 L1040.9,1765.3 L1040.9,1765.3Z" fill="#e4a1a1" fill-opacity="1.00" stroke="none" clip-path="url(#cp20)"/>
<g clip-path="url(#cp20)" fill="none"><path d="M153.8,1638.8 L155.6,1637.7 L157.4,1636.7 L159.2,1635.7 L160.9,1634.6 L162.7,1633.6 L164.5,1632.6 L166.3,1631.7 L168.0,1630.7 L169.8,1629.8 L171.6,1628.8 L173.4,1627.9 L175.1,1627.0 L176.9,1626.1 L178.7,1625.2 L180.5,1624.4 L182.2,1623.5 L184.0,1622.7 L185.8,1621.9 L187.6,1621.1 L189.3,1620.3 L191.1,1619.5 L192.9,1618.7 L194.7,1618.0 L196.4,1617.2 L198.2,1616.5 L200.0,1615.7 L201.8,1615.0 L203.5,1614.3 L205.3,1613.6 L207.1,1612.9 L208.8,1612.2 L210.6,1611.6 L212.4,1610.9 L214.2,1610.3 L215.9,1609.7 L217.7,1609.0 L219.5,1608.4 L221.3,1607.9 L223.0,1607.3 L224.8,1606.7 L226.6,1606.1 L228.4,1605.5 L230.1,1604.9 L231.9,1604.3 L233.7,1603.8 L235.5,1603.2 L237.2,1602.7 L239.0,1602.3 L240.8,1601.8 L242.6,1601.4 L244.3,1601.1 L246.1,1600.8 L247.9,1600.5 L249.7,1600.2 L251.4,1600.0 L253.2,1599.7 L255.0,1599.4 L256.7,1599.2 L258.5,1599.0 L260.3,1598.8 L262.1,1598.6 L263.8,1598.4 L265.6,1598.3 L267.4,1598.3 L269.2,1598.2 L270.9,1598.2 L272.7,1598.3 L274.5,1598.4 L276.3,1598.6 L278.0,1598.8 L279.8,1599.1 L281.6,1599.4 L283.4,1599.7 L285.1,1600.0 L286.9,1600.4 L288.7,1600.7 L290.5,1601.1 L292.2,1601.4 L294.0,1601.9 L295.8,1602.3 L297.6,1602.8 L299.3,1603.4 L301.1,1604.0 L302.9,1604.6 L304.6,1605.2 L306.4,1605.8 L308.2,1606.4 L310.0,1606.9 L311.7,1607.5 L313.5,1608.1 L315.3,1608.6 L317.1,1609.2 L318.8,1609.8 L320.6,1610.4 L322.4,1611.1 L324.2,1611.7 L325.9,1612.5 L327.7,1613.3 L329.5,1614.1 L331.3,1615.0 L333.0,1616.0 L334.8,1617.0 L336.6,1618.1 L338.4,1619.2 L340.1,1620.4 L341.9,1621.6 L343.7,1622.8 L345.5,1624.1 L347.2,1625.4 L349.0,1626.8 L350.8,1628.2 L352.5,1629.7 L354.3,1631.3 L356.1,1632.9 L357.9,1634.5 L359.6,1636.2 L361.4,1637.8 L363.2,1639.5 L365.0,1641.2 L366.7,1642.9 L368.5,1644.7 L370.3,1646.4 L372.1,1648.3 L373.8,1650.1 L375.6,1652.0 L377.4,1653.8 L379.2,1655.7 L380.9,1657.7 L382.7,1659.6 L384.5,1661.5 L386.3,1663.5 L388.0,1665.5 L389.8,1667.5 L391.6,1669.5 L393.4,1671.6 L395.1,1673.7 L396.9,1675.8 L398.7,1677.9 L400.4,1680.0 L402.2,1682.1 L404.0,1684.2 L405.8,1686.2 L407.5,1688.2 L409.3,1690.2 L411.1,1692.2 L412.9,1694.1 L414.6,1696.1 L416.4,1698.0 L418.2,1699.9 L420.0,1701.8 L421.7,1703.7 L423.5,1705.6 L425.3,1707.6 L427.1,1709.5 L428.8,1711.4 L430.6,1713.3 L432.4,1715.3 L434.2,1717.2 L435.9,1719.2 L437.7,1721.1 L439.5,1723.1 L441.3,1725.0 L443.0,1726.9 L444.8,1728.8 L446.6,1730.7 L448.4,1732.5 L450.1,1734.3 L451.9,1736.1 L453.7,1737.8 L455.4,1739.6 L457.2,1741.4 L459.0,1743.1 L460.8,1744.8 L462.5,1746.5 L464.3,1748.1 L466.1,1749.6 L467.9,1750.9 L469.6,1752.1 L471.4,1753.3 L473.2,1754.4 L475.0,1755.4 L476.7,1756.4 L478.5,1757.4 L480.3,1758.2 L482.1,1759.0 L483.8,1759.8 L485.6,1760.4 L487.4,1761.0 L489.2,1761.5 L490.9,1762.0 L492.7,1762.4 L494.5,1762.9 L496.3,1763.3 L498.0,1763.6 L499.8,1763.9 L501.6,1764.2 L503.3,1764.4 L505.1,1764.6 L506.9,1764.8 L508.7,1764.9 L510.4,1765.0 L512.2,1765.1 L514.0,1765.2 L515.8,1765.3 L517.5,1765.3 L519.3,1765.3 L521.1,1765.3 L522.9,1765.3 L524.6,1765.3 L526.4,1765.3 L528.2,1765.3 L530.0,1765.3 L531.7,1765.3 L533.5,1765.3 L535.3,1765.3 L537.1,1765.3 L538.8,1765.3 L540.6,1765.3 L542.4,1765.3 L544.2,1765.3 L545.9,1765.3 L547.7,1765.3 L549.5,1765.3 L551.2,1765.3 L553.0,1765.3 L554.8,1765.3 L556.6,1765.3 L558.3,1765.3 L560.1,1765.3 L561.9,1765.3 L563.7,1765.3 L565.4,1765.3 L567.2,1765.3 L569.0,1765.3 L570.8,1765.3 L572.5,1765.3 L574.3,1765.3 L576.1,1765.3 L577.9,1765.3 L579.6,1765.3 L581.4,1765.3 L583.2,1765.3 L585.0,1765.3 L586.7,1765.3 L588.5,1765.3 L590.3,1765.3 L592.1,1765.3 L593.8,1765.3 L595.6,1765.3 L597.4,1765.3 L599.1,1765.3 L600.9,1765.3 L602.7,1765.3 L604.5,1765.3 L606.2,1765.3 L608.0,1765.3 L609.8,1765.3 L611.6,1765.3 L613.3,1765.3 L615.1,1765.3 L616.9,1765.3 L618.7,1765.3 L620.4,1765.3 L622.2,1765.3 L624.0,1765.3 L625.8,1765.3 L627.5,1765.3 L629.3,1765.3 L631.1,1765.3 L632.9,1765.3 L634.6,1765.3 L636.4,1765.3 L638.2,1765.3 L640.0,1765.3 L641.7,1765.3 L643.5,1765.3 L645.3,1765.3 L647.0,1765.3 L648.8,1765.3 L650.6,1765.3 L652.4,1765.3 L654.1,1765.3 L655.9,1765.3 L657.7,1765.3 L659.5,1765.3 L661.2,1765.3 L663.0,1765.3 L664.8,1765.3 L666.6,1765.3 L668.3,1765.3 L670.1,1765.3 L671.9,1765.3 L673.7,1765.3 L675.4,1765.3 L677.2,1765.3 L679.0,1765.3 L680.8,1765.3 L682.5,1765.3 L684.3,1765.3 L686.1,1765.3 L687.9,1765.3 L689.6,1765.3 L691.4,1765.3 L693.2,1765.3 L695.0,1765.3 L696.7,1765.3 L698.5,1765.3 L700.3,1765.3 L702.0,1765.3 L703.8,1765.3 L705.6,1765.3 L707.4,1765.3 L709.1,1765.3 L710.9,1765.3 L712.7,1765.3 L714.5,1765.3 L716.2,1765.3 L718.0,1765.3 L719.8,1765.3 L721.6,1765.3 L723.3,1765.3 L725.1,1765.3 L726.9,1765.3 L728.7,1765.3 L730.4,1765.3 L732.2,1765.3 L734.0,1765.3 L735.8,1765.3 L737.5,1765.3 L739.3,1765.3 L741.1,1765.3 L742.9,1765.3 L744.6,1765.3 L746.4,1765.3 L748.2,1765.3 L749.9,1765.3 L751.7,1765.3 L753.5,1765.3 L755.3,1765.3 L757.0,1765.3 L758.8,1765.3 L760.6,1765.3 L762.4,1765.3 L764.1,1765.3 L765.9,1765.3 L767.7,1765.3 L769.5,1765.3 L771.2,1765.3 L773.0,1765.3 L774.8,1765.3 L776.6,1765.3 L778.3,1765.3 L780.1,1765.3 L781.9,1765.3 L783.7,1765.3 L785.4,1765.3 L787.2,1765.3 L789.0,1765.3 L790.8,1765.3 L792.5,1765.3 L794.3,1765.3 L796.1,1765.3 L797.8,1765.3 L799.6,1765.3 L801.4,1765.3 L803.2,1765.3 L804.9,1765.3 L806.7,1765.3 L808.5,1765.3 L810.3,1765.3 L812.0,1765.3 L813.8,1765.3 L815.6,1765.3 L817.4,1765.3 L819.1,1765.3 L820.9,1765.3 L822.7,1765.3 L824.5,1765.3 L826.2,1765.3 L828.0,1765.3 L829.8,1765.3 L831.6,1765.3 L833.3,1765.3 L835.1,1765.3 L836.9,1765.3 L838.7,1765.3 L840.4,1765.3 L842.2,1765.3 L844.0,1765.3 L845.7,1765.3 L847.5,1765.3 L849.3,1765.3 L851.1,1765.3 L852.8,1765.3 L854.6,1765.3 L856.4,1765.3 L858.2,1765.3 L859.9,1765.3 L861.7,1765.3 L863.5,1765.3 L865.3,1765.3 L867.0,1765.3 L868.8,1765.3 L870.6,1765.3 L872.4,1765.3 L874.1,1765.3 L875.9,1765.3 L877.7,1765.3 L879.5,1765.3 L881.2,1765.3 L883.0,1765.3 L884.8,1765.3 L886.6,1765.3 L888.3,1765.3 L890.1,1765.3 L891.9,1765.3 L893.6,1765.3 L895.4,1765.3 L897.2,1765.3 L899.0,1765.3 L900.7,1765.3 L902.5,1765.3 L904.3,1765.3 L906.1,1765.3 L907.8,1765.3 L909.6,1765.3 L911.4,1765.3 L913.2,1765.3 L914.9,1765.3 L916.7,1765.3 L918.5,1765.3 L920.3,1765.3 L922.0,1765.3 L923.8,1765.3 L925.6,1765.3 L927.4,1765.3 L929.1,1765.3 L930.9,1765.3 L932.7,1765.3 L934.5,1765.3 L936.2,1765.3 L938.0,1765.3 L939.8,1765.3 L941.6,1765.3 L943.3,1765.3 L945.1,1765.3 L946.9,1765.3 L948.6,1765.3 L950.4,1765.3 L952.2,1765.3 L954.0,1765.3 L955.7,1765.3 L957.5,1765.3 L959.3,1765.3 L961.1,1765.3 L962.8,1765.3 L964.6,1765.3 L966.4,1765.3 L968.2,1765.3 L969.9,1765.3 L971.7,1765.3 L973.5,1765.3 L975.3,1765.3 L977.0,1765.3 L978.8,1765.3 L980.6,1765.3 L982.4,1765.3 L984.1,1765.3 L985.9,1765.3 L987.7,1765.3 L989.5,1765.3 L991.2,1765.3 L993.0,1765.3 L994.8,1765.3 L996.5,1765.3 L998.3,1765.3 L1000.1,1765.3 L1001.9,1765.3 L1003.6,1765.3 L1005.4,1765.3 L1007.2,1765.3 L1009.0,1765.3 L1010.7,1765.3 L1012.5,1765.3 L1014.3,1765.3 L1016.1,1765.3 L1017.8,1765.3 L1019.6,1765.3 L1021.4,1765.3 L1023.2,1765.3 L1024.9,1765.3 L1026.7,1765.3 L1028.5,1765.3 L1030.3,1765.3 L1032.0,1765.3 L1033.8,1765.3 L1035.6,1765.3 L1037.4,1765.3 L1039.1,1765.3 L1040.9,1765.3" stroke="#e9918b" stroke-width="2.70"/><path d="M153.8,1638.8 L155.6,1637.7 L157.4,1636.7 L159.2,1635.7 L160.9,1634.6 L162.7,1633.6 L164.5,1632.6 L166.3,1631.7 L168.0,1630.7 L169.8,1629.8 L171.6,1628.8 L173.4,1627.9 L175.1,1627.0 L176.9,1626.1 L178.7,1625.2 L180.5,1624.4 L182.2,1623.5 L184.0,1622.7 L185.8,1621.9 L187.6,1621.1 L189.3,1620.3 L191.1,1619.5 L192.9,1618.7 L194.7,1618.0 L196.4,1617.2 L198.2,1616.5 L200.0,1615.7 L201.8,1615.0 L203.5,1614.3 L205.3,1613.6 L207.1,1612.9 L208.8,1612.2 L210.6,1611.6 L212.4,1610.9 L214.2,1610.3 L215.9,1609.7 L217.7,1609.0 L219.5,1608.4 L221.3,1607.9 L223.0,1607.3 L224.8,1606.7 L226.6,1606.1 L228.4,1605.5 L230.1,1604.9 L231.9,1604.3 L233.7,1603.8 L235.5,1603.2 L237.2,1602.7 L239.0,1602.3 L240.8,1601.8 L242.6,1601.4 L244.3,1601.1 L246.1,1600.8 L247.9,1600.5 L249.7,1600.2 L251.4,1600.0 L253.2,1599.7 L255.0,1599.4 L256.7,1599.2 L258.5,1599.0 L260.3,1598.8 L262.1,1598.6 L263.8,1598.4 L265.6,1598.3 L267.4,1598.3 L269.2,1598.2 L270.9,1598.2 L272.7,1598.3 L274.5,1598.4 L276.3,1598.6 L278.0,1598.8 L279.8,1599.1 L281.6,1599.4 L283.4,1599.7 L285.1,1600.0 L286.9,1600.4 L288.7,1600.7 L290.5,1601.1 L292.2,1601.4 L294.0,1601.9 L295.8,1602.3 L297.6,1602.8 L299.3,1603.4 L301.1,1604.0 L302.9,1604.6 L304.6,1605.2 L306.4,1605.8 L308.2,1606.4 L310.0,1606.9 L311.7,1607.5 L313.5,1608.1 L315.3,1608.6 L317.1,1609.2 L318.8,1609.8 L320.6,1610.4 L322.4,1611.1 L324.2,1611.7 L325.9,1612.5 L327.7,1613.3 L329.5,1614.1 L331.3,1615.0 L333.0,1616.0 L334.8,1617.0 L336.6,1618.1 L338.4,1619.2 L340.1,1620.4 L341.9,1621.6 L343.7,1622.8 L345.5,1624.1 L347.2,1625.4 L349.0,1626.8 L350.8,1628.2 L352.5,1629.7 L354.3,1631.3 L356.1,1632.9 L357.9,1634.5 L359.6,1636.2 L361.4,1637.8 L363.2,1639.5 L365.0,1641.2 L366.7,1642.9 L368.5,1644.7 L370.3,1646.4 L372.1,1648.3 L373.8,1650.1 L375.6,1652.0 L377.4,1653.8 L379.2,1655.7 L380.9,1657.7 L382.7,1659.6 L384.5,1661.5 L386.3,1663.5 L388.0,1665.5 L389.8,1667.5 L391.6,1669.5 L393.4,1671.6 L395.1,1673.7 L396.9,1675.8 L398.7,1677.9 L400.4,1680.0 L402.2,1682.1 L404.0,1684.2 L405.8,1686.2 L407.5,1688.2 L409.3,1690.2 L411.1,1692.2 L412.9,1694.1 L414.6,1696.1 L416.4,1698.0 L418.2,1699.9 L420.0,1701.8 L421.7,1703.7 L423.5,1705.6 L425.3,1707.6 L427.1,1709.5 L428.8,1711.4 L430.6,1713.3 L432.4,1715.3 L434.2,1717.2 L435.9,1719.2 L437.7,1721.1 L439.5,1723.1 L441.3,1725.0 L443.0,1726.9 L444.8,1728.8 L446.6,1730.7 L448.4,1732.5 L450.1,1734.3 L451.9,1736.1 L453.7,1737.8 L455.4,1739.6 L457.2,1741.4 L459.0,1743.1 L460.8,1744.8 L462.5,1746.5 L464.3,1748.1 L466.1,1749.6 L467.9,1750.9 L469.6,1752.1 L471.4,1753.3 L473.2,1754.4 L475.0,1755.4 L476.7,1756.4 L478.5,1757.4 L480.3,1758.2 L482.1,1759.0 L483.8,1759.8 L485.6,1760.4 L487.4,1761.0 L489.2,1761.5 L490.9,1762.0 L492.7,1762.4 L494.5,1762.9 L496.3,1763.3 L498.0,1763.6 L499.8,1763.9 L501.6,1764.2 L503.3,1764.4 L505.1,1764.6 L506.9,1764.8 L508.7,1764.9 L510.4,1765.0 L512.2,1765.1 L514.0,1765.2 L515.8,1765.3 L517.5,1765.3 L519.3,1765.3 L521.1,1765.3 L522.9,1765.3 L524.6,1765.3 L526.4,1765.3 L528.2,1765.3 L530.0,1765.3 L531.7,1765.3 L533.5,1765.3 L535.3,1765.3 L537.1,1765.3 L538.8,1765.3 L540.6,1765.3 L542.4,1765.3 L544.2,1765.3 L545.9,1765.3 L547.7,1765.3 L549.5,1765.3 L551.2,1765.3 L553.0,1765.3 L554.8,1765.3 L556.6,1765.3 L558.3,1765.3 L560.1,1765.3 L561.9,1765.3 L563.7,1765.3 L565.4,1765.3 L567.2,1765.3 L569.0,1765.3 L570.8,1765.3 L572.5,1765.3 L574.3,1765.3 L576.1,1765.3 L577.9,1765.3 L579.6,1765.3 L581.4,1765.3 L583.2,1765.3 L585.0,1765.3 L586.7,1765.3 L588.5,1765.3 L590.3,1765.3 L592.1,1765.3 L593.8,1765.3 L595.6,1765.3 L597.4,1765.3 L599.1,1765.3 L600.9,1765.3 L602.7,1765.3 L604.5,1765.3 L606.2,1765.3 L608.0,1765.3 L609.8,1765.3 L611.6,1765.3 L613.3,1765.3 L615.1,1765.3 L616.9,1765.3 L618.7,1765.3 L620.4,1765.3 L622.2,1765.3 L624.0,1765.3 L625.8,1765.3 L627.5,1765.3 L629.3,1765.3 L631.1,1765.3 L632.9,1765.3 L634.6,1765.3 L636.4,1765.3 L638.2,1765.3 L640.0,1765.3 L641.7,1765.3 L643.5,1765.3 L645.3,1765.3 L647.0,1765.3 L648.8,1765.3 L650.6,1765.3 L652.4,1765.3 L654.1,1765.3 L655.9,1765.3 L657.7,1765.3 L659.5,1765.3 L661.2,1765.3 L663.0,1765.3 L664.8,1765.3 L666.6,1765.3 L668.3,1765.3 L670.1,1765.3 L671.9,1765.3 L673.7,1765.3 L675.4,1765.3 L677.2,1765.3 L679.0,1765.3 L680.8,1765.3 L682.5,1765.3 L684.3,1765.3 L686.1,1765.3 L687.9,1765.3 L689.6,1765.3 L691.4,1765.3 L693.2,1765.3 L695.0,1765.3 L696.7,1765.3 L698.5,1765.3 L700.3,1765.3 L702.0,1765.3 L703.8,1765.3 L705.6,1765.3 L707.4,1765.3 L709.1,1765.3 L710.9,1765.3 L712.7,1765.3 L714.5,1765.3 L716.2,1765.3 L718.0,1765.3 L719.8,1765.3 L721.6,1765.3 L723.3,1765.3 L725.1,1765.3 L726.9,1765.3 L728.7,1765.3 L730.4,1765.3 L732.2,1765.3 L734.0,1765.3 L735.8,1765.3 L737.5,1765.3 L739.3,1765.3 L741.1,1765.3 L742.9,1765.3 L744.6,1765.3 L746.4,1765.3 L748.2,1765.3 L749.9,1765.3 L751.7,1765.3 L753.5,1765.3 L755.3,1765.3 L757.0,1765.3 L758.8,1765.3 L760.6,1765.3 L762.4,1765.3 L764.1,1765.3 L765.9,1765.3 L767.7,1765.3 L769.5,1765.3 L771.2,1765.3 L773.0,1765.3 L774.8,1765.3 L776.6,1765.3 L778.3,1765.3 L780.1,1765.3 L781.9,1765.3 L783.7,1765.3 L785.4,1765.3 L787.2,1765.3 L789.0,1765.3 L790.8,1765.3 L792.5,1765.3 L794.3,1765.3 L796.1,1765.3 L797.8,1765.3 L799.6,1765.3 L801.4,1765.3 L803.2,1765.3 L804.9,1765.3 L806.7,1765.3 L808.5,1765.3 L810.3,1765.3 L812.0,1765.3 L813.8,1765.3 L815.6,1765.3 L817.4,1765.3 L819.1,1765.3 L820.9,1765.3 L822.7,1765.3 L824.5,1765.3 L826.2,1765.3 L828.0,1765.3 L829.8,1765.3 L831.6,1765.3 L833.3,1765.3 L835.1,1765.3 L836.9,1765.3 L838.7,1765.3 L840.4,1765.3 L842.2,1765.3 L844.0,1765.3 L845.7,1765.3 L847.5,1765.3 L849.3,1765.3 L851.1,1765.3 L852.8,1765.3 L854.6,1765.3 L856.4,1765.3 L858.2,1765.3 L859.9,1765.3 L861.7,1765.3 L863.5,1765.3 L865.3,1765.3 L867.0,1765.3 L868.8,1765.3 L870.6,1765.3 L872.4,1765.3 L874.1,1765.3 L875.9,1765.3 L877.7,1765.3 L879.5,1765.3 L881.2,1765.3 L883.0,1765.3 L884.8,1765.3 L886.6,1765.3 L888.3,1765.3 L890.1,1765.3 L891.9,1765.3 L893.6,1765.3 L895.4,1765.3 L897.2,1765.3 L899.0,1765.3 L900.7,1765.3 L902.5,1765.3 L904.3,1765.3 L906.1,1765.3 L907.8,1765.3 L909.6,1765.3 L911.4,1765.3 L913.2,1765.3 L914.9,1765.3 L916.7,1765.3 L918.5,1765.3 L920.3,1765.3 L922.0,1765.3 L923.8,1765.3 L925.6,1765.3 L927.4,1765.3 L929.1,1765.3 L930.9,1765.3 L932.7,1765.3 L934.5,1765.3 L936.2,1765.3 L938.0,1765.3 L939.8,1765.3 L941.6,1765.3 L943.3,1765.3 L945.1,1765.3 L946.9,1765.3 L948.6,1765.3 L950.4,1765.3 L952.2,1765.3 L954.0,1765.3 L955.7,1765.3 L957.5,1765.3 L959.3,1765.3 L961.1,1765.3 L962.8,1765.3 L964.6,1765.3 L966.4,1765.3 L968.2,1765.3 L969.9,1765.3 L971.7,1765.3 L973.5,1765.3 L975.3,1765.3 L977.0,1765.3 L978.8,1765.3 L980.6,1765.3 L982.4,1765.3 L984.1,1765.3 L985.9,1765.3 L987.7,1765.3 L989.5,1765.3 L991.2,1765.3 L993.0,1765.3 L994.8,1765.3 L996.5,1765.3 L998.3,1765.3 L1000.1,1765.3 L1001.9,1765.3 L1003.6,1765.3 L1005.4,1765.3 L1007.2,1765.3 L1009.0,1765.3 L1010.7,1765.3 L1012.5,1765.3 L1014.3,1765.3 L1016.1,1765.3 L1017.8,1765.3 L1019.6,1765.3 L1021.4,1765.3 L1023.2,1765.3 L1024.9,1765.3 L1026.7,1765.3 L1028.5,1765.3 L1030.3,1765.3 L1032.0,1765.3 L1033.8,1765.3 L1035.6,1765.3 L1037.4,1765.3 L1039.1,1765.3 L1040.9,1765.3" stroke="#fff" stroke-width="1.10"/></g>
<path d="M153.8,1765.3 L153.8,1726.6 L155.6,1726.0 L157.4,1725.3 L159.2,1724.6 L160.9,1723.9 L162.7,1723.2 L164.5,1722.5 L166.3,1721.8 L168.0,1721.1 L169.8,1720.4 L171.6,1719.7 L173.4,1719.0 L175.1,1718.3 L176.9,1717.6 L178.7,1716.9 L180.5,1716.2 L182.2,1715.5 L184.0,1714.8 L185.8,1714.1 L187.6,1713.3 L189.3,1712.6 L191.1,1711.9 L192.9,1711.2 L194.7,1710.4 L196.4,1709.7 L198.2,1709.0 L200.0,1708.2 L201.8,1707.5 L203.5,1706.8 L205.3,1706.0 L207.1,1705.3 L208.8,1704.5 L210.6,1703.8 L212.4,1703.0 L214.2,1702.2 L215.9,1701.5 L217.7,1700.7 L219.5,1699.9 L221.3,1699.2 L223.0,1698.4 L224.8,1697.6 L226.6,1696.8 L228.4,1696.0 L230.1,1695.3 L231.9,1694.5 L233.7,1693.7 L235.5,1692.9 L237.2,1692.1 L239.0,1691.4 L240.8,1690.6 L242.6,1689.8 L244.3,1689.0 L246.1,1688.3 L247.9,1687.5 L249.7,1686.7 L251.4,1686.0 L253.2,1685.2 L255.0,1684.4 L256.7,1683.7 L258.5,1682.9 L260.3,1682.2 L262.1,1681.4 L263.8,1680.7 L265.6,1679.9 L267.4,1679.1 L269.2,1678.4 L270.9,1677.6 L272.7,1676.9 L274.5,1676.1 L276.3,1675.4 L278.0,1674.6 L279.8,1673.9 L281.6,1673.1 L283.4,1672.4 L285.1,1671.6 L286.9,1670.9 L288.7,1670.2 L290.5,1669.4 L292.2,1668.7 L294.0,1668.0 L295.8,1667.2 L297.6,1666.5 L299.3,1665.8 L301.1,1665.1 L302.9,1664.4 L304.6,1663.7 L306.4,1662.9 L308.2,1662.2 L310.0,1661.6 L311.7,1660.9 L313.5,1660.2 L315.3,1659.5 L317.1,1658.8 L318.8,1658.1 L320.6,1657.5 L322.4,1656.8 L324.2,1656.2 L325.9,1655.5 L327.7,1654.8 L329.5,1654.2 L331.3,1653.5 L333.0,1652.9 L334.8,1652.2 L336.6,1651.6 L338.4,1650.9 L340.1,1650.3 L341.9,1649.6 L343.7,1649.0 L345.5,1648.3 L347.2,1647.7 L349.0,1647.0 L350.8,1646.3 L352.5,1645.7 L354.3,1645.0 L356.1,1644.3 L357.9,1643.7 L359.6,1643.0 L361.4,1642.4 L363.2,1641.7 L365.0,1641.1 L366.7,1640.4 L368.5,1639.8 L370.3,1639.2 L372.1,1638.6 L373.8,1638.0 L375.6,1637.5 L377.4,1636.9 L379.2,1636.3 L380.9,1635.8 L382.7,1635.2 L384.5,1634.6 L386.3,1634.1 L388.0,1633.6 L389.8,1633.0 L391.6,1632.5 L393.4,1632.0 L395.1,1631.5 L396.9,1631.0 L398.7,1630.6 L400.4,1630.1 L402.2,1629.7 L404.0,1629.2 L405.8,1628.8 L407.5,1628.4 L409.3,1628.0 L411.1,1627.6 L412.9,1627.2 L414.6,1626.8 L416.4,1626.4 L418.2,1626.0 L420.0,1625.6 L421.7,1625.2 L423.5,1624.8 L425.3,1624.4 L427.1,1624.0 L428.8,1623.6 L430.6,1623.2 L432.4,1622.7 L434.2,1622.3 L435.9,1621.9 L437.7,1621.5 L439.5,1621.1 L441.3,1620.6 L443.0,1620.3 L444.8,1619.9 L446.6,1619.5 L448.4,1619.2 L450.1,1618.9 L451.9,1618.6 L453.7,1618.3 L455.4,1618.0 L457.2,1617.7 L459.0,1617.4 L460.8,1617.1 L462.5,1616.9 L464.3,1616.8 L466.1,1616.8 L467.9,1616.8 L469.6,1616.8 L471.4,1616.9 L473.2,1617.1 L475.0,1617.2 L476.7,1617.4 L478.5,1617.6 L480.3,1617.8 L482.1,1618.0 L483.8,1618.2 L485.6,1618.5 L487.4,1618.7 L489.2,1618.9 L490.9,1619.2 L492.7,1619.5 L494.5,1619.8 L496.3,1620.1 L498.0,1620.5 L499.8,1620.9 L501.6,1621.3 L503.3,1621.7 L505.1,1622.2 L506.9,1622.6 L508.7,1623.1 L510.4,1623.5 L512.2,1624.0 L514.0,1624.5 L515.8,1625.0 L517.5,1625.5 L519.3,1626.1 L521.1,1626.6 L522.9,1627.2 L524.6,1627.8 L526.4,1628.4 L528.2,1629.0 L530.0,1629.7 L531.7,1630.4 L533.5,1631.1 L535.3,1631.8 L537.1,1632.5 L538.8,1633.3 L540.6,1634.1 L542.4,1634.9 L544.2,1635.8 L545.9,1636.7 L547.7,1637.7 L549.5,1638.7 L551.2,1639.7 L553.0,1640.7 L554.8,1641.8 L556.6,1642.8 L558.3,1643.9 L560.1,1645.0 L561.9,1646.1 L563.7,1647.3 L565.4,1648.5 L567.2,1649.8 L569.0,1651.1 L570.8,1652.3 L572.5,1653.6 L574.3,1654.9 L576.1,1656.1 L577.9,1657.3 L579.6,1658.4 L581.4,1659.5 L583.2,1660.6 L585.0,1661.7 L586.7,1662.7 L588.5,1663.8 L590.3,1664.9 L592.1,1666.1 L593.8,1667.3 L595.6,1668.5 L597.4,1669.7 L599.1,1671.0 L600.9,1672.3 L602.7,1673.7 L604.5,1675.0 L606.2,1676.3 L608.0,1677.7 L609.8,1679.0 L611.6,1680.3 L613.3,1681.6 L615.1,1682.9 L616.9,1684.2 L618.7,1685.6 L620.4,1686.9 L622.2,1688.2 L624.0,1689.5 L625.8,1690.9 L627.5,1692.2 L629.3,1693.5 L631.1,1694.8 L632.9,1696.1 L634.6,1697.4 L636.4,1698.6 L638.2,1699.9 L640.0,1701.1 L641.7,1702.4 L643.5,1703.6 L645.3,1704.8 L647.0,1706.0 L648.8,1707.2 L650.6,1708.4 L652.4,1709.6 L654.1,1710.8 L655.9,1711.9 L657.7,1713.1 L659.5,1714.2 L661.2,1715.4 L663.0,1716.5 L664.8,1717.6 L666.6,1718.8 L668.3,1719.9 L670.1,1721.0 L671.9,1722.1 L673.7,1723.3 L675.4,1724.4 L677.2,1725.5 L679.0,1726.6 L680.8,1727.7 L682.5,1728.8 L684.3,1729.8 L686.1,1730.9 L687.9,1731.9 L689.6,1732.8 L691.4,1733.8 L693.2,1734.7 L695.0,1735.5 L696.7,1736.4 L698.5,1737.3 L700.3,1738.1 L702.0,1738.9 L703.8,1739.7 L705.6,1740.5 L707.4,1741.3 L709.1,1742.0 L710.9,1742.7 L712.7,1743.4 L714.5,1744.1 L716.2,1744.8 L718.0,1745.5 L719.8,1746.1 L721.6,1746.7 L723.3,1747.3 L725.1,1747.9 L726.9,1748.5 L728.7,1749.1 L730.4,1749.6 L732.2,1750.1 L734.0,1750.7 L735.8,1751.2 L737.5,1751.7 L739.3,1752.2 L741.1,1752.7 L742.9,1753.1 L744.6,1753.6 L746.4,1754.0 L748.2,1754.4 L749.9,1754.8 L751.7,1755.2 L753.5,1755.6 L755.3,1756.0 L757.0,1756.4 L758.8,1756.8 L760.6,1757.1 L762.4,1757.5 L764.1,1757.8 L765.9,1758.1 L767.7,1758.5 L769.5,1758.8 L771.2,1759.0 L773.0,1759.3 L774.8,1759.6 L776.6,1759.9 L778.3,1760.1 L780.1,1760.4 L781.9,1760.6 L783.7,1760.8 L785.4,1761.1 L787.2,1761.3 L789.0,1761.5 L790.8,1761.7 L792.5,1761.9 L794.3,1762.1 L796.1,1762.3 L797.8,1762.4 L799.6,1762.6 L801.4,1762.7 L803.2,1762.9 L804.9,1763.0 L806.7,1763.2 L808.5,1763.3 L810.3,1763.4 L812.0,1763.5 L813.8,1763.7 L815.6,1763.8 L817.4,1763.9 L819.1,1764.0 L820.9,1764.1 L822.7,1764.1 L824.5,1764.2 L826.2,1764.3 L828.0,1764.3 L829.8,1764.4 L831.6,1764.5 L833.3,1764.5 L835.1,1764.6 L836.9,1764.6 L838.7,1764.7 L840.4,1764.8 L842.2,1764.8 L844.0,1764.9 L845.7,1764.9 L847.5,1765.0 L849.3,1765.0 L851.1,1765.1 L852.8,1765.1 L854.6,1765.1 L856.4,1765.2 L858.2,1765.2 L859.9,1765.2 L861.7,1765.2 L863.5,1765.3 L865.3,1765.3 L867.0,1765.3 L868.8,1765.3 L870.6,1765.3 L872.4,1765.3 L874.1,1765.3 L875.9,1765.3 L877.7,1765.3 L879.5,1765.3 L881.2,1765.3 L883.0,1765.3 L884.8,1765.3 L886.6,1765.3 L888.3,1765.3 L890.1,1765.3 L891.9,1765.3 L893.6,1765.3 L895.4,1765.3 L897.2,1765.3 L899.0,1765.3 L900.7,1765.3 L902.5,1765.3 L904.3,1765.3 L906.1,1765.3 L907.8,1765.3 L909.6,1765.3 L911.4,1765.3 L913.2,1765.3 L914.9,1765.3 L916.7,1765.3 L918.5,1765.3 L920.3,1765.3 L922.0,1765.3 L923.8,1765.3 L925.6,1765.3 L927.4,1765.3 L929.1,1765.3 L930.9,1765.3 L932.7,1765.3 L934.5,1765.3 L936.2,1765.3 L938.0,1765.3 L939.8,1765.3 L941.6,1765.3 L943.3,1765.3 L945.1,1765.3 L946.9,1765.3 L948.6,1765.3 L950.4,1765.3 L952.2,1765.3 L954.0,1765.3 L955.7,1765.3 L957.5,1765.3 L959.3,1765.3 L961.1,1765.3 L962.8,1765.3 L964.6,1765.3 L966.4,1765.3 L968.2,1765.3 L969.9,1765.3 L971.7,1765.3 L973.5,1765.3 L975.3,1765.3 L977.0,1765.3 L978.8,1765.3 L980.6,1765.3 L982.4,1765.3 L984.1,1765.3 L985.9,1765.3 L987.7,1765.3 L989.5,1765.3 L991.2,1765.3 L993.0,1765.3 L994.8,1765.3 L996.5,1765.3 L998.3,1765.3 L1000.1,1765.3 L1001.9,1765.3 L1003.6,1765.3 L1005.4,1765.3 L1007.2,1765.3 L1009.0,1765.3 L1010.7,1765.3 L1012.5,1765.3 L1014.3,1765.3 L1016.1,1765.3 L1017.8,1765.3 L1019.6,1765.3 L1021.4,1765.3 L1023.2,1765.3 L1024.9,1765.3 L1026.7,1765.3 L1028.5,1765.3 L1030.3,1765.3 L1032.0,1765.3 L1033.8,1765.3 L1035.6,1765.3 L1037.4,1765.3 L1039.1,1765.3 L1040.9,1765.3 L1040.9,1765.3Z" fill="#8cbec6" fill-opacity="1.00" stroke="none" clip-path="url(#cp20)"/>
<path d="M153.8,1765.3 L155.6,1765.3 L157.4,1765.3 L159.2,1765.3 L160.9,1765.3 L162.7,1765.3 L164.5,1765.3 L166.3,1765.3 L168.0,1765.3 L169.8,1765.3 L171.6,1765.3 L173.4,1765.3 L175.1,1765.3 L176.9,1765.3 L178.7,1765.3 L180.5,1765.3 L182.2,1765.3 L184.0,1765.3 L185.8,1765.3 L187.6,1765.3 L189.3,1765.3 L191.1,1765.3 L192.9,1765.3 L194.7,1765.3 L196.4,1765.3 L198.2,1765.3 L200.0,1765.3 L201.8,1765.3 L203.5,1765.3 L205.3,1765.3 L207.1,1765.3 L208.8,1765.3 L210.6,1765.3 L212.4,1765.3 L214.2,1765.3 L215.9,1765.3 L217.7,1765.3 L219.5,1765.3 L221.3,1765.3 L223.0,1765.3 L224.8,1765.3 L226.6,1765.3 L228.4,1765.3 L230.1,1765.3 L231.9,1765.3 L233.7,1765.3 L235.5,1765.3 L237.2,1765.3 L239.0,1765.3 L240.8,1765.3 L242.6,1765.3 L244.3,1765.3 L246.1,1765.3 L247.9,1765.3 L249.7,1765.3 L251.4,1765.3 L253.2,1765.3 L255.0,1765.3 L256.7,1765.3 L258.5,1765.3 L260.3,1765.3 L262.1,1765.3 L263.8,1765.3 L265.6,1765.3 L267.4,1765.3 L269.2,1765.3 L270.9,1765.3 L272.7,1765.3 L274.5,1765.3 L276.3,1765.3 L278.0,1765.3 L279.8,1765.3 L281.6,1765.3 L283.4,1765.3 L285.1,1765.3 L286.9,1765.3 L288.7,1765.3 L290.5,1765.3 L292.2,1765.3 L294.0,1765.3 L295.8,1765.3 L297.6,1765.3 L299.3,1765.3 L301.1,1765.3 L302.9,1765.3 L304.6,1765.3 L306.4,1765.3 L308.2,1765.3 L310.0,1765.3 L311.7,1765.3 L313.5,1765.3 L315.3,1765.3 L317.1,1765.3 L318.8,1765.3 L320.6,1765.3 L322.4,1765.3 L324.2,1765.3 L325.9,1765.3 L327.7,1765.3 L329.5,1765.3 L331.3,1765.3 L333.0,1765.3 L334.8,1765.3 L336.6,1765.3 L338.4,1765.3 L340.1,1765.3 L341.9,1765.3 L343.7,1765.3 L345.5,1765.3 L347.2,1765.3 L349.0,1765.3 L350.8,1765.3 L352.5,1765.3 L354.3,1765.3 L356.1,1765.3 L357.9,1765.3 L359.6,1765.3 L361.4,1765.3 L363.2,1765.3 L365.0,1765.3 L366.7,1765.3 L368.5,1765.3 L370.3,1765.3 L372.1,1765.3 L373.8,1765.3 L375.6,1765.3 L377.4,1765.3 L379.2,1765.3 L380.9,1765.3 L382.7,1765.3 L384.5,1765.3 L386.3,1765.3 L388.0,1765.3 L389.8,1765.3 L391.6,1765.3 L393.4,1765.3 L395.1,1765.3 L396.9,1765.3 L398.7,1765.3 L400.4,1765.3 L402.2,1765.3 L404.0,1765.3 L405.8,1765.3 L407.5,1765.2 L409.3,1765.2 L411.1,1765.2 L412.9,1765.2 L414.6,1765.2 L416.4,1765.2 L418.2,1765.2 L420.0,1765.2 L421.7,1765.2 L423.5,1765.2 L425.3,1765.1 L427.1,1765.1 L428.8,1765.1 L430.6,1765.1 L432.4,1765.1 L434.2,1765.1 L435.9,1765.0 L437.7,1765.0 L439.5,1765.0 L441.3,1764.9 L443.0,1764.9 L444.8,1764.9 L446.6,1764.8 L448.4,1764.8 L450.1,1764.7 L451.9,1764.7 L453.7,1764.6 L455.4,1764.6 L457.2,1764.5 L459.0,1764.4 L460.8,1764.3 L462.5,1764.3 L464.3,1764.2 L466.1,1764.1 L467.9,1764.0 L469.6,1763.8 L471.4,1763.7 L473.2,1763.6 L475.0,1763.4 L476.7,1763.3 L478.5,1763.1 L480.3,1762.9 L482.1,1762.7 L483.8,1762.5 L485.6,1762.3 L487.4,1762.1 L489.2,1761.8 L490.9,1761.5 L492.7,1761.3 L494.5,1760.9 L496.3,1760.6 L498.0,1760.3 L499.8,1759.9 L501.6,1759.5 L503.3,1759.0 L505.1,1758.6 L506.9,1758.1 L508.7,1757.6 L510.4,1757.0 L512.2,1756.5 L514.0,1755.9 L515.8,1755.2 L517.5,1754.5 L519.3,1753.8 L521.1,1753.0 L522.9,1752.2 L524.6,1751.3 L526.4,1750.4 L528.2,1749.5 L530.0,1748.5 L531.7,1747.4 L533.5,1746.3 L535.3,1745.1 L537.1,1743.9 L538.8,1742.6 L540.6,1741.3 L542.4,1739.9 L544.2,1738.4 L545.9,1736.8 L547.7,1735.2 L549.5,1733.5 L551.2,1731.8 L553.0,1729.9 L554.8,1728.0 L556.6,1726.0 L558.3,1723.9 L560.1,1721.8 L561.9,1719.5 L563.7,1717.2 L565.4,1714.8 L567.2,1712.3 L569.0,1709.7 L570.8,1707.0 L572.5,1704.2 L574.3,1701.3 L576.1,1698.4 L577.9,1695.3 L579.6,1692.2 L581.4,1688.9 L583.2,1685.6 L585.0,1682.1 L586.7,1678.6 L588.5,1675.0 L590.3,1671.3 L592.1,1667.5 L593.8,1663.6 L595.6,1659.6 L597.4,1655.5 L599.1,1651.3 L600.9,1647.1 L602.7,1642.8 L604.5,1638.4 L606.2,1633.9 L608.0,1629.3 L609.8,1624.7 L611.6,1620.0 L613.3,1615.3 L615.1,1610.4 L616.9,1605.6 L618.7,1600.7 L620.4,1595.7 L622.2,1590.7 L624.0,1585.7 L625.8,1580.6 L627.5,1575.5 L629.3,1570.4 L631.1,1565.3 L632.9,1560.2 L634.6,1555.0 L636.4,1549.9 L638.2,1544.8 L640.0,1539.7 L641.7,1534.6 L643.5,1529.6 L645.3,1524.6 L647.0,1519.7 L648.8,1514.8 L650.6,1510.0 L652.4,1505.2 L654.1,1500.6 L655.9,1496.0 L657.7,1491.5 L659.5,1487.1 L661.2,1482.8 L663.0,1478.6 L664.8,1474.5 L666.6,1470.6 L668.3,1466.8 L670.1,1463.2 L671.9,1459.6 L673.7,1456.3 L675.4,1453.1 L677.2,1450.0 L679.0,1447.2 L680.8,1444.5 L682.5,1442.0 L684.3,1439.6 L686.1,1437.5 L687.9,1435.5 L689.6,1433.8 L691.4,1432.2 L693.2,1430.9 L695.0,1429.7 L696.7,1428.8 L698.5,1428.0 L700.3,1427.5 L702.0,1427.2 L703.8,1427.1 L705.6,1427.2 L707.4,1427.5 L709.1,1428.0 L710.9,1428.8 L712.7,1429.7 L714.5,1430.9 L716.2,1432.2 L718.0,1433.8 L719.8,1435.5 L721.6,1437.5 L723.3,1439.6 L725.1,1442.0 L726.9,1444.5 L728.7,1447.2 L730.4,1450.0 L732.2,1453.1 L734.0,1456.3 L735.8,1459.6 L737.5,1463.2 L739.3,1466.8 L741.1,1470.6 L742.9,1474.5 L744.6,1478.6 L746.4,1482.8 L748.2,1487.1 L749.9,1491.5 L751.7,1496.0 L753.5,1500.6 L755.3,1505.2 L757.0,1510.0 L758.8,1514.8 L760.6,1519.7 L762.4,1524.6 L764.1,1529.6 L765.9,1534.6 L767.7,1539.7 L769.5,1544.8 L771.2,1549.9 L773.0,1555.0 L774.8,1560.2 L776.6,1565.3 L778.3,1570.4 L780.1,1575.5 L781.9,1580.6 L783.7,1585.7 L785.4,1590.7 L787.2,1595.7 L789.0,1600.7 L790.8,1605.6 L792.5,1610.4 L794.3,1615.3 L796.1,1620.0 L797.8,1624.7 L799.6,1629.3 L801.4,1633.9 L803.2,1638.4 L804.9,1642.8 L806.7,1647.1 L808.5,1651.3 L810.3,1655.5 L812.0,1659.6 L813.8,1663.6 L815.6,1667.5 L817.4,1671.3 L819.1,1675.0 L820.9,1678.6 L822.7,1682.1 L824.5,1685.6 L826.2,1688.9 L828.0,1692.2 L829.8,1695.3 L831.6,1698.4 L833.3,1701.3 L835.1,1704.2 L836.9,1707.0 L838.7,1709.7 L840.4,1712.3 L842.2,1714.8 L844.0,1717.2 L845.7,1719.5 L847.5,1721.8 L849.3,1723.9 L851.1,1726.0 L852.8,1728.0 L854.6,1729.9 L856.4,1731.8 L858.2,1733.5 L859.9,1735.2 L861.7,1736.8 L863.5,1738.4 L865.3,1739.9 L867.0,1741.3 L868.8,1742.6 L870.6,1743.9 L872.4,1745.1 L874.1,1746.3 L875.9,1747.4 L877.7,1748.5 L879.5,1749.5 L881.2,1750.4 L883.0,1751.3 L884.8,1752.2 L886.6,1753.0 L888.3,1753.8 L890.1,1754.5 L891.9,1755.2 L893.6,1755.9 L895.4,1756.5 L897.2,1757.0 L899.0,1757.6 L900.7,1758.1 L902.5,1758.6 L904.3,1759.0 L906.1,1759.5 L907.8,1759.9 L909.6,1760.3 L911.4,1760.6 L913.2,1760.9 L914.9,1761.3 L916.7,1761.5 L918.5,1761.8 L920.3,1762.1 L922.0,1762.3 L923.8,1762.5 L925.6,1762.7 L927.4,1762.9 L929.1,1763.1 L930.9,1763.3 L932.7,1763.4 L934.5,1763.6 L936.2,1763.7 L938.0,1763.8 L939.8,1764.0 L941.6,1764.1 L943.3,1764.2 L945.1,1764.3 L946.9,1764.3 L948.6,1764.4 L950.4,1764.5 L952.2,1764.6 L954.0,1764.6 L955.7,1764.7 L957.5,1764.7 L959.3,1764.8 L961.1,1764.8 L962.8,1764.9 L964.6,1764.9 L966.4,1764.9 L968.2,1765.0 L969.9,1765.0 L971.7,1765.0 L973.5,1765.1 L975.3,1765.1 L977.0,1765.1 L978.8,1765.1 L980.6,1765.1 L982.4,1765.1 L984.1,1765.2 L985.9,1765.2 L987.7,1765.2 L989.5,1765.2 L991.2,1765.2 L993.0,1765.2 L994.8,1765.2 L996.5,1765.2 L998.3,1765.2 L1000.1,1765.2 L1001.9,1765.3 L1003.6,1765.3 L1005.4,1765.3 L1007.2,1765.3 L1009.0,1765.3 L1010.7,1765.3 L1012.5,1765.3 L1014.3,1765.3 L1016.1,1765.3 L1017.8,1765.3 L1019.6,1765.3 L1021.4,1765.3 L1023.2,1765.3 L1024.9,1765.3 L1026.7,1765.3 L1028.5,1765.3 L1030.3,1765.3 L1032.0,1765.3 L1033.8,1765.3 L1035.6,1765.3 L1037.4,1765.3 L1039.1,1765.3 L1040.9,1765.3" fill="none" stroke="#e08582" stroke-width="1.40" clip-path="url(#cp20)"/>
<g clip-path="url(#cp20)"><path d="M153.8,1638.8 L155.6,1637.7 L157.4,1636.7 L159.2,1635.7 L160.9,1634.6 L162.7,1633.6 L164.5,1632.6 L166.3,1631.7 L168.0,1630.7 L169.8,1629.8 L171.6,1628.8 L173.4,1627.9 L175.1,1627.0 L176.9,1626.1 L178.7,1625.2 L180.5,1624.4 L182.2,1623.5 L184.0,1622.7 L185.8,1621.9 L187.6,1621.1 L189.3,1620.3 L191.1,1619.5 L192.9,1618.7 L194.7,1618.0 L196.4,1617.2 L198.2,1616.5 L200.0,1615.7 L201.8,1615.0 L203.5,1614.3 L205.3,1613.6 L207.1,1612.9 L208.8,1612.2 L210.6,1611.6 L212.4,1610.9 L214.2,1610.3 L215.9,1609.7 L217.7,1609.0 L219.5,1608.4 L221.3,1607.9 L223.0,1607.3 L224.8,1606.7 L226.6,1606.1 L228.4,1605.5 L230.1,1604.9 L231.9,1604.3 L233.7,1603.8 L235.5,1603.2 L237.2,1602.7 L239.0,1602.3 L240.8,1601.8 L242.6,1601.4 L244.3,1601.1 L246.1,1600.8 L247.9,1600.5 L249.7,1600.2 L251.4,1600.0 L253.2,1599.7 L255.0,1599.4 L256.7,1599.2 L258.5,1599.0 L260.3,1598.8 L262.1,1598.6 L263.8,1598.4 L265.6,1598.3 L267.4,1598.3 L269.2,1598.2 L270.9,1598.2 L272.7,1598.3 L274.5,1598.4 L276.3,1598.6 L278.0,1598.8 L279.8,1599.1 L281.6,1599.4 L283.4,1599.7 L285.1,1600.0 L286.9,1600.4 L288.7,1600.7 L290.5,1601.1 L292.2,1601.4 L294.0,1601.9 L295.8,1602.3 L297.6,1602.8 L299.3,1603.4 L301.1,1604.0 L302.9,1604.6 L304.6,1605.2 L306.4,1605.8 L308.2,1606.4 L310.0,1606.9 L311.7,1607.5 L313.5,1608.1 L315.3,1608.6 L317.1,1609.2 L318.8,1609.8 L320.6,1610.4 L322.4,1611.1 L324.2,1611.7 L325.9,1612.5 L327.7,1613.3 L329.5,1614.1 L331.3,1615.0 L333.0,1616.0 L334.8,1617.0 L336.6,1618.1 L338.4,1619.2 L340.1,1620.4 L341.9,1621.6 L343.7,1622.8 L345.5,1624.1 L347.2,1625.4 L349.0,1626.8 L350.8,1628.2 L352.5,1629.7 L354.3,1631.3 L356.1,1632.9 L357.9,1634.5 L359.6,1636.2 L361.4,1637.8 L363.2,1639.5 L365.0,1641.2 L366.7,1642.9 L368.5,1644.7 L370.3,1646.4 L372.1,1648.3 L373.8,1650.1 L375.6,1652.0 L377.4,1653.8 L379.2,1655.7 L380.9,1657.7 L382.7,1659.6 L384.5,1661.5 L386.3,1663.5 L388.0,1665.5 L389.8,1667.5 L391.6,1669.5 L393.4,1671.6 L395.1,1673.7 L396.9,1675.8 L398.7,1677.9 L400.4,1680.0 L402.2,1682.1 L404.0,1684.2 L405.8,1686.2 L407.5,1688.2 L409.3,1690.2 L411.1,1692.2 L412.9,1694.1 L414.6,1696.1 L416.4,1698.0 L418.2,1699.9 L420.0,1701.8 L421.7,1703.7 L423.5,1705.6 L425.3,1707.6 L427.1,1709.5 L428.8,1711.4 L430.6,1713.3 L432.4,1715.3 L434.2,1717.2 L435.9,1719.2 L437.7,1721.1 L439.5,1723.1 L441.3,1725.0 L443.0,1726.9 L444.8,1728.8 L446.6,1730.7 L448.4,1732.5 L450.1,1734.3 L451.9,1736.1 L453.7,1737.8 L455.4,1739.6 L457.2,1741.4 L459.0,1743.1 L460.8,1744.8 L462.5,1746.5 L464.3,1748.1 L466.1,1749.6 L467.9,1750.9 L469.6,1752.1 L471.4,1753.3 L473.2,1754.4 L475.0,1755.4 L476.7,1756.4 L478.5,1757.4 L480.3,1758.2 L482.1,1759.0 L483.8,1759.8 L485.6,1760.4 L487.4,1761.0 L489.2,1761.5 L490.9,1762.0 L492.7,1762.4 L494.5,1762.9 L496.3,1763.3 L498.0,1763.6 L499.8,1763.9 L501.6,1764.2 L503.3,1764.4 L505.1,1764.6 L506.9,1764.8 L508.7,1764.9 L510.4,1765.0 L512.2,1765.1 L514.0,1765.2 L515.8,1765.3 L517.5,1765.3 L519.3,1765.3 L521.1,1765.3 L522.9,1765.3 L524.6,1765.3 L526.4,1765.3 L528.2,1765.3 L530.0,1765.3 L531.7,1765.3 L533.5,1765.3 L535.3,1765.3 L537.1,1765.3 L538.8,1765.3 L540.6,1765.3 L542.4,1765.3 L544.2,1765.3 L545.9,1765.3 L547.7,1765.3 L549.5,1765.3 L551.2,1765.3 L553.0,1765.3 L554.8,1765.3 L556.6,1765.3 L558.3,1765.3 L560.1,1765.3 L561.9,1765.3 L563.7,1765.3 L565.4,1765.3 L567.2,1765.3 L569.0,1765.3 L570.8,1765.3 L572.5,1765.3 L574.3,1765.3 L576.1,1765.3 L577.9,1765.3 L579.6,1765.3 L581.4,1765.3 L583.2,1765.3 L585.0,1765.3 L586.7,1765.3 L588.5,1765.3 L590.3,1765.3 L592.1,1765.3 L593.8,1765.3 L595.6,1765.3 L597.4,1765.3 L599.1,1765.3 L600.9,1765.3 L602.7,1765.3 L604.5,1765.3 L606.2,1765.3 L608.0,1765.3 L609.8,1765.3 L611.6,1765.3 L613.3,1765.3 L615.1,1765.3 L616.9,1765.3 L618.7,1765.3 L620.4,1765.3 L622.2,1765.3 L624.0,1765.3 L625.8,1765.3 L627.5,1765.3 L629.3,1765.3 L631.1,1765.3 L632.9,1765.3 L634.6,1765.3 L636.4,1765.3 L638.2,1765.3 L640.0,1765.3 L641.7,1765.3 L643.5,1765.3 L645.3,1765.3 L647.0,1765.3 L648.8,1765.3 L650.6,1765.3 L652.4,1765.3 L654.1,1765.3 L655.9,1765.3 L657.7,1765.3 L659.5,1765.3 L661.2,1765.3 L663.0,1765.3 L664.8,1765.3 L666.6,1765.3 L668.3,1765.3 L670.1,1765.3 L671.9,1765.3 L673.7,1765.3 L675.4,1765.3 L677.2,1765.3 L679.0,1765.3 L680.8,1765.3 L682.5,1765.3 L684.3,1765.3 L686.1,1765.3 L687.9,1765.3 L689.6,1765.3 L691.4,1765.3 L693.2,1765.3 L695.0,1765.3 L696.7,1765.3 L698.5,1765.3 L700.3,1765.3 L702.0,1765.3 L703.8,1765.3 L705.6,1765.3 L707.4,1765.3 L709.1,1765.3 L710.9,1765.3 L712.7,1765.3 L714.5,1765.3 L716.2,1765.3 L718.0,1765.3 L719.8,1765.3 L721.6,1765.3 L723.3,1765.3 L725.1,1765.3 L726.9,1765.3 L728.7,1765.3 L730.4,1765.3 L732.2,1765.3 L734.0,1765.3 L735.8,1765.3 L737.5,1765.3 L739.3,1765.3 L741.1,1765.3 L742.9,1765.3 L744.6,1765.3 L746.4,1765.3 L748.2,1765.3 L749.9,1765.3 L751.7,1765.3 L753.5,1765.3 L755.3,1765.3 L757.0,1765.3 L758.8,1765.3 L760.6,1765.3 L762.4,1765.3 L764.1,1765.3 L765.9,1765.3 L767.7,1765.3 L769.5,1765.3 L771.2,1765.3 L773.0,1765.3 L774.8,1765.3 L776.6,1765.3 L778.3,1765.3 L780.1,1765.3 L781.9,1765.3 L783.7,1765.3 L785.4,1765.3 L787.2,1765.3 L789.0,1765.3 L790.8,1765.3 L792.5,1765.3 L794.3,1765.3 L796.1,1765.3 L797.8,1765.3 L799.6,1765.3 L801.4,1765.3 L803.2,1765.3 L804.9,1765.3 L806.7,1765.3 L808.5,1765.3 L810.3,1765.3 L812.0,1765.3 L813.8,1765.3 L815.6,1765.3 L817.4,1765.3 L819.1,1765.3 L820.9,1765.3 L822.7,1765.3 L824.5,1765.3 L826.2,1765.3 L828.0,1765.3 L829.8,1765.3 L831.6,1765.3 L833.3,1765.3 L835.1,1765.3 L836.9,1765.3 L838.7,1765.3 L840.4,1765.3 L842.2,1765.3 L844.0,1765.3 L845.7,1765.3 L847.5,1765.3 L849.3,1765.3 L851.1,1765.3 L852.8,1765.3 L854.6,1765.3 L856.4,1765.3 L858.2,1765.3 L859.9,1765.3 L861.7,1765.3 L863.5,1765.3 L865.3,1765.3 L867.0,1765.3 L868.8,1765.3 L870.6,1765.3 L872.4,1765.3 L874.1,1765.3 L875.9,1765.3 L877.7,1765.3 L879.5,1765.3 L881.2,1765.3 L883.0,1765.3 L884.8,1765.3 L886.6,1765.3 L888.3,1765.3 L890.1,1765.3 L891.9,1765.3 L893.6,1765.3 L895.4,1765.3 L897.2,1765.3 L899.0,1765.3 L900.7,1765.3 L902.5,1765.3 L904.3,1765.3 L906.1,1765.3 L907.8,1765.3 L909.6,1765.3 L911.4,1765.3 L913.2,1765.3 L914.9,1765.3 L916.7,1765.3 L918.5,1765.3 L920.3,1765.3 L922.0,1765.3 L923.8,1765.3 L925.6,1765.3 L927.4,1765.3 L929.1,1765.3 L930.9,1765.3 L932.7,1765.3 L934.5,1765.3 L936.2,1765.3 L938.0,1765.3 L939.8,1765.3 L941.6,1765.3 L943.3,1765.3 L945.1,1765.3 L946.9,1765.3 L948.6,1765.3 L950.4,1765.3 L952.2,1765.3 L954.0,1765.3 L955.7,1765.3 L957.5,1765.3 L959.3,1765.3 L961.1,1765.3 L962.8,1765.3 L964.6,1765.3 L966.4,1765.3 L968.2,1765.3 L969.9,1765.3 L971.7,1765.3 L973.5,1765.3 L975.3,1765.3 L977.0,1765.3 L978.8,1765.3 L980.6,1765.3 L982.4,1765.3 L984.1,1765.3 L985.9,1765.3 L987.7,1765.3 L989.5,1765.3 L991.2,1765.3 L993.0,1765.3 L994.8,1765.3 L996.5,1765.3 L998.3,1765.3 L1000.1,1765.3 L1001.9,1765.3 L1003.6,1765.3 L1005.4,1765.3 L1007.2,1765.3 L1009.0,1765.3 L1010.7,1765.3 L1012.5,1765.3 L1014.3,1765.3 L1016.1,1765.3 L1017.8,1765.3 L1019.6,1765.3 L1021.4,1765.3 L1023.2,1765.3 L1024.9,1765.3 L1026.7,1765.3 L1028.5,1765.3 L1030.3,1765.3 L1032.0,1765.3 L1033.8,1765.3 L1035.6,1765.3 L1037.4,1765.3 L1039.1,1765.3 L1040.9,1765.3" fill="none" stroke="#ea8f89" stroke-width="1.20" clip-path="url(#tfe)"/></g>
<g clip-path="url(#cp20)" fill="none"><path d="M153.8,1726.6 L155.6,1726.0 L157.4,1725.3 L159.2,1724.6 L160.9,1723.9 L162.7,1723.2 L164.5,1722.5 L166.3,1721.8 L168.0,1721.1 L169.8,1720.4 L171.6,1719.7 L173.4,1719.0 L175.1,1718.3 L176.9,1717.6 L178.7,1716.9 L180.5,1716.2 L182.2,1715.5 L184.0,1714.8 L185.8,1714.1 L187.6,1713.3 L189.3,1712.6 L191.1,1711.9 L192.9,1711.2 L194.7,1710.4 L196.4,1709.7 L198.2,1709.0 L200.0,1708.2 L201.8,1707.5 L203.5,1706.8 L205.3,1706.0 L207.1,1705.3 L208.8,1704.5 L210.6,1703.8 L212.4,1703.0 L214.2,1702.2 L215.9,1701.5 L217.7,1700.7 L219.5,1699.9 L221.3,1699.2 L223.0,1698.4 L224.8,1697.6 L226.6,1696.8 L228.4,1696.0 L230.1,1695.3 L231.9,1694.5 L233.7,1693.7 L235.5,1692.9 L237.2,1692.1 L239.0,1691.4 L240.8,1690.6 L242.6,1689.8 L244.3,1689.0 L246.1,1688.3 L247.9,1687.5 L249.7,1686.7 L251.4,1686.0 L253.2,1685.2 L255.0,1684.4 L256.7,1683.7 L258.5,1682.9 L260.3,1682.2 L262.1,1681.4 L263.8,1680.7 L265.6,1679.9 L267.4,1679.1 L269.2,1678.4 L270.9,1677.6 L272.7,1676.9 L274.5,1676.1 L276.3,1675.4 L278.0,1674.6 L279.8,1673.9 L281.6,1673.1 L283.4,1672.4 L285.1,1671.6 L286.9,1670.9 L288.7,1670.2 L290.5,1669.4 L292.2,1668.7 L294.0,1668.0 L295.8,1667.2 L297.6,1666.5 L299.3,1665.8 L301.1,1665.1 L302.9,1664.4 L304.6,1663.7 L306.4,1662.9 L308.2,1662.2 L310.0,1661.6 L311.7,1660.9 L313.5,1660.2 L315.3,1659.5 L317.1,1658.8 L318.8,1658.1 L320.6,1657.5 L322.4,1656.8 L324.2,1656.2 L325.9,1655.5 L327.7,1654.8 L329.5,1654.2 L331.3,1653.5 L333.0,1652.9 L334.8,1652.2 L336.6,1651.6 L338.4,1650.9 L340.1,1650.3 L341.9,1649.6 L343.7,1649.0 L345.5,1648.3 L347.2,1647.7 L349.0,1647.0 L350.8,1646.3 L352.5,1645.7 L354.3,1645.0 L356.1,1644.3 L357.9,1643.7 L359.6,1643.0 L361.4,1642.4 L363.2,1641.7 L365.0,1641.1 L366.7,1640.4 L368.5,1639.8 L370.3,1639.2 L372.1,1638.6 L373.8,1638.0 L375.6,1637.5 L377.4,1636.9 L379.2,1636.3 L380.9,1635.8 L382.7,1635.2 L384.5,1634.6 L386.3,1634.1 L388.0,1633.6 L389.8,1633.0 L391.6,1632.5 L393.4,1632.0 L395.1,1631.5 L396.9,1631.0 L398.7,1630.6 L400.4,1630.1 L402.2,1629.7 L404.0,1629.2 L405.8,1628.8 L407.5,1628.4 L409.3,1628.0 L411.1,1627.6 L412.9,1627.2 L414.6,1626.8 L416.4,1626.4 L418.2,1626.0 L420.0,1625.6 L421.7,1625.2 L423.5,1624.8 L425.3,1624.4 L427.1,1624.0 L428.8,1623.6 L430.6,1623.2 L432.4,1622.7 L434.2,1622.3 L435.9,1621.9 L437.7,1621.5 L439.5,1621.1 L441.3,1620.6 L443.0,1620.3 L444.8,1619.9 L446.6,1619.5 L448.4,1619.2 L450.1,1618.9 L451.9,1618.6 L453.7,1618.3 L455.4,1618.0 L457.2,1617.7 L459.0,1617.4 L460.8,1617.1 L462.5,1616.9 L464.3,1616.8 L466.1,1616.8 L467.9,1616.8 L469.6,1616.8 L471.4,1616.9 L473.2,1617.1 L475.0,1617.2 L476.7,1617.4 L478.5,1617.6 L480.3,1617.8 L482.1,1618.0 L483.8,1618.2 L485.6,1618.5 L487.4,1618.7 L489.2,1618.9 L490.9,1619.2 L492.7,1619.5 L494.5,1619.8 L496.3,1620.1 L498.0,1620.5 L499.8,1620.9 L501.6,1621.3 L503.3,1621.7 L505.1,1622.2 L506.9,1622.6 L508.7,1623.1 L510.4,1623.5 L512.2,1624.0 L514.0,1624.5 L515.8,1625.0 L517.5,1625.5 L519.3,1626.1 L521.1,1626.6 L522.9,1627.2 L524.6,1627.8 L526.4,1628.4 L528.2,1629.0 L530.0,1629.7 L531.7,1630.4 L533.5,1631.1 L535.3,1631.8 L537.1,1632.5 L538.8,1633.3 L540.6,1634.1 L542.4,1634.9 L544.2,1635.8 L545.9,1636.7 L547.7,1637.7 L549.5,1638.7 L551.2,1639.7 L553.0,1640.7 L554.8,1641.8 L556.6,1642.8 L558.3,1643.9 L560.1,1645.0 L561.9,1646.1 L563.7,1647.3 L565.4,1648.5 L567.2,1649.8 L569.0,1651.1 L570.8,1652.3 L572.5,1653.6 L574.3,1654.9 L576.1,1656.1 L577.9,1657.3 L579.6,1658.4 L581.4,1659.5 L583.2,1660.6 L585.0,1661.7 L586.7,1662.7 L588.5,1663.8 L590.3,1664.9 L592.1,1666.1 L593.8,1667.3 L595.6,1668.5 L597.4,1669.7 L599.1,1671.0 L600.9,1672.3 L602.7,1673.7 L604.5,1675.0 L606.2,1676.3 L608.0,1677.7 L609.8,1679.0 L611.6,1680.3 L613.3,1681.6 L615.1,1682.9 L616.9,1684.2 L618.7,1685.6 L620.4,1686.9 L622.2,1688.2 L624.0,1689.5 L625.8,1690.9 L627.5,1692.2 L629.3,1693.5 L631.1,1694.8 L632.9,1696.1 L634.6,1697.4 L636.4,1698.6 L638.2,1699.9 L640.0,1701.1 L641.7,1702.4 L643.5,1703.6 L645.3,1704.8 L647.0,1706.0 L648.8,1707.2 L650.6,1708.4 L652.4,1709.6 L654.1,1710.8 L655.9,1711.9 L657.7,1713.1 L659.5,1714.2 L661.2,1715.4 L663.0,1716.5 L664.8,1717.6 L666.6,1718.8 L668.3,1719.9 L670.1,1721.0 L671.9,1722.1 L673.7,1723.3 L675.4,1724.4 L677.2,1725.5 L679.0,1726.6 L680.8,1727.7 L682.5,1728.8 L684.3,1729.8 L686.1,1730.9 L687.9,1731.9 L689.6,1732.8 L691.4,1733.8 L693.2,1734.7 L695.0,1735.5 L696.7,1736.4 L698.5,1737.3 L700.3,1738.1 L702.0,1738.9 L703.8,1739.7 L705.6,1740.5 L707.4,1741.3 L709.1,1742.0 L710.9,1742.7 L712.7,1743.4 L714.5,1744.1 L716.2,1744.8 L718.0,1745.5 L719.8,1746.1 L721.6,1746.7 L723.3,1747.3 L725.1,1747.9 L726.9,1748.5 L728.7,1749.1 L730.4,1749.6 L732.2,1750.1 L734.0,1750.7 L735.8,1751.2 L737.5,1751.7 L739.3,1752.2 L741.1,1752.7 L742.9,1753.1 L744.6,1753.6 L746.4,1754.0 L748.2,1754.4 L749.9,1754.8 L751.7,1755.2 L753.5,1755.6 L755.3,1756.0 L757.0,1756.4 L758.8,1756.8 L760.6,1757.1 L762.4,1757.5 L764.1,1757.8 L765.9,1758.1 L767.7,1758.5 L769.5,1758.8 L771.2,1759.0 L773.0,1759.3 L774.8,1759.6 L776.6,1759.9 L778.3,1760.1 L780.1,1760.4 L781.9,1760.6 L783.7,1760.8 L785.4,1761.1 L787.2,1761.3 L789.0,1761.5 L790.8,1761.7 L792.5,1761.9 L794.3,1762.1 L796.1,1762.3 L797.8,1762.4 L799.6,1762.6 L801.4,1762.7 L803.2,1762.9 L804.9,1763.0 L806.7,1763.2 L808.5,1763.3 L810.3,1763.4 L812.0,1763.5 L813.8,1763.7 L815.6,1763.8 L817.4,1763.9 L819.1,1764.0 L820.9,1764.1 L822.7,1764.1 L824.5,1764.2 L826.2,1764.3 L828.0,1764.3 L829.8,1764.4 L831.6,1764.5 L833.3,1764.5 L835.1,1764.6 L836.9,1764.6 L838.7,1764.7 L840.4,1764.8 L842.2,1764.8 L844.0,1764.9 L845.7,1764.9 L847.5,1765.0 L849.3,1765.0 L851.1,1765.1 L852.8,1765.1 L854.6,1765.1 L856.4,1765.2 L858.2,1765.2 L859.9,1765.2 L861.7,1765.2 L863.5,1765.3 L865.3,1765.3 L867.0,1765.3 L868.8,1765.3 L870.6,1765.3 L872.4,1765.3 L874.1,1765.3 L875.9,1765.3 L877.7,1765.3 L879.5,1765.3 L881.2,1765.3 L883.0,1765.3 L884.8,1765.3 L886.6,1765.3 L888.3,1765.3 L890.1,1765.3 L891.9,1765.3 L893.6,1765.3 L895.4,1765.3 L897.2,1765.3 L899.0,1765.3 L900.7,1765.3 L902.5,1765.3 L904.3,1765.3 L906.1,1765.3 L907.8,1765.3 L909.6,1765.3 L911.4,1765.3 L913.2,1765.3 L914.9,1765.3 L916.7,1765.3 L918.5,1765.3 L920.3,1765.3 L922.0,1765.3 L923.8,1765.3 L925.6,1765.3 L927.4,1765.3 L929.1,1765.3 L930.9,1765.3 L932.7,1765.3 L934.5,1765.3 L936.2,1765.3 L938.0,1765.3 L939.8,1765.3 L941.6,1765.3 L943.3,1765.3 L945.1,1765.3 L946.9,1765.3 L948.6,1765.3 L950.4,1765.3 L952.2,1765.3 L954.0,1765.3 L955.7,1765.3 L957.5,1765.3 L959.3,1765.3 L961.1,1765.3 L962.8,1765.3 L964.6,1765.3 L966.4,1765.3 L968.2,1765.3 L969.9,1765.3 L971.7,1765.3 L973.5,1765.3 L975.3,1765.3 L977.0,1765.3 L978.8,1765.3 L980.6,1765.3 L982.4,1765.3 L984.1,1765.3 L985.9,1765.3 L987.7,1765.3 L989.5,1765.3 L991.2,1765.3 L993.0,1765.3 L994.8,1765.3 L996.5,1765.3 L998.3,1765.3 L1000.1,1765.3 L1001.9,1765.3 L1003.6,1765.3 L1005.4,1765.3 L1007.2,1765.3 L1009.0,1765.3 L1010.7,1765.3 L1012.5,1765.3 L1014.3,1765.3 L1016.1,1765.3 L1017.8,1765.3 L1019.6,1765.3 L1021.4,1765.3 L1023.2,1765.3 L1024.9,1765.3 L1026.7,1765.3 L1028.5,1765.3 L1030.3,1765.3 L1032.0,1765.3 L1033.8,1765.3 L1035.6,1765.3 L1037.4,1765.3 L1039.1,1765.3 L1040.9,1765.3" stroke="#7fbac5" stroke-width="2.70"/><path d="M153.8,1726.6 L155.6,1726.0 L157.4,1725.3 L159.2,1724.6 L160.9,1723.9 L162.7,1723.2 L164.5,1722.5 L166.3,1721.8 L168.0,1721.1 L169.8,1720.4 L171.6,1719.7 L173.4,1719.0 L175.1,1718.3 L176.9,1717.6 L178.7,1716.9 L180.5,1716.2 L182.2,1715.5 L184.0,1714.8 L185.8,1714.1 L187.6,1713.3 L189.3,1712.6 L191.1,1711.9 L192.9,1711.2 L194.7,1710.4 L196.4,1709.7 L198.2,1709.0 L200.0,1708.2 L201.8,1707.5 L203.5,1706.8 L205.3,1706.0 L207.1,1705.3 L208.8,1704.5 L210.6,1703.8 L212.4,1703.0 L214.2,1702.2 L215.9,1701.5 L217.7,1700.7 L219.5,1699.9 L221.3,1699.2 L223.0,1698.4 L224.8,1697.6 L226.6,1696.8 L228.4,1696.0 L230.1,1695.3 L231.9,1694.5 L233.7,1693.7 L235.5,1692.9 L237.2,1692.1 L239.0,1691.4 L240.8,1690.6 L242.6,1689.8 L244.3,1689.0 L246.1,1688.3 L247.9,1687.5 L249.7,1686.7 L251.4,1686.0 L253.2,1685.2 L255.0,1684.4 L256.7,1683.7 L258.5,1682.9 L260.3,1682.2 L262.1,1681.4 L263.8,1680.7 L265.6,1679.9 L267.4,1679.1 L269.2,1678.4 L270.9,1677.6 L272.7,1676.9 L274.5,1676.1 L276.3,1675.4 L278.0,1674.6 L279.8,1673.9 L281.6,1673.1 L283.4,1672.4 L285.1,1671.6 L286.9,1670.9 L288.7,1670.2 L290.5,1669.4 L292.2,1668.7 L294.0,1668.0 L295.8,1667.2 L297.6,1666.5 L299.3,1665.8 L301.1,1665.1 L302.9,1664.4 L304.6,1663.7 L306.4,1662.9 L308.2,1662.2 L310.0,1661.6 L311.7,1660.9 L313.5,1660.2 L315.3,1659.5 L317.1,1658.8 L318.8,1658.1 L320.6,1657.5 L322.4,1656.8 L324.2,1656.2 L325.9,1655.5 L327.7,1654.8 L329.5,1654.2 L331.3,1653.5 L333.0,1652.9 L334.8,1652.2 L336.6,1651.6 L338.4,1650.9 L340.1,1650.3 L341.9,1649.6 L343.7,1649.0 L345.5,1648.3 L347.2,1647.7 L349.0,1647.0 L350.8,1646.3 L352.5,1645.7 L354.3,1645.0 L356.1,1644.3 L357.9,1643.7 L359.6,1643.0 L361.4,1642.4 L363.2,1641.7 L365.0,1641.1 L366.7,1640.4 L368.5,1639.8 L370.3,1639.2 L372.1,1638.6 L373.8,1638.0 L375.6,1637.5 L377.4,1636.9 L379.2,1636.3 L380.9,1635.8 L382.7,1635.2 L384.5,1634.6 L386.3,1634.1 L388.0,1633.6 L389.8,1633.0 L391.6,1632.5 L393.4,1632.0 L395.1,1631.5 L396.9,1631.0 L398.7,1630.6 L400.4,1630.1 L402.2,1629.7 L404.0,1629.2 L405.8,1628.8 L407.5,1628.4 L409.3,1628.0 L411.1,1627.6 L412.9,1627.2 L414.6,1626.8 L416.4,1626.4 L418.2,1626.0 L420.0,1625.6 L421.7,1625.2 L423.5,1624.8 L425.3,1624.4 L427.1,1624.0 L428.8,1623.6 L430.6,1623.2 L432.4,1622.7 L434.2,1622.3 L435.9,1621.9 L437.7,1621.5 L439.5,1621.1 L441.3,1620.6 L443.0,1620.3 L444.8,1619.9 L446.6,1619.5 L448.4,1619.2 L450.1,1618.9 L451.9,1618.6 L453.7,1618.3 L455.4,1618.0 L457.2,1617.7 L459.0,1617.4 L460.8,1617.1 L462.5,1616.9 L464.3,1616.8 L466.1,1616.8 L467.9,1616.8 L469.6,1616.8 L471.4,1616.9 L473.2,1617.1 L475.0,1617.2 L476.7,1617.4 L478.5,1617.6 L480.3,1617.8 L482.1,1618.0 L483.8,1618.2 L485.6,1618.5 L487.4,1618.7 L489.2,1618.9 L490.9,1619.2 L492.7,1619.5 L494.5,1619.8 L496.3,1620.1 L498.0,1620.5 L499.8,1620.9 L501.6,1621.3 L503.3,1621.7 L505.1,1622.2 L506.9,1622.6 L508.7,1623.1 L510.4,1623.5 L512.2,1624.0 L514.0,1624.5 L515.8,1625.0 L517.5,1625.5 L519.3,1626.1 L521.1,1626.6 L522.9,1627.2 L524.6,1627.8 L526.4,1628.4 L528.2,1629.0 L530.0,1629.7 L531.7,1630.4 L533.5,1631.1 L535.3,1631.8 L537.1,1632.5 L538.8,1633.3 L540.6,1634.1 L542.4,1634.9 L544.2,1635.8 L545.9,1636.7 L547.7,1637.7 L549.5,1638.7 L551.2,1639.7 L553.0,1640.7 L554.8,1641.8 L556.6,1642.8 L558.3,1643.9 L560.1,1645.0 L561.9,1646.1 L563.7,1647.3 L565.4,1648.5 L567.2,1649.8 L569.0,1651.1 L570.8,1652.3 L572.5,1653.6 L574.3,1654.9 L576.1,1656.1 L577.9,1657.3 L579.6,1658.4 L581.4,1659.5 L583.2,1660.6 L585.0,1661.7 L586.7,1662.7 L588.5,1663.8 L590.3,1664.9 L592.1,1666.1 L593.8,1667.3 L595.6,1668.5 L597.4,1669.7 L599.1,1671.0 L600.9,1672.3 L602.7,1673.7 L604.5,1675.0 L606.2,1676.3 L608.0,1677.7 L609.8,1679.0 L611.6,1680.3 L613.3,1681.6 L615.1,1682.9 L616.9,1684.2 L618.7,1685.6 L620.4,1686.9 L622.2,1688.2 L624.0,1689.5 L625.8,1690.9 L627.5,1692.2 L629.3,1693.5 L631.1,1694.8 L632.9,1696.1 L634.6,1697.4 L636.4,1698.6 L638.2,1699.9 L640.0,1701.1 L641.7,1702.4 L643.5,1703.6 L645.3,1704.8 L647.0,1706.0 L648.8,1707.2 L650.6,1708.4 L652.4,1709.6 L654.1,1710.8 L655.9,1711.9 L657.7,1713.1 L659.5,1714.2 L661.2,1715.4 L663.0,1716.5 L664.8,1717.6 L666.6,1718.8 L668.3,1719.9 L670.1,1721.0 L671.9,1722.1 L673.7,1723.3 L675.4,1724.4 L677.2,1725.5 L679.0,1726.6 L680.8,1727.7 L682.5,1728.8 L684.3,1729.8 L686.1,1730.9 L687.9,1731.9 L689.6,1732.8 L691.4,1733.8 L693.2,1734.7 L695.0,1735.5 L696.7,1736.4 L698.5,1737.3 L700.3,1738.1 L702.0,1738.9 L703.8,1739.7 L705.6,1740.5 L707.4,1741.3 L709.1,1742.0 L710.9,1742.7 L712.7,1743.4 L714.5,1744.1 L716.2,1744.8 L718.0,1745.5 L719.8,1746.1 L721.6,1746.7 L723.3,1747.3 L725.1,1747.9 L726.9,1748.5 L728.7,1749.1 L730.4,1749.6 L732.2,1750.1 L734.0,1750.7 L735.8,1751.2 L737.5,1751.7 L739.3,1752.2 L741.1,1752.7 L742.9,1753.1 L744.6,1753.6 L746.4,1754.0 L748.2,1754.4 L749.9,1754.8 L751.7,1755.2 L753.5,1755.6 L755.3,1756.0 L757.0,1756.4 L758.8,1756.8 L760.6,1757.1 L762.4,1757.5 L764.1,1757.8 L765.9,1758.1 L767.7,1758.5 L769.5,1758.8 L771.2,1759.0 L773.0,1759.3 L774.8,1759.6 L776.6,1759.9 L778.3,1760.1 L780.1,1760.4 L781.9,1760.6 L783.7,1760.8 L785.4,1761.1 L787.2,1761.3 L789.0,1761.5 L790.8,1761.7 L792.5,1761.9 L794.3,1762.1 L796.1,1762.3 L797.8,1762.4 L799.6,1762.6 L801.4,1762.7 L803.2,1762.9 L804.9,1763.0 L806.7,1763.2 L808.5,1763.3 L810.3,1763.4 L812.0,1763.5 L813.8,1763.7 L815.6,1763.8 L817.4,1763.9 L819.1,1764.0 L820.9,1764.1 L822.7,1764.1 L824.5,1764.2 L826.2,1764.3 L828.0,1764.3 L829.8,1764.4 L831.6,1764.5 L833.3,1764.5 L835.1,1764.6 L836.9,1764.6 L838.7,1764.7 L840.4,1764.8 L842.2,1764.8 L844.0,1764.9 L845.7,1764.9 L847.5,1765.0 L849.3,1765.0 L851.1,1765.1 L852.8,1765.1 L854.6,1765.1 L856.4,1765.2 L858.2,1765.2 L859.9,1765.2 L861.7,1765.2 L863.5,1765.3 L865.3,1765.3 L867.0,1765.3 L868.8,1765.3 L870.6,1765.3 L872.4,1765.3 L874.1,1765.3 L875.9,1765.3 L877.7,1765.3 L879.5,1765.3 L881.2,1765.3 L883.0,1765.3 L884.8,1765.3 L886.6,1765.3 L888.3,1765.3 L890.1,1765.3 L891.9,1765.3 L893.6,1765.3 L895.4,1765.3 L897.2,1765.3 L899.0,1765.3 L900.7,1765.3 L902.5,1765.3 L904.3,1765.3 L906.1,1765.3 L907.8,1765.3 L909.6,1765.3 L911.4,1765.3 L913.2,1765.3 L914.9,1765.3 L916.7,1765.3 L918.5,1765.3 L920.3,1765.3 L922.0,1765.3 L923.8,1765.3 L925.6,1765.3 L927.4,1765.3 L929.1,1765.3 L930.9,1765.3 L932.7,1765.3 L934.5,1765.3 L936.2,1765.3 L938.0,1765.3 L939.8,1765.3 L941.6,1765.3 L943.3,1765.3 L945.1,1765.3 L946.9,1765.3 L948.6,1765.3 L950.4,1765.3 L952.2,1765.3 L954.0,1765.3 L955.7,1765.3 L957.5,1765.3 L959.3,1765.3 L961.1,1765.3 L962.8,1765.3 L964.6,1765.3 L966.4,1765.3 L968.2,1765.3 L969.9,1765.3 L971.7,1765.3 L973.5,1765.3 L975.3,1765.3 L977.0,1765.3 L978.8,1765.3 L980.6,1765.3 L982.4,1765.3 L984.1,1765.3 L985.9,1765.3 L987.7,1765.3 L989.5,1765.3 L991.2,1765.3 L993.0,1765.3 L994.8,1765.3 L996.5,1765.3 L998.3,1765.3 L1000.1,1765.3 L1001.9,1765.3 L1003.6,1765.3 L1005.4,1765.3 L1007.2,1765.3 L1009.0,1765.3 L1010.7,1765.3 L1012.5,1765.3 L1014.3,1765.3 L1016.1,1765.3 L1017.8,1765.3 L1019.6,1765.3 L1021.4,1765.3 L1023.2,1765.3 L1024.9,1765.3 L1026.7,1765.3 L1028.5,1765.3 L1030.3,1765.3 L1032.0,1765.3 L1033.8,1765.3 L1035.6,1765.3 L1037.4,1765.3 L1039.1,1765.3 L1040.9,1765.3" stroke="#fff" stroke-width="1.10"/></g>
<line x1="490.93" y1="1765.30" x2="490.93" y2="1222.70" stroke="#262626" stroke-opacity="0.55" stroke-width="3.7" stroke-dasharray="14.2 7" clip-path="url(#cp20)"/>
<line x1="428.84" y1="1765.30" x2="428.84" y2="1222.70" stroke="#262626" stroke-opacity="0.55" stroke-width="3.7" stroke-dasharray="14.2 7" clip-path="url(#cp20)"/>
<g clip-path="url(#cp20)" fill="none" stroke-linecap="round" stroke-linejoin="round"><path d="M171.6,1565.6 L180.2,1571.0 L188.8,1576.3 L197.4,1581.5 L206.0,1586.6 L214.6,1591.6 L223.2,1596.5 L231.8,1601.3 L240.4,1605.9 L249.0,1610.4 L257.6,1614.7 L266.2,1618.9 L274.8,1622.9 L283.4,1626.7 L292.0,1630.4 L300.6,1633.9 L309.2,1637.2 L317.8,1640.3 L326.4,1643.2 L335.0,1645.9 L343.6,1648.4 L352.2,1650.7 L360.8,1652.7 L369.4,1654.5 L378.0,1656.1 L386.6,1657.4 L395.2,1658.5 L403.8,1659.4 L412.4,1659.9 L421.0,1660.3 L429.6,1660.3 L438.2,1660.1 L446.8,1659.6 L455.4,1658.9 L464.0,1657.8 L472.7,1656.5 L481.3,1654.9 L489.9,1653.1 L498.5,1650.9 L507.1,1648.5 L515.7,1645.8 L524.3,1642.9 L532.9,1639.7 L541.5,1636.2 L550.1,1632.5 L558.7,1628.6 L567.3,1624.4 L575.9,1620.0 L584.5,1615.5 L593.1,1610.7 L601.7,1605.7 L610.3,1600.6 L618.9,1595.2 L627.5,1589.8 L636.1,1584.2 L644.7,1578.5 L653.3,1572.6 L661.9,1566.7 L670.5,1560.7 L679.1,1554.6 L687.7,1548.4 L696.3,1542.1 L704.9,1535.8 L713.5,1529.5 L722.1,1523.1 L730.7,1516.6 L739.3,1510.2 L747.9,1503.7 L756.5,1497.2 L765.1,1490.7 L773.7,1484.2 L782.3,1477.6 L790.9,1471.1 L799.5,1464.5 L808.1,1457.9 L816.7,1451.4 L825.3,1444.8 L833.9,1438.2 L842.5,1431.6 L851.1,1425.1 L859.7,1418.5 L868.3,1411.9 L876.9,1405.3 L885.5,1398.8 L894.1,1392.2 L902.7,1385.6 L911.3,1379.0 L919.9,1372.5 L928.5,1365.9 L937.1,1359.3 L945.7,1352.7 L954.3,1346.2 L962.9,1339.6 L971.5,1333.0 L980.2,1326.4 L988.8,1319.9 L997.4,1313.3 L1006.0,1306.7 L1014.6,1300.1 L1023.2,1293.5" stroke="#fff" stroke-width="8.6"/><path d="M171.6,1565.6 L180.2,1571.0 L188.8,1576.3 L197.4,1581.5 L206.0,1586.6 L214.6,1591.6 L223.2,1596.5 L231.8,1601.3 L240.4,1605.9 L249.0,1610.4 L257.6,1614.7 L266.2,1618.9 L274.8,1622.9 L283.4,1626.7 L292.0,1630.4 L300.6,1633.9 L309.2,1637.2 L317.8,1640.3 L326.4,1643.2 L335.0,1645.9 L343.6,1648.4 L352.2,1650.7 L360.8,1652.7 L369.4,1654.5 L378.0,1656.1 L386.6,1657.4 L395.2,1658.5 L403.8,1659.4 L412.4,1659.9 L421.0,1660.3 L429.6,1660.3 L438.2,1660.1 L446.8,1659.6 L455.4,1658.9 L464.0,1657.8 L472.7,1656.5 L481.3,1654.9 L489.9,1653.1 L498.5,1650.9 L507.1,1648.5 L515.7,1645.8 L524.3,1642.9 L532.9,1639.7 L541.5,1636.2 L550.1,1632.5 L558.7,1628.6 L567.3,1624.4 L575.9,1620.0 L584.5,1615.5 L593.1,1610.7 L601.7,1605.7 L610.3,1600.6 L618.9,1595.2 L627.5,1589.8 L636.1,1584.2 L644.7,1578.5 L653.3,1572.6 L661.9,1566.7 L670.5,1560.7 L679.1,1554.6 L687.7,1548.4 L696.3,1542.1 L704.9,1535.8 L713.5,1529.5 L722.1,1523.1 L730.7,1516.6 L739.3,1510.2 L747.9,1503.7 L756.5,1497.2 L765.1,1490.7 L773.7,1484.2 L782.3,1477.6 L790.9,1471.1 L799.5,1464.5 L808.1,1457.9 L816.7,1451.4 L825.3,1444.8 L833.9,1438.2 L842.5,1431.6 L851.1,1425.1 L859.7,1418.5 L868.3,1411.9 L876.9,1405.3 L885.5,1398.8 L894.1,1392.2 L902.7,1385.6 L911.3,1379.0 L919.9,1372.5 L928.5,1365.9 L937.1,1359.3 L945.7,1352.7 L954.3,1346.2 L962.9,1339.6 L971.5,1333.0 L980.2,1326.4 L988.8,1319.9 L997.4,1313.3 L1006.0,1306.7 L1014.6,1300.1 L1023.2,1293.5" stroke="#405d4e" stroke-width="5.1"/></g>
<g clip-path="url(#cp20)" fill="none" stroke-linecap="round" stroke-linejoin="round"><path d="M171.6,1725.4 L180.2,1726.4 L188.8,1727.5 L197.4,1728.5 L206.0,1729.6 L214.6,1730.6 L223.2,1731.5 L231.8,1732.5 L240.4,1733.4 L249.0,1734.3 L257.6,1735.2 L266.2,1736.0 L274.8,1736.8 L283.4,1737.6 L292.0,1738.3 L300.6,1739.0 L309.2,1739.7 L317.8,1740.3 L326.4,1740.9 L335.0,1741.4 L343.6,1741.9 L352.2,1742.4 L360.8,1742.8 L369.4,1743.1 L378.0,1743.5 L386.6,1743.7 L395.2,1743.9 L403.8,1744.1 L412.4,1744.2 L421.0,1744.3 L429.6,1744.3 L438.2,1744.3 L446.8,1744.2 L455.4,1744.0 L464.0,1743.8 L472.7,1743.5 L481.3,1743.2 L489.9,1742.9 L498.5,1742.4 L507.1,1741.9 L515.7,1741.4 L524.3,1740.8 L532.9,1740.2 L541.5,1739.5 L550.1,1738.7 L558.7,1738.0 L567.3,1737.1 L575.9,1736.2 L584.5,1735.3 L593.1,1734.4 L601.7,1733.4 L610.3,1732.4 L618.9,1731.3 L627.5,1730.2 L636.1,1729.1 L644.7,1727.9 L653.3,1726.8 L661.9,1725.6 L670.5,1724.4 L679.1,1723.2 L687.7,1721.9 L696.3,1720.7 L704.9,1719.4 L713.5,1718.1 L722.1,1716.9 L730.7,1715.6 L739.3,1714.3 L747.9,1713.0 L756.5,1711.7 L765.1,1710.4 L773.7,1709.1 L782.3,1707.8 L790.9,1706.5 L799.5,1705.1 L808.1,1703.8 L816.7,1702.5 L825.3,1701.2 L833.9,1699.9 L842.5,1698.6 L851.1,1697.3 L859.7,1695.9 L868.3,1694.6 L876.9,1693.3 L885.5,1692.0 L894.1,1690.7 L902.7,1689.4 L911.3,1688.0 L919.9,1686.7 L928.5,1685.4 L937.1,1684.1 L945.7,1682.8 L954.3,1681.5 L962.9,1680.2 L971.5,1678.8 L980.2,1677.5 L988.8,1676.2 L997.4,1674.9 L1006.0,1673.6 L1014.6,1672.3 L1023.2,1670.9" stroke="#fff" stroke-width="8.6"/><path d="M171.6,1725.4 L180.2,1726.4 L188.8,1727.5 L197.4,1728.5 L206.0,1729.6 L214.6,1730.6 L223.2,1731.5 L231.8,1732.5 L240.4,1733.4 L249.0,1734.3 L257.6,1735.2 L266.2,1736.0 L274.8,1736.8 L283.4,1737.6 L292.0,1738.3 L300.6,1739.0 L309.2,1739.7 L317.8,1740.3 L326.4,1740.9 L335.0,1741.4 L343.6,1741.9 L352.2,1742.4 L360.8,1742.8 L369.4,1743.1 L378.0,1743.5 L386.6,1743.7 L395.2,1743.9 L403.8,1744.1 L412.4,1744.2 L421.0,1744.3 L429.6,1744.3 L438.2,1744.3 L446.8,1744.2 L455.4,1744.0 L464.0,1743.8 L472.7,1743.5 L481.3,1743.2 L489.9,1742.9 L498.5,1742.4 L507.1,1741.9 L515.7,1741.4 L524.3,1740.8 L532.9,1740.2 L541.5,1739.5 L550.1,1738.7 L558.7,1738.0 L567.3,1737.1 L575.9,1736.2 L584.5,1735.3 L593.1,1734.4 L601.7,1733.4 L610.3,1732.4 L618.9,1731.3 L627.5,1730.2 L636.1,1729.1 L644.7,1727.9 L653.3,1726.8 L661.9,1725.6 L670.5,1724.4 L679.1,1723.2 L687.7,1721.9 L696.3,1720.7 L704.9,1719.4 L713.5,1718.1 L722.1,1716.9 L730.7,1715.6 L739.3,1714.3 L747.9,1713.0 L756.5,1711.7 L765.1,1710.4 L773.7,1709.1 L782.3,1707.8 L790.9,1706.5 L799.5,1705.1 L808.1,1703.8 L816.7,1702.5 L825.3,1701.2 L833.9,1699.9 L842.5,1698.6 L851.1,1697.3 L859.7,1695.9 L868.3,1694.6 L876.9,1693.3 L885.5,1692.0 L894.1,1690.7 L902.7,1689.4 L911.3,1688.0 L919.9,1686.7 L928.5,1685.4 L937.1,1684.1 L945.7,1682.8 L954.3,1681.5 L962.9,1680.2 L971.5,1678.8 L980.2,1677.5 L988.8,1676.2 L997.4,1674.9 L1006.0,1673.6 L1014.6,1672.3 L1023.2,1670.9" stroke="#456cb1" stroke-width="5.1"/></g>
<g clip-path="url(#cp20)" fill="none" stroke-linecap="round" stroke-linejoin="round"><path d="M171.6,766.9 L180.2,793.9 L188.8,820.4 L197.4,846.5 L206.0,872.0 L214.6,897.0 L223.2,921.4 L231.8,945.1 L240.4,968.2 L249.0,990.6 L257.6,1012.3 L266.2,1033.2 L274.8,1053.2 L283.4,1072.5 L292.0,1090.8 L300.6,1108.3 L309.2,1124.8 L317.8,1140.3 L326.4,1154.9 L335.0,1168.4 L343.6,1180.8 L352.2,1192.1 L360.8,1202.4 L369.4,1211.4 L378.0,1219.3 L386.6,1226.0 L395.2,1231.4 L403.8,1235.6 L412.4,1238.5 L421.0,1240.1 L429.6,1240.4 L438.2,1239.4 L446.8,1237.0 L455.4,1233.2 L464.0,1228.0 L472.7,1221.5 L481.3,1213.5 L489.9,1204.2 L498.5,1193.5 L507.1,1181.4 L515.7,1168.0 L524.3,1153.3 L532.9,1137.3 L541.5,1120.0 L550.1,1101.5 L558.7,1081.8 L567.3,1061.0 L575.9,1039.0 L584.5,1016.1 L593.1,992.2 L601.7,967.3 L610.3,941.6 L618.9,915.0 L627.5,887.8 L636.1,859.8 L644.7,831.2 L653.3,802.0 L661.9,772.3 L670.5,742.2 L679.1,711.6 L687.7,680.7 L696.3,649.4 L704.9,617.9 L713.5,586.1 L722.1,554.2 L730.7,522.0 L739.3,489.7 L747.9,457.3 L756.5,424.8 L765.1,392.2 L773.7,359.6 L782.3,326.8 L790.9,294.1 L799.5,261.3 L808.1,228.5 L816.7,195.6 L825.3,162.8 L833.9,129.9 L842.5,97.0 L851.1,64.2 L859.7,31.3 L868.3,-1.6 L876.9,-34.5 L885.5,-67.4 L894.1,-100.3 L902.7,-133.1 L911.3,-166.0 L919.9,-198.9 L928.5,-231.8 L937.1,-264.7 L945.7,-297.5 L954.3,-330.4 L962.9,-363.3 L971.5,-396.2 L980.2,-429.1 L988.8,-461.9 L997.4,-494.8 L1006.0,-527.7 L1014.6,-560.6 L1023.2,-593.5" stroke="#fff" stroke-width="8.6"/><path d="M171.6,766.9 L180.2,793.9 L188.8,820.4 L197.4,846.5 L206.0,872.0 L214.6,897.0 L223.2,921.4 L231.8,945.1 L240.4,968.2 L249.0,990.6 L257.6,1012.3 L266.2,1033.2 L274.8,1053.2 L283.4,1072.5 L292.0,1090.8 L300.6,1108.3 L309.2,1124.8 L317.8,1140.3 L326.4,1154.9 L335.0,1168.4 L343.6,1180.8 L352.2,1192.1 L360.8,1202.4 L369.4,1211.4 L378.0,1219.3 L386.6,1226.0 L395.2,1231.4 L403.8,1235.6 L412.4,1238.5 L421.0,1240.1 L429.6,1240.4 L438.2,1239.4 L446.8,1237.0 L455.4,1233.2 L464.0,1228.0 L472.7,1221.5 L481.3,1213.5 L489.9,1204.2 L498.5,1193.5 L507.1,1181.4 L515.7,1168.0 L524.3,1153.3 L532.9,1137.3 L541.5,1120.0 L550.1,1101.5 L558.7,1081.8 L567.3,1061.0 L575.9,1039.0 L584.5,1016.1 L593.1,992.2 L601.7,967.3 L610.3,941.6 L618.9,915.0 L627.5,887.8 L636.1,859.8 L644.7,831.2 L653.3,802.0 L661.9,772.3 L670.5,742.2 L679.1,711.6 L687.7,680.7 L696.3,649.4 L704.9,617.9 L713.5,586.1 L722.1,554.2 L730.7,522.0 L739.3,489.7 L747.9,457.3 L756.5,424.8 L765.1,392.2 L773.7,359.6 L782.3,326.8 L790.9,294.1 L799.5,261.3 L808.1,228.5 L816.7,195.6 L825.3,162.8 L833.9,129.9 L842.5,97.0 L851.1,64.2 L859.7,31.3 L868.3,-1.6 L876.9,-34.5 L885.5,-67.4 L894.1,-100.3 L902.7,-133.1 L911.3,-166.0 L919.9,-198.9 L928.5,-231.8 L937.1,-264.7 L945.7,-297.5 L954.3,-330.4 L962.9,-363.3 L971.5,-396.2 L980.2,-429.1 L988.8,-461.9 L997.4,-494.8 L1006.0,-527.7 L1014.6,-560.6 L1023.2,-593.5" stroke="#dd8350" stroke-width="5.1"/></g>
<circle cx="429.64" cy="1765.30" r="16" fill="orange" clip-path="url(#cp20)"/>
<rect x="153.85" y="1222.70" width="887.05" height="542.60" fill="none" stroke="#262626" stroke-width="3.5"/>
<clipPath id="tff"><path d="M1049.0,1770.3 L1049.0,1744.3 L1050.8,1743.9 L1052.6,1743.4 L1054.3,1743.0 L1056.1,1742.5 L1057.9,1742.1 L1059.7,1741.6 L1061.4,1741.2 L1063.2,1740.7 L1065.0,1740.3 L1066.8,1739.8 L1068.5,1739.4 L1070.3,1738.9 L1072.1,1738.4 L1073.9,1738.0 L1075.6,1737.5 L1077.4,1737.0 L1079.2,1736.5 L1081.0,1736.1 L1082.7,1735.6 L1084.5,1735.1 L1086.3,1734.6 L1088.1,1734.1 L1089.8,1733.6 L1091.6,1733.1 L1093.4,1732.7 L1095.2,1732.2 L1096.9,1731.7 L1098.7,1731.2 L1100.5,1730.7 L1102.3,1730.2 L1104.0,1729.7 L1105.8,1729.2 L1107.6,1728.7 L1109.4,1728.2 L1111.1,1727.7 L1112.9,1727.2 L1114.7,1726.7 L1116.5,1726.2 L1118.2,1725.6 L1120.0,1725.1 L1121.8,1724.6 L1123.6,1724.1 L1125.3,1723.6 L1127.1,1723.0 L1128.9,1722.5 L1130.7,1722.0 L1132.4,1721.4 L1134.2,1720.9 L1136.0,1720.3 L1137.8,1719.7 L1139.6,1719.2 L1141.3,1718.6 L1143.1,1718.0 L1144.9,1717.4 L1146.7,1716.9 L1148.4,1716.3 L1150.2,1715.6 L1152.0,1715.0 L1153.8,1714.4 L1155.5,1713.8 L1157.3,1713.1 L1159.1,1712.5 L1160.9,1711.8 L1162.6,1711.2 L1164.4,1710.5 L1166.2,1709.8 L1168.0,1709.2 L1169.7,1708.5 L1171.5,1707.8 L1173.3,1707.1 L1175.1,1706.4 L1176.8,1705.7 L1178.6,1704.9 L1180.4,1704.2 L1182.2,1703.5 L1183.9,1702.8 L1185.7,1702.0 L1187.5,1701.3 L1189.3,1700.5 L1191.0,1699.8 L1192.8,1699.0 L1194.6,1698.2 L1196.4,1697.4 L1198.1,1696.7 L1199.9,1695.9 L1201.7,1695.1 L1203.5,1694.3 L1205.2,1693.5 L1207.0,1692.7 L1208.8,1691.8 L1210.6,1691.0 L1212.3,1690.1 L1214.1,1689.3 L1215.9,1688.4 L1217.7,1687.5 L1219.4,1686.6 L1221.2,1685.7 L1223.0,1684.8 L1224.8,1683.9 L1226.6,1683.0 L1228.3,1682.1 L1230.1,1681.1 L1231.9,1680.2 L1233.7,1679.3 L1235.4,1678.4 L1237.2,1677.4 L1239.0,1676.5 L1240.8,1675.6 L1242.5,1674.6 L1244.3,1673.7 L1246.1,1672.7 L1247.9,1671.8 L1249.6,1670.8 L1251.4,1669.8 L1253.2,1668.8 L1255.0,1667.9 L1256.7,1666.9 L1258.5,1665.9 L1260.3,1664.9 L1262.1,1663.9 L1263.8,1662.9 L1265.6,1661.9 L1267.4,1660.9 L1269.2,1659.9 L1270.9,1658.9 L1272.7,1657.9 L1274.5,1656.9 L1276.3,1655.9 L1278.0,1654.9 L1279.8,1653.9 L1281.6,1652.9 L1283.4,1651.9 L1285.1,1650.9 L1286.9,1649.9 L1288.7,1648.8 L1290.5,1647.8 L1292.2,1646.8 L1294.0,1645.8 L1295.8,1644.7 L1297.6,1643.7 L1299.3,1642.7 L1301.1,1641.6 L1302.9,1640.6 L1304.7,1639.6 L1306.4,1638.6 L1308.2,1637.5 L1310.0,1636.5 L1311.8,1635.5 L1313.5,1634.5 L1315.3,1633.5 L1317.1,1632.4 L1318.9,1631.4 L1320.7,1630.3 L1322.4,1629.3 L1324.2,1628.3 L1326.0,1627.3 L1327.8,1626.2 L1329.5,1625.2 L1331.3,1624.3 L1333.1,1623.3 L1334.9,1622.3 L1336.6,1621.4 L1338.4,1620.5 L1340.2,1619.6 L1342.0,1618.7 L1343.7,1617.8 L1345.5,1616.9 L1347.3,1616.0 L1349.1,1615.1 L1350.8,1614.3 L1352.6,1613.4 L1354.4,1612.6 L1356.2,1611.8 L1357.9,1611.1 L1359.7,1610.3 L1361.5,1609.6 L1363.3,1609.0 L1365.0,1608.3 L1366.8,1607.7 L1368.6,1607.2 L1370.4,1606.6 L1372.1,1606.1 L1373.9,1605.6 L1375.7,1605.1 L1377.5,1604.6 L1379.2,1604.1 L1381.0,1603.6 L1382.8,1603.0 L1384.6,1602.5 L1386.3,1601.9 L1388.1,1601.3 L1389.9,1600.8 L1391.7,1600.2 L1393.4,1599.8 L1395.2,1599.3 L1397.0,1599.0 L1398.8,1598.7 L1400.5,1598.4 L1402.3,1598.1 L1404.1,1597.9 L1405.9,1597.6 L1407.7,1597.4 L1409.4,1597.2 L1411.2,1597.0 L1413.0,1596.9 L1414.8,1596.8 L1416.5,1596.8 L1418.3,1596.8 L1420.1,1596.9 L1421.9,1597.1 L1423.6,1597.3 L1425.4,1597.6 L1427.2,1597.9 L1429.0,1598.2 L1430.7,1598.6 L1432.5,1599.0 L1434.3,1599.4 L1436.1,1599.8 L1437.8,1600.3 L1439.6,1600.7 L1441.4,1601.1 L1443.2,1601.6 L1444.9,1602.2 L1446.7,1602.8 L1448.5,1603.4 L1450.3,1604.1 L1452.0,1604.8 L1453.8,1605.6 L1455.6,1606.3 L1457.4,1607.1 L1459.1,1607.9 L1460.9,1608.7 L1462.7,1609.6 L1464.5,1610.4 L1466.2,1611.2 L1468.0,1612.1 L1469.8,1613.0 L1471.6,1613.9 L1473.3,1614.8 L1475.1,1615.8 L1476.9,1616.8 L1478.7,1617.8 L1480.4,1618.8 L1482.2,1619.9 L1484.0,1620.9 L1485.8,1622.0 L1487.5,1623.1 L1489.3,1624.2 L1491.1,1625.3 L1492.9,1626.4 L1494.7,1627.6 L1496.4,1628.8 L1498.2,1630.0 L1500.0,1631.2 L1501.8,1632.5 L1503.5,1633.8 L1505.3,1635.1 L1507.1,1636.5 L1508.9,1637.9 L1510.6,1639.3 L1512.4,1640.8 L1514.2,1642.2 L1516.0,1643.7 L1517.7,1645.1 L1519.5,1646.5 L1521.3,1648.0 L1523.1,1649.4 L1524.8,1650.7 L1526.6,1652.1 L1528.4,1653.5 L1530.2,1654.9 L1531.9,1656.3 L1533.7,1657.7 L1535.5,1659.2 L1537.3,1660.7 L1539.0,1662.2 L1540.8,1663.8 L1542.6,1665.5 L1544.4,1667.2 L1546.1,1668.9 L1547.9,1670.6 L1549.7,1672.4 L1551.5,1674.1 L1553.2,1675.8 L1555.0,1677.6 L1556.8,1679.3 L1558.6,1681.0 L1560.3,1682.7 L1562.1,1684.4 L1563.9,1686.1 L1565.7,1687.8 L1567.4,1689.5 L1569.2,1691.1 L1571.0,1692.8 L1572.8,1694.4 L1574.5,1696.0 L1576.3,1697.6 L1578.1,1699.2 L1579.9,1700.7 L1581.7,1702.2 L1583.4,1703.8 L1585.2,1705.3 L1587.0,1706.7 L1588.8,1708.2 L1590.5,1709.6 L1592.3,1711.1 L1594.1,1712.5 L1595.9,1713.9 L1597.6,1715.3 L1599.4,1716.6 L1601.2,1718.0 L1603.0,1719.3 L1604.7,1720.6 L1606.5,1721.9 L1608.3,1723.1 L1610.1,1724.3 L1611.8,1725.4 L1613.6,1726.6 L1615.4,1727.7 L1617.2,1728.7 L1618.9,1729.8 L1620.7,1730.8 L1622.5,1731.8 L1624.3,1732.8 L1626.0,1733.8 L1627.8,1734.8 L1629.6,1735.8 L1631.4,1736.7 L1633.1,1737.7 L1634.9,1738.6 L1636.7,1739.5 L1638.5,1740.4 L1640.2,1741.3 L1642.0,1742.2 L1643.8,1743.0 L1645.6,1743.7 L1647.3,1744.5 L1649.1,1745.2 L1650.9,1746.0 L1652.7,1746.7 L1654.4,1747.4 L1656.2,1748.0 L1658.0,1748.7 L1659.8,1749.3 L1661.5,1749.9 L1663.3,1750.4 L1665.1,1751.0 L1666.9,1751.5 L1668.6,1752.0 L1670.4,1752.5 L1672.2,1753.0 L1674.0,1753.5 L1675.8,1754.0 L1677.5,1754.4 L1679.3,1754.8 L1681.1,1755.2 L1682.9,1755.6 L1684.6,1756.0 L1686.4,1756.4 L1688.2,1756.8 L1690.0,1757.2 L1691.7,1757.5 L1693.5,1757.8 L1695.3,1758.2 L1697.1,1758.5 L1698.8,1758.8 L1700.6,1759.0 L1702.4,1759.3 L1704.2,1759.5 L1705.9,1759.8 L1707.7,1760.0 L1709.5,1760.3 L1711.3,1760.5 L1713.0,1760.7 L1714.8,1760.9 L1716.6,1761.0 L1718.4,1761.2 L1720.1,1761.4 L1721.9,1761.5 L1723.7,1761.7 L1725.5,1761.8 L1727.2,1762.0 L1729.0,1762.1 L1730.8,1762.2 L1732.6,1762.3 L1734.3,1762.5 L1736.1,1762.6 L1737.9,1762.7 L1739.7,1762.8 L1741.4,1762.9 L1743.2,1763.0 L1745.0,1763.2 L1746.8,1763.3 L1748.5,1763.4 L1750.3,1763.5 L1752.1,1763.6 L1753.9,1763.7 L1755.6,1763.8 L1757.4,1763.9 L1759.2,1764.0 L1761.0,1764.1 L1762.8,1764.2 L1764.5,1764.3 L1766.3,1764.4 L1768.1,1764.4 L1769.9,1764.5 L1771.6,1764.6 L1773.4,1764.6 L1775.2,1764.6 L1777.0,1764.7 L1778.7,1764.7 L1780.5,1764.8 L1782.3,1764.8 L1784.1,1764.8 L1785.8,1764.9 L1787.6,1764.9 L1789.4,1764.9 L1791.2,1765.0 L1792.9,1765.0 L1794.7,1765.0 L1796.5,1765.0 L1798.3,1765.1 L1800.0,1765.1 L1801.8,1765.1 L1803.6,1765.1 L1805.4,1765.2 L1807.1,1765.2 L1808.9,1765.2 L1810.7,1765.2 L1812.5,1765.2 L1814.2,1765.2 L1816.0,1765.3 L1817.8,1765.3 L1819.6,1765.3 L1821.3,1765.3 L1823.1,1765.3 L1824.9,1765.3 L1826.7,1765.3 L1828.4,1765.3 L1830.2,1765.3 L1832.0,1765.3 L1833.8,1765.3 L1835.5,1765.3 L1837.3,1765.3 L1839.1,1765.3 L1840.9,1765.3 L1842.6,1765.3 L1844.4,1765.3 L1846.2,1765.3 L1848.0,1765.3 L1849.8,1765.3 L1851.5,1765.3 L1853.3,1765.3 L1855.1,1765.3 L1856.9,1765.3 L1858.6,1765.3 L1860.4,1765.3 L1862.2,1765.3 L1864.0,1765.3 L1865.7,1765.3 L1867.5,1765.3 L1869.3,1765.3 L1871.1,1765.3 L1872.8,1765.3 L1874.6,1765.3 L1876.4,1765.3 L1878.2,1765.3 L1879.9,1765.3 L1881.7,1765.3 L1883.5,1765.3 L1885.3,1765.3 L1887.0,1765.3 L1888.8,1765.3 L1890.6,1765.3 L1892.4,1765.3 L1894.1,1765.3 L1895.9,1765.3 L1897.7,1765.3 L1899.5,1765.3 L1901.2,1765.3 L1903.0,1765.3 L1904.8,1765.3 L1906.6,1765.3 L1908.3,1765.3 L1910.1,1765.3 L1911.9,1765.3 L1913.7,1765.3 L1915.4,1765.3 L1917.2,1765.3 L1919.0,1765.3 L1920.8,1765.3 L1922.5,1765.3 L1924.3,1765.3 L1926.1,1765.3 L1927.9,1765.3 L1929.6,1765.3 L1931.4,1765.3 L1933.2,1765.3 L1935.0,1765.3 L1936.8,1765.3 L1936.8,1770.3Z"/></clipPath>
<path d="M1049.0,1765.3 L1049.0,1765.3 L1050.8,1765.3 L1052.6,1765.3 L1054.3,1765.3 L1056.1,1765.3 L1057.9,1765.3 L1059.7,1765.3 L1061.4,1765.3 L1063.2,1765.3 L1065.0,1765.3 L1066.8,1765.3 L1068.5,1765.3 L1070.3,1765.3 L1072.1,1765.3 L1073.9,1765.3 L1075.6,1765.3 L1077.4,1765.3 L1079.2,1765.3 L1081.0,1765.3 L1082.7,1765.3 L1084.5,1765.3 L1086.3,1765.3 L1088.1,1765.3 L1089.8,1765.3 L1091.6,1765.3 L1093.4,1765.3 L1095.2,1765.3 L1096.9,1765.3 L1098.7,1765.3 L1100.5,1765.3 L1102.3,1765.3 L1104.0,1765.3 L1105.8,1765.3 L1107.6,1765.3 L1109.4,1765.3 L1111.1,1765.3 L1112.9,1765.3 L1114.7,1765.3 L1116.5,1765.3 L1118.2,1765.3 L1120.0,1765.3 L1121.8,1765.3 L1123.6,1765.3 L1125.3,1765.3 L1127.1,1765.3 L1128.9,1765.3 L1130.7,1765.3 L1132.4,1765.3 L1134.2,1765.3 L1136.0,1765.3 L1137.8,1765.3 L1139.6,1765.3 L1141.3,1765.3 L1143.1,1765.3 L1144.9,1765.3 L1146.7,1765.3 L1148.4,1765.3 L1150.2,1765.3 L1152.0,1765.3 L1153.8,1765.3 L1155.5,1765.3 L1157.3,1765.3 L1159.1,1765.3 L1160.9,1765.3 L1162.6,1765.3 L1164.4,1765.3 L1166.2,1765.3 L1168.0,1765.3 L1169.7,1765.3 L1171.5,1765.3 L1173.3,1765.3 L1175.1,1765.3 L1176.8,1765.3 L1178.6,1765.3 L1180.4,1765.3 L1182.2,1765.3 L1183.9,1765.3 L1185.7,1765.3 L1187.5,1765.3 L1189.3,1765.3 L1191.0,1765.3 L1192.8,1765.3 L1194.6,1765.3 L1196.4,1765.3 L1198.1,1765.3 L1199.9,1765.3 L1201.7,1765.3 L1203.5,1765.3 L1205.2,1765.3 L1207.0,1765.3 L1208.8,1765.3 L1210.6,1765.3 L1212.3,1765.3 L1214.1,1765.3 L1215.9,1765.3 L1217.7,1765.3 L1219.4,1765.3 L1221.2,1765.3 L1223.0,1765.3 L1224.8,1765.3 L1226.6,1765.3 L1228.3,1765.3 L1230.1,1765.3 L1231.9,1765.3 L1233.7,1765.3 L1235.4,1765.3 L1237.2,1765.3 L1239.0,1765.3 L1240.8,1765.3 L1242.5,1765.3 L1244.3,1765.3 L1246.1,1765.3 L1247.9,1765.3 L1249.6,1765.3 L1251.4,1765.3 L1253.2,1765.3 L1255.0,1765.3 L1256.7,1765.3 L1258.5,1765.3 L1260.3,1765.3 L1262.1,1765.3 L1263.8,1765.3 L1265.6,1765.3 L1267.4,1765.3 L1269.2,1765.3 L1270.9,1765.3 L1272.7,1765.3 L1274.5,1765.3 L1276.3,1765.3 L1278.0,1765.3 L1279.8,1765.3 L1281.6,1765.3 L1283.4,1765.3 L1285.1,1765.3 L1286.9,1765.3 L1288.7,1765.3 L1290.5,1765.3 L1292.2,1765.3 L1294.0,1765.3 L1295.8,1765.3 L1297.6,1765.3 L1299.3,1765.3 L1301.1,1765.3 L1302.9,1765.2 L1304.7,1765.2 L1306.4,1765.2 L1308.2,1765.2 L1310.0,1765.2 L1311.8,1765.2 L1313.5,1765.2 L1315.3,1765.2 L1317.1,1765.2 L1318.9,1765.2 L1320.7,1765.1 L1322.4,1765.1 L1324.2,1765.1 L1326.0,1765.1 L1327.8,1765.1 L1329.5,1765.1 L1331.3,1765.0 L1333.1,1765.0 L1334.9,1765.0 L1336.6,1764.9 L1338.4,1764.9 L1340.2,1764.9 L1342.0,1764.8 L1343.7,1764.8 L1345.5,1764.7 L1347.3,1764.7 L1349.1,1764.6 L1350.8,1764.6 L1352.6,1764.5 L1354.4,1764.4 L1356.2,1764.3 L1357.9,1764.3 L1359.7,1764.2 L1361.5,1764.1 L1363.3,1764.0 L1365.0,1763.8 L1366.8,1763.7 L1368.6,1763.6 L1370.4,1763.4 L1372.1,1763.3 L1373.9,1763.1 L1375.7,1762.9 L1377.5,1762.7 L1379.2,1762.5 L1381.0,1762.3 L1382.8,1762.1 L1384.6,1761.8 L1386.3,1761.5 L1388.1,1761.3 L1389.9,1760.9 L1391.7,1760.6 L1393.4,1760.3 L1395.2,1759.9 L1397.0,1759.5 L1398.8,1759.0 L1400.5,1758.6 L1402.3,1758.1 L1404.1,1757.6 L1405.9,1757.0 L1407.7,1756.5 L1409.4,1755.9 L1411.2,1755.2 L1413.0,1754.5 L1414.8,1753.8 L1416.5,1753.0 L1418.3,1752.2 L1420.1,1751.3 L1421.9,1750.4 L1423.6,1749.5 L1425.4,1748.5 L1427.2,1747.4 L1429.0,1746.3 L1430.7,1745.1 L1432.5,1743.9 L1434.3,1742.6 L1436.1,1741.3 L1437.8,1739.9 L1439.6,1738.4 L1441.4,1736.8 L1443.2,1735.2 L1444.9,1733.5 L1446.7,1731.8 L1448.5,1729.9 L1450.3,1728.0 L1452.0,1726.0 L1453.8,1723.9 L1455.6,1721.8 L1457.4,1719.5 L1459.1,1717.2 L1460.9,1714.8 L1462.7,1712.3 L1464.5,1709.7 L1466.2,1707.0 L1468.0,1704.2 L1469.8,1701.3 L1471.6,1698.4 L1473.3,1695.3 L1475.1,1692.2 L1476.9,1688.9 L1478.7,1685.6 L1480.4,1682.1 L1482.2,1678.6 L1484.0,1675.0 L1485.8,1671.3 L1487.5,1667.5 L1489.3,1663.6 L1491.1,1659.6 L1492.9,1655.5 L1494.7,1651.3 L1496.4,1647.1 L1498.2,1642.8 L1500.0,1638.4 L1501.8,1633.9 L1503.5,1629.3 L1505.3,1624.7 L1507.1,1620.0 L1508.9,1615.3 L1510.6,1610.4 L1512.4,1605.6 L1514.2,1600.7 L1516.0,1595.7 L1517.7,1590.7 L1519.5,1585.7 L1521.3,1580.6 L1523.1,1575.5 L1524.8,1570.4 L1526.6,1565.3 L1528.4,1560.2 L1530.2,1555.0 L1531.9,1549.9 L1533.7,1544.8 L1535.5,1539.7 L1537.3,1534.6 L1539.0,1529.6 L1540.8,1524.6 L1542.6,1519.7 L1544.4,1514.8 L1546.1,1510.0 L1547.9,1505.2 L1549.7,1500.6 L1551.5,1496.0 L1553.2,1491.5 L1555.0,1487.1 L1556.8,1482.8 L1558.6,1478.6 L1560.3,1474.5 L1562.1,1470.6 L1563.9,1466.8 L1565.7,1463.2 L1567.4,1459.6 L1569.2,1456.3 L1571.0,1453.1 L1572.8,1450.0 L1574.5,1447.2 L1576.3,1444.5 L1578.1,1442.0 L1579.9,1439.6 L1581.7,1437.5 L1583.4,1435.5 L1585.2,1433.8 L1587.0,1432.2 L1588.8,1430.9 L1590.5,1429.7 L1592.3,1428.8 L1594.1,1428.0 L1595.9,1427.5 L1597.6,1427.2 L1599.4,1427.1 L1601.2,1427.2 L1603.0,1427.5 L1604.7,1428.0 L1606.5,1428.8 L1608.3,1429.7 L1610.1,1430.9 L1611.8,1432.2 L1613.6,1433.8 L1615.4,1435.5 L1617.2,1437.5 L1618.9,1439.6 L1620.7,1442.0 L1622.5,1444.5 L1624.3,1447.2 L1626.0,1450.0 L1627.8,1453.1 L1629.6,1456.3 L1631.4,1459.6 L1633.1,1463.2 L1634.9,1466.8 L1636.7,1470.6 L1638.5,1474.5 L1640.2,1478.6 L1642.0,1482.8 L1643.8,1487.1 L1645.6,1491.5 L1647.3,1496.0 L1649.1,1500.6 L1650.9,1505.2 L1652.7,1510.0 L1654.4,1514.8 L1656.2,1519.7 L1658.0,1524.6 L1659.8,1529.6 L1661.5,1534.6 L1663.3,1539.7 L1665.1,1544.8 L1666.9,1549.9 L1668.6,1555.0 L1670.4,1560.2 L1672.2,1565.3 L1674.0,1570.4 L1675.8,1575.5 L1677.5,1580.6 L1679.3,1585.7 L1681.1,1590.7 L1682.9,1595.7 L1684.6,1600.7 L1686.4,1605.6 L1688.2,1610.4 L1690.0,1615.3 L1691.7,1620.0 L1693.5,1624.7 L1695.3,1629.3 L1697.1,1633.9 L1698.8,1638.4 L1700.6,1642.8 L1702.4,1647.1 L1704.2,1651.3 L1705.9,1655.5 L1707.7,1659.6 L1709.5,1663.6 L1711.3,1667.5 L1713.0,1671.3 L1714.8,1675.0 L1716.6,1678.6 L1718.4,1682.1 L1720.1,1685.6 L1721.9,1688.9 L1723.7,1692.2 L1725.5,1695.3 L1727.2,1698.4 L1729.0,1701.3 L1730.8,1704.2 L1732.6,1707.0 L1734.3,1709.7 L1736.1,1712.3 L1737.9,1714.8 L1739.7,1717.2 L1741.4,1719.5 L1743.2,1721.8 L1745.0,1723.9 L1746.8,1726.0 L1748.5,1728.0 L1750.3,1729.9 L1752.1,1731.8 L1753.9,1733.5 L1755.6,1735.2 L1757.4,1736.8 L1759.2,1738.4 L1761.0,1739.9 L1762.8,1741.3 L1764.5,1742.6 L1766.3,1743.9 L1768.1,1745.1 L1769.9,1746.3 L1771.6,1747.4 L1773.4,1748.5 L1775.2,1749.5 L1777.0,1750.4 L1778.7,1751.3 L1780.5,1752.2 L1782.3,1753.0 L1784.1,1753.8 L1785.8,1754.5 L1787.6,1755.2 L1789.4,1755.9 L1791.2,1756.5 L1792.9,1757.0 L1794.7,1757.6 L1796.5,1758.1 L1798.3,1758.6 L1800.0,1759.0 L1801.8,1759.5 L1803.6,1759.9 L1805.4,1760.3 L1807.1,1760.6 L1808.9,1760.9 L1810.7,1761.3 L1812.5,1761.5 L1814.2,1761.8 L1816.0,1762.1 L1817.8,1762.3 L1819.6,1762.5 L1821.3,1762.7 L1823.1,1762.9 L1824.9,1763.1 L1826.7,1763.3 L1828.4,1763.4 L1830.2,1763.6 L1832.0,1763.7 L1833.8,1763.8 L1835.5,1764.0 L1837.3,1764.1 L1839.1,1764.2 L1840.9,1764.3 L1842.6,1764.3 L1844.4,1764.4 L1846.2,1764.5 L1848.0,1764.6 L1849.8,1764.6 L1851.5,1764.7 L1853.3,1764.7 L1855.1,1764.8 L1856.9,1764.8 L1858.6,1764.9 L1860.4,1764.9 L1862.2,1764.9 L1864.0,1765.0 L1865.7,1765.0 L1867.5,1765.0 L1869.3,1765.1 L1871.1,1765.1 L1872.8,1765.1 L1874.6,1765.1 L1876.4,1765.1 L1878.2,1765.1 L1879.9,1765.2 L1881.7,1765.2 L1883.5,1765.2 L1885.3,1765.2 L1887.0,1765.2 L1888.8,1765.2 L1890.6,1765.2 L1892.4,1765.2 L1894.1,1765.2 L1895.9,1765.2 L1897.7,1765.3 L1899.5,1765.3 L1901.2,1765.3 L1903.0,1765.3 L1904.8,1765.3 L1906.6,1765.3 L1908.3,1765.3 L1910.1,1765.3 L1911.9,1765.3 L1913.7,1765.3 L1915.4,1765.3 L1917.2,1765.3 L1919.0,1765.3 L1920.8,1765.3 L1922.5,1765.3 L1924.3,1765.3 L1926.1,1765.3 L1927.9,1765.3 L1929.6,1765.3 L1931.4,1765.3 L1933.2,1765.3 L1935.0,1765.3 L1936.8,1765.3 L1936.8,1765.3Z" fill="#e4a1a1" fill-opacity="1.00" stroke="none" clip-path="url(#cp21)"/>
<path d="M1049.0,1765.3 L1049.0,1670.9 L1050.8,1669.7 L1052.6,1668.4 L1054.3,1667.2 L1056.1,1666.0 L1057.9,1664.8 L1059.7,1663.5 L1061.4,1662.3 L1063.2,1661.1 L1065.0,1659.8 L1066.8,1658.6 L1068.5,1657.4 L1070.3,1656.1 L1072.1,1654.9 L1073.9,1653.7 L1075.6,1652.4 L1077.4,1651.2 L1079.2,1650.0 L1081.0,1648.7 L1082.7,1647.5 L1084.5,1646.3 L1086.3,1645.1 L1088.1,1643.9 L1089.8,1642.7 L1091.6,1641.5 L1093.4,1640.2 L1095.2,1639.0 L1096.9,1637.8 L1098.7,1636.6 L1100.5,1635.3 L1102.3,1634.1 L1104.0,1632.8 L1105.8,1631.6 L1107.6,1630.3 L1109.4,1629.0 L1111.1,1627.7 L1112.9,1626.4 L1114.7,1625.0 L1116.5,1623.7 L1118.2,1622.3 L1120.0,1620.8 L1121.8,1619.4 L1123.6,1617.9 L1125.3,1616.5 L1127.1,1615.0 L1128.9,1613.6 L1130.7,1612.1 L1132.4,1610.7 L1134.2,1609.2 L1136.0,1607.8 L1137.8,1606.3 L1139.6,1604.8 L1141.3,1603.4 L1143.1,1602.0 L1144.9,1600.6 L1146.7,1599.2 L1148.4,1597.9 L1150.2,1596.6 L1152.0,1595.4 L1153.8,1594.1 L1155.5,1593.0 L1157.3,1591.8 L1159.1,1590.7 L1160.9,1589.6 L1162.6,1588.5 L1164.4,1587.4 L1166.2,1586.3 L1168.0,1585.2 L1169.7,1584.2 L1171.5,1583.1 L1173.3,1582.0 L1175.1,1581.0 L1176.8,1580.0 L1178.6,1579.0 L1180.4,1578.0 L1182.2,1577.1 L1183.9,1576.3 L1185.7,1575.5 L1187.5,1574.7 L1189.3,1574.0 L1191.0,1573.3 L1192.8,1572.6 L1194.6,1571.9 L1196.4,1571.3 L1198.1,1570.7 L1199.9,1570.2 L1201.7,1569.8 L1203.5,1569.4 L1205.2,1569.1 L1207.0,1568.8 L1208.8,1568.5 L1210.6,1568.2 L1212.3,1568.0 L1214.1,1567.7 L1215.9,1567.6 L1217.7,1567.4 L1219.4,1567.3 L1221.2,1567.3 L1223.0,1567.4 L1224.8,1567.4 L1226.6,1567.5 L1228.3,1567.7 L1230.1,1567.8 L1231.9,1568.0 L1233.7,1568.2 L1235.4,1568.5 L1237.2,1568.7 L1239.0,1569.0 L1240.8,1569.3 L1242.5,1569.7 L1244.3,1570.1 L1246.1,1570.7 L1247.9,1571.3 L1249.6,1571.9 L1251.4,1572.6 L1253.2,1573.3 L1255.0,1574.1 L1256.7,1574.9 L1258.5,1575.8 L1260.3,1576.7 L1262.1,1577.8 L1263.8,1579.0 L1265.6,1580.3 L1267.4,1581.6 L1269.2,1583.0 L1270.9,1584.4 L1272.7,1585.8 L1274.5,1587.3 L1276.3,1588.9 L1278.0,1590.5 L1279.8,1592.2 L1281.6,1594.0 L1283.4,1595.9 L1285.1,1597.8 L1286.9,1599.8 L1288.7,1601.8 L1290.5,1603.8 L1292.2,1605.9 L1294.0,1608.0 L1295.8,1610.1 L1297.6,1612.2 L1299.3,1614.4 L1301.1,1616.7 L1302.9,1619.0 L1304.7,1621.4 L1306.4,1623.9 L1308.2,1626.4 L1310.0,1629.0 L1311.8,1631.8 L1313.5,1634.7 L1315.3,1637.7 L1317.1,1640.9 L1318.9,1644.1 L1320.7,1647.4 L1322.4,1650.8 L1324.2,1654.1 L1326.0,1657.5 L1327.8,1660.8 L1329.5,1664.1 L1331.3,1667.4 L1333.1,1670.8 L1334.9,1674.3 L1336.6,1677.7 L1338.4,1681.2 L1340.2,1684.6 L1342.0,1688.0 L1343.7,1691.4 L1345.5,1694.7 L1347.3,1698.0 L1349.1,1701.3 L1350.8,1704.6 L1352.6,1707.9 L1354.4,1711.2 L1356.2,1714.4 L1357.9,1717.6 L1359.7,1720.7 L1361.5,1723.7 L1363.3,1726.6 L1365.0,1729.4 L1366.8,1732.2 L1368.6,1734.9 L1370.4,1737.5 L1372.1,1740.0 L1373.9,1742.4 L1375.7,1744.7 L1377.5,1746.9 L1379.2,1749.2 L1381.0,1751.4 L1382.8,1753.6 L1384.6,1755.6 L1386.3,1757.4 L1388.1,1759.0 L1389.9,1760.2 L1391.7,1761.0 L1393.4,1761.8 L1395.2,1762.6 L1397.0,1763.3 L1398.8,1763.9 L1400.5,1764.4 L1402.3,1764.8 L1404.1,1765.1 L1405.9,1765.3 L1407.7,1765.3 L1409.4,1765.3 L1411.2,1765.3 L1413.0,1765.3 L1414.8,1765.3 L1416.5,1765.3 L1418.3,1765.3 L1420.1,1765.3 L1421.9,1765.3 L1423.6,1765.3 L1425.4,1765.3 L1427.2,1765.3 L1429.0,1765.3 L1430.7,1765.3 L1432.5,1765.3 L1434.3,1765.3 L1436.1,1765.3 L1437.8,1765.3 L1439.6,1765.3 L1441.4,1765.3 L1443.2,1765.3 L1444.9,1765.3 L1446.7,1765.3 L1448.5,1765.3 L1450.3,1765.3 L1452.0,1765.3 L1453.8,1765.3 L1455.6,1765.3 L1457.4,1765.3 L1459.1,1765.3 L1460.9,1765.3 L1462.7,1765.3 L1464.5,1765.3 L1466.2,1765.3 L1468.0,1765.3 L1469.8,1765.3 L1471.6,1765.3 L1473.3,1765.3 L1475.1,1765.3 L1476.9,1765.3 L1478.7,1765.3 L1480.4,1765.3 L1482.2,1765.3 L1484.0,1765.3 L1485.8,1765.3 L1487.5,1765.3 L1489.3,1765.3 L1491.1,1765.3 L1492.9,1765.3 L1494.7,1765.3 L1496.4,1765.3 L1498.2,1765.3 L1500.0,1765.3 L1501.8,1765.3 L1503.5,1765.3 L1505.3,1765.3 L1507.1,1765.3 L1508.9,1765.3 L1510.6,1765.3 L1512.4,1765.3 L1514.2,1765.3 L1516.0,1765.3 L1517.7,1765.3 L1519.5,1765.3 L1521.3,1765.3 L1523.1,1765.3 L1524.8,1765.3 L1526.6,1765.3 L1528.4,1765.3 L1530.2,1765.3 L1531.9,1765.3 L1533.7,1765.3 L1535.5,1765.3 L1537.3,1765.3 L1539.0,1765.3 L1540.8,1765.3 L1542.6,1765.3 L1544.4,1765.3 L1546.1,1765.3 L1547.9,1765.3 L1549.7,1765.3 L1551.5,1765.3 L1553.2,1765.3 L1555.0,1765.3 L1556.8,1765.3 L1558.6,1765.3 L1560.3,1765.3 L1562.1,1765.3 L1563.9,1765.3 L1565.7,1765.3 L1567.4,1765.3 L1569.2,1765.3 L1571.0,1765.3 L1572.8,1765.3 L1574.5,1765.3 L1576.3,1765.3 L1578.1,1765.3 L1579.9,1765.3 L1581.7,1765.3 L1583.4,1765.3 L1585.2,1765.3 L1587.0,1765.3 L1588.8,1765.3 L1590.5,1765.3 L1592.3,1765.3 L1594.1,1765.3 L1595.9,1765.3 L1597.6,1765.3 L1599.4,1765.3 L1601.2,1765.3 L1603.0,1765.3 L1604.7,1765.3 L1606.5,1765.3 L1608.3,1765.3 L1610.1,1765.3 L1611.8,1765.3 L1613.6,1765.3 L1615.4,1765.3 L1617.2,1765.3 L1618.9,1765.3 L1620.7,1765.3 L1622.5,1765.3 L1624.3,1765.3 L1626.0,1765.3 L1627.8,1765.3 L1629.6,1765.3 L1631.4,1765.3 L1633.1,1765.3 L1634.9,1765.3 L1636.7,1765.3 L1638.5,1765.3 L1640.2,1765.3 L1642.0,1765.3 L1643.8,1765.3 L1645.6,1765.3 L1647.3,1765.3 L1649.1,1765.3 L1650.9,1765.3 L1652.7,1765.3 L1654.4,1765.3 L1656.2,1765.3 L1658.0,1765.3 L1659.8,1765.3 L1661.5,1765.3 L1663.3,1765.3 L1665.1,1765.3 L1666.9,1765.3 L1668.6,1765.3 L1670.4,1765.3 L1672.2,1765.3 L1674.0,1765.3 L1675.8,1765.3 L1677.5,1765.3 L1679.3,1765.3 L1681.1,1765.3 L1682.9,1765.3 L1684.6,1765.3 L1686.4,1765.3 L1688.2,1765.3 L1690.0,1765.3 L1691.7,1765.3 L1693.5,1765.3 L1695.3,1765.3 L1697.1,1765.3 L1698.8,1765.3 L1700.6,1765.3 L1702.4,1765.3 L1704.2,1765.3 L1705.9,1765.3 L1707.7,1765.3 L1709.5,1765.3 L1711.3,1765.3 L1713.0,1765.3 L1714.8,1765.3 L1716.6,1765.3 L1718.4,1765.3 L1720.1,1765.3 L1721.9,1765.3 L1723.7,1765.3 L1725.5,1765.3 L1727.2,1765.3 L1729.0,1765.3 L1730.8,1765.3 L1732.6,1765.3 L1734.3,1765.3 L1736.1,1765.3 L1737.9,1765.3 L1739.7,1765.3 L1741.4,1765.3 L1743.2,1765.3 L1745.0,1765.3 L1746.8,1765.3 L1748.5,1765.3 L1750.3,1765.3 L1752.1,1765.3 L1753.9,1765.3 L1755.6,1765.3 L1757.4,1765.3 L1759.2,1765.3 L1761.0,1765.3 L1762.8,1765.3 L1764.5,1765.3 L1766.3,1765.3 L1768.1,1765.3 L1769.9,1765.3 L1771.6,1765.3 L1773.4,1765.3 L1775.2,1765.3 L1777.0,1765.3 L1778.7,1765.3 L1780.5,1765.3 L1782.3,1765.3 L1784.1,1765.3 L1785.8,1765.3 L1787.6,1765.3 L1789.4,1765.3 L1791.2,1765.3 L1792.9,1765.3 L1794.7,1765.3 L1796.5,1765.3 L1798.3,1765.3 L1800.0,1765.3 L1801.8,1765.3 L1803.6,1765.3 L1805.4,1765.3 L1807.1,1765.3 L1808.9,1765.3 L1810.7,1765.3 L1812.5,1765.3 L1814.2,1765.3 L1816.0,1765.3 L1817.8,1765.3 L1819.6,1765.3 L1821.3,1765.3 L1823.1,1765.3 L1824.9,1765.3 L1826.7,1765.3 L1828.4,1765.3 L1830.2,1765.3 L1832.0,1765.3 L1833.8,1765.3 L1835.5,1765.3 L1837.3,1765.3 L1839.1,1765.3 L1840.9,1765.3 L1842.6,1765.3 L1844.4,1765.3 L1846.2,1765.3 L1848.0,1765.3 L1849.8,1765.3 L1851.5,1765.3 L1853.3,1765.3 L1855.1,1765.3 L1856.9,1765.3 L1858.6,1765.3 L1860.4,1765.3 L1862.2,1765.3 L1864.0,1765.3 L1865.7,1765.3 L1867.5,1765.3 L1869.3,1765.3 L1871.1,1765.3 L1872.8,1765.3 L1874.6,1765.3 L1876.4,1765.3 L1878.2,1765.3 L1879.9,1765.3 L1881.7,1765.3 L1883.5,1765.3 L1885.3,1765.3 L1887.0,1765.3 L1888.8,1765.3 L1890.6,1765.3 L1892.4,1765.3 L1894.1,1765.3 L1895.9,1765.3 L1897.7,1765.3 L1899.5,1765.3 L1901.2,1765.3 L1903.0,1765.3 L1904.8,1765.3 L1906.6,1765.3 L1908.3,1765.3 L1910.1,1765.3 L1911.9,1765.3 L1913.7,1765.3 L1915.4,1765.3 L1917.2,1765.3 L1919.0,1765.3 L1920.8,1765.3 L1922.5,1765.3 L1924.3,1765.3 L1926.1,1765.3 L1927.9,1765.3 L1929.6,1765.3 L1931.4,1765.3 L1933.2,1765.3 L1935.0,1765.3 L1936.8,1765.3 L1936.8,1765.3Z" fill="#e4a1a1" fill-opacity="1.00" stroke="none" clip-path="url(#cp21)"/>
<g clip-path="url(#cp21)" fill="none"><path d="M1049.0,1670.9 L1050.8,1669.7 L1052.6,1668.4 L1054.3,1667.2 L1056.1,1666.0 L1057.9,1664.8 L1059.7,1663.5 L1061.4,1662.3 L1063.2,1661.1 L1065.0,1659.8 L1066.8,1658.6 L1068.5,1657.4 L1070.3,1656.1 L1072.1,1654.9 L1073.9,1653.7 L1075.6,1652.4 L1077.4,1651.2 L1079.2,1650.0 L1081.0,1648.7 L1082.7,1647.5 L1084.5,1646.3 L1086.3,1645.1 L1088.1,1643.9 L1089.8,1642.7 L1091.6,1641.5 L1093.4,1640.2 L1095.2,1639.0 L1096.9,1637.8 L1098.7,1636.6 L1100.5,1635.3 L1102.3,1634.1 L1104.0,1632.8 L1105.8,1631.6 L1107.6,1630.3 L1109.4,1629.0 L1111.1,1627.7 L1112.9,1626.4 L1114.7,1625.0 L1116.5,1623.7 L1118.2,1622.3 L1120.0,1620.8 L1121.8,1619.4 L1123.6,1617.9 L1125.3,1616.5 L1127.1,1615.0 L1128.9,1613.6 L1130.7,1612.1 L1132.4,1610.7 L1134.2,1609.2 L1136.0,1607.8 L1137.8,1606.3 L1139.6,1604.8 L1141.3,1603.4 L1143.1,1602.0 L1144.9,1600.6 L1146.7,1599.2 L1148.4,1597.9 L1150.2,1596.6 L1152.0,1595.4 L1153.8,1594.1 L1155.5,1593.0 L1157.3,1591.8 L1159.1,1590.7 L1160.9,1589.6 L1162.6,1588.5 L1164.4,1587.4 L1166.2,1586.3 L1168.0,1585.2 L1169.7,1584.2 L1171.5,1583.1 L1173.3,1582.0 L1175.1,1581.0 L1176.8,1580.0 L1178.6,1579.0 L1180.4,1578.0 L1182.2,1577.1 L1183.9,1576.3 L1185.7,1575.5 L1187.5,1574.7 L1189.3,1574.0 L1191.0,1573.3 L1192.8,1572.6 L1194.6,1571.9 L1196.4,1571.3 L1198.1,1570.7 L1199.9,1570.2 L1201.7,1569.8 L1203.5,1569.4 L1205.2,1569.1 L1207.0,1568.8 L1208.8,1568.5 L1210.6,1568.2 L1212.3,1568.0 L1214.1,1567.7 L1215.9,1567.6 L1217.7,1567.4 L1219.4,1567.3 L1221.2,1567.3 L1223.0,1567.4 L1224.8,1567.4 L1226.6,1567.5 L1228.3,1567.7 L1230.1,1567.8 L1231.9,1568.0 L1233.7,1568.2 L1235.4,1568.5 L1237.2,1568.7 L1239.0,1569.0 L1240.8,1569.3 L1242.5,1569.7 L1244.3,1570.1 L1246.1,1570.7 L1247.9,1571.3 L1249.6,1571.9 L1251.4,1572.6 L1253.2,1573.3 L1255.0,1574.1 L1256.7,1574.9 L1258.5,1575.8 L1260.3,1576.7 L1262.1,1577.8 L1263.8,1579.0 L1265.6,1580.3 L1267.4,1581.6 L1269.2,1583.0 L1270.9,1584.4 L1272.7,1585.8 L1274.5,1587.3 L1276.3,1588.9 L1278.0,1590.5 L1279.8,1592.2 L1281.6,1594.0 L1283.4,1595.9 L1285.1,1597.8 L1286.9,1599.8 L1288.7,1601.8 L1290.5,1603.8 L1292.2,1605.9 L1294.0,1608.0 L1295.8,1610.1 L1297.6,1612.2 L1299.3,1614.4 L1301.1,1616.7 L1302.9,1619.0 L1304.7,1621.4 L1306.4,1623.9 L1308.2,1626.4 L1310.0,1629.0 L1311.8,1631.8 L1313.5,1634.7 L1315.3,1637.7 L1317.1,1640.9 L1318.9,1644.1 L1320.7,1647.4 L1322.4,1650.8 L1324.2,1654.1 L1326.0,1657.5 L1327.8,1660.8 L1329.5,1664.1 L1331.3,1667.4 L1333.1,1670.8 L1334.9,1674.3 L1336.6,1677.7 L1338.4,1681.2 L1340.2,1684.6 L1342.0,1688.0 L1343.7,1691.4 L1345.5,1694.7 L1347.3,1698.0 L1349.1,1701.3 L1350.8,1704.6 L1352.6,1707.9 L1354.4,1711.2 L1356.2,1714.4 L1357.9,1717.6 L1359.7,1720.7 L1361.5,1723.7 L1363.3,1726.6 L1365.0,1729.4 L1366.8,1732.2 L1368.6,1734.9 L1370.4,1737.5 L1372.1,1740.0 L1373.9,1742.4 L1375.7,1744.7 L1377.5,1746.9 L1379.2,1749.2 L1381.0,1751.4 L1382.8,1753.6 L1384.6,1755.6 L1386.3,1757.4 L1388.1,1759.0 L1389.9,1760.2 L1391.7,1761.0 L1393.4,1761.8 L1395.2,1762.6 L1397.0,1763.3 L1398.8,1763.9 L1400.5,1764.4 L1402.3,1764.8 L1404.1,1765.1 L1405.9,1765.3 L1407.7,1765.3 L1409.4,1765.3 L1411.2,1765.3 L1413.0,1765.3 L1414.8,1765.3 L1416.5,1765.3 L1418.3,1765.3 L1420.1,1765.3 L1421.9,1765.3 L1423.6,1765.3 L1425.4,1765.3 L1427.2,1765.3 L1429.0,1765.3 L1430.7,1765.3 L1432.5,1765.3 L1434.3,1765.3 L1436.1,1765.3 L1437.8,1765.3 L1439.6,1765.3 L1441.4,1765.3 L1443.2,1765.3 L1444.9,1765.3 L1446.7,1765.3 L1448.5,1765.3 L1450.3,1765.3 L1452.0,1765.3 L1453.8,1765.3 L1455.6,1765.3 L1457.4,1765.3 L1459.1,1765.3 L1460.9,1765.3 L1462.7,1765.3 L1464.5,1765.3 L1466.2,1765.3 L1468.0,1765.3 L1469.8,1765.3 L1471.6,1765.3 L1473.3,1765.3 L1475.1,1765.3 L1476.9,1765.3 L1478.7,1765.3 L1480.4,1765.3 L1482.2,1765.3 L1484.0,1765.3 L1485.8,1765.3 L1487.5,1765.3 L1489.3,1765.3 L1491.1,1765.3 L1492.9,1765.3 L1494.7,1765.3 L1496.4,1765.3 L1498.2,1765.3 L1500.0,1765.3 L1501.8,1765.3 L1503.5,1765.3 L1505.3,1765.3 L1507.1,1765.3 L1508.9,1765.3 L1510.6,1765.3 L1512.4,1765.3 L1514.2,1765.3 L1516.0,1765.3 L1517.7,1765.3 L1519.5,1765.3 L1521.3,1765.3 L1523.1,1765.3 L1524.8,1765.3 L1526.6,1765.3 L1528.4,1765.3 L1530.2,1765.3 L1531.9,1765.3 L1533.7,1765.3 L1535.5,1765.3 L1537.3,1765.3 L1539.0,1765.3 L1540.8,1765.3 L1542.6,1765.3 L1544.4,1765.3 L1546.1,1765.3 L1547.9,1765.3 L1549.7,1765.3 L1551.5,1765.3 L1553.2,1765.3 L1555.0,1765.3 L1556.8,1765.3 L1558.6,1765.3 L1560.3,1765.3 L1562.1,1765.3 L1563.9,1765.3 L1565.7,1765.3 L1567.4,1765.3 L1569.2,1765.3 L1571.0,1765.3 L1572.8,1765.3 L1574.5,1765.3 L1576.3,1765.3 L1578.1,1765.3 L1579.9,1765.3 L1581.7,1765.3 L1583.4,1765.3 L1585.2,1765.3 L1587.0,1765.3 L1588.8,1765.3 L1590.5,1765.3 L1592.3,1765.3 L1594.1,1765.3 L1595.9,1765.3 L1597.6,1765.3 L1599.4,1765.3 L1601.2,1765.3 L1603.0,1765.3 L1604.7,1765.3 L1606.5,1765.3 L1608.3,1765.3 L1610.1,1765.3 L1611.8,1765.3 L1613.6,1765.3 L1615.4,1765.3 L1617.2,1765.3 L1618.9,1765.3 L1620.7,1765.3 L1622.5,1765.3 L1624.3,1765.3 L1626.0,1765.3 L1627.8,1765.3 L1629.6,1765.3 L1631.4,1765.3 L1633.1,1765.3 L1634.9,1765.3 L1636.7,1765.3 L1638.5,1765.3 L1640.2,1765.3 L1642.0,1765.3 L1643.8,1765.3 L1645.6,1765.3 L1647.3,1765.3 L1649.1,1765.3 L1650.9,1765.3 L1652.7,1765.3 L1654.4,1765.3 L1656.2,1765.3 L1658.0,1765.3 L1659.8,1765.3 L1661.5,1765.3 L1663.3,1765.3 L1665.1,1765.3 L1666.9,1765.3 L1668.6,1765.3 L1670.4,1765.3 L1672.2,1765.3 L1674.0,1765.3 L1675.8,1765.3 L1677.5,1765.3 L1679.3,1765.3 L1681.1,1765.3 L1682.9,1765.3 L1684.6,1765.3 L1686.4,1765.3 L1688.2,1765.3 L1690.0,1765.3 L1691.7,1765.3 L1693.5,1765.3 L1695.3,1765.3 L1697.1,1765.3 L1698.8,1765.3 L1700.6,1765.3 L1702.4,1765.3 L1704.2,1765.3 L1705.9,1765.3 L1707.7,1765.3 L1709.5,1765.3 L1711.3,1765.3 L1713.0,1765.3 L1714.8,1765.3 L1716.6,1765.3 L1718.4,1765.3 L1720.1,1765.3 L1721.9,1765.3 L1723.7,1765.3 L1725.5,1765.3 L1727.2,1765.3 L1729.0,1765.3 L1730.8,1765.3 L1732.6,1765.3 L1734.3,1765.3 L1736.1,1765.3 L1737.9,1765.3 L1739.7,1765.3 L1741.4,1765.3 L1743.2,1765.3 L1745.0,1765.3 L1746.8,1765.3 L1748.5,1765.3 L1750.3,1765.3 L1752.1,1765.3 L1753.9,1765.3 L1755.6,1765.3 L1757.4,1765.3 L1759.2,1765.3 L1761.0,1765.3 L1762.8,1765.3 L1764.5,1765.3 L1766.3,1765.3 L1768.1,1765.3 L1769.9,1765.3 L1771.6,1765.3 L1773.4,1765.3 L1775.2,1765.3 L1777.0,1765.3 L1778.7,1765.3 L1780.5,1765.3 L1782.3,1765.3 L1784.1,1765.3 L1785.8,1765.3 L1787.6,1765.3 L1789.4,1765.3 L1791.2,1765.3 L1792.9,1765.3 L1794.7,1765.3 L1796.5,1765.3 L1798.3,1765.3 L1800.0,1765.3 L1801.8,1765.3 L1803.6,1765.3 L1805.4,1765.3 L1807.1,1765.3 L1808.9,1765.3 L1810.7,1765.3 L1812.5,1765.3 L1814.2,1765.3 L1816.0,1765.3 L1817.8,1765.3 L1819.6,1765.3 L1821.3,1765.3 L1823.1,1765.3 L1824.9,1765.3 L1826.7,1765.3 L1828.4,1765.3 L1830.2,1765.3 L1832.0,1765.3 L1833.8,1765.3 L1835.5,1765.3 L1837.3,1765.3 L1839.1,1765.3 L1840.9,1765.3 L1842.6,1765.3 L1844.4,1765.3 L1846.2,1765.3 L1848.0,1765.3 L1849.8,1765.3 L1851.5,1765.3 L1853.3,1765.3 L1855.1,1765.3 L1856.9,1765.3 L1858.6,1765.3 L1860.4,1765.3 L1862.2,1765.3 L1864.0,1765.3 L1865.7,1765.3 L1867.5,1765.3 L1869.3,1765.3 L1871.1,1765.3 L1872.8,1765.3 L1874.6,1765.3 L1876.4,1765.3 L1878.2,1765.3 L1879.9,1765.3 L1881.7,1765.3 L1883.5,1765.3 L1885.3,1765.3 L1887.0,1765.3 L1888.8,1765.3 L1890.6,1765.3 L1892.4,1765.3 L1894.1,1765.3 L1895.9,1765.3 L1897.7,1765.3 L1899.5,1765.3 L1901.2,1765.3 L1903.0,1765.3 L1904.8,1765.3 L1906.6,1765.3 L1908.3,1765.3 L1910.1,1765.3 L1911.9,1765.3 L1913.7,1765.3 L1915.4,1765.3 L1917.2,1765.3 L1919.0,1765.3 L1920.8,1765.3 L1922.5,1765.3 L1924.3,1765.3 L1926.1,1765.3 L1927.9,1765.3 L1929.6,1765.3 L1931.4,1765.3 L1933.2,1765.3 L1935.0,1765.3 L1936.8,1765.3" stroke="#e9918b" stroke-width="2.70"/><path d="M1049.0,1670.9 L1050.8,1669.7 L1052.6,1668.4 L1054.3,1667.2 L1056.1,1666.0 L1057.9,1664.8 L1059.7,1663.5 L1061.4,1662.3 L1063.2,1661.1 L1065.0,1659.8 L1066.8,1658.6 L1068.5,1657.4 L1070.3,1656.1 L1072.1,1654.9 L1073.9,1653.7 L1075.6,1652.4 L1077.4,1651.2 L1079.2,1650.0 L1081.0,1648.7 L1082.7,1647.5 L1084.5,1646.3 L1086.3,1645.1 L1088.1,1643.9 L1089.8,1642.7 L1091.6,1641.5 L1093.4,1640.2 L1095.2,1639.0 L1096.9,1637.8 L1098.7,1636.6 L1100.5,1635.3 L1102.3,1634.1 L1104.0,1632.8 L1105.8,1631.6 L1107.6,1630.3 L1109.4,1629.0 L1111.1,1627.7 L1112.9,1626.4 L1114.7,1625.0 L1116.5,1623.7 L1118.2,1622.3 L1120.0,1620.8 L1121.8,1619.4 L1123.6,1617.9 L1125.3,1616.5 L1127.1,1615.0 L1128.9,1613.6 L1130.7,1612.1 L1132.4,1610.7 L1134.2,1609.2 L1136.0,1607.8 L1137.8,1606.3 L1139.6,1604.8 L1141.3,1603.4 L1143.1,1602.0 L1144.9,1600.6 L1146.7,1599.2 L1148.4,1597.9 L1150.2,1596.6 L1152.0,1595.4 L1153.8,1594.1 L1155.5,1593.0 L1157.3,1591.8 L1159.1,1590.7 L1160.9,1589.6 L1162.6,1588.5 L1164.4,1587.4 L1166.2,1586.3 L1168.0,1585.2 L1169.7,1584.2 L1171.5,1583.1 L1173.3,1582.0 L1175.1,1581.0 L1176.8,1580.0 L1178.6,1579.0 L1180.4,1578.0 L1182.2,1577.1 L1183.9,1576.3 L1185.7,1575.5 L1187.5,1574.7 L1189.3,1574.0 L1191.0,1573.3 L1192.8,1572.6 L1194.6,1571.9 L1196.4,1571.3 L1198.1,1570.7 L1199.9,1570.2 L1201.7,1569.8 L1203.5,1569.4 L1205.2,1569.1 L1207.0,1568.8 L1208.8,1568.5 L1210.6,1568.2 L1212.3,1568.0 L1214.1,1567.7 L1215.9,1567.6 L1217.7,1567.4 L1219.4,1567.3 L1221.2,1567.3 L1223.0,1567.4 L1224.8,1567.4 L1226.6,1567.5 L1228.3,1567.7 L1230.1,1567.8 L1231.9,1568.0 L1233.7,1568.2 L1235.4,1568.5 L1237.2,1568.7 L1239.0,1569.0 L1240.8,1569.3 L1242.5,1569.7 L1244.3,1570.1 L1246.1,1570.7 L1247.9,1571.3 L1249.6,1571.9 L1251.4,1572.6 L1253.2,1573.3 L1255.0,1574.1 L1256.7,1574.9 L1258.5,1575.8 L1260.3,1576.7 L1262.1,1577.8 L1263.8,1579.0 L1265.6,1580.3 L1267.4,1581.6 L1269.2,1583.0 L1270.9,1584.4 L1272.7,1585.8 L1274.5,1587.3 L1276.3,1588.9 L1278.0,1590.5 L1279.8,1592.2 L1281.6,1594.0 L1283.4,1595.9 L1285.1,1597.8 L1286.9,1599.8 L1288.7,1601.8 L1290.5,1603.8 L1292.2,1605.9 L1294.0,1608.0 L1295.8,1610.1 L1297.6,1612.2 L1299.3,1614.4 L1301.1,1616.7 L1302.9,1619.0 L1304.7,1621.4 L1306.4,1623.9 L1308.2,1626.4 L1310.0,1629.0 L1311.8,1631.8 L1313.5,1634.7 L1315.3,1637.7 L1317.1,1640.9 L1318.9,1644.1 L1320.7,1647.4 L1322.4,1650.8 L1324.2,1654.1 L1326.0,1657.5 L1327.8,1660.8 L1329.5,1664.1 L1331.3,1667.4 L1333.1,1670.8 L1334.9,1674.3 L1336.6,1677.7 L1338.4,1681.2 L1340.2,1684.6 L1342.0,1688.0 L1343.7,1691.4 L1345.5,1694.7 L1347.3,1698.0 L1349.1,1701.3 L1350.8,1704.6 L1352.6,1707.9 L1354.4,1711.2 L1356.2,1714.4 L1357.9,1717.6 L1359.7,1720.7 L1361.5,1723.7 L1363.3,1726.6 L1365.0,1729.4 L1366.8,1732.2 L1368.6,1734.9 L1370.4,1737.5 L1372.1,1740.0 L1373.9,1742.4 L1375.7,1744.7 L1377.5,1746.9 L1379.2,1749.2 L1381.0,1751.4 L1382.8,1753.6 L1384.6,1755.6 L1386.3,1757.4 L1388.1,1759.0 L1389.9,1760.2 L1391.7,1761.0 L1393.4,1761.8 L1395.2,1762.6 L1397.0,1763.3 L1398.8,1763.9 L1400.5,1764.4 L1402.3,1764.8 L1404.1,1765.1 L1405.9,1765.3 L1407.7,1765.3 L1409.4,1765.3 L1411.2,1765.3 L1413.0,1765.3 L1414.8,1765.3 L1416.5,1765.3 L1418.3,1765.3 L1420.1,1765.3 L1421.9,1765.3 L1423.6,1765.3 L1425.4,1765.3 L1427.2,1765.3 L1429.0,1765.3 L1430.7,1765.3 L1432.5,1765.3 L1434.3,1765.3 L1436.1,1765.3 L1437.8,1765.3 L1439.6,1765.3 L1441.4,1765.3 L1443.2,1765.3 L1444.9,1765.3 L1446.7,1765.3 L1448.5,1765.3 L1450.3,1765.3 L1452.0,1765.3 L1453.8,1765.3 L1455.6,1765.3 L1457.4,1765.3 L1459.1,1765.3 L1460.9,1765.3 L1462.7,1765.3 L1464.5,1765.3 L1466.2,1765.3 L1468.0,1765.3 L1469.8,1765.3 L1471.6,1765.3 L1473.3,1765.3 L1475.1,1765.3 L1476.9,1765.3 L1478.7,1765.3 L1480.4,1765.3 L1482.2,1765.3 L1484.0,1765.3 L1485.8,1765.3 L1487.5,1765.3 L1489.3,1765.3 L1491.1,1765.3 L1492.9,1765.3 L1494.7,1765.3 L1496.4,1765.3 L1498.2,1765.3 L1500.0,1765.3 L1501.8,1765.3 L1503.5,1765.3 L1505.3,1765.3 L1507.1,1765.3 L1508.9,1765.3 L1510.6,1765.3 L1512.4,1765.3 L1514.2,1765.3 L1516.0,1765.3 L1517.7,1765.3 L1519.5,1765.3 L1521.3,1765.3 L1523.1,1765.3 L1524.8,1765.3 L1526.6,1765.3 L1528.4,1765.3 L1530.2,1765.3 L1531.9,1765.3 L1533.7,1765.3 L1535.5,1765.3 L1537.3,1765.3 L1539.0,1765.3 L1540.8,1765.3 L1542.6,1765.3 L1544.4,1765.3 L1546.1,1765.3 L1547.9,1765.3 L1549.7,1765.3 L1551.5,1765.3 L1553.2,1765.3 L1555.0,1765.3 L1556.8,1765.3 L1558.6,1765.3 L1560.3,1765.3 L1562.1,1765.3 L1563.9,1765.3 L1565.7,1765.3 L1567.4,1765.3 L1569.2,1765.3 L1571.0,1765.3 L1572.8,1765.3 L1574.5,1765.3 L1576.3,1765.3 L1578.1,1765.3 L1579.9,1765.3 L1581.7,1765.3 L1583.4,1765.3 L1585.2,1765.3 L1587.0,1765.3 L1588.8,1765.3 L1590.5,1765.3 L1592.3,1765.3 L1594.1,1765.3 L1595.9,1765.3 L1597.6,1765.3 L1599.4,1765.3 L1601.2,1765.3 L1603.0,1765.3 L1604.7,1765.3 L1606.5,1765.3 L1608.3,1765.3 L1610.1,1765.3 L1611.8,1765.3 L1613.6,1765.3 L1615.4,1765.3 L1617.2,1765.3 L1618.9,1765.3 L1620.7,1765.3 L1622.5,1765.3 L1624.3,1765.3 L1626.0,1765.3 L1627.8,1765.3 L1629.6,1765.3 L1631.4,1765.3 L1633.1,1765.3 L1634.9,1765.3 L1636.7,1765.3 L1638.5,1765.3 L1640.2,1765.3 L1642.0,1765.3 L1643.8,1765.3 L1645.6,1765.3 L1647.3,1765.3 L1649.1,1765.3 L1650.9,1765.3 L1652.7,1765.3 L1654.4,1765.3 L1656.2,1765.3 L1658.0,1765.3 L1659.8,1765.3 L1661.5,1765.3 L1663.3,1765.3 L1665.1,1765.3 L1666.9,1765.3 L1668.6,1765.3 L1670.4,1765.3 L1672.2,1765.3 L1674.0,1765.3 L1675.8,1765.3 L1677.5,1765.3 L1679.3,1765.3 L1681.1,1765.3 L1682.9,1765.3 L1684.6,1765.3 L1686.4,1765.3 L1688.2,1765.3 L1690.0,1765.3 L1691.7,1765.3 L1693.5,1765.3 L1695.3,1765.3 L1697.1,1765.3 L1698.8,1765.3 L1700.6,1765.3 L1702.4,1765.3 L1704.2,1765.3 L1705.9,1765.3 L1707.7,1765.3 L1709.5,1765.3 L1711.3,1765.3 L1713.0,1765.3 L1714.8,1765.3 L1716.6,1765.3 L1718.4,1765.3 L1720.1,1765.3 L1721.9,1765.3 L1723.7,1765.3 L1725.5,1765.3 L1727.2,1765.3 L1729.0,1765.3 L1730.8,1765.3 L1732.6,1765.3 L1734.3,1765.3 L1736.1,1765.3 L1737.9,1765.3 L1739.7,1765.3 L1741.4,1765.3 L1743.2,1765.3 L1745.0,1765.3 L1746.8,1765.3 L1748.5,1765.3 L1750.3,1765.3 L1752.1,1765.3 L1753.9,1765.3 L1755.6,1765.3 L1757.4,1765.3 L1759.2,1765.3 L1761.0,1765.3 L1762.8,1765.3 L1764.5,1765.3 L1766.3,1765.3 L1768.1,1765.3 L1769.9,1765.3 L1771.6,1765.3 L1773.4,1765.3 L1775.2,1765.3 L1777.0,1765.3 L1778.7,1765.3 L1780.5,1765.3 L1782.3,1765.3 L1784.1,1765.3 L1785.8,1765.3 L1787.6,1765.3 L1789.4,1765.3 L1791.2,1765.3 L1792.9,1765.3 L1794.7,1765.3 L1796.5,1765.3 L1798.3,1765.3 L1800.0,1765.3 L1801.8,1765.3 L1803.6,1765.3 L1805.4,1765.3 L1807.1,1765.3 L1808.9,1765.3 L1810.7,1765.3 L1812.5,1765.3 L1814.2,1765.3 L1816.0,1765.3 L1817.8,1765.3 L1819.6,1765.3 L1821.3,1765.3 L1823.1,1765.3 L1824.9,1765.3 L1826.7,1765.3 L1828.4,1765.3 L1830.2,1765.3 L1832.0,1765.3 L1833.8,1765.3 L1835.5,1765.3 L1837.3,1765.3 L1839.1,1765.3 L1840.9,1765.3 L1842.6,1765.3 L1844.4,1765.3 L1846.2,1765.3 L1848.0,1765.3 L1849.8,1765.3 L1851.5,1765.3 L1853.3,1765.3 L1855.1,1765.3 L1856.9,1765.3 L1858.6,1765.3 L1860.4,1765.3 L1862.2,1765.3 L1864.0,1765.3 L1865.7,1765.3 L1867.5,1765.3 L1869.3,1765.3 L1871.1,1765.3 L1872.8,1765.3 L1874.6,1765.3 L1876.4,1765.3 L1878.2,1765.3 L1879.9,1765.3 L1881.7,1765.3 L1883.5,1765.3 L1885.3,1765.3 L1887.0,1765.3 L1888.8,1765.3 L1890.6,1765.3 L1892.4,1765.3 L1894.1,1765.3 L1895.9,1765.3 L1897.7,1765.3 L1899.5,1765.3 L1901.2,1765.3 L1903.0,1765.3 L1904.8,1765.3 L1906.6,1765.3 L1908.3,1765.3 L1910.1,1765.3 L1911.9,1765.3 L1913.7,1765.3 L1915.4,1765.3 L1917.2,1765.3 L1919.0,1765.3 L1920.8,1765.3 L1922.5,1765.3 L1924.3,1765.3 L1926.1,1765.3 L1927.9,1765.3 L1929.6,1765.3 L1931.4,1765.3 L1933.2,1765.3 L1935.0,1765.3 L1936.8,1765.3" stroke="#fff" stroke-width="1.10"/></g>
<path d="M1049.0,1765.3 L1049.0,1744.3 L1050.8,1743.9 L1052.6,1743.4 L1054.3,1743.0 L1056.1,1742.5 L1057.9,1742.1 L1059.7,1741.6 L1061.4,1741.2 L1063.2,1740.7 L1065.0,1740.3 L1066.8,1739.8 L1068.5,1739.4 L1070.3,1738.9 L1072.1,1738.4 L1073.9,1738.0 L1075.6,1737.5 L1077.4,1737.0 L1079.2,1736.5 L1081.0,1736.1 L1082.7,1735.6 L1084.5,1735.1 L1086.3,1734.6 L1088.1,1734.1 L1089.8,1733.6 L1091.6,1733.1 L1093.4,1732.7 L1095.2,1732.2 L1096.9,1731.7 L1098.7,1731.2 L1100.5,1730.7 L1102.3,1730.2 L1104.0,1729.7 L1105.8,1729.2 L1107.6,1728.7 L1109.4,1728.2 L1111.1,1727.7 L1112.9,1727.2 L1114.7,1726.7 L1116.5,1726.2 L1118.2,1725.6 L1120.0,1725.1 L1121.8,1724.6 L1123.6,1724.1 L1125.3,1723.6 L1127.1,1723.0 L1128.9,1722.5 L1130.7,1722.0 L1132.4,1721.4 L1134.2,1720.9 L1136.0,1720.3 L1137.8,1719.7 L1139.6,1719.2 L1141.3,1718.6 L1143.1,1718.0 L1144.9,1717.4 L1146.7,1716.9 L1148.4,1716.3 L1150.2,1715.6 L1152.0,1715.0 L1153.8,1714.4 L1155.5,1713.8 L1157.3,1713.1 L1159.1,1712.5 L1160.9,1711.8 L1162.6,1711.2 L1164.4,1710.5 L1166.2,1709.8 L1168.0,1709.2 L1169.7,1708.5 L1171.5,1707.8 L1173.3,1707.1 L1175.1,1706.4 L1176.8,1705.7 L1178.6,1704.9 L1180.4,1704.2 L1182.2,1703.5 L1183.9,1702.8 L1185.7,1702.0 L1187.5,1701.3 L1189.3,1700.5 L1191.0,1699.8 L1192.8,1699.0 L1194.6,1698.2 L1196.4,1697.4 L1198.1,1696.7 L1199.9,1695.9 L1201.7,1695.1 L1203.5,1694.3 L1205.2,1693.5 L1207.0,1692.7 L1208.8,1691.8 L1210.6,1691.0 L1212.3,1690.1 L1214.1,1689.3 L1215.9,1688.4 L1217.7,1687.5 L1219.4,1686.6 L1221.2,1685.7 L1223.0,1684.8 L1224.8,1683.9 L1226.6,1683.0 L1228.3,1682.1 L1230.1,1681.1 L1231.9,1680.2 L1233.7,1679.3 L1235.4,1678.4 L1237.2,1677.4 L1239.0,1676.5 L1240.8,1675.6 L1242.5,1674.6 L1244.3,1673.7 L1246.1,1672.7 L1247.9,1671.8 L1249.6,1670.8 L1251.4,1669.8 L1253.2,1668.8 L1255.0,1667.9 L1256.7,1666.9 L1258.5,1665.9 L1260.3,1664.9 L1262.1,1663.9 L1263.8,1662.9 L1265.6,1661.9 L1267.4,1660.9 L1269.2,1659.9 L1270.9,1658.9 L1272.7,1657.9 L1274.5,1656.9 L1276.3,1655.9 L1278.0,1654.9 L1279.8,1653.9 L1281.6,1652.9 L1283.4,1651.9 L1285.1,1650.9 L1286.9,1649.9 L1288.7,1648.8 L1290.5,1647.8 L1292.2,1646.8 L1294.0,1645.8 L1295.8,1644.7 L1297.6,1643.7 L1299.3,1642.7 L1301.1,1641.6 L1302.9,1640.6 L1304.7,1639.6 L1306.4,1638.6 L1308.2,1637.5 L1310.0,1636.5 L1311.8,1635.5 L1313.5,1634.5 L1315.3,1633.5 L1317.1,1632.4 L1318.9,1631.4 L1320.7,1630.3 L1322.4,1629.3 L1324.2,1628.3 L1326.0,1627.3 L1327.8,1626.2 L1329.5,1625.2 L1331.3,1624.3 L1333.1,1623.3 L1334.9,1622.3 L1336.6,1621.4 L1338.4,1620.5 L1340.2,1619.6 L1342.0,1618.7 L1343.7,1617.8 L1345.5,1616.9 L1347.3,1616.0 L1349.1,1615.1 L1350.8,1614.3 L1352.6,1613.4 L1354.4,1612.6 L1356.2,1611.8 L1357.9,1611.1 L1359.7,1610.3 L1361.5,1609.6 L1363.3,1609.0 L1365.0,1608.3 L1366.8,1607.7 L1368.6,1607.2 L1370.4,1606.6 L1372.1,1606.1 L1373.9,1605.6 L1375.7,1605.1 L1377.5,1604.6 L1379.2,1604.1 L1381.0,1603.6 L1382.8,1603.0 L1384.6,1602.5 L1386.3,1601.9 L1388.1,1601.3 L1389.9,1600.8 L1391.7,1600.2 L1393.4,1599.8 L1395.2,1599.3 L1397.0,1599.0 L1398.8,1598.7 L1400.5,1598.4 L1402.3,1598.1 L1404.1,1597.9 L1405.9,1597.6 L1407.7,1597.4 L1409.4,1597.2 L1411.2,1597.0 L1413.0,1596.9 L1414.8,1596.8 L1416.5,1596.8 L1418.3,1596.8 L1420.1,1596.9 L1421.9,1597.1 L1423.6,1597.3 L1425.4,1597.6 L1427.2,1597.9 L1429.0,1598.2 L1430.7,1598.6 L1432.5,1599.0 L1434.3,1599.4 L1436.1,1599.8 L1437.8,1600.3 L1439.6,1600.7 L1441.4,1601.1 L1443.2,1601.6 L1444.9,1602.2 L1446.7,1602.8 L1448.5,1603.4 L1450.3,1604.1 L1452.0,1604.8 L1453.8,1605.6 L1455.6,1606.3 L1457.4,1607.1 L1459.1,1607.9 L1460.9,1608.7 L1462.7,1609.6 L1464.5,1610.4 L1466.2,1611.2 L1468.0,1612.1 L1469.8,1613.0 L1471.6,1613.9 L1473.3,1614.8 L1475.1,1615.8 L1476.9,1616.8 L1478.7,1617.8 L1480.4,1618.8 L1482.2,1619.9 L1484.0,1620.9 L1485.8,1622.0 L1487.5,1623.1 L1489.3,1624.2 L1491.1,1625.3 L1492.9,1626.4 L1494.7,1627.6 L1496.4,1628.8 L1498.2,1630.0 L1500.0,1631.2 L1501.8,1632.5 L1503.5,1633.8 L1505.3,1635.1 L1507.1,1636.5 L1508.9,1637.9 L1510.6,1639.3 L1512.4,1640.8 L1514.2,1642.2 L1516.0,1643.7 L1517.7,1645.1 L1519.5,1646.5 L1521.3,1648.0 L1523.1,1649.4 L1524.8,1650.7 L1526.6,1652.1 L1528.4,1653.5 L1530.2,1654.9 L1531.9,1656.3 L1533.7,1657.7 L1535.5,1659.2 L1537.3,1660.7 L1539.0,1662.2 L1540.8,1663.8 L1542.6,1665.5 L1544.4,1667.2 L1546.1,1668.9 L1547.9,1670.6 L1549.7,1672.4 L1551.5,1674.1 L1553.2,1675.8 L1555.0,1677.6 L1556.8,1679.3 L1558.6,1681.0 L1560.3,1682.7 L1562.1,1684.4 L1563.9,1686.1 L1565.7,1687.8 L1567.4,1689.5 L1569.2,1691.1 L1571.0,1692.8 L1572.8,1694.4 L1574.5,1696.0 L1576.3,1697.6 L1578.1,1699.2 L1579.9,1700.7 L1581.7,1702.2 L1583.4,1703.8 L1585.2,1705.3 L1587.0,1706.7 L1588.8,1708.2 L1590.5,1709.6 L1592.3,1711.1 L1594.1,1712.5 L1595.9,1713.9 L1597.6,1715.3 L1599.4,1716.6 L1601.2,1718.0 L1603.0,1719.3 L1604.7,1720.6 L1606.5,1721.9 L1608.3,1723.1 L1610.1,1724.3 L1611.8,1725.4 L1613.6,1726.6 L1615.4,1727.7 L1617.2,1728.7 L1618.9,1729.8 L1620.7,1730.8 L1622.5,1731.8 L1624.3,1732.8 L1626.0,1733.8 L1627.8,1734.8 L1629.6,1735.8 L1631.4,1736.7 L1633.1,1737.7 L1634.9,1738.6 L1636.7,1739.5 L1638.5,1740.4 L1640.2,1741.3 L1642.0,1742.2 L1643.8,1743.0 L1645.6,1743.7 L1647.3,1744.5 L1649.1,1745.2 L1650.9,1746.0 L1652.7,1746.7 L1654.4,1747.4 L1656.2,1748.0 L1658.0,1748.7 L1659.8,1749.3 L1661.5,1749.9 L1663.3,1750.4 L1665.1,1751.0 L1666.9,1751.5 L1668.6,1752.0 L1670.4,1752.5 L1672.2,1753.0 L1674.0,1753.5 L1675.8,1754.0 L1677.5,1754.4 L1679.3,1754.8 L1681.1,1755.2 L1682.9,1755.6 L1684.6,1756.0 L1686.4,1756.4 L1688.2,1756.8 L1690.0,1757.2 L1691.7,1757.5 L1693.5,1757.8 L1695.3,1758.2 L1697.1,1758.5 L1698.8,1758.8 L1700.6,1759.0 L1702.4,1759.3 L1704.2,1759.5 L1705.9,1759.8 L1707.7,1760.0 L1709.5,1760.3 L1711.3,1760.5 L1713.0,1760.7 L1714.8,1760.9 L1716.6,1761.0 L1718.4,1761.2 L1720.1,1761.4 L1721.9,1761.5 L1723.7,1761.7 L1725.5,1761.8 L1727.2,1762.0 L1729.0,1762.1 L1730.8,1762.2 L1732.6,1762.3 L1734.3,1762.5 L1736.1,1762.6 L1737.9,1762.7 L1739.7,1762.8 L1741.4,1762.9 L1743.2,1763.0 L1745.0,1763.2 L1746.8,1763.3 L1748.5,1763.4 L1750.3,1763.5 L1752.1,1763.6 L1753.9,1763.7 L1755.6,1763.8 L1757.4,1763.9 L1759.2,1764.0 L1761.0,1764.1 L1762.8,1764.2 L1764.5,1764.3 L1766.3,1764.4 L1768.1,1764.4 L1769.9,1764.5 L1771.6,1764.6 L1773.4,1764.6 L1775.2,1764.6 L1777.0,1764.7 L1778.7,1764.7 L1780.5,1764.8 L1782.3,1764.8 L1784.1,1764.8 L1785.8,1764.9 L1787.6,1764.9 L1789.4,1764.9 L1791.2,1765.0 L1792.9,1765.0 L1794.7,1765.0 L1796.5,1765.0 L1798.3,1765.1 L1800.0,1765.1 L1801.8,1765.1 L1803.6,1765.1 L1805.4,1765.2 L1807.1,1765.2 L1808.9,1765.2 L1810.7,1765.2 L1812.5,1765.2 L1814.2,1765.2 L1816.0,1765.3 L1817.8,1765.3 L1819.6,1765.3 L1821.3,1765.3 L1823.1,1765.3 L1824.9,1765.3 L1826.7,1765.3 L1828.4,1765.3 L1830.2,1765.3 L1832.0,1765.3 L1833.8,1765.3 L1835.5,1765.3 L1837.3,1765.3 L1839.1,1765.3 L1840.9,1765.3 L1842.6,1765.3 L1844.4,1765.3 L1846.2,1765.3 L1848.0,1765.3 L1849.8,1765.3 L1851.5,1765.3 L1853.3,1765.3 L1855.1,1765.3 L1856.9,1765.3 L1858.6,1765.3 L1860.4,1765.3 L1862.2,1765.3 L1864.0,1765.3 L1865.7,1765.3 L1867.5,1765.3 L1869.3,1765.3 L1871.1,1765.3 L1872.8,1765.3 L1874.6,1765.3 L1876.4,1765.3 L1878.2,1765.3 L1879.9,1765.3 L1881.7,1765.3 L1883.5,1765.3 L1885.3,1765.3 L1887.0,1765.3 L1888.8,1765.3 L1890.6,1765.3 L1892.4,1765.3 L1894.1,1765.3 L1895.9,1765.3 L1897.7,1765.3 L1899.5,1765.3 L1901.2,1765.3 L1903.0,1765.3 L1904.8,1765.3 L1906.6,1765.3 L1908.3,1765.3 L1910.1,1765.3 L1911.9,1765.3 L1913.7,1765.3 L1915.4,1765.3 L1917.2,1765.3 L1919.0,1765.3 L1920.8,1765.3 L1922.5,1765.3 L1924.3,1765.3 L1926.1,1765.3 L1927.9,1765.3 L1929.6,1765.3 L1931.4,1765.3 L1933.2,1765.3 L1935.0,1765.3 L1936.8,1765.3 L1936.8,1765.3Z" fill="#8cbec6" fill-opacity="1.00" stroke="none" clip-path="url(#cp21)"/>
<path d="M1049.0,1765.3 L1050.8,1765.3 L1052.6,1765.3 L1054.3,1765.3 L1056.1,1765.3 L1057.9,1765.3 L1059.7,1765.3 L1061.4,1765.3 L1063.2,1765.3 L1065.0,1765.3 L1066.8,1765.3 L1068.5,1765.3 L1070.3,1765.3 L1072.1,1765.3 L1073.9,1765.3 L1075.6,1765.3 L1077.4,1765.3 L1079.2,1765.3 L1081.0,1765.3 L1082.7,1765.3 L1084.5,1765.3 L1086.3,1765.3 L1088.1,1765.3 L1089.8,1765.3 L1091.6,1765.3 L1093.4,1765.3 L1095.2,1765.3 L1096.9,1765.3 L1098.7,1765.3 L1100.5,1765.3 L1102.3,1765.3 L1104.0,1765.3 L1105.8,1765.3 L1107.6,1765.3 L1109.4,1765.3 L1111.1,1765.3 L1112.9,1765.3 L1114.7,1765.3 L1116.5,1765.3 L1118.2,1765.3 L1120.0,1765.3 L1121.8,1765.3 L1123.6,1765.3 L1125.3,1765.3 L1127.1,1765.3 L1128.9,1765.3 L1130.7,1765.3 L1132.4,1765.3 L1134.2,1765.3 L1136.0,1765.3 L1137.8,1765.3 L1139.6,1765.3 L1141.3,1765.3 L1143.1,1765.3 L1144.9,1765.3 L1146.7,1765.3 L1148.4,1765.3 L1150.2,1765.3 L1152.0,1765.3 L1153.8,1765.3 L1155.5,1765.3 L1157.3,1765.3 L1159.1,1765.3 L1160.9,1765.3 L1162.6,1765.3 L1164.4,1765.3 L1166.2,1765.3 L1168.0,1765.3 L1169.7,1765.3 L1171.5,1765.3 L1173.3,1765.3 L1175.1,1765.3 L1176.8,1765.3 L1178.6,1765.3 L1180.4,1765.3 L1182.2,1765.3 L1183.9,1765.3 L1185.7,1765.3 L1187.5,1765.3 L1189.3,1765.3 L1191.0,1765.3 L1192.8,1765.3 L1194.6,1765.3 L1196.4,1765.3 L1198.1,1765.3 L1199.9,1765.3 L1201.7,1765.3 L1203.5,1765.3 L1205.2,1765.3 L1207.0,1765.3 L1208.8,1765.3 L1210.6,1765.3 L1212.3,1765.3 L1214.1,1765.3 L1215.9,1765.3 L1217.7,1765.3 L1219.4,1765.3 L1221.2,1765.3 L1223.0,1765.3 L1224.8,1765.3 L1226.6,1765.3 L1228.3,1765.3 L1230.1,1765.3 L1231.9,1765.3 L1233.7,1765.3 L1235.4,1765.3 L1237.2,1765.3 L1239.0,1765.3 L1240.8,1765.3 L1242.5,1765.3 L1244.3,1765.3 L1246.1,1765.3 L1247.9,1765.3 L1249.6,1765.3 L1251.4,1765.3 L1253.2,1765.3 L1255.0,1765.3 L1256.7,1765.3 L1258.5,1765.3 L1260.3,1765.3 L1262.1,1765.3 L1263.8,1765.3 L1265.6,1765.3 L1267.4,1765.3 L1269.2,1765.3 L1270.9,1765.3 L1272.7,1765.3 L1274.5,1765.3 L1276.3,1765.3 L1278.0,1765.3 L1279.8,1765.3 L1281.6,1765.3 L1283.4,1765.3 L1285.1,1765.3 L1286.9,1765.3 L1288.7,1765.3 L1290.5,1765.3 L1292.2,1765.3 L1294.0,1765.3 L1295.8,1765.3 L1297.6,1765.3 L1299.3,1765.3 L1301.1,1765.3 L1302.9,1765.2 L1304.7,1765.2 L1306.4,1765.2 L1308.2,1765.2 L1310.0,1765.2 L1311.8,1765.2 L1313.5,1765.2 L1315.3,1765.2 L1317.1,1765.2 L1318.9,1765.2 L1320.7,1765.1 L1322.4,1765.1 L1324.2,1765.1 L1326.0,1765.1 L1327.8,1765.1 L1329.5,1765.1 L1331.3,1765.0 L1333.1,1765.0 L1334.9,1765.0 L1336.6,1764.9 L1338.4,1764.9 L1340.2,1764.9 L1342.0,1764.8 L1343.7,1764.8 L1345.5,1764.7 L1347.3,1764.7 L1349.1,1764.6 L1350.8,1764.6 L1352.6,1764.5 L1354.4,1764.4 L1356.2,1764.3 L1357.9,1764.3 L1359.7,1764.2 L1361.5,1764.1 L1363.3,1764.0 L1365.0,1763.8 L1366.8,1763.7 L1368.6,1763.6 L1370.4,1763.4 L1372.1,1763.3 L1373.9,1763.1 L1375.7,1762.9 L1377.5,1762.7 L1379.2,1762.5 L1381.0,1762.3 L1382.8,1762.1 L1384.6,1761.8 L1386.3,1761.5 L1388.1,1761.3 L1389.9,1760.9 L1391.7,1760.6 L1393.4,1760.3 L1395.2,1759.9 L1397.0,1759.5 L1398.8,1759.0 L1400.5,1758.6 L1402.3,1758.1 L1404.1,1757.6 L1405.9,1757.0 L1407.7,1756.5 L1409.4,1755.9 L1411.2,1755.2 L1413.0,1754.5 L1414.8,1753.8 L1416.5,1753.0 L1418.3,1752.2 L1420.1,1751.3 L1421.9,1750.4 L1423.6,1749.5 L1425.4,1748.5 L1427.2,1747.4 L1429.0,1746.3 L1430.7,1745.1 L1432.5,1743.9 L1434.3,1742.6 L1436.1,1741.3 L1437.8,1739.9 L1439.6,1738.4 L1441.4,1736.8 L1443.2,1735.2 L1444.9,1733.5 L1446.7,1731.8 L1448.5,1729.9 L1450.3,1728.0 L1452.0,1726.0 L1453.8,1723.9 L1455.6,1721.8 L1457.4,1719.5 L1459.1,1717.2 L1460.9,1714.8 L1462.7,1712.3 L1464.5,1709.7 L1466.2,1707.0 L1468.0,1704.2 L1469.8,1701.3 L1471.6,1698.4 L1473.3,1695.3 L1475.1,1692.2 L1476.9,1688.9 L1478.7,1685.6 L1480.4,1682.1 L1482.2,1678.6 L1484.0,1675.0 L1485.8,1671.3 L1487.5,1667.5 L1489.3,1663.6 L1491.1,1659.6 L1492.9,1655.5 L1494.7,1651.3 L1496.4,1647.1 L1498.2,1642.8 L1500.0,1638.4 L1501.8,1633.9 L1503.5,1629.3 L1505.3,1624.7 L1507.1,1620.0 L1508.9,1615.3 L1510.6,1610.4 L1512.4,1605.6 L1514.2,1600.7 L1516.0,1595.7 L1517.7,1590.7 L1519.5,1585.7 L1521.3,1580.6 L1523.1,1575.5 L1524.8,1570.4 L1526.6,1565.3 L1528.4,1560.2 L1530.2,1555.0 L1531.9,1549.9 L1533.7,1544.8 L1535.5,1539.7 L1537.3,1534.6 L1539.0,1529.6 L1540.8,1524.6 L1542.6,1519.7 L1544.4,1514.8 L1546.1,1510.0 L1547.9,1505.2 L1549.7,1500.6 L1551.5,1496.0 L1553.2,1491.5 L1555.0,1487.1 L1556.8,1482.8 L1558.6,1478.6 L1560.3,1474.5 L1562.1,1470.6 L1563.9,1466.8 L1565.7,1463.2 L1567.4,1459.6 L1569.2,1456.3 L1571.0,1453.1 L1572.8,1450.0 L1574.5,1447.2 L1576.3,1444.5 L1578.1,1442.0 L1579.9,1439.6 L1581.7,1437.5 L1583.4,1435.5 L1585.2,1433.8 L1587.0,1432.2 L1588.8,1430.9 L1590.5,1429.7 L1592.3,1428.8 L1594.1,1428.0 L1595.9,1427.5 L1597.6,1427.2 L1599.4,1427.1 L1601.2,1427.2 L1603.0,1427.5 L1604.7,1428.0 L1606.5,1428.8 L1608.3,1429.7 L1610.1,1430.9 L1611.8,1432.2 L1613.6,1433.8 L1615.4,1435.5 L1617.2,1437.5 L1618.9,1439.6 L1620.7,1442.0 L1622.5,1444.5 L1624.3,1447.2 L1626.0,1450.0 L1627.8,1453.1 L1629.6,1456.3 L1631.4,1459.6 L1633.1,1463.2 L1634.9,1466.8 L1636.7,1470.6 L1638.5,1474.5 L1640.2,1478.6 L1642.0,1482.8 L1643.8,1487.1 L1645.6,1491.5 L1647.3,1496.0 L1649.1,1500.6 L1650.9,1505.2 L1652.7,1510.0 L1654.4,1514.8 L1656.2,1519.7 L1658.0,1524.6 L1659.8,1529.6 L1661.5,1534.6 L1663.3,1539.7 L1665.1,1544.8 L1666.9,1549.9 L1668.6,1555.0 L1670.4,1560.2 L1672.2,1565.3 L1674.0,1570.4 L1675.8,1575.5 L1677.5,1580.6 L1679.3,1585.7 L1681.1,1590.7 L1682.9,1595.7 L1684.6,1600.7 L1686.4,1605.6 L1688.2,1610.4 L1690.0,1615.3 L1691.7,1620.0 L1693.5,1624.7 L1695.3,1629.3 L1697.1,1633.9 L1698.8,1638.4 L1700.6,1642.8 L1702.4,1647.1 L1704.2,1651.3 L1705.9,1655.5 L1707.7,1659.6 L1709.5,1663.6 L1711.3,1667.5 L1713.0,1671.3 L1714.8,1675.0 L1716.6,1678.6 L1718.4,1682.1 L1720.1,1685.6 L1721.9,1688.9 L1723.7,1692.2 L1725.5,1695.3 L1727.2,1698.4 L1729.0,1701.3 L1730.8,1704.2 L1732.6,1707.0 L1734.3,1709.7 L1736.1,1712.3 L1737.9,1714.8 L1739.7,1717.2 L1741.4,1719.5 L1743.2,1721.8 L1745.0,1723.9 L1746.8,1726.0 L1748.5,1728.0 L1750.3,1729.9 L1752.1,1731.8 L1753.9,1733.5 L1755.6,1735.2 L1757.4,1736.8 L1759.2,1738.4 L1761.0,1739.9 L1762.8,1741.3 L1764.5,1742.6 L1766.3,1743.9 L1768.1,1745.1 L1769.9,1746.3 L1771.6,1747.4 L1773.4,1748.5 L1775.2,1749.5 L1777.0,1750.4 L1778.7,1751.3 L1780.5,1752.2 L1782.3,1753.0 L1784.1,1753.8 L1785.8,1754.5 L1787.6,1755.2 L1789.4,1755.9 L1791.2,1756.5 L1792.9,1757.0 L1794.7,1757.6 L1796.5,1758.1 L1798.3,1758.6 L1800.0,1759.0 L1801.8,1759.5 L1803.6,1759.9 L1805.4,1760.3 L1807.1,1760.6 L1808.9,1760.9 L1810.7,1761.3 L1812.5,1761.5 L1814.2,1761.8 L1816.0,1762.1 L1817.8,1762.3 L1819.6,1762.5 L1821.3,1762.7 L1823.1,1762.9 L1824.9,1763.1 L1826.7,1763.3 L1828.4,1763.4 L1830.2,1763.6 L1832.0,1763.7 L1833.8,1763.8 L1835.5,1764.0 L1837.3,1764.1 L1839.1,1764.2 L1840.9,1764.3 L1842.6,1764.3 L1844.4,1764.4 L1846.2,1764.5 L1848.0,1764.6 L1849.8,1764.6 L1851.5,1764.7 L1853.3,1764.7 L1855.1,1764.8 L1856.9,1764.8 L1858.6,1764.9 L1860.4,1764.9 L1862.2,1764.9 L1864.0,1765.0 L1865.7,1765.0 L1867.5,1765.0 L1869.3,1765.1 L1871.1,1765.1 L1872.8,1765.1 L1874.6,1765.1 L1876.4,1765.1 L1878.2,1765.1 L1879.9,1765.2 L1881.7,1765.2 L1883.5,1765.2 L1885.3,1765.2 L1887.0,1765.2 L1888.8,1765.2 L1890.6,1765.2 L1892.4,1765.2 L1894.1,1765.2 L1895.9,1765.2 L1897.7,1765.3 L1899.5,1765.3 L1901.2,1765.3 L1903.0,1765.3 L1904.8,1765.3 L1906.6,1765.3 L1908.3,1765.3 L1910.1,1765.3 L1911.9,1765.3 L1913.7,1765.3 L1915.4,1765.3 L1917.2,1765.3 L1919.0,1765.3 L1920.8,1765.3 L1922.5,1765.3 L1924.3,1765.3 L1926.1,1765.3 L1927.9,1765.3 L1929.6,1765.3 L1931.4,1765.3 L1933.2,1765.3 L1935.0,1765.3 L1936.8,1765.3" fill="none" stroke="#e08582" stroke-width="1.40" clip-path="url(#cp21)"/>
<g clip-path="url(#cp21)"><path d="M1049.0,1670.9 L1050.8,1669.7 L1052.6,1668.4 L1054.3,1667.2 L1056.1,1666.0 L1057.9,1664.8 L1059.7,1663.5 L1061.4,1662.3 L1063.2,1661.1 L1065.0,1659.8 L1066.8,1658.6 L1068.5,1657.4 L1070.3,1656.1 L1072.1,1654.9 L1073.9,1653.7 L1075.6,1652.4 L1077.4,1651.2 L1079.2,1650.0 L1081.0,1648.7 L1082.7,1647.5 L1084.5,1646.3 L1086.3,1645.1 L1088.1,1643.9 L1089.8,1642.7 L1091.6,1641.5 L1093.4,1640.2 L1095.2,1639.0 L1096.9,1637.8 L1098.7,1636.6 L1100.5,1635.3 L1102.3,1634.1 L1104.0,1632.8 L1105.8,1631.6 L1107.6,1630.3 L1109.4,1629.0 L1111.1,1627.7 L1112.9,1626.4 L1114.7,1625.0 L1116.5,1623.7 L1118.2,1622.3 L1120.0,1620.8 L1121.8,1619.4 L1123.6,1617.9 L1125.3,1616.5 L1127.1,1615.0 L1128.9,1613.6 L1130.7,1612.1 L1132.4,1610.7 L1134.2,1609.2 L1136.0,1607.8 L1137.8,1606.3 L1139.6,1604.8 L1141.3,1603.4 L1143.1,1602.0 L1144.9,1600.6 L1146.7,1599.2 L1148.4,1597.9 L1150.2,1596.6 L1152.0,1595.4 L1153.8,1594.1 L1155.5,1593.0 L1157.3,1591.8 L1159.1,1590.7 L1160.9,1589.6 L1162.6,1588.5 L1164.4,1587.4 L1166.2,1586.3 L1168.0,1585.2 L1169.7,1584.2 L1171.5,1583.1 L1173.3,1582.0 L1175.1,1581.0 L1176.8,1580.0 L1178.6,1579.0 L1180.4,1578.0 L1182.2,1577.1 L1183.9,1576.3 L1185.7,1575.5 L1187.5,1574.7 L1189.3,1574.0 L1191.0,1573.3 L1192.8,1572.6 L1194.6,1571.9 L1196.4,1571.3 L1198.1,1570.7 L1199.9,1570.2 L1201.7,1569.8 L1203.5,1569.4 L1205.2,1569.1 L1207.0,1568.8 L1208.8,1568.5 L1210.6,1568.2 L1212.3,1568.0 L1214.1,1567.7 L1215.9,1567.6 L1217.7,1567.4 L1219.4,1567.3 L1221.2,1567.3 L1223.0,1567.4 L1224.8,1567.4 L1226.6,1567.5 L1228.3,1567.7 L1230.1,1567.8 L1231.9,1568.0 L1233.7,1568.2 L1235.4,1568.5 L1237.2,1568.7 L1239.0,1569.0 L1240.8,1569.3 L1242.5,1569.7 L1244.3,1570.1 L1246.1,1570.7 L1247.9,1571.3 L1249.6,1571.9 L1251.4,1572.6 L1253.2,1573.3 L1255.0,1574.1 L1256.7,1574.9 L1258.5,1575.8 L1260.3,1576.7 L1262.1,1577.8 L1263.8,1579.0 L1265.6,1580.3 L1267.4,1581.6 L1269.2,1583.0 L1270.9,1584.4 L1272.7,1585.8 L1274.5,1587.3 L1276.3,1588.9 L1278.0,1590.5 L1279.8,1592.2 L1281.6,1594.0 L1283.4,1595.9 L1285.1,1597.8 L1286.9,1599.8 L1288.7,1601.8 L1290.5,1603.8 L1292.2,1605.9 L1294.0,1608.0 L1295.8,1610.1 L1297.6,1612.2 L1299.3,1614.4 L1301.1,1616.7 L1302.9,1619.0 L1304.7,1621.4 L1306.4,1623.9 L1308.2,1626.4 L1310.0,1629.0 L1311.8,1631.8 L1313.5,1634.7 L1315.3,1637.7 L1317.1,1640.9 L1318.9,1644.1 L1320.7,1647.4 L1322.4,1650.8 L1324.2,1654.1 L1326.0,1657.5 L1327.8,1660.8 L1329.5,1664.1 L1331.3,1667.4 L1333.1,1670.8 L1334.9,1674.3 L1336.6,1677.7 L1338.4,1681.2 L1340.2,1684.6 L1342.0,1688.0 L1343.7,1691.4 L1345.5,1694.7 L1347.3,1698.0 L1349.1,1701.3 L1350.8,1704.6 L1352.6,1707.9 L1354.4,1711.2 L1356.2,1714.4 L1357.9,1717.6 L1359.7,1720.7 L1361.5,1723.7 L1363.3,1726.6 L1365.0,1729.4 L1366.8,1732.2 L1368.6,1734.9 L1370.4,1737.5 L1372.1,1740.0 L1373.9,1742.4 L1375.7,1744.7 L1377.5,1746.9 L1379.2,1749.2 L1381.0,1751.4 L1382.8,1753.6 L1384.6,1755.6 L1386.3,1757.4 L1388.1,1759.0 L1389.9,1760.2 L1391.7,1761.0 L1393.4,1761.8 L1395.2,1762.6 L1397.0,1763.3 L1398.8,1763.9 L1400.5,1764.4 L1402.3,1764.8 L1404.1,1765.1 L1405.9,1765.3 L1407.7,1765.3 L1409.4,1765.3 L1411.2,1765.3 L1413.0,1765.3 L1414.8,1765.3 L1416.5,1765.3 L1418.3,1765.3 L1420.1,1765.3 L1421.9,1765.3 L1423.6,1765.3 L1425.4,1765.3 L1427.2,1765.3 L1429.0,1765.3 L1430.7,1765.3 L1432.5,1765.3 L1434.3,1765.3 L1436.1,1765.3 L1437.8,1765.3 L1439.6,1765.3 L1441.4,1765.3 L1443.2,1765.3 L1444.9,1765.3 L1446.7,1765.3 L1448.5,1765.3 L1450.3,1765.3 L1452.0,1765.3 L1453.8,1765.3 L1455.6,1765.3 L1457.4,1765.3 L1459.1,1765.3 L1460.9,1765.3 L1462.7,1765.3 L1464.5,1765.3 L1466.2,1765.3 L1468.0,1765.3 L1469.8,1765.3 L1471.6,1765.3 L1473.3,1765.3 L1475.1,1765.3 L1476.9,1765.3 L1478.7,1765.3 L1480.4,1765.3 L1482.2,1765.3 L1484.0,1765.3 L1485.8,1765.3 L1487.5,1765.3 L1489.3,1765.3 L1491.1,1765.3 L1492.9,1765.3 L1494.7,1765.3 L1496.4,1765.3 L1498.2,1765.3 L1500.0,1765.3 L1501.8,1765.3 L1503.5,1765.3 L1505.3,1765.3 L1507.1,1765.3 L1508.9,1765.3 L1510.6,1765.3 L1512.4,1765.3 L1514.2,1765.3 L1516.0,1765.3 L1517.7,1765.3 L1519.5,1765.3 L1521.3,1765.3 L1523.1,1765.3 L1524.8,1765.3 L1526.6,1765.3 L1528.4,1765.3 L1530.2,1765.3 L1531.9,1765.3 L1533.7,1765.3 L1535.5,1765.3 L1537.3,1765.3 L1539.0,1765.3 L1540.8,1765.3 L1542.6,1765.3 L1544.4,1765.3 L1546.1,1765.3 L1547.9,1765.3 L1549.7,1765.3 L1551.5,1765.3 L1553.2,1765.3 L1555.0,1765.3 L1556.8,1765.3 L1558.6,1765.3 L1560.3,1765.3 L1562.1,1765.3 L1563.9,1765.3 L1565.7,1765.3 L1567.4,1765.3 L1569.2,1765.3 L1571.0,1765.3 L1572.8,1765.3 L1574.5,1765.3 L1576.3,1765.3 L1578.1,1765.3 L1579.9,1765.3 L1581.7,1765.3 L1583.4,1765.3 L1585.2,1765.3 L1587.0,1765.3 L1588.8,1765.3 L1590.5,1765.3 L1592.3,1765.3 L1594.1,1765.3 L1595.9,1765.3 L1597.6,1765.3 L1599.4,1765.3 L1601.2,1765.3 L1603.0,1765.3 L1604.7,1765.3 L1606.5,1765.3 L1608.3,1765.3 L1610.1,1765.3 L1611.8,1765.3 L1613.6,1765.3 L1615.4,1765.3 L1617.2,1765.3 L1618.9,1765.3 L1620.7,1765.3 L1622.5,1765.3 L1624.3,1765.3 L1626.0,1765.3 L1627.8,1765.3 L1629.6,1765.3 L1631.4,1765.3 L1633.1,1765.3 L1634.9,1765.3 L1636.7,1765.3 L1638.5,1765.3 L1640.2,1765.3 L1642.0,1765.3 L1643.8,1765.3 L1645.6,1765.3 L1647.3,1765.3 L1649.1,1765.3 L1650.9,1765.3 L1652.7,1765.3 L1654.4,1765.3 L1656.2,1765.3 L1658.0,1765.3 L1659.8,1765.3 L1661.5,1765.3 L1663.3,1765.3 L1665.1,1765.3 L1666.9,1765.3 L1668.6,1765.3 L1670.4,1765.3 L1672.2,1765.3 L1674.0,1765.3 L1675.8,1765.3 L1677.5,1765.3 L1679.3,1765.3 L1681.1,1765.3 L1682.9,1765.3 L1684.6,1765.3 L1686.4,1765.3 L1688.2,1765.3 L1690.0,1765.3 L1691.7,1765.3 L1693.5,1765.3 L1695.3,1765.3 L1697.1,1765.3 L1698.8,1765.3 L1700.6,1765.3 L1702.4,1765.3 L1704.2,1765.3 L1705.9,1765.3 L1707.7,1765.3 L1709.5,1765.3 L1711.3,1765.3 L1713.0,1765.3 L1714.8,1765.3 L1716.6,1765.3 L1718.4,1765.3 L1720.1,1765.3 L1721.9,1765.3 L1723.7,1765.3 L1725.5,1765.3 L1727.2,1765.3 L1729.0,1765.3 L1730.8,1765.3 L1732.6,1765.3 L1734.3,1765.3 L1736.1,1765.3 L1737.9,1765.3 L1739.7,1765.3 L1741.4,1765.3 L1743.2,1765.3 L1745.0,1765.3 L1746.8,1765.3 L1748.5,1765.3 L1750.3,1765.3 L1752.1,1765.3 L1753.9,1765.3 L1755.6,1765.3 L1757.4,1765.3 L1759.2,1765.3 L1761.0,1765.3 L1762.8,1765.3 L1764.5,1765.3 L1766.3,1765.3 L1768.1,1765.3 L1769.9,1765.3 L1771.6,1765.3 L1773.4,1765.3 L1775.2,1765.3 L1777.0,1765.3 L1778.7,1765.3 L1780.5,1765.3 L1782.3,1765.3 L1784.1,1765.3 L1785.8,1765.3 L1787.6,1765.3 L1789.4,1765.3 L1791.2,1765.3 L1792.9,1765.3 L1794.7,1765.3 L1796.5,1765.3 L1798.3,1765.3 L1800.0,1765.3 L1801.8,1765.3 L1803.6,1765.3 L1805.4,1765.3 L1807.1,1765.3 L1808.9,1765.3 L1810.7,1765.3 L1812.5,1765.3 L1814.2,1765.3 L1816.0,1765.3 L1817.8,1765.3 L1819.6,1765.3 L1821.3,1765.3 L1823.1,1765.3 L1824.9,1765.3 L1826.7,1765.3 L1828.4,1765.3 L1830.2,1765.3 L1832.0,1765.3 L1833.8,1765.3 L1835.5,1765.3 L1837.3,1765.3 L1839.1,1765.3 L1840.9,1765.3 L1842.6,1765.3 L1844.4,1765.3 L1846.2,1765.3 L1848.0,1765.3 L1849.8,1765.3 L1851.5,1765.3 L1853.3,1765.3 L1855.1,1765.3 L1856.9,1765.3 L1858.6,1765.3 L1860.4,1765.3 L1862.2,1765.3 L1864.0,1765.3 L1865.7,1765.3 L1867.5,1765.3 L1869.3,1765.3 L1871.1,1765.3 L1872.8,1765.3 L1874.6,1765.3 L1876.4,1765.3 L1878.2,1765.3 L1879.9,1765.3 L1881.7,1765.3 L1883.5,1765.3 L1885.3,1765.3 L1887.0,1765.3 L1888.8,1765.3 L1890.6,1765.3 L1892.4,1765.3 L1894.1,1765.3 L1895.9,1765.3 L1897.7,1765.3 L1899.5,1765.3 L1901.2,1765.3 L1903.0,1765.3 L1904.8,1765.3 L1906.6,1765.3 L1908.3,1765.3 L1910.1,1765.3 L1911.9,1765.3 L1913.7,1765.3 L1915.4,1765.3 L1917.2,1765.3 L1919.0,1765.3 L1920.8,1765.3 L1922.5,1765.3 L1924.3,1765.3 L1926.1,1765.3 L1927.9,1765.3 L1929.6,1765.3 L1931.4,1765.3 L1933.2,1765.3 L1935.0,1765.3 L1936.8,1765.3" fill="none" stroke="#ea8f89" stroke-width="1.20" clip-path="url(#tff)"/></g>
<g clip-path="url(#cp21)" fill="none"><path d="M1049.0,1744.3 L1050.8,1743.9 L1052.6,1743.4 L1054.3,1743.0 L1056.1,1742.5 L1057.9,1742.1 L1059.7,1741.6 L1061.4,1741.2 L1063.2,1740.7 L1065.0,1740.3 L1066.8,1739.8 L1068.5,1739.4 L1070.3,1738.9 L1072.1,1738.4 L1073.9,1738.0 L1075.6,1737.5 L1077.4,1737.0 L1079.2,1736.5 L1081.0,1736.1 L1082.7,1735.6 L1084.5,1735.1 L1086.3,1734.6 L1088.1,1734.1 L1089.8,1733.6 L1091.6,1733.1 L1093.4,1732.7 L1095.2,1732.2 L1096.9,1731.7 L1098.7,1731.2 L1100.5,1730.7 L1102.3,1730.2 L1104.0,1729.7 L1105.8,1729.2 L1107.6,1728.7 L1109.4,1728.2 L1111.1,1727.7 L1112.9,1727.2 L1114.7,1726.7 L1116.5,1726.2 L1118.2,1725.6 L1120.0,1725.1 L1121.8,1724.6 L1123.6,1724.1 L1125.3,1723.6 L1127.1,1723.0 L1128.9,1722.5 L1130.7,1722.0 L1132.4,1721.4 L1134.2,1720.9 L1136.0,1720.3 L1137.8,1719.7 L1139.6,1719.2 L1141.3,1718.6 L1143.1,1718.0 L1144.9,1717.4 L1146.7,1716.9 L1148.4,1716.3 L1150.2,1715.6 L1152.0,1715.0 L1153.8,1714.4 L1155.5,1713.8 L1157.3,1713.1 L1159.1,1712.5 L1160.9,1711.8 L1162.6,1711.2 L1164.4,1710.5 L1166.2,1709.8 L1168.0,1709.2 L1169.7,1708.5 L1171.5,1707.8 L1173.3,1707.1 L1175.1,1706.4 L1176.8,1705.7 L1178.6,1704.9 L1180.4,1704.2 L1182.2,1703.5 L1183.9,1702.8 L1185.7,1702.0 L1187.5,1701.3 L1189.3,1700.5 L1191.0,1699.8 L1192.8,1699.0 L1194.6,1698.2 L1196.4,1697.4 L1198.1,1696.7 L1199.9,1695.9 L1201.7,1695.1 L1203.5,1694.3 L1205.2,1693.5 L1207.0,1692.7 L1208.8,1691.8 L1210.6,1691.0 L1212.3,1690.1 L1214.1,1689.3 L1215.9,1688.4 L1217.7,1687.5 L1219.4,1686.6 L1221.2,1685.7 L1223.0,1684.8 L1224.8,1683.9 L1226.6,1683.0 L1228.3,1682.1 L1230.1,1681.1 L1231.9,1680.2 L1233.7,1679.3 L1235.4,1678.4 L1237.2,1677.4 L1239.0,1676.5 L1240.8,1675.6 L1242.5,1674.6 L1244.3,1673.7 L1246.1,1672.7 L1247.9,1671.8 L1249.6,1670.8 L1251.4,1669.8 L1253.2,1668.8 L1255.0,1667.9 L1256.7,1666.9 L1258.5,1665.9 L1260.3,1664.9 L1262.1,1663.9 L1263.8,1662.9 L1265.6,1661.9 L1267.4,1660.9 L1269.2,1659.9 L1270.9,1658.9 L1272.7,1657.9 L1274.5,1656.9 L1276.3,1655.9 L1278.0,1654.9 L1279.8,1653.9 L1281.6,1652.9 L1283.4,1651.9 L1285.1,1650.9 L1286.9,1649.9 L1288.7,1648.8 L1290.5,1647.8 L1292.2,1646.8 L1294.0,1645.8 L1295.8,1644.7 L1297.6,1643.7 L1299.3,1642.7 L1301.1,1641.6 L1302.9,1640.6 L1304.7,1639.6 L1306.4,1638.6 L1308.2,1637.5 L1310.0,1636.5 L1311.8,1635.5 L1313.5,1634.5 L1315.3,1633.5 L1317.1,1632.4 L1318.9,1631.4 L1320.7,1630.3 L1322.4,1629.3 L1324.2,1628.3 L1326.0,1627.3 L1327.8,1626.2 L1329.5,1625.2 L1331.3,1624.3 L1333.1,1623.3 L1334.9,1622.3 L1336.6,1621.4 L1338.4,1620.5 L1340.2,1619.6 L1342.0,1618.7 L1343.7,1617.8 L1345.5,1616.9 L1347.3,1616.0 L1349.1,1615.1 L1350.8,1614.3 L1352.6,1613.4 L1354.4,1612.6 L1356.2,1611.8 L1357.9,1611.1 L1359.7,1610.3 L1361.5,1609.6 L1363.3,1609.0 L1365.0,1608.3 L1366.8,1607.7 L1368.6,1607.2 L1370.4,1606.6 L1372.1,1606.1 L1373.9,1605.6 L1375.7,1605.1 L1377.5,1604.6 L1379.2,1604.1 L1381.0,1603.6 L1382.8,1603.0 L1384.6,1602.5 L1386.3,1601.9 L1388.1,1601.3 L1389.9,1600.8 L1391.7,1600.2 L1393.4,1599.8 L1395.2,1599.3 L1397.0,1599.0 L1398.8,1598.7 L1400.5,1598.4 L1402.3,1598.1 L1404.1,1597.9 L1405.9,1597.6 L1407.7,1597.4 L1409.4,1597.2 L1411.2,1597.0 L1413.0,1596.9 L1414.8,1596.8 L1416.5,1596.8 L1418.3,1596.8 L1420.1,1596.9 L1421.9,1597.1 L1423.6,1597.3 L1425.4,1597.6 L1427.2,1597.9 L1429.0,1598.2 L1430.7,1598.6 L1432.5,1599.0 L1434.3,1599.4 L1436.1,1599.8 L1437.8,1600.3 L1439.6,1600.7 L1441.4,1601.1 L1443.2,1601.6 L1444.9,1602.2 L1446.7,1602.8 L1448.5,1603.4 L1450.3,1604.1 L1452.0,1604.8 L1453.8,1605.6 L1455.6,1606.3 L1457.4,1607.1 L1459.1,1607.9 L1460.9,1608.7 L1462.7,1609.6 L1464.5,1610.4 L1466.2,1611.2 L1468.0,1612.1 L1469.8,1613.0 L1471.6,1613.9 L1473.3,1614.8 L1475.1,1615.8 L1476.9,1616.8 L1478.7,1617.8 L1480.4,1618.8 L1482.2,1619.9 L1484.0,1620.9 L1485.8,1622.0 L1487.5,1623.1 L1489.3,1624.2 L1491.1,1625.3 L1492.9,1626.4 L1494.7,1627.6 L1496.4,1628.8 L1498.2,1630.0 L1500.0,1631.2 L1501.8,1632.5 L1503.5,1633.8 L1505.3,1635.1 L1507.1,1636.5 L1508.9,1637.9 L1510.6,1639.3 L1512.4,1640.8 L1514.2,1642.2 L1516.0,1643.7 L1517.7,1645.1 L1519.5,1646.5 L1521.3,1648.0 L1523.1,1649.4 L1524.8,1650.7 L1526.6,1652.1 L1528.4,1653.5 L1530.2,1654.9 L1531.9,1656.3 L1533.7,1657.7 L1535.5,1659.2 L1537.3,1660.7 L1539.0,1662.2 L1540.8,1663.8 L1542.6,1665.5 L1544.4,1667.2 L1546.1,1668.9 L1547.9,1670.6 L1549.7,1672.4 L1551.5,1674.1 L1553.2,1675.8 L1555.0,1677.6 L1556.8,1679.3 L1558.6,1681.0 L1560.3,1682.7 L1562.1,1684.4 L1563.9,1686.1 L1565.7,1687.8 L1567.4,1689.5 L1569.2,1691.1 L1571.0,1692.8 L1572.8,1694.4 L1574.5,1696.0 L1576.3,1697.6 L1578.1,1699.2 L1579.9,1700.7 L1581.7,1702.2 L1583.4,1703.8 L1585.2,1705.3 L1587.0,1706.7 L1588.8,1708.2 L1590.5,1709.6 L1592.3,1711.1 L1594.1,1712.5 L1595.9,1713.9 L1597.6,1715.3 L1599.4,1716.6 L1601.2,1718.0 L1603.0,1719.3 L1604.7,1720.6 L1606.5,1721.9 L1608.3,1723.1 L1610.1,1724.3 L1611.8,1725.4 L1613.6,1726.6 L1615.4,1727.7 L1617.2,1728.7 L1618.9,1729.8 L1620.7,1730.8 L1622.5,1731.8 L1624.3,1732.8 L1626.0,1733.8 L1627.8,1734.8 L1629.6,1735.8 L1631.4,1736.7 L1633.1,1737.7 L1634.9,1738.6 L1636.7,1739.5 L1638.5,1740.4 L1640.2,1741.3 L1642.0,1742.2 L1643.8,1743.0 L1645.6,1743.7 L1647.3,1744.5 L1649.1,1745.2 L1650.9,1746.0 L1652.7,1746.7 L1654.4,1747.4 L1656.2,1748.0 L1658.0,1748.7 L1659.8,1749.3 L1661.5,1749.9 L1663.3,1750.4 L1665.1,1751.0 L1666.9,1751.5 L1668.6,1752.0 L1670.4,1752.5 L1672.2,1753.0 L1674.0,1753.5 L1675.8,1754.0 L1677.5,1754.4 L1679.3,1754.8 L1681.1,1755.2 L1682.9,1755.6 L1684.6,1756.0 L1686.4,1756.4 L1688.2,1756.8 L1690.0,1757.2 L1691.7,1757.5 L1693.5,1757.8 L1695.3,1758.2 L1697.1,1758.5 L1698.8,1758.8 L1700.6,1759.0 L1702.4,1759.3 L1704.2,1759.5 L1705.9,1759.8 L1707.7,1760.0 L1709.5,1760.3 L1711.3,1760.5 L1713.0,1760.7 L1714.8,1760.9 L1716.6,1761.0 L1718.4,1761.2 L1720.1,1761.4 L1721.9,1761.5 L1723.7,1761.7 L1725.5,1761.8 L1727.2,1762.0 L1729.0,1762.1 L1730.8,1762.2 L1732.6,1762.3 L1734.3,1762.5 L1736.1,1762.6 L1737.9,1762.7 L1739.7,1762.8 L1741.4,1762.9 L1743.2,1763.0 L1745.0,1763.2 L1746.8,1763.3 L1748.5,1763.4 L1750.3,1763.5 L1752.1,1763.6 L1753.9,1763.7 L1755.6,1763.8 L1757.4,1763.9 L1759.2,1764.0 L1761.0,1764.1 L1762.8,1764.2 L1764.5,1764.3 L1766.3,1764.4 L1768.1,1764.4 L1769.9,1764.5 L1771.6,1764.6 L1773.4,1764.6 L1775.2,1764.6 L1777.0,1764.7 L1778.7,1764.7 L1780.5,1764.8 L1782.3,1764.8 L1784.1,1764.8 L1785.8,1764.9 L1787.6,1764.9 L1789.4,1764.9 L1791.2,1765.0 L1792.9,1765.0 L1794.7,1765.0 L1796.5,1765.0 L1798.3,1765.1 L1800.0,1765.1 L1801.8,1765.1 L1803.6,1765.1 L1805.4,1765.2 L1807.1,1765.2 L1808.9,1765.2 L1810.7,1765.2 L1812.5,1765.2 L1814.2,1765.2 L1816.0,1765.3 L1817.8,1765.3 L1819.6,1765.3 L1821.3,1765.3 L1823.1,1765.3 L1824.9,1765.3 L1826.7,1765.3 L1828.4,1765.3 L1830.2,1765.3 L1832.0,1765.3 L1833.8,1765.3 L1835.5,1765.3 L1837.3,1765.3 L1839.1,1765.3 L1840.9,1765.3 L1842.6,1765.3 L1844.4,1765.3 L1846.2,1765.3 L1848.0,1765.3 L1849.8,1765.3 L1851.5,1765.3 L1853.3,1765.3 L1855.1,1765.3 L1856.9,1765.3 L1858.6,1765.3 L1860.4,1765.3 L1862.2,1765.3 L1864.0,1765.3 L1865.7,1765.3 L1867.5,1765.3 L1869.3,1765.3 L1871.1,1765.3 L1872.8,1765.3 L1874.6,1765.3 L1876.4,1765.3 L1878.2,1765.3 L1879.9,1765.3 L1881.7,1765.3 L1883.5,1765.3 L1885.3,1765.3 L1887.0,1765.3 L1888.8,1765.3 L1890.6,1765.3 L1892.4,1765.3 L1894.1,1765.3 L1895.9,1765.3 L1897.7,1765.3 L1899.5,1765.3 L1901.2,1765.3 L1903.0,1765.3 L1904.8,1765.3 L1906.6,1765.3 L1908.3,1765.3 L1910.1,1765.3 L1911.9,1765.3 L1913.7,1765.3 L1915.4,1765.3 L1917.2,1765.3 L1919.0,1765.3 L1920.8,1765.3 L1922.5,1765.3 L1924.3,1765.3 L1926.1,1765.3 L1927.9,1765.3 L1929.6,1765.3 L1931.4,1765.3 L1933.2,1765.3 L1935.0,1765.3 L1936.8,1765.3" stroke="#7fbac5" stroke-width="2.70"/><path d="M1049.0,1744.3 L1050.8,1743.9 L1052.6,1743.4 L1054.3,1743.0 L1056.1,1742.5 L1057.9,1742.1 L1059.7,1741.6 L1061.4,1741.2 L1063.2,1740.7 L1065.0,1740.3 L1066.8,1739.8 L1068.5,1739.4 L1070.3,1738.9 L1072.1,1738.4 L1073.9,1738.0 L1075.6,1737.5 L1077.4,1737.0 L1079.2,1736.5 L1081.0,1736.1 L1082.7,1735.6 L1084.5,1735.1 L1086.3,1734.6 L1088.1,1734.1 L1089.8,1733.6 L1091.6,1733.1 L1093.4,1732.7 L1095.2,1732.2 L1096.9,1731.7 L1098.7,1731.2 L1100.5,1730.7 L1102.3,1730.2 L1104.0,1729.7 L1105.8,1729.2 L1107.6,1728.7 L1109.4,1728.2 L1111.1,1727.7 L1112.9,1727.2 L1114.7,1726.7 L1116.5,1726.2 L1118.2,1725.6 L1120.0,1725.1 L1121.8,1724.6 L1123.6,1724.1 L1125.3,1723.6 L1127.1,1723.0 L1128.9,1722.5 L1130.7,1722.0 L1132.4,1721.4 L1134.2,1720.9 L1136.0,1720.3 L1137.8,1719.7 L1139.6,1719.2 L1141.3,1718.6 L1143.1,1718.0 L1144.9,1717.4 L1146.7,1716.9 L1148.4,1716.3 L1150.2,1715.6 L1152.0,1715.0 L1153.8,1714.4 L1155.5,1713.8 L1157.3,1713.1 L1159.1,1712.5 L1160.9,1711.8 L1162.6,1711.2 L1164.4,1710.5 L1166.2,1709.8 L1168.0,1709.2 L1169.7,1708.5 L1171.5,1707.8 L1173.3,1707.1 L1175.1,1706.4 L1176.8,1705.7 L1178.6,1704.9 L1180.4,1704.2 L1182.2,1703.5 L1183.9,1702.8 L1185.7,1702.0 L1187.5,1701.3 L1189.3,1700.5 L1191.0,1699.8 L1192.8,1699.0 L1194.6,1698.2 L1196.4,1697.4 L1198.1,1696.7 L1199.9,1695.9 L1201.7,1695.1 L1203.5,1694.3 L1205.2,1693.5 L1207.0,1692.7 L1208.8,1691.8 L1210.6,1691.0 L1212.3,1690.1 L1214.1,1689.3 L1215.9,1688.4 L1217.7,1687.5 L1219.4,1686.6 L1221.2,1685.7 L1223.0,1684.8 L1224.8,1683.9 L1226.6,1683.0 L1228.3,1682.1 L1230.1,1681.1 L1231.9,1680.2 L1233.7,1679.3 L1235.4,1678.4 L1237.2,1677.4 L1239.0,1676.5 L1240.8,1675.6 L1242.5,1674.6 L1244.3,1673.7 L1246.1,1672.7 L1247.9,1671.8 L1249.6,1670.8 L1251.4,1669.8 L1253.2,1668.8 L1255.0,1667.9 L1256.7,1666.9 L1258.5,1665.9 L1260.3,1664.9 L1262.1,1663.9 L1263.8,1662.9 L1265.6,1661.9 L1267.4,1660.9 L1269.2,1659.9 L1270.9,1658.9 L1272.7,1657.9 L1274.5,1656.9 L1276.3,1655.9 L1278.0,1654.9 L1279.8,1653.9 L1281.6,1652.9 L1283.4,1651.9 L1285.1,1650.9 L1286.9,1649.9 L1288.7,1648.8 L1290.5,1647.8 L1292.2,1646.8 L1294.0,1645.8 L1295.8,1644.7 L1297.6,1643.7 L1299.3,1642.7 L1301.1,1641.6 L1302.9,1640.6 L1304.7,1639.6 L1306.4,1638.6 L1308.2,1637.5 L1310.0,1636.5 L1311.8,1635.5 L1313.5,1634.5 L1315.3,1633.5 L1317.1,1632.4 L1318.9,1631.4 L1320.7,1630.3 L1322.4,1629.3 L1324.2,1628.3 L1326.0,1627.3 L1327.8,1626.2 L1329.5,1625.2 L1331.3,1624.3 L1333.1,1623.3 L1334.9,1622.3 L1336.6,1621.4 L1338.4,1620.5 L1340.2,1619.6 L1342.0,1618.7 L1343.7,1617.8 L1345.5,1616.9 L1347.3,1616.0 L1349.1,1615.1 L1350.8,1614.3 L1352.6,1613.4 L1354.4,1612.6 L1356.2,1611.8 L1357.9,1611.1 L1359.7,1610.3 L1361.5,1609.6 L1363.3,1609.0 L1365.0,1608.3 L1366.8,1607.7 L1368.6,1607.2 L1370.4,1606.6 L1372.1,1606.1 L1373.9,1605.6 L1375.7,1605.1 L1377.5,1604.6 L1379.2,1604.1 L1381.0,1603.6 L1382.8,1603.0 L1384.6,1602.5 L1386.3,1601.9 L1388.1,1601.3 L1389.9,1600.8 L1391.7,1600.2 L1393.4,1599.8 L1395.2,1599.3 L1397.0,1599.0 L1398.8,1598.7 L1400.5,1598.4 L1402.3,1598.1 L1404.1,1597.9 L1405.9,1597.6 L1407.7,1597.4 L1409.4,1597.2 L1411.2,1597.0 L1413.0,1596.9 L1414.8,1596.8 L1416.5,1596.8 L1418.3,1596.8 L1420.1,1596.9 L1421.9,1597.1 L1423.6,1597.3 L1425.4,1597.6 L1427.2,1597.9 L1429.0,1598.2 L1430.7,1598.6 L1432.5,1599.0 L1434.3,1599.4 L1436.1,1599.8 L1437.8,1600.3 L1439.6,1600.7 L1441.4,1601.1 L1443.2,1601.6 L1444.9,1602.2 L1446.7,1602.8 L1448.5,1603.4 L1450.3,1604.1 L1452.0,1604.8 L1453.8,1605.6 L1455.6,1606.3 L1457.4,1607.1 L1459.1,1607.9 L1460.9,1608.7 L1462.7,1609.6 L1464.5,1610.4 L1466.2,1611.2 L1468.0,1612.1 L1469.8,1613.0 L1471.6,1613.9 L1473.3,1614.8 L1475.1,1615.8 L1476.9,1616.8 L1478.7,1617.8 L1480.4,1618.8 L1482.2,1619.9 L1484.0,1620.9 L1485.8,1622.0 L1487.5,1623.1 L1489.3,1624.2 L1491.1,1625.3 L1492.9,1626.4 L1494.7,1627.6 L1496.4,1628.8 L1498.2,1630.0 L1500.0,1631.2 L1501.8,1632.5 L1503.5,1633.8 L1505.3,1635.1 L1507.1,1636.5 L1508.9,1637.9 L1510.6,1639.3 L1512.4,1640.8 L1514.2,1642.2 L1516.0,1643.7 L1517.7,1645.1 L1519.5,1646.5 L1521.3,1648.0 L1523.1,1649.4 L1524.8,1650.7 L1526.6,1652.1 L1528.4,1653.5 L1530.2,1654.9 L1531.9,1656.3 L1533.7,1657.7 L1535.5,1659.2 L1537.3,1660.7 L1539.0,1662.2 L1540.8,1663.8 L1542.6,1665.5 L1544.4,1667.2 L1546.1,1668.9 L1547.9,1670.6 L1549.7,1672.4 L1551.5,1674.1 L1553.2,1675.8 L1555.0,1677.6 L1556.8,1679.3 L1558.6,1681.0 L1560.3,1682.7 L1562.1,1684.4 L1563.9,1686.1 L1565.7,1687.8 L1567.4,1689.5 L1569.2,1691.1 L1571.0,1692.8 L1572.8,1694.4 L1574.5,1696.0 L1576.3,1697.6 L1578.1,1699.2 L1579.9,1700.7 L1581.7,1702.2 L1583.4,1703.8 L1585.2,1705.3 L1587.0,1706.7 L1588.8,1708.2 L1590.5,1709.6 L1592.3,1711.1 L1594.1,1712.5 L1595.9,1713.9 L1597.6,1715.3 L1599.4,1716.6 L1601.2,1718.0 L1603.0,1719.3 L1604.7,1720.6 L1606.5,1721.9 L1608.3,1723.1 L1610.1,1724.3 L1611.8,1725.4 L1613.6,1726.6 L1615.4,1727.7 L1617.2,1728.7 L1618.9,1729.8 L1620.7,1730.8 L1622.5,1731.8 L1624.3,1732.8 L1626.0,1733.8 L1627.8,1734.8 L1629.6,1735.8 L1631.4,1736.7 L1633.1,1737.7 L1634.9,1738.6 L1636.7,1739.5 L1638.5,1740.4 L1640.2,1741.3 L1642.0,1742.2 L1643.8,1743.0 L1645.6,1743.7 L1647.3,1744.5 L1649.1,1745.2 L1650.9,1746.0 L1652.7,1746.7 L1654.4,1747.4 L1656.2,1748.0 L1658.0,1748.7 L1659.8,1749.3 L1661.5,1749.9 L1663.3,1750.4 L1665.1,1751.0 L1666.9,1751.5 L1668.6,1752.0 L1670.4,1752.5 L1672.2,1753.0 L1674.0,1753.5 L1675.8,1754.0 L1677.5,1754.4 L1679.3,1754.8 L1681.1,1755.2 L1682.9,1755.6 L1684.6,1756.0 L1686.4,1756.4 L1688.2,1756.8 L1690.0,1757.2 L1691.7,1757.5 L1693.5,1757.8 L1695.3,1758.2 L1697.1,1758.5 L1698.8,1758.8 L1700.6,1759.0 L1702.4,1759.3 L1704.2,1759.5 L1705.9,1759.8 L1707.7,1760.0 L1709.5,1760.3 L1711.3,1760.5 L1713.0,1760.7 L1714.8,1760.9 L1716.6,1761.0 L1718.4,1761.2 L1720.1,1761.4 L1721.9,1761.5 L1723.7,1761.7 L1725.5,1761.8 L1727.2,1762.0 L1729.0,1762.1 L1730.8,1762.2 L1732.6,1762.3 L1734.3,1762.5 L1736.1,1762.6 L1737.9,1762.7 L1739.7,1762.8 L1741.4,1762.9 L1743.2,1763.0 L1745.0,1763.2 L1746.8,1763.3 L1748.5,1763.4 L1750.3,1763.5 L1752.1,1763.6 L1753.9,1763.7 L1755.6,1763.8 L1757.4,1763.9 L1759.2,1764.0 L1761.0,1764.1 L1762.8,1764.2 L1764.5,1764.3 L1766.3,1764.4 L1768.1,1764.4 L1769.9,1764.5 L1771.6,1764.6 L1773.4,1764.6 L1775.2,1764.6 L1777.0,1764.7 L1778.7,1764.7 L1780.5,1764.8 L1782.3,1764.8 L1784.1,1764.8 L1785.8,1764.9 L1787.6,1764.9 L1789.4,1764.9 L1791.2,1765.0 L1792.9,1765.0 L1794.7,1765.0 L1796.5,1765.0 L1798.3,1765.1 L1800.0,1765.1 L1801.8,1765.1 L1803.6,1765.1 L1805.4,1765.2 L1807.1,1765.2 L1808.9,1765.2 L1810.7,1765.2 L1812.5,1765.2 L1814.2,1765.2 L1816.0,1765.3 L1817.8,1765.3 L1819.6,1765.3 L1821.3,1765.3 L1823.1,1765.3 L1824.9,1765.3 L1826.7,1765.3 L1828.4,1765.3 L1830.2,1765.3 L1832.0,1765.3 L1833.8,1765.3 L1835.5,1765.3 L1837.3,1765.3 L1839.1,1765.3 L1840.9,1765.3 L1842.6,1765.3 L1844.4,1765.3 L1846.2,1765.3 L1848.0,1765.3 L1849.8,1765.3 L1851.5,1765.3 L1853.3,1765.3 L1855.1,1765.3 L1856.9,1765.3 L1858.6,1765.3 L1860.4,1765.3 L1862.2,1765.3 L1864.0,1765.3 L1865.7,1765.3 L1867.5,1765.3 L1869.3,1765.3 L1871.1,1765.3 L1872.8,1765.3 L1874.6,1765.3 L1876.4,1765.3 L1878.2,1765.3 L1879.9,1765.3 L1881.7,1765.3 L1883.5,1765.3 L1885.3,1765.3 L1887.0,1765.3 L1888.8,1765.3 L1890.6,1765.3 L1892.4,1765.3 L1894.1,1765.3 L1895.9,1765.3 L1897.7,1765.3 L1899.5,1765.3 L1901.2,1765.3 L1903.0,1765.3 L1904.8,1765.3 L1906.6,1765.3 L1908.3,1765.3 L1910.1,1765.3 L1911.9,1765.3 L1913.7,1765.3 L1915.4,1765.3 L1917.2,1765.3 L1919.0,1765.3 L1920.8,1765.3 L1922.5,1765.3 L1924.3,1765.3 L1926.1,1765.3 L1927.9,1765.3 L1929.6,1765.3 L1931.4,1765.3 L1933.2,1765.3 L1935.0,1765.3 L1936.8,1765.3" stroke="#fff" stroke-width="1.10"/></g>
<rect x="1599.60" y="1237.10" width="322.70" height="133.80" rx="5" ry="5" fill="#fff" fill-opacity="0.85" stroke="#d0d0d0" stroke-width="2.2"/>
<line x1="1611.2" y1="1259.50" x2="1670.8" y2="1259.50" stroke="#e8827d" stroke-width="1.7"/>
<text x="1693.30" y="1269.80" font-size="29.17" text-anchor="start" word-spacing="6">Thickness score</text>
<line x1="1611.2" y1="1301.05" x2="1670.8" y2="1301.05" stroke="#efa093" stroke-width="1.7"/>
<text x="1693.30" y="1311.35" font-size="29.17" text-anchor="start" word-spacing="6">Depth score</text>
<line x1="1611.2" y1="1342.60" x2="1670.8" y2="1342.60" stroke="#8cc3d2" stroke-width="1.7"/>
<text x="1693.30" y="1352.90" font-size="29.17" text-anchor="start" word-spacing="6">Final score</text>
<line x1="1386.35" y1="1765.30" x2="1386.35" y2="1222.70" stroke="#262626" stroke-opacity="0.55" stroke-width="3.7" stroke-dasharray="14.2 7" clip-path="url(#cp21)"/>
<line x1="1385.27" y1="1765.30" x2="1385.27" y2="1222.70" stroke="#262626" stroke-opacity="0.55" stroke-width="3.7" stroke-dasharray="14.2 7" clip-path="url(#cp21)"/>
<g clip-path="url(#cp21)" fill="none" stroke-linecap="round" stroke-linejoin="round"><path d="M1066.8,1290.0 L1075.4,1300.8 L1084.0,1311.6 L1092.6,1322.3 L1101.2,1332.9 L1109.8,1343.5 L1118.4,1354.0 L1127.0,1364.4 L1135.6,1374.7 L1144.2,1384.9 L1152.8,1395.0 L1161.4,1405.0 L1170.1,1414.9 L1178.7,1424.7 L1187.3,1434.3 L1195.9,1443.8 L1204.5,1453.2 L1213.1,1462.4 L1221.7,1471.4 L1230.3,1480.3 L1238.9,1489.0 L1247.5,1497.6 L1256.1,1505.9 L1264.8,1514.0 L1273.4,1521.9 L1282.0,1529.6 L1290.6,1537.0 L1299.2,1544.2 L1307.8,1551.1 L1316.4,1557.8 L1325.0,1564.1 L1333.6,1570.2 L1342.2,1576.0 L1350.8,1581.5 L1359.4,1586.6 L1368.1,1591.4 L1376.7,1595.9 L1385.3,1600.1 L1393.9,1543.1 L1402.5,1535.1 L1411.1,1526.6 L1419.7,1517.9 L1428.3,1508.7 L1436.9,1499.2 L1445.5,1489.4 L1454.1,1479.2 L1462.7,1468.6 L1471.4,1457.8 L1480.0,1446.6 L1488.6,1435.1 L1497.2,1423.3 L1505.8,1411.3 L1514.4,1398.9 L1523.0,1386.3 L1531.6,1373.4 L1540.2,1360.4 L1548.8,1347.0 L1557.4,1333.5 L1566.0,1319.9 L1574.7,1306.0 L1583.3,1292.0 L1591.9,1277.9 L1600.5,1263.7 L1609.1,1249.3 L1617.7,1234.9 L1626.3,1220.4 L1634.9,1205.8 L1643.5,1191.2 L1652.1,1176.5 L1660.7,1161.8 L1669.3,1147.1 L1678.0,1132.3 L1686.6,1117.5 L1695.2,1102.7 L1703.8,1087.8 L1712.4,1073.0 L1721.0,1058.1 L1729.6,1043.3 L1738.2,1028.4 L1746.8,1013.5 L1755.4,998.6 L1764.0,983.8 L1772.7,968.9 L1781.3,954.0 L1789.9,939.1 L1798.5,924.2 L1807.1,909.3 L1815.7,894.4 L1824.3,879.6 L1832.9,864.7 L1841.5,849.8 L1850.1,834.9 L1858.7,820.0 L1867.3,805.1 L1876.0,790.2 L1884.6,775.3 L1893.2,760.4 L1901.8,745.5 L1910.4,730.7 L1919.0,715.8" stroke="#fff" stroke-width="8.6"/><path d="M1066.8,1290.0 L1075.4,1300.8 L1084.0,1311.6 L1092.6,1322.3 L1101.2,1332.9 L1109.8,1343.5 L1118.4,1354.0 L1127.0,1364.4 L1135.6,1374.7 L1144.2,1384.9 L1152.8,1395.0 L1161.4,1405.0 L1170.1,1414.9 L1178.7,1424.7 L1187.3,1434.3 L1195.9,1443.8 L1204.5,1453.2 L1213.1,1462.4 L1221.7,1471.4 L1230.3,1480.3 L1238.9,1489.0 L1247.5,1497.6 L1256.1,1505.9 L1264.8,1514.0 L1273.4,1521.9 L1282.0,1529.6 L1290.6,1537.0 L1299.2,1544.2 L1307.8,1551.1 L1316.4,1557.8 L1325.0,1564.1 L1333.6,1570.2 L1342.2,1576.0 L1350.8,1581.5 L1359.4,1586.6 L1368.1,1591.4 L1376.7,1595.9 L1385.3,1600.1 L1393.9,1543.1 L1402.5,1535.1 L1411.1,1526.6 L1419.7,1517.9 L1428.3,1508.7 L1436.9,1499.2 L1445.5,1489.4 L1454.1,1479.2 L1462.7,1468.6 L1471.4,1457.8 L1480.0,1446.6 L1488.6,1435.1 L1497.2,1423.3 L1505.8,1411.3 L1514.4,1398.9 L1523.0,1386.3 L1531.6,1373.4 L1540.2,1360.4 L1548.8,1347.0 L1557.4,1333.5 L1566.0,1319.9 L1574.7,1306.0 L1583.3,1292.0 L1591.9,1277.9 L1600.5,1263.7 L1609.1,1249.3 L1617.7,1234.9 L1626.3,1220.4 L1634.9,1205.8 L1643.5,1191.2 L1652.1,1176.5 L1660.7,1161.8 L1669.3,1147.1 L1678.0,1132.3 L1686.6,1117.5 L1695.2,1102.7 L1703.8,1087.8 L1712.4,1073.0 L1721.0,1058.1 L1729.6,1043.3 L1738.2,1028.4 L1746.8,1013.5 L1755.4,998.6 L1764.0,983.8 L1772.7,968.9 L1781.3,954.0 L1789.9,939.1 L1798.5,924.2 L1807.1,909.3 L1815.7,894.4 L1824.3,879.6 L1832.9,864.7 L1841.5,849.8 L1850.1,834.9 L1858.7,820.0 L1867.3,805.1 L1876.0,790.2 L1884.6,775.3 L1893.2,760.4 L1901.8,745.5 L1910.4,730.7 L1919.0,715.8" stroke="#405d4e" stroke-width="5.1"/></g>
<g clip-path="url(#cp21)" fill="none" stroke-linecap="round" stroke-linejoin="round"><path d="M1066.8,711.7 L1075.4,736.6 L1084.0,761.4 L1092.6,786.2 L1101.2,810.9 L1109.8,835.5 L1118.4,860.0 L1127.0,884.4 L1135.6,908.8 L1144.2,933.0 L1152.8,957.1 L1161.4,981.1 L1170.1,1005.0 L1178.7,1028.7 L1187.3,1052.3 L1195.9,1075.8 L1204.5,1099.1 L1213.1,1122.2 L1221.7,1145.1 L1230.3,1167.9 L1238.9,1190.4 L1247.5,1212.8 L1256.1,1234.9 L1264.8,1256.8 L1273.4,1278.5 L1282.0,1299.9 L1290.6,1321.1 L1299.2,1341.9 L1307.8,1362.5 L1316.4,1382.8 L1325.0,1402.8 L1333.6,1422.5 L1342.2,1441.8 L1350.8,1460.8 L1359.4,1479.4 L1368.1,1497.7 L1376.7,1515.6 L1385.3,1533.1 L1393.9,1647.7 L1402.5,1652.2 L1411.1,1656.4 L1419.7,1660.2 L1428.3,1663.5 L1436.9,1666.5 L1445.5,1669.1 L1454.1,1671.3 L1462.7,1673.2 L1471.4,1674.6 L1480.0,1675.8 L1488.6,1676.5 L1497.2,1677.0 L1505.8,1677.1 L1514.4,1676.9 L1523.0,1676.5 L1531.6,1675.8 L1540.2,1674.8 L1548.8,1673.5 L1557.4,1672.1 L1566.0,1670.5 L1574.7,1668.6 L1583.3,1666.6 L1591.9,1664.5 L1600.5,1662.3 L1609.1,1659.9 L1617.7,1657.4 L1626.3,1654.9 L1634.9,1652.2 L1643.5,1649.5 L1652.1,1646.8 L1660.7,1644.0 L1669.3,1641.2 L1678.0,1638.3 L1686.6,1635.5 L1695.2,1632.6 L1703.8,1629.7 L1712.4,1626.7 L1721.0,1623.8 L1729.6,1620.8 L1738.2,1617.9 L1746.8,1614.9 L1755.4,1612.0 L1764.0,1609.0 L1772.7,1606.0 L1781.3,1603.0 L1789.9,1600.1 L1798.5,1597.1 L1807.1,1594.1 L1815.7,1591.1 L1824.3,1588.2 L1832.9,1585.2 L1841.5,1582.2 L1850.1,1579.2 L1858.7,1576.2 L1867.3,1573.3 L1876.0,1570.3 L1884.6,1567.3 L1893.2,1564.3 L1901.8,1561.3 L1910.4,1558.4 L1919.0,1555.4" stroke="#fff" stroke-width="8.6"/><path d="M1066.8,711.7 L1075.4,736.6 L1084.0,761.4 L1092.6,786.2 L1101.2,810.9 L1109.8,835.5 L1118.4,860.0 L1127.0,884.4 L1135.6,908.8 L1144.2,933.0 L1152.8,957.1 L1161.4,981.1 L1170.1,1005.0 L1178.7,1028.7 L1187.3,1052.3 L1195.9,1075.8 L1204.5,1099.1 L1213.1,1122.2 L1221.7,1145.1 L1230.3,1167.9 L1238.9,1190.4 L1247.5,1212.8 L1256.1,1234.9 L1264.8,1256.8 L1273.4,1278.5 L1282.0,1299.9 L1290.6,1321.1 L1299.2,1341.9 L1307.8,1362.5 L1316.4,1382.8 L1325.0,1402.8 L1333.6,1422.5 L1342.2,1441.8 L1350.8,1460.8 L1359.4,1479.4 L1368.1,1497.7 L1376.7,1515.6 L1385.3,1533.1 L1393.9,1647.7 L1402.5,1652.2 L1411.1,1656.4 L1419.7,1660.2 L1428.3,1663.5 L1436.9,1666.5 L1445.5,1669.1 L1454.1,1671.3 L1462.7,1673.2 L1471.4,1674.6 L1480.0,1675.8 L1488.6,1676.5 L1497.2,1677.0 L1505.8,1677.1 L1514.4,1676.9 L1523.0,1676.5 L1531.6,1675.8 L1540.2,1674.8 L1548.8,1673.5 L1557.4,1672.1 L1566.0,1670.5 L1574.7,1668.6 L1583.3,1666.6 L1591.9,1664.5 L1600.5,1662.3 L1609.1,1659.9 L1617.7,1657.4 L1626.3,1654.9 L1634.9,1652.2 L1643.5,1649.5 L1652.1,1646.8 L1660.7,1644.0 L1669.3,1641.2 L1678.0,1638.3 L1686.6,1635.5 L1695.2,1632.6 L1703.8,1629.7 L1712.4,1626.7 L1721.0,1623.8 L1729.6,1620.8 L1738.2,1617.9 L1746.8,1614.9 L1755.4,1612.0 L1764.0,1609.0 L1772.7,1606.0 L1781.3,1603.0 L1789.9,1600.1 L1798.5,1597.1 L1807.1,1594.1 L1815.7,1591.1 L1824.3,1588.2 L1832.9,1585.2 L1841.5,1582.2 L1850.1,1579.2 L1858.7,1576.2 L1867.3,1573.3 L1876.0,1570.3 L1884.6,1567.3 L1893.2,1564.3 L1901.8,1561.3 L1910.4,1558.4 L1919.0,1555.4" stroke="#456cb1" stroke-width="5.1"/></g>
<g clip-path="url(#cp21)" fill="none" stroke-linecap="round" stroke-linejoin="round"><path d="M1066.8,1532.1 L1075.4,1535.4 L1084.0,1538.5 L1092.6,1541.4 L1101.2,1544.1 L1109.8,1546.6 L1118.4,1548.9 L1127.0,1550.9 L1135.6,1552.7 L1144.2,1554.1 L1152.8,1555.3 L1161.4,1556.1 L1170.1,1556.7 L1178.7,1556.8 L1187.3,1556.6 L1195.9,1555.9 L1204.5,1554.9 L1213.1,1553.4 L1221.7,1551.4 L1230.3,1548.9 L1238.9,1545.9 L1247.5,1542.3 L1256.1,1538.1 L1264.8,1533.4 L1273.4,1527.9 L1282.0,1521.8 L1290.6,1515.0 L1299.2,1507.4 L1307.8,1499.1 L1316.4,1490.0 L1325.0,1480.0 L1333.6,1469.2 L1342.2,1457.4 L1350.8,1444.8 L1359.4,1431.2 L1368.1,1416.6 L1376.7,1401.0 L1385.3,1384.4 L1393.9,818.2 L1402.5,764.0 L1411.1,708.8 L1419.7,652.5 L1428.3,595.1 L1436.9,536.7 L1445.5,477.3 L1454.1,416.8 L1462.7,355.4 L1471.4,292.9 L1480.0,229.5 L1488.6,165.2 L1497.2,100.0 L1505.8,33.9 L1514.4,-33.0 L1523.0,-100.6 L1531.6,-169.0 L1540.2,-238.1 L1548.8,-307.8 L1557.4,-378.1 L1566.0,-449.0 L1574.7,-520.3 L1583.3,-592.1 L1591.9,-664.3 L1600.5,-736.8 L1609.1,-809.6 L1617.7,-882.7 L1626.3,-956.0 L1634.9,-1029.5 L1643.5,-1103.1 L1652.1,-1176.9 L1660.7,-1250.9 L1669.3,-1324.9 L1678.0,-1399.0 L1686.6,-1473.2 L1695.2,-1547.4 L1703.8,-1621.7 L1712.4,-1696.0 L1721.0,-1770.3 L1729.6,-1844.7 L1738.2,-1919.1 L1746.8,-1993.5 L1755.4,-2067.9 L1764.0,-2142.3 L1772.7,-2216.8 L1781.3,-2291.2 L1789.9,-2365.7 L1798.5,-2440.1 L1807.1,-2514.5 L1815.7,-2589.0 L1824.3,-2663.4 L1832.9,-2737.9 L1841.5,-2812.3 L1850.1,-2886.8 L1858.7,-2961.2 L1867.3,-3035.7 L1876.0,-3110.1 L1884.6,-3184.6 L1893.2,-3259.0 L1901.8,-3333.5 L1910.4,-3407.9 L1919.0,-3482.3" stroke="#fff" stroke-width="8.6"/><path d="M1066.8,1532.1 L1075.4,1535.4 L1084.0,1538.5 L1092.6,1541.4 L1101.2,1544.1 L1109.8,1546.6 L1118.4,1548.9 L1127.0,1550.9 L1135.6,1552.7 L1144.2,1554.1 L1152.8,1555.3 L1161.4,1556.1 L1170.1,1556.7 L1178.7,1556.8 L1187.3,1556.6 L1195.9,1555.9 L1204.5,1554.9 L1213.1,1553.4 L1221.7,1551.4 L1230.3,1548.9 L1238.9,1545.9 L1247.5,1542.3 L1256.1,1538.1 L1264.8,1533.4 L1273.4,1527.9 L1282.0,1521.8 L1290.6,1515.0 L1299.2,1507.4 L1307.8,1499.1 L1316.4,1490.0 L1325.0,1480.0 L1333.6,1469.2 L1342.2,1457.4 L1350.8,1444.8 L1359.4,1431.2 L1368.1,1416.6 L1376.7,1401.0 L1385.3,1384.4 L1393.9,818.2 L1402.5,764.0 L1411.1,708.8 L1419.7,652.5 L1428.3,595.1 L1436.9,536.7 L1445.5,477.3 L1454.1,416.8 L1462.7,355.4 L1471.4,292.9 L1480.0,229.5 L1488.6,165.2 L1497.2,100.0 L1505.8,33.9 L1514.4,-33.0 L1523.0,-100.6 L1531.6,-169.0 L1540.2,-238.1 L1548.8,-307.8 L1557.4,-378.1 L1566.0,-449.0 L1574.7,-520.3 L1583.3,-592.1 L1591.9,-664.3 L1600.5,-736.8 L1609.1,-809.6 L1617.7,-882.7 L1626.3,-956.0 L1634.9,-1029.5 L1643.5,-1103.1 L1652.1,-1176.9 L1660.7,-1250.9 L1669.3,-1324.9 L1678.0,-1399.0 L1686.6,-1473.2 L1695.2,-1547.4 L1703.8,-1621.7 L1712.4,-1696.0 L1721.0,-1770.3 L1729.6,-1844.7 L1738.2,-1919.1 L1746.8,-1993.5 L1755.4,-2067.9 L1764.0,-2142.3 L1772.7,-2216.8 L1781.3,-2291.2 L1789.9,-2365.7 L1798.5,-2440.1 L1807.1,-2514.5 L1815.7,-2589.0 L1824.3,-2663.4 L1832.9,-2737.9 L1841.5,-2812.3 L1850.1,-2886.8 L1858.7,-2961.2 L1867.3,-3035.7 L1876.0,-3110.1 L1884.6,-3184.6 L1893.2,-3259.0 L1901.8,-3333.5 L1910.4,-3407.9 L1919.0,-3482.3" stroke="#dd8350" stroke-width="5.1"/></g>
<circle cx="1178.67" cy="1765.30" r="16" fill="orange" clip-path="url(#cp21)"/>
<circle cx="1385.27" cy="1765.30" r="16" fill="#48625a" clip-path="url(#cp21)"/>
<circle cx="1505.79" cy="1765.30" r="16" fill="#4c72b0" clip-path="url(#cp21)"/>
<rect x="1049.00" y="1222.70" width="887.75" height="542.60" fill="none" stroke="#262626" stroke-width="3.5"/>
<rect x="859.00" y="43.10" width="167.70" height="50.30" rx="5" ry="5" fill="#fff" fill-opacity="1.00" stroke="#d0d0d0" stroke-width="2.2"/>
<line x1="872" y1="65.7" x2="928.6" y2="65.7" stroke="#405d4e" stroke-width="5.5" stroke-linecap="round"/>
<text x="951.90" y="76.00" font-size="29.17" text-anchor="start" >Loss</text>
<rect x="1064.10" y="43.10" width="294.10" height="216.20" rx="5" ry="5" fill="#fff" fill-opacity="1.00" stroke="#d0d0d0" stroke-width="2.2"/>
<line x1="1076.8" y1="65.90" x2="1133.4" y2="65.90" stroke="#405d4e" stroke-width="5.5" stroke-linecap="round"/>
<text x="1157.90" y="76.20" font-size="29.17" text-anchor="start" word-spacing="5.9">Risk neutral</text>
<line x1="1075.5" y1="107.30" x2="1134.5" y2="107.30" stroke="#3d68b4" stroke-width="2.6" stroke-dasharray="9.8 4.3"/>
<text x="1157.90" y="117.60" font-size="29.17" text-anchor="start" word-spacing="6">Underest.</text>
<line x1="1075.5" y1="148.70" x2="1134.5" y2="148.70" stroke="#de7a3c" stroke-width="2.6" stroke-dasharray="9.8 4.3"/>
<text x="1157.90" y="159.00" font-size="29.17" text-anchor="start" word-spacing="7.4">Crit. underest.</text>
<line x1="1075.5" y1="190.10" x2="1134.5" y2="190.10" stroke="#4ca85f" stroke-width="2.6" stroke-dasharray="9.8 4.3"/>
<text x="1157.90" y="200.40" font-size="29.17" text-anchor="start" word-spacing="6">Overest.</text>
<line x1="1075.5" y1="231.50" x2="1134.5" y2="231.50" stroke="#c4404a" stroke-width="2.6" stroke-dasharray="9.8 4.3"/>
<text x="1157.90" y="241.80" font-size="29.17" text-anchor="start" word-spacing="8">Crit. overest.</text>
<rect x="168.00" y="640.30" width="275.30" height="133.40" rx="5" ry="5" fill="#fff" fill-opacity="1.00" stroke="#d0d0d0" stroke-width="2.2"/>
<line x1="180.5" y1="662.80" x2="238.4" y2="662.80" stroke="#405d4e" stroke-width="5.5" stroke-linecap="round"/>
<text x="262.20" y="673.10" font-size="29.17" text-anchor="start" word-spacing="5.8">Risk neutral</text>
<line x1="180.5" y1="704.35" x2="238.4" y2="704.35" stroke="#456cb1" stroke-width="5.5" stroke-linecap="round"/>
<text x="262.20" y="714.65" font-size="29.17" text-anchor="start" word-spacing="8.3">Risk friendly</text>
<line x1="180.5" y1="745.90" x2="238.4" y2="745.90" stroke="#dd8350" stroke-width="5.5" stroke-linecap="round"/>
<text x="262.20" y="756.20" font-size="29.17" text-anchor="start" word-spacing="2.8">Risk averse</text>
<line x1="138.05" y1="571.20" x2="153.85" y2="571.20" stroke="#262626" stroke-width="3.3"/>
<text x="113.60" y="581.55" font-size="29.17" text-anchor="end" >0.00</text>
<line x1="138.05" y1="503.38" x2="153.85" y2="503.38" stroke="#262626" stroke-width="3.3"/>
<text x="113.60" y="513.73" font-size="29.17" text-anchor="end" >0.02</text>
<line x1="138.05" y1="435.55" x2="153.85" y2="435.55" stroke="#262626" stroke-width="3.3"/>
<text x="113.60" y="445.90" font-size="29.17" text-anchor="end" >0.04</text>
<line x1="138.05" y1="367.73" x2="153.85" y2="367.73" stroke="#262626" stroke-width="3.3"/>
<text x="113.60" y="378.08" font-size="29.17" text-anchor="end" >0.06</text>
<line x1="138.05" y1="299.90" x2="153.85" y2="299.90" stroke="#262626" stroke-width="3.3"/>
<text x="113.60" y="310.25" font-size="29.17" text-anchor="end" >0.08</text>
<line x1="138.05" y1="232.08" x2="153.85" y2="232.08" stroke="#262626" stroke-width="3.3"/>
<text x="113.60" y="242.43" font-size="29.17" text-anchor="end" >0.10</text>
<line x1="138.05" y1="164.25" x2="153.85" y2="164.25" stroke="#262626" stroke-width="3.3"/>
<text x="113.60" y="174.60" font-size="29.17" text-anchor="end" >0.12</text>
<line x1="138.05" y1="96.42" x2="153.85" y2="96.42" stroke="#262626" stroke-width="3.3"/>
<text x="113.60" y="106.77" font-size="29.17" text-anchor="end" >0.14</text>
<line x1="138.05" y1="28.60" x2="153.85" y2="28.60" stroke="#262626" stroke-width="3.3"/>
<text x="113.60" y="38.95" font-size="29.17" text-anchor="end" >0.16</text>
<text transform="translate(39.8 299.90) rotate(-90)" font-size="32" text-anchor="middle">Likelihood</text>
<text x="1976.20" y="581.55" font-size="29.17" text-anchor="start" >0</text>
<text x="1976.20" y="513.73" font-size="29.17" text-anchor="start" >5</text>
<text x="1976.20" y="445.90" font-size="29.17" text-anchor="start" >10</text>
<text x="1976.20" y="378.08" font-size="29.17" text-anchor="start" >15</text>
<text x="1976.20" y="310.25" font-size="29.17" text-anchor="start" >20</text>
<text x="1976.20" y="242.43" font-size="29.17" text-anchor="start" >25</text>
<text x="1976.20" y="174.60" font-size="29.17" text-anchor="start" >30</text>
<text x="1976.20" y="106.78" font-size="29.17" text-anchor="start" >35</text>
<text x="1976.20" y="38.95" font-size="29.17" text-anchor="start" >40</text>
<text transform="translate(2042.7 299.90) rotate(-90)" font-size="32" text-anchor="middle" word-spacing="9.5">Expected loss</text>
<line x1="138.05" y1="1168.30" x2="153.85" y2="1168.30" stroke="#262626" stroke-width="3.3"/>
<text x="113.60" y="1178.65" font-size="29.17" text-anchor="end" >0.00</text>
<line x1="138.05" y1="1100.44" x2="153.85" y2="1100.44" stroke="#262626" stroke-width="3.3"/>
<text x="113.60" y="1110.79" font-size="29.17" text-anchor="end" >0.02</text>
<line x1="138.05" y1="1032.58" x2="153.85" y2="1032.58" stroke="#262626" stroke-width="3.3"/>
<text x="113.60" y="1042.92" font-size="29.17" text-anchor="end" >0.04</text>
<line x1="138.05" y1="964.71" x2="153.85" y2="964.71" stroke="#262626" stroke-width="3.3"/>
<text x="113.60" y="975.06" font-size="29.17" text-anchor="end" >0.06</text>
<line x1="138.05" y1="896.85" x2="153.85" y2="896.85" stroke="#262626" stroke-width="3.3"/>
<text x="113.60" y="907.20" font-size="29.17" text-anchor="end" >0.08</text>
<line x1="138.05" y1="828.99" x2="153.85" y2="828.99" stroke="#262626" stroke-width="3.3"/>
<text x="113.60" y="839.34" font-size="29.17" text-anchor="end" >0.10</text>
<line x1="138.05" y1="761.12" x2="153.85" y2="761.12" stroke="#262626" stroke-width="3.3"/>
<text x="113.60" y="771.48" font-size="29.17" text-anchor="end" >0.12</text>
<line x1="138.05" y1="693.26" x2="153.85" y2="693.26" stroke="#262626" stroke-width="3.3"/>
<text x="113.60" y="703.61" font-size="29.17" text-anchor="end" >0.14</text>
<line x1="138.05" y1="625.40" x2="153.85" y2="625.40" stroke="#262626" stroke-width="3.3"/>
<text x="113.60" y="635.75" font-size="29.17" text-anchor="end" >0.16</text>
<text transform="translate(39.8 896.85) rotate(-90)" font-size="32" text-anchor="middle">Likelihood</text>
<text x="1976.20" y="1178.65" font-size="29.17" text-anchor="start" >0</text>
<text x="1976.20" y="1110.79" font-size="29.17" text-anchor="start" >5</text>
<text x="1976.20" y="1042.92" font-size="29.17" text-anchor="start" >10</text>
<text x="1976.20" y="975.06" font-size="29.17" text-anchor="start" >15</text>
<text x="1976.20" y="907.20" font-size="29.17" text-anchor="start" >20</text>
<text x="1976.20" y="839.34" font-size="29.17" text-anchor="start" >25</text>
<text x="1976.20" y="771.48" font-size="29.17" text-anchor="start" >30</text>
<text x="1976.20" y="703.61" font-size="29.17" text-anchor="start" >35</text>
<text x="1976.20" y="635.75" font-size="29.17" text-anchor="start" >40</text>
<text transform="translate(2042.7 896.85) rotate(-90)" font-size="32" text-anchor="middle" word-spacing="9.5">Expected loss</text>
<line x1="138.05" y1="1765.30" x2="153.85" y2="1765.30" stroke="#262626" stroke-width="3.3"/>
<text x="113.60" y="1775.65" font-size="29.17" text-anchor="end" >0.00</text>
<line x1="138.05" y1="1697.47" x2="153.85" y2="1697.47" stroke="#262626" stroke-width="3.3"/>
<text x="113.60" y="1707.82" font-size="29.17" text-anchor="end" >0.02</text>
<line x1="138.05" y1="1629.65" x2="153.85" y2="1629.65" stroke="#262626" stroke-width="3.3"/>
<text x="113.60" y="1640.00" font-size="29.17" text-anchor="end" >0.04</text>
<line x1="138.05" y1="1561.83" x2="153.85" y2="1561.83" stroke="#262626" stroke-width="3.3"/>
<text x="113.60" y="1572.17" font-size="29.17" text-anchor="end" >0.06</text>
<line x1="138.05" y1="1494.00" x2="153.85" y2="1494.00" stroke="#262626" stroke-width="3.3"/>
<text x="113.60" y="1504.35" font-size="29.17" text-anchor="end" >0.08</text>
<line x1="138.05" y1="1426.17" x2="153.85" y2="1426.17" stroke="#262626" stroke-width="3.3"/>
<text x="113.60" y="1436.52" font-size="29.17" text-anchor="end" >0.10</text>
<line x1="138.05" y1="1358.35" x2="153.85" y2="1358.35" stroke="#262626" stroke-width="3.3"/>
<text x="113.60" y="1368.70" font-size="29.17" text-anchor="end" >0.12</text>
<line x1="138.05" y1="1290.53" x2="153.85" y2="1290.53" stroke="#262626" stroke-width="3.3"/>
<text x="113.60" y="1300.88" font-size="29.17" text-anchor="end" >0.14</text>
<line x1="138.05" y1="1222.70" x2="153.85" y2="1222.70" stroke="#262626" stroke-width="3.3"/>
<text x="113.60" y="1233.05" font-size="29.17" text-anchor="end" >0.16</text>
<text transform="translate(39.8 1494.00) rotate(-90)" font-size="32" text-anchor="middle">Likelihood</text>
<text x="1976.20" y="1775.65" font-size="29.17" text-anchor="start" >0</text>
<text x="1976.20" y="1707.82" font-size="29.17" text-anchor="start" >5</text>
<text x="1976.20" y="1640.00" font-size="29.17" text-anchor="start" >10</text>
<text x="1976.20" y="1572.17" font-size="29.17" text-anchor="start" >15</text>
<text x="1976.20" y="1504.35" font-size="29.17" text-anchor="start" >20</text>
<text x="1976.20" y="1436.52" font-size="29.17" text-anchor="start" >25</text>
<text x="1976.20" y="1368.70" font-size="29.17" text-anchor="start" >30</text>
<text x="1976.20" y="1300.88" font-size="29.17" text-anchor="start" >35</text>
<text x="1976.20" y="1233.05" font-size="29.17" text-anchor="start" >40</text>
<text transform="translate(2042.7 1494.00) rotate(-90)" font-size="32" text-anchor="middle" word-spacing="9.5">Expected loss</text>
<text x="313.52" y="1826.30" font-size="29.17" text-anchor="middle" >−10</text>
<text x="490.93" y="1826.30" font-size="29.17" text-anchor="middle" >0</text>
<text x="668.34" y="1826.30" font-size="29.17" text-anchor="middle" >10</text>
<text x="845.75" y="1826.30" font-size="29.17" text-anchor="middle" >20</text>
<text x="1023.16" y="1826.30" font-size="29.17" text-anchor="middle" >30</text>
<text x="597.38" y="1865.60" font-size="32.00" text-anchor="middle" >Score</text>
<text x="1208.80" y="1826.30" font-size="29.17" text-anchor="middle" >−10</text>
<text x="1386.35" y="1826.30" font-size="29.17" text-anchor="middle" >0</text>
<text x="1563.89" y="1826.30" font-size="29.17" text-anchor="middle" >10</text>
<text x="1741.45" y="1826.30" font-size="29.17" text-anchor="middle" >20</text>
<text x="1918.99" y="1826.30" font-size="29.17" text-anchor="middle" >30</text>
<text x="1492.88" y="1865.60" font-size="32.00" text-anchor="middle" >Score</text>
<text x="1034.60" y="552.40" font-size="47.20" text-anchor="end" fill="#000" letter-spacing="0.7">(a)</text>
<text x="1927.80" y="549.10" font-size="47.20" text-anchor="end" fill="#000" letter-spacing="0.7">(b)</text>
<text x="1033.70" y="677.70" font-size="47.20" text-anchor="end" fill="#000" letter-spacing="0.7">(c)</text>
<text x="1927.80" y="687.90" font-size="47.20" text-anchor="end" fill="#000" letter-spacing="0.7">(d)</text>
<text x="1035.00" y="1742.30" font-size="47.20" text-anchor="end" fill="#000" letter-spacing="0.7">(e)</text>
<text x="1927.50" y="1741.90" font-size="47.20" text-anchor="end" fill="#000" letter-spacing="0.7">(f)</text>
</svg>
</body></html>
